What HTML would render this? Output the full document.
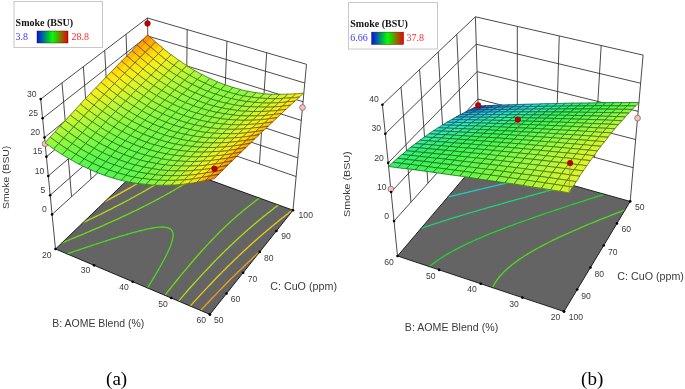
<!DOCTYPE html>
<html><head><meta charset="utf-8"><style>
html,body{margin:0;padding:0;background:#fff;width:685px;height:389px;overflow:hidden}
svg{display:block;will-change:transform}
.t{font-family:"Liberation Sans",sans-serif;fill:#3a3a3a}
.s{font-family:"Liberation Serif",serif}
.m{fill:none;stroke:rgba(5,15,0,0.72);stroke-width:0.65}
</style></head><body>
<svg width="685" height="389" viewBox="0 0 685 389">
<rect width="685" height="389" fill="#fff"/>
<defs>
<linearGradient id="lg" x1="0" x2="1" y1="0" y2="0">
<stop offset="0" stop-color="#0010f0"/><stop offset="0.5" stop-color="#00ff00"/><stop offset="1" stop-color="#f00000"/>
</linearGradient>
</defs>
<g stroke="#2a2a2a" stroke-width="0.85" fill="none"><polyline points="52.08,214.41 149.38,125.96 296.12,176.53"/><polyline points="50.19,195.19 149.05,107.96 297.85,157.83"/><polyline points="48.29,175.97 148.72,89.97 299.58,139.12"/><polyline points="46.39,156.75 148.39,71.98 301.31,120.42"/><polyline points="44.49,137.54 148.06,53.99 303.04,101.71"/><polyline points="42.6,118.32 147.73,35.99 304.77,83.01"/><polyline points="40.7,99.1 147.4,18 306.5,64.3"/><line x1="71.54" y1="196.72" x2="62.04" y2="82.88"/><line x1="91" y1="179.03" x2="83.38" y2="66.66"/><line x1="110.46" y1="161.34" x2="104.72" y2="50.44"/><line x1="129.92" y1="143.65" x2="126.06" y2="34.22"/><line x1="186.07" y1="138.6" x2="187.18" y2="29.57"/><line x1="222.75" y1="151.24" x2="226.95" y2="41.15"/><line x1="259.43" y1="163.89" x2="266.73" y2="52.72"/><line x1="55.5" y1="249" x2="40.7" y2="99.1"/><line x1="149.98" y1="158.34" x2="147.4" y2="18"/><line x1="293" y1="210.2" x2="306.5" y2="64.3"/></g>
<polygon points="55.5,249 209.9,314.4 293,210.2 149.98,158.34" fill="#646464" stroke="none"/>
<path d="M67 253.9 68.8 253.3 70.5 252.7 72.2 252.1 73.5 251.7 74.8 251.2 76.5 250.7 77.7 250.3 79.1 249.8 80.8 249.2 82.6 248.6 83.9 248.2 85.2 247.7 86.9 247.1 88.7 246.6 90 246.1 91.3 245.7 93.1 245.1 94.8 244.5 96.1 244.1 97.5 243.6 99.2 243.1 101 242.5 102.8 241.9 104 241.5 105.4 241 107.2 240.5 109 239.9 110.8 239.3 112.6 238.7 114.4 238.2 115.7 237.8 117.2 237.3 119 236.7 120.9 236.2 122.7 235.6 124.6 235.1 126.4 234.5 128.3 234 130.2 233.4 132.1 232.9 134.1 232.3 135.9 231.8 137.6 231.4 139 231 141 230.5 142.8 230.1 144 229.8 146.1 229.3 147.7 228.9 149.3 228.6 150.9 228.3 152.4 228 153.9 227.8 155.1 227.6 156.4 227.4 157.7 227.3 159 227.2 160.4 227.1 162 227 163.6 227.1 165.9 227.3 168 227.8 169.8 228.6 171.2 229.7 172.2 231.1 172.7 232.3 173 234 173.1 235.4 173 236.7 172.8 237.9 172.6 239.2 172.3 240.4 172 241.6 171.6 242.8 171.2 243.9 170.8 245.1 170.4 246.3 169.9 247.4 169.4 248.5 168.9 249.7 168.4 250.8 167.9 251.9 167.4 253.1 166.8 254.2 166.3 255.3 165.7 256.4 165.1 257.5 164.6 258.6 164 259.7 163.4 260.8 162.8 261.9 162.2 263 161.6 264.1 161 265.2 160.4 266.3 159.8 267.4 159.1 268.5 158.5 269.6 157.9 270.7 157.3 271.7 156.6 272.8 156 273.9 155.3 275 154.7 276.1 154.1 277.1 153.4 278.2 152.7 279.3 152.1 280.4 151.4 281.5 150.8 282.6 150.1 283.6 149.4 284.7 148.8 285.8 148.1 286.9 147.4 287.9" stroke="#4bd920" stroke-width="1.3" fill="none" stroke-linecap="round" stroke-linejoin="round"/>
<path d="M197.2 175.5 196 176.3 194.7 177.1 193.5 178 192.3 178.8 191.1 179.6 189.8 180.4 188.5 181.3 187.2 182.1 185.9 182.9 184.7 183.7 183.4 184.5 182.1 185.3 180.8 186.1 179.5 186.9 178.1 187.7 176.8 188.5 175.5 189.3 174.2 190.1 173 190.8 171.5 191.6 170.2 192.4 168.7 193.2 167.4 193.9 166 194.7 164.7 195.5 163.2 196.3 162 196.9 160.5 197.8 159.4 198.4 157.6 199.3 156.2 200 154.8 200.8 153.4 201.5 152 202.3 150.5 203 149.1 203.8 147.7 204.5 146.5 205.1 144.8 206 143.3 206.7 141.9 207.4 140.4 208.1 138.9 208.9 137.5 209.6 136 210.3 134.5 211 133 211.7 131.6 212.4 130.1 213.2 128.6 213.9 127.1 214.6 125.6 215.3 124.2 215.9 122.6 216.7 121.1 217.4 119.6 218.1 118.1 218.8 116.9 219.3 115.8 219.8 114.5 220.4 112.8 221.2 111.2 221.9 109.7 222.5 108.2 223.2 106.6 223.9 105.1 224.6 103.6 225.3 102.5 225.8 101.3 226.3 100.1 226.8 99 227.3 97.7 227.9 95.9 228.6 94.3 229.3 92.9 229.9 91.2 230.6 89.7 231.3 88.1 232 86.6 232.6 85 233.3 83.5 234 81.9 234.6 80.4 235.3 78.8 235.9 77.2 236.6 75.7 237.2 74.1 237.9 72.5 238.5 71.4 239 70.2 239.5 69 240 67.8 240.5 66.6 241 64.7 241.8 63.1 242.4 61.8 243M164.9 295.3 165.7 294.3 166.5 293.3 167.3 292.2 168.1 291.2 168.9 290.2 169.7 289.2 170.6 288.2 171.4 287.1 172.2 286.1 173 285.1 173.8 284.1 174.6 283 175.5 282 176.3 281 177.1 280 177.9 279 178.8 278 179.6 276.9 180.4 275.9 181.3 274.9 182.1 273.9 182.9 272.9 183.8 271.9 184.6 270.9 185.5 269.9 186.3 268.8 187.2 267.8 188 266.8 188.9 265.8 189.7 264.8 190.6 263.8 191.4 262.8 192.3 261.8 193.2 260.8 194 259.8 194.9 258.8 195.8 257.8 196.6 256.8 197.5 255.8 198.4 254.8 199.3 253.8 200.1 252.8 201 251.8 201.9 250.8 202.8 249.8 203.7 248.9 204.6 247.9 205.5 246.9 206.4 245.9 207.3 244.9 208.3 243.9 209.2 242.9 210.1 242 211 241 211.9 240 212.9 239 213.8 238.1 214.8 237.1 215.7 236.1 216.7 235.1 217.6 234.2 218.6 233.2 219.5 232.3 220.5 231.3 221.5 230.3 222.5 229.4 223.4 228.4 224.4 227.5 225.4 226.5 226.4 225.6 227.4 224.6 228.4 223.7 229.5 222.7 230.5 221.8 231.5 220.8 232.5 219.9 233.6 219 234.6 218 235.7 217.1 236.7 216.2 237.8 215.2 238.9 214.3 240 213.4 241.1 212.5 242.1 211.5 243.3 210.6 244.4 209.7 245.5 208.8 246.6 207.9 247.7 207 248.9 206.1 250 205.2 251.2 204.3 252.3 203.4 253.5 202.5 254.7 201.6 255.8 200.7 257 199.8 258 199.1 259.4 198" stroke="#6ddc14" stroke-width="1.3" fill="none" stroke-linecap="round" stroke-linejoin="round"/>
<path d="M179.9 169.2 178.7 170 177.4 170.8 176.2 171.7 175 172.5 173.7 173.3 172.5 174.1 171.3 174.8 169.9 175.7 168.7 176.5 167.4 177.3 166.1 178.1 164.8 178.9 163.6 179.7 162.3 180.5 161 181.3 159.7 182.1 158.4 182.9 157.1 183.7 155.8 184.5 154.5 185.3 153.1 186 151.8 186.8 150.5 187.6 149.2 188.3 147.8 189.1 146.5 189.9 145.1 190.7 143.8 191.4 142.4 192.2 141.1 193 139.7 193.7 138.4 194.5 137 195.2 135.6 196 134.6 196.6 132.9 197.5 131.7 198.1 130.1 199 128.9 199.7 127.4 200.5 126.1 201.2 124.6 202 123.3 202.6 121.8 203.5 120.5 204.1 119 204.9 117.8 205.5 116.1 206.4 115 206.9 113.3 207.8 111.9 208.6 110.5 209.3 109 210 107.6 210.7 106.2 211.4 104.7 212.2 103.3 212.9 101.8 213.6 100.4 214.3 98.9 215 97.5 215.7 96.2 216.3 94.6 217.1 93.1 217.8 91.7 218.5 90.2 219.2 88.7 219.9 87.3 220.6 85.8 221.3 84.3 222 83 222.6M178.5 301.1 179.4 300.1 180.3 299.1 181.1 298.1 182 297.1 182.9 296.1 183.7 295.1 184.6 294.1 185.5 293.1 186.4 292 187.3 291 188.1 290 189 289 189.9 288 190.8 287 191.7 286 192.6 285 193.5 284 194.4 283 195.3 282 196.2 281.1 197.1 280.1 198 279.1 198.9 278.1 199.8 277.1 200.7 276.1 201.6 275.1 202.5 274.1 203.5 273.1 204.4 272.1 205.3 271.1 206.2 270.2 207.2 269.2 208.1 268.2 209 267.2 210 266.2 210.9 265.2 211.8 264.3 212.8 263.3 213.7 262.3 214.7 261.3 215.6 260.4 216.6 259.4 217.5 258.4 218.5 257.4 219.5 256.5 220.4 255.5 221.4 254.5 222.4 253.5 223.4 252.6 224.3 251.6 225.3 250.6 226.3 249.7 227.3 248.7 228.3 247.8 229.3 246.8 230.3 245.8 231.3 244.9 232.3 243.9 233.3 243 234.3 242 235.4 241.1 236.4 240.1 237.4 239.2 238.4 238.2 239.5 237.3 240.5 236.3 241.6 235.4 242.6 234.4 243.7 233.5 244.7 232.5 245.8 231.6 246.8 230.7 247.9 229.7 249 228.8 250.1 227.9 251.1 226.9 252.2 226 253.3 225.1 254.4 224.1 255.5 223.2 256.6 222.3 257.7 221.3 258.8 220.4 259.9 219.5 261.1 218.6 262.2 217.7 263.3 216.7 264.5 215.8 265.6 214.9 266.7 214 267.9 213.1 269.1 212.2 270.2 211.3 271.4 210.4 272.5 209.4 273.7 208.5 274.9 207.6 276.1 206.7 277.3 205.8 278.5 204.9" stroke="#b2db14" stroke-width="1.3" fill="none" stroke-linecap="round" stroke-linejoin="round"/>
<path d="M167.7 164.8 166.4 165.6 165.2 166.4 163.9 167.2 162.7 168 161.4 168.8 160.2 169.6 158.9 170.4 157.9 171.1 156.4 172 155.1 172.8 153.9 173.6 152.6 174.4 151.3 175.2 150 176 148.7 176.8 147.4 177.5 146.1 178.3 144.8 179.1 143.5 179.9 142.2 180.7 140.9 181.4 139.6 182.2 138.3 183 137 183.8 135.7 184.5 134.3 185.3 133 186.1 131.9 186.7 130.4 187.6 129 188.4 127.7 189.1 126.3 189.9 125 190.6 123.7 191.4 122.3 192.1 120.9 192.9 119.7 193.6 118.2 194.4 116.9 195.1 115.5 195.9 114.1 196.6 112.8 197.4 111.4 198.1 110 198.9 108.6 199.6 107.3 200.3 105.9 201.1 104.9 201.6M190.2 306.1 191.1 305.1 192 304.1 192.9 303.1 193.8 302.1 194.7 301.1 195.6 300.1 196.5 299.1 197.5 298.1 198.4 297.1 199.3 296.1 200.2 295.1 201.1 294.1 202 293.1 203 292.1 203.9 291.1 204.8 290.1 205.7 289.1 206.7 288.1 207.6 287.1 208.5 286.1 209.5 285.2 210.4 284.2 211.4 283.2 212.3 282.2 213.2 281.2 214.2 280.2 215.1 279.3 216.1 278.3 217 277.3 218 276.3 219 275.3 219.9 274.3 220.9 273.4 221.9 272.4 222.8 271.4 223.8 270.4 224.8 269.5 225.8 268.5 226.7 267.5 227.7 266.5 228.7 265.6 229.7 264.6 230.7 263.6 231.7 262.7 232.7 261.7 233.7 260.7 234.7 259.8 235.7 258.8 236.6 257.9 237.7 256.9 238.7 255.9 239.7 254.9 240.7 254 241.8 253 242.8 252.1 243.8 251.1 244.8 250.2 245.9 249.2 246.9 248.3 248 247.3 249 246.3 250 245.4 251.1 244.4 252.1 243.5 253.2 242.5 254.3 241.6 255.3 240.7 256.4 239.7 257.5 238.8 258.5 237.8 259.6 236.9 260.7 235.9 261.8 235 262.9 234.1 264 233.1 265.1 232.2 266.2 231.2 267.3 230.3 268.4 229.4 269.5 228.4 270.6 227.5 271.6 226.6 272.8 225.7 274 224.7 275.1 223.8 276.2 222.9 277.4 222 278.5 221 279.6 220.1 280.8 219.2 281.8 218.3 283.1 217.3 284.3 216.4 285.4 215.5 286.6 214.6 287.8 213.7 288.9 212.8 290.1 211.8 291.2 211 292.5 210" stroke="#e8cc14" stroke-width="1.3" fill="none" stroke-linecap="round" stroke-linejoin="round"/>
<path d="M157.7 161.1 156.4 161.9 155.4 162.6 154 163.5 152.7 164.3 151.4 165.1 150.2 165.9 148.9 166.7 147.7 167.5 146.4 168.3 145.1 169.1 143.8 169.9 142.6 170.7 141.4 171.4 140 172.2 138.7 173 137.4 173.8 136.1 174.6 134.8 175.4 133.5 176.1 132.2 176.9 130.9 177.7 129.6 178.5 128.3 179.2 128 179.4M200.7 310.5 201.6 309.5 202.5 308.5 203.4 307.5 204.3 306.5 205.3 305.5 206.2 304.5 207.1 303.5 208.1 302.5 209 301.5 209.9 300.5 210.9 299.5 211.8 298.5 212.8 297.5 213.7 296.6 214.6 295.6 215.6 294.6 216.5 293.6 217.5 292.6 218.5 291.6 219.4 290.6 220.4 289.6 221.3 288.7 222.3 287.7 223.3 286.7 224.2 285.7 225.2 284.7 226.2 283.7 227.1 282.8 228.1 281.8 229.1 280.8 230.1 279.8 231 278.8 232 277.9 233 276.9 234 275.9 235 274.9 236 274 237 273 238 272 239 271.1 240 270.1 241 269.1 242 268.1 243 267.2 244 266.2 245 265.2 246.1 264.3 247.1 263.3 248.1 262.3 249.1 261.4 250.2 260.4 251.2 259.5 252.2 258.5 253.3 257.5 254.3 256.6 255.3 255.6 256.4 254.7 257.4 253.7 258.5 252.7 259.5 251.8 260.6 250.8" stroke="#efa014" stroke-width="1.3" fill="none" stroke-linecap="round" stroke-linejoin="round"/>
<polygon points="55.5,249 209.9,314.4 293,210.2 149.98,158.34" fill="none" stroke="#111" stroke-width="0.9"/>
<circle cx="45.1" cy="143.69" r="2.9" fill="#f8c0c0" stroke="#6a4545" stroke-width="0.6"/>
<circle cx="302.5" cy="107.51" r="2.9" fill="#f8c0c0" stroke="#6a4545" stroke-width="0.6"/>
<g fill="currentColor" stroke="currentColor" stroke-width="0.6" stroke-linejoin="round"><path color="#ff9302" d="M142.5 40.1l4 3.6 2.6-2.6-4-3.6z"/><path color="#ff8d02" d="M145.1 37.5l4 3.6 2.6-2.6-4-3.6z"/><path color="#ffad05" d="M146.5 43.7l4 3.5 2.6-2.6-4-3.5z"/><path color="#ffa804" d="M149.1 41.1l4 3.5 2.6-2.6-4-3.5z"/><path class="m" d="M142.5 40.1l4 3.6 4 3.5 2.6-2.6 2.6-2.6-4-3.5-4-3.6-2.6 2.6z"/><path color="#ff9f03" d="M137.2 45.3l4 3.6 2.6-2.6-4-3.6z"/><path color="#ff9903" d="M139.9 42.7l4 3.6 2.6-2.6-4-3.6z"/><path color="#ffb806" d="M141.3 48.9l4 3.4 2.6-2.6-4-3.5z"/><path color="#ffb206" d="M143.9 46.3l4 3.5 2.6-2.6-4-3.5z"/><path class="m" d="M137.2 45.3l4 3.6 4 3.4 2.6-2.6 2.6-2.6-4-3.5-4-3.6-2.6 2.6z"/><path color="#ffc408" d="M150.4 47.1l4 3.4 2.6-2.6-3.9-3.4z"/><path color="#ffbf07" d="M153 44.6l3.9 3.4 2.6-2.6-3.9-3.4z"/><path color="#ffda0b" d="M154.4 50.5l3.9 3.2 2.6-2.5-3.9-3.2z"/><path color="#ffd50b" d="M157 47.9l3.9 3.2 2.6-2.5-3.9-3.3z"/><path class="m" d="M150.4 47.1l4 3.4 3.9 3.2 2.6-2.5 2.6-2.5-3.9-3.3-3.9-3.4-2.6 2.6z"/><path color="#ffab05" d="M132 50.5l4 3.5 2.6-2.6-4-3.6z"/><path color="#ffa504" d="M134.6 47.9l4 3.6 2.6-2.6-4-3.6z"/><path color="#ffc208" d="M136.1 54.1l4 3.4 2.6-2.6-4-3.4z"/><path color="#ffbd07" d="M138.7 51.5l4 3.4 2.6-2.6-4-3.4z"/><path class="m" d="M132 50.5l4 3.5 4 3.4 2.6-2.6 2.6-2.6-4-3.4-4-3.6-2.6 2.6z"/><path color="#ffce0a" d="M145.3 52.3l4 3.3 2.6-2.6-4-3.3z"/><path color="#ffc909" d="M147.8 49.7l4 3.3 2.6-2.6-4-3.4z"/><path color="#fee10e" d="M149.2 55.6l4 3.2 2.6-2.6-4-3.2z"/><path color="#ffde0c" d="M151.8 53.1l4 3.2 2.6-2.6-3.9-3.2z"/><path class="m" d="M145.3 52.3l4 3.3 4 3.2 2.6-2.6 2.6-2.6-3.9-3.2-4-3.4-2.6 2.6z"/><path color="#fbe612" d="M158.3 53.7l3.9 3.1 2.6-2.5-3.9-3.1z"/><path color="#fce410" d="M160.9 51.2l3.9 3.1 2.6-2.5-3.9-3.1z"/><path color="#f5ef18" d="M162.3 56.8l3.9 3 2.5-2.5-3.9-3z"/><path color="#f7ed17" d="M164.8 54.3l3.9 3 2.5-2.5-3.9-3z"/><path class="m" d="M158.3 53.7l3.9 3.1 3.9 3 2.5-2.5 2.5-2.5-3.9-3-3.9-3.1-2.6 2.5z"/><path color="#ffd80b" d="M140.1 57.5l4 3.3 2.6-2.6-4-3.3z"/><path color="#ffd30a" d="M142.7 54.9l4 3.3 2.6-2.6-4-3.3z"/><path color="#fbe511" d="M144.1 60.8l4 3.2 2.6-2.6-4-3.2z"/><path color="#fce310" d="M146.7 58.2l4 3.2 2.6-2.6-4-3.2z"/><path class="m" d="M140.1 57.5l4 3.3 4 3.2 2.6-2.6 2.6-2.6-4-3.2-4-3.3-2.6 2.6z"/><path color="#f8ea15" d="M153.2 58.8l4 3.1 2.6-2.5-3.9-3.1z"/><path color="#f9e813" d="M155.8 56.3l3.9 3.1 2.6-2.5-3.9-3.1z"/><path color="#f1f11b" d="M157.2 61.9l3.9 3 2.5-2.5-3.9-3z"/><path color="#f3f01a" d="M159.7 59.4l3.9 3 2.5-2.5-3.9-3z"/><path class="m" d="M153.2 58.8l4 3.1 3.9 3 2.5-2.5 2.5-2.5-3.9-3-3.9-3.1-2.6 2.6z"/><path color="#ffb606" d="M126.8 55.8l4.1 3.5 2.6-2.6-4.1-3.5z"/><path color="#ffb105" d="M129.4 53.1l4.1 3.5 2.6-2.6-4-3.5z"/><path color="#ffcd0a" d="M130.9 59.3l4 3.4 2.6-2.6-4-3.4z"/><path color="#ffc809" d="M133.5 56.7l4 3.4 2.6-2.6-4-3.4z"/><path class="m" d="M126.8 55.8l4.1 3.5 4 3.4 2.6-2.6 2.6-2.6-4-3.4-4-3.5-2.6 2.6z"/><path color="#ebf21e" d="M166.2 59.8l3.9 2.9 2.5-2.5-3.9-2.9z"/><path color="#edf11d" d="M168.8 57.3l3.9 2.9 2.5-2.5-3.9-2.9z"/><path color="#e0f323" d="M170.1 62.7l3.9 2.7 2.5-2.5-3.9-2.8z"/><path color="#e2f322" d="M172.7 60.2l3.9 2.8 2.5-2.5-3.9-2.8z"/><path class="m" d="M166.2 59.8l3.9 2.9 3.9 2.7 2.5-2.5 2.5-2.5-3.9-2.8-3.9-2.9-2.5 2.5z"/><path color="#ffc208" d="M121.6 61.1l4.1 3.5 2.6-2.6-4.1-3.5z"/><path color="#ffbc07" d="M124.2 58.4l4.1 3.5 2.6-2.6-4.1-3.5z"/><path color="#ffd80b" d="M125.7 64.6l4.1 3.4 2.6-2.6-4.1-3.4z"/><path color="#ffd30a" d="M128.3 61.9l4.1 3.4 2.6-2.6-4-3.4z"/><path class="m" d="M121.6 61.1l4.1 3.5 4.1 3.4 2.6-2.6 2.6-2.6-4-3.4-4.1-3.5-2.6 2.6z"/><path color="#fee00e" d="M134.9 62.7l4 3.3 2.6-2.6-4-3.3z"/><path color="#ffde0c" d="M137.5 60.1l4 3.3 2.6-2.6-4-3.3z"/><path color="#f8ea15" d="M139 66l4 3.2 2.6-2.6-4-3.2z"/><path color="#fae813" d="M141.5 63.4l4 3.2 2.6-2.6-4-3.2z"/><path class="m" d="M134.9 62.7l4 3.3 4 3.2 2.6-2.6 2.6-2.6-4-3.2-4-3.3-2.6 2.6z"/><path color="#f6ef18" d="M148.1 64l4 3.1 2.6-2.6-4-3.1z"/><path color="#f7ec16" d="M150.7 61.4l4 3.1 2.6-2.6-4-3.1z"/><path color="#ebf21e" d="M152.1 67l4 2.9 2.5-2.5-4-2.9z"/><path color="#eef11c" d="M154.6 64.5l4 2.9 2.5-2.5-3.9-3z"/><path class="m" d="M148.1 64l4 3.1 4 2.9 2.5-2.5 2.5-2.5-3.9-3-4-3.1-2.6 2.6z"/><path color="#e6f321" d="M161.1 64.9l3.9 2.8 2.5-2.5-3.9-2.9z"/><path color="#e8f21f" d="M163.7 62.3l3.9 2.9 2.5-2.5-3.9-2.9z"/><path color="#dbf426" d="M165.1 67.7l3.9 2.7 2.5-2.5-3.9-2.7z"/><path color="#def425" d="M167.6 65.2l3.9 2.7 2.5-2.5-3.9-2.7z"/><path class="m" d="M161.1 64.9l3.9 2.8 3.9 2.7 2.5-2.5 2.5-2.5-3.9-2.7-3.9-2.9-2.5 2.5z"/><path color="#d6f528" d="M174 65.4l3.9 2.6 2.5-2.5-3.9-2.6z"/><path color="#d8f527" d="M176.5 62.9l3.9 2.6 2.5-2.5-3.9-2.7z"/><path color="#caf62d" d="M177.9 68.1l3.9 2.5 2.5-2.5-3.9-2.5z"/><path color="#ccf62c" d="M180.4 65.6l3.9 2.5 2.5-2.5-3.9-2.5z"/><path class="m" d="M174 65.4l3.9 2.6 3.9 2.5 2.5-2.5 2.5-2.5-3.9-2.5-3.9-2.7-2.5 2.5z"/><path color="#fbe511" d="M129.8 67.9l4.1 3.2 2.6-2.6-4-3.3z"/><path color="#fce30f" d="M132.4 65.3l4 3.3 2.6-2.6-4-3.3z"/><path color="#f6ef18" d="M133.8 71.2l4 3.1 2.6-2.6-4-3.1z"/><path color="#f7ec16" d="M136.4 68.6l4 3.1 2.6-2.6-4-3.2z"/><path class="m" d="M129.8 67.9l4.1 3.2 4 3.1 2.6-2.6 2.6-2.6-4-3.2-4-3.3-2.6 2.6z"/><path color="#d0f62b" d="M169 70.4l3.9 2.6 2.5-2.5-3.9-2.6z"/><path color="#d3f529" d="M171.5 67.9l3.9 2.6 2.5-2.5-3.9-2.6z"/><path color="#c4f62f" d="M172.9 73l3.9 2.5 2.5-2.5-3.9-2.5z"/><path color="#c7f62e" d="M175.4 70.6l3.9 2.5 2.5-2.5-3.9-2.5z"/><path class="m" d="M169 70.4l3.9 2.6 3.9 2.5 2.5-2.5 2.5-2.5-3.9-2.5-3.9-2.6-2.5 2.5z"/><path color="#ffce0a" d="M116.4 66.4l4.1 3.5 2.6-2.6-4.1-3.5z"/><path color="#ffc809" d="M119 63.7l4.1 3.5 2.6-2.6-4.1-3.5z"/><path color="#fee10e" d="M120.5 69.8l4.1 3.3 2.6-2.6-4.1-3.4z"/><path color="#ffde0c" d="M123.1 67.2l4.1 3.4 2.6-2.6-4.1-3.4z"/><path class="m" d="M116.4 66.4l4.1 3.5 4.1 3.3 2.6-2.6 2.6-2.6-4.1-3.4-4.1-3.5-2.6 2.7z"/><path color="#f1f11b" d="M143 69.1l4 3 2.5-2.6-4-3z"/><path color="#f4f01a" d="M145.5 66.5l4 3 2.5-2.6-4-3.1z"/><path color="#e6f321" d="M147 72.2l4 2.9 2.5-2.6-4-2.9z"/><path color="#e9f21f" d="M149.5 69.6l4 2.9 2.5-2.6-4-2.9z"/><path class="m" d="M143 69.1l4 3 4 2.9 2.5-2.6 2.5-2.6-4-2.9-4-3.1-2.6 2.6z"/><path color="#e1f323" d="M156 70l4 2.8 2.5-2.5-3.9-2.8z"/><path color="#e3f322" d="M158.6 67.4l3.9 2.8 2.5-2.5-3.9-2.8z"/><path color="#d6f528" d="M160 72.8l3.9 2.7 2.5-2.5-3.9-2.7z"/><path color="#d9f527" d="M162.5 70.2l3.9 2.7 2.5-2.5-3.9-2.7z"/><path class="m" d="M156 70l4 2.8 3.9 2.7 2.5-2.5 2.5-2.5-3.9-2.7-3.9-2.8-2.5 2.5z"/><path color="#bff731" d="M181.8 70.6l3.9 2.4 2.5-2.5-3.9-2.4z"/><path color="#c1f730" d="M184.3 68.1l3.9 2.4 2.5-2.4-3.9-2.4z"/><path color="#b5f835" d="M185.7 73l3.9 2.3 2.5-2.4-3.9-2.3z"/><path color="#b7f734" d="M188.2 70.5l3.9 2.3 2.5-2.4-3.9-2.3z"/><path class="m" d="M181.8 70.6l3.9 2.4 3.9 2.3 2.5-2.4 2.5-2.4-3.9-2.3-3.9-2.4-2.5 2.5z"/><path color="#ffda0b" d="M111.3 71.7l4.1 3.5 2.6-2.7-4.1-3.5z"/><path color="#ffd40a" d="M113.8 69l4.1 3.5 2.6-2.6-4.1-3.5z"/><path color="#fbe612" d="M115.4 75.1l4.1 3.3 2.6-2.6-4.1-3.3z"/><path color="#fce310" d="M118 72.5l4.1 3.3 2.6-2.6-4.1-3.3z"/><path class="m" d="M111.3 71.7l4.1 3.5 4.1 3.3 2.6-2.6 2.6-2.6-4.1-3.3-4.1-3.5-2.6 2.7z"/><path color="#f8ea15" d="M124.6 73.2l4.1 3.2 2.6-2.6-4.1-3.2z"/><path color="#fae813" d="M127.2 70.6l4.1 3.2 2.6-2.6-4.1-3.2z"/><path color="#f0f11b" d="M128.7 76.4l4.1 3.1 2.5-2.6-4-3.1z"/><path color="#f3f01a" d="M131.3 73.8l4 3.1 2.6-2.6-4-3.1z"/><path class="m" d="M124.6 73.2l4.1 3.2 4.1 3.1 2.5-2.6 2.6-2.6-4-3.1-4.1-3.2-2.6 2.6z"/><path color="#ebf21e" d="M137.9 74.3l4 3 2.5-2.6-4-3z"/><path color="#eef11d" d="M140.4 71.7l4 3 2.5-2.6-4-3z"/><path color="#e0f323" d="M141.9 77.3l4 2.9 2.5-2.6-4-2.9z"/><path color="#e3f322" d="M144.4 74.7l4 2.9 2.5-2.6-4-2.9z"/><path class="m" d="M137.9 74.3l4 3 4 2.9 2.5-2.6 2.5-2.6-4-2.9-4-3-2.6 2.6z"/><path color="#dbf426" d="M151 75.1l4 2.8 2.5-2.5-4-2.8z"/><path color="#def425" d="M153.5 72.5l4 2.8 2.5-2.5-4-2.8z"/><path color="#d0f62b" d="M154.9 77.9l4 2.7 2.5-2.5-4-2.7z"/><path color="#d3f529" d="M157.5 75.3l4 2.7 2.5-2.5-3.9-2.7z"/><path class="m" d="M151 75.1l4 2.8 4 2.7 2.5-2.5 2.5-2.5-3.9-2.7-4-2.8-2.5 2.6z"/><path color="#caf62d" d="M163.9 75.5l3.9 2.6 2.5-2.5-3.9-2.6z"/><path color="#cdf62c" d="M166.5 73l3.9 2.6 2.5-2.5-3.9-2.6z"/><path color="#bff731" d="M167.9 78.1l3.9 2.5 2.5-2.5-3.9-2.5z"/><path color="#c2f730" d="M170.4 75.5l3.9 2.5 2.5-2.5-3.9-2.5z"/><path class="m" d="M163.9 75.5l3.9 2.6 3.9 2.5 2.5-2.5 2.5-2.5-3.9-2.5-3.9-2.6-2.5 2.5z"/><path color="#baf733" d="M176.8 75.5l3.9 2.4 2.5-2.5-3.9-2.4z"/><path color="#bcf732" d="M179.3 73.1l3.9 2.4 2.5-2.5-3.9-2.4z"/><path color="#b0f837" d="M180.7 77.9l3.9 2.3 2.5-2.5-3.9-2.3z"/><path color="#b3f836" d="M183.2 75.4l3.9 2.3 2.5-2.4-3.9-2.3z"/><path class="m" d="M176.8 75.5l3.9 2.4 3.9 2.3 2.5-2.5 2.5-2.4-3.9-2.3-3.9-2.4-2.5 2.5z"/><path color="#acf838" d="M189.6 75.3l3.9 2.2 2.5-2.4-3.9-2.2z"/><path color="#aef837" d="M192 72.8l3.9 2.2 2.5-2.4-3.8-2.2z"/><path color="#a4f839" d="M193.4 77.4l3.9 2.1 2.5-2.4-3.9-2.1z"/><path color="#a6f839" d="M195.9 75l3.9 2.1 2.5-2.4-3.8-2.1z"/><path class="m" d="M189.6 75.3l3.9 2.2 3.9 2.1 2.5-2.4 2.5-2.4-3.8-2.1-3.8-2.2-2.5 2.4z"/><path color="#fde20f" d="M106.1 77.1l4.1 3.4 2.6-2.7-4.1-3.4z"/><path color="#ffdf0d" d="M108.7 74.4l4.1 3.4 2.6-2.7-4.1-3.5z"/><path color="#f7ec16" d="M110.2 80.5l4.1 3.3 2.6-2.7-4.1-3.3z"/><path color="#f9e914" d="M112.8 77.8l4.1 3.3 2.6-2.6-4.1-3.3z"/><path class="m" d="M106.1 77.1l4.1 3.4 4.1 3.3 2.6-2.7 2.6-2.6-4.1-3.3-4.1-3.5-2.6 2.7z"/><path color="#f5f019" d="M119.5 78.5l4.1 3.2 2.6-2.6-4.1-3.2z"/><path color="#f7ed17" d="M122.1 75.8l4.1 3.2 2.6-2.6-4.1-3.2z"/><path color="#eaf21f" d="M123.6 81.7l4.1 3.1 2.5-2.6-4.1-3.1z"/><path color="#edf11d" d="M126.1 79l4.1 3.1 2.5-2.6-4.1-3.1z"/><path class="m" d="M119.5 78.5l4.1 3.2 4.1 3.1 2.5-2.6 2.5-2.6-4.1-3.1-4.1-3.2-2.6 2.6z"/><path color="#e5f321" d="M132.8 79.5l4 3 2.5-2.6-4-3z"/><path color="#e8f220" d="M135.3 76.9l4 3 2.5-2.6-4-3z"/><path color="#daf426" d="M136.8 82.5l4 2.9 2.5-2.6-4-2.9z"/><path color="#ddf425" d="M139.3 79.9l4 2.9 2.5-2.6-4-2.9z"/><path class="m" d="M132.8 79.5l4 3 4 2.9 2.5-2.6 2.5-2.6-4-2.9-4-3-2.6 2.6z"/><path color="#d6f529" d="M145.9 80.2l4 2.8 2.5-2.6-4-2.8z"/><path color="#d9f527" d="M148.4 77.6l4 2.8 2.5-2.5-4-2.8z"/><path color="#c9f62d" d="M149.9 83l4 2.6 2.5-2.5-4-2.7z"/><path color="#ccf62c" d="M152.4 80.4l4 2.7 2.5-2.5-4-2.7z"/><path class="m" d="M145.9 80.2l4 2.8 4 2.6 2.5-2.5 2.5-2.5-4-2.7-4-2.8-2.5 2.6z"/><path color="#c4f62f" d="M158.9 80.5l4 2.6 2.5-2.5-3.9-2.6z"/><path color="#c7f62e" d="M161.4 78l3.9 2.6 2.5-2.5-3.9-2.6z"/><path color="#b9f733" d="M162.9 83.1l3.9 2.4 2.5-2.5-3.9-2.4z"/><path color="#bcf732" d="M165.4 80.6l3.9 2.4 2.5-2.5-3.9-2.5z"/><path class="m" d="M158.9 80.5l4 2.6 3.9 2.4 2.5-2.5 2.5-2.5-3.9-2.5-3.9-2.6-2.5 2.5z"/><path color="#b5f835" d="M171.8 80.5l3.9 2.3 2.5-2.5-3.9-2.4z"/><path color="#b7f734" d="M174.3 78l3.9 2.4 2.5-2.5-3.9-2.4z"/><path color="#acf838" d="M175.7 82.9l3.9 2.2 2.5-2.5-3.9-2.2z"/><path color="#aef837" d="M178.2 80.4l3.9 2.2 2.5-2.5-3.9-2.3z"/><path class="m" d="M171.8 80.5l3.9 2.3 3.9 2.2 2.5-2.5 2.5-2.5-3.9-2.3-3.9-2.4-2.5 2.5z"/><path color="#a8f839" d="M184.6 80.2l3.9 2.1 2.5-2.4-3.9-2.2z"/><path color="#aaf838" d="M187.1 77.7l3.9 2.2 2.5-2.4-3.9-2.2z"/><path color="#a1f93a" d="M188.5 82.3l3.9 2 2.5-2.4-3.9-2z"/><path color="#a3f93a" d="M191 79.9l3.9 2 2.5-2.4-3.9-2.1z"/><path class="m" d="M184.6 80.2l3.9 2.1 3.9 2 2.5-2.4 2.5-2.4-3.9-2.1-3.9-2.2-2.5 2.4z"/><path color="#9ef93b" d="M197.3 79.5l3.9 1.9 2.5-2.4-3.9-2z"/><path color="#9ff93a" d="M199.8 77.1l3.9 2 2.5-2.4-3.8-2z"/><path color="#98f93c" d="M201.2 81.4l3.9 1.8 2.4-2.4-3.9-1.9z"/><path color="#99f93c" d="M203.6 79l3.9 1.9 2.4-2.4-3.8-1.9z"/><path class="m" d="M197.3 79.5l3.9 1.9 3.9 1.8 2.4-2.4 2.4-2.4-3.8-1.9-3.8-2-2.5 2.4z"/><path color="#eff11c" d="M114.4 83.8l4.1 3.2 2.6-2.6-4.1-3.2z"/><path color="#f2f01a" d="M116.9 81.1l4.1 3.2 2.6-2.6-4.1-3.2z"/><path color="#e3f322" d="M118.5 87l4.1 3.1 2.5-2.6-4.1-3.1z"/><path color="#e6f220" d="M121 84.3l4.1 3.1 2.5-2.6-4.1-3.1z"/><path class="m" d="M114.4 83.8l4.1 3.2 4.1 3.1 2.5-2.6 2.5-2.6-4.1-3.1-4.1-3.2-2.6 2.6z"/><path color="#dff424" d="M127.7 84.7l4.1 3 2.5-2.6-4.1-3z"/><path color="#e2f323" d="M130.2 82.1l4.1 3 2.5-2.6-4-3z"/><path color="#d3f529" d="M131.7 87.7l4 2.8 2.5-2.6-4-2.8z"/><path color="#d7f528" d="M134.3 85.1l4 2.8 2.5-2.6-4-2.9z"/><path class="m" d="M127.7 84.7l4.1 3 4 2.8 2.5-2.6 2.5-2.6-4-2.9-4-3-2.5 2.6z"/><path color="#bef731" d="M153.9 85.6l4 2.5 2.5-2.5-4-2.5z"/><path color="#c1f730" d="M156.4 83.1l4 2.5 2.5-2.5-4-2.6z"/><path color="#b3f835" d="M157.9 88.1l4 2.4 2.5-2.5-4-2.4z"/><path color="#b6f734" d="M160.4 85.6l4 2.4 2.5-2.5-3.9-2.4z"/><path class="m" d="M153.9 85.6l4 2.5 4 2.4 2.5-2.5 2.5-2.5-3.9-2.4-4-2.6-2.5 2.5z"/><path color="#a4f839" d="M179.6 85.1l3.9 2.1 2.5-2.5-3.9-2.1z"/><path color="#a6f839" d="M182.1 82.6l3.9 2.1 2.5-2.4-3.9-2.1z"/><path color="#9ef93b" d="M183.5 87.2l3.9 2 2.5-2.4-3.9-2z"/><path color="#9ff93a" d="M186 84.8l3.9 2 2.5-2.4-3.9-2z"/><path class="m" d="M179.6 85.1l3.9 2.1 3.9 2 2.5-2.4 2.5-2.4-3.9-2-3.9-2.1-2.5 2.5z"/><path color="#9bf93b" d="M192.4 84.3l3.9 1.9 2.5-2.4-3.9-1.9z"/><path color="#9cf93b" d="M194.8 81.9l3.9 1.9 2.5-2.4-3.9-1.9z"/><path color="#96f93d" d="M196.3 86.3l3.9 1.8 2.4-2.4-3.9-1.8z"/><path color="#97f93c" d="M198.7 83.8l3.9 1.8 2.4-2.4-3.9-1.8z"/><path class="m" d="M192.4 84.3l3.9 1.9 3.9 1.8 2.4-2.4 2.4-2.4-3.9-1.8-3.9-1.9-2.5 2.4z"/><path color="#fae713" d="M100.9 82.4l4.2 3.4 2.6-2.7-4.2-3.4z"/><path color="#fbe511" d="M103.5 79.7l4.2 3.4 2.6-2.7-4.1-3.4z"/><path color="#f3f01a" d="M105.1 85.8l4.1 3.3 2.6-2.7-4.1-3.3z"/><path color="#f6ee18" d="M107.7 83.1l4.1 3.3 2.6-2.7-4.1-3.3z"/><path class="m" d="M100.9 82.4l4.2 3.4 4.1 3.3 2.6-2.7 2.6-2.7-4.1-3.3-4.1-3.4-2.6 2.7z"/><path color="#cef62b" d="M140.8 85.4l4 2.7 2.5-2.6-4-2.7z"/><path color="#d2f52a" d="M143.4 82.8l4 2.7 2.5-2.6-4-2.8z"/><path color="#c2f730" d="M144.8 88.1l4 2.6 2.5-2.6-4-2.6z"/><path color="#c6f62f" d="M147.4 85.5l4 2.6 2.5-2.5-4-2.6z"/><path class="m" d="M140.8 85.4l4 2.7 4 2.6 2.5-2.6 2.5-2.5-4-2.6-4-2.8-2.5 2.6z"/><path color="#aff837" d="M166.8 85.5l3.9 2.3 2.5-2.5-3.9-2.3z"/><path color="#b2f836" d="M169.3 83l3.9 2.3 2.5-2.5-3.9-2.3z"/><path color="#a7f839" d="M170.7 87.8l3.9 2.2 2.5-2.5-3.9-2.2z"/><path color="#aaf838" d="M173.2 85.3l3.9 2.2 2.5-2.5-3.9-2.2z"/><path class="m" d="M166.8 85.5l3.9 2.3 3.9 2.2 2.5-2.5 2.5-2.5-3.9-2.2-3.9-2.3-2.5 2.5z"/><path color="#94f93d" d="M205 83.3l3.9 1.7 2.4-2.4-3.9-1.7z"/><path color="#95f93d" d="M207.5 80.9l3.9 1.7 2.4-2.4-3.8-1.8z"/><path color="#90f93e" d="M208.9 85l3.9 1.6 2.4-2.4-3.9-1.6z"/><path color="#91f93e" d="M211.3 82.6l3.9 1.6 2.4-2.3-3.8-1.6z"/><path class="m" d="M205 83.3l3.9 1.7 3.9 1.6 2.4-2.4 2.4-2.3-3.8-1.6-3.8-1.8-2.4 2.4z"/><path color="#f6ed17" d="M95.8 87.8l4.2 3.4 2.6-2.7-4.2-3.4z"/><path color="#f8ea15" d="M98.4 85.1l4.2 3.4 2.6-2.7-4.2-3.4z"/><path color="#ecf21e" d="M100 91.2l4.2 3.2 2.6-2.7-4.2-3.3z"/><path color="#f0f11c" d="M102.6 88.5l4.2 3.3 2.6-2.7-4.1-3.3z"/><path class="m" d="M95.8 87.8l4.2 3.4 4.2 3.2 2.6-2.7 2.6-2.7-4.1-3.3-4.2-3.4-2.6 2.7z"/><path color="#e7f220" d="M109.3 89.1l4.1 3.1 2.5-2.7-4.1-3.2z"/><path color="#ebf21e" d="M111.8 86.4l4.1 3.2 2.5-2.6-4.1-3.2z"/><path color="#dcf425" d="M113.4 92.2l4.1 3 2.5-2.6-4.1-3z"/><path color="#e0f424" d="M115.9 89.6l4.1 3 2.5-2.6-4.1-3.1z"/><path class="m" d="M109.3 89.1l4.1 3.1 4.1 3 2.5-2.6 2.5-2.6-4.1-3.1-4.1-3.2-2.6 2.7z"/><path color="#d8f527" d="M122.6 90l4.1 2.9 2.5-2.6-4.1-2.9z"/><path color="#dbf426" d="M125.1 87.4l4.1 2.9 2.5-2.6-4.1-3z"/><path color="#cbf62c" d="M126.7 92.9l4.1 2.8 2.5-2.6-4.1-2.8z"/><path color="#cff62b" d="M129.2 90.3l4.1 2.8 2.5-2.6-4-2.8z"/><path class="m" d="M122.6 90l4.1 2.9 4.1 2.8 2.5-2.6 2.5-2.6-4-2.8-4.1-3-2.5 2.6z"/><path color="#c7f62e" d="M135.8 90.5l4 2.7 2.5-2.6-4-2.7z"/><path color="#caf62d" d="M138.3 87.9l4 2.7 2.5-2.6-4-2.7z"/><path color="#bbf732" d="M139.8 93.2l4 2.6 2.5-2.6-4-2.6z"/><path color="#bff731" d="M142.3 90.7l4 2.6 2.5-2.6-4-2.6z"/><path class="m" d="M135.8 90.5l4 2.7 4 2.6 2.5-2.6 2.5-2.6-4-2.6-4-2.7-2.5 2.6z"/><path color="#b7f734" d="M148.9 90.7l4 2.5 2.5-2.5-4-2.5z"/><path color="#baf733" d="M151.4 88.2l4 2.5 2.5-2.5-4-2.5z"/><path color="#adf837" d="M152.8 93.2l4 2.4 2.5-2.5-4-2.4z"/><path color="#b0f836" d="M155.3 90.7l4 2.4 2.5-2.5-4-2.4z"/><path class="m" d="M148.9 90.7l4 2.5 4 2.4 2.5-2.5 2.5-2.5-4-2.4-4-2.5-2.5 2.5z"/><path color="#aaf838" d="M161.8 90.5l4 2.3 2.5-2.5-4-2.3z"/><path color="#adf837" d="M164.3 88l4 2.3 2.5-2.5-3.9-2.3z"/><path color="#a3f93a" d="M165.8 92.8l4 2.2 2.5-2.5-3.9-2.2z"/><path color="#a5f839" d="M168.3 90.3l3.9 2.2 2.5-2.5-3.9-2.2z"/><path class="m" d="M161.8 90.5l4 2.3 4 2.2 2.5-2.5 2.5-2.5-3.9-2.2-3.9-2.3-2.5 2.5z"/><path color="#a0f93a" d="M174.7 90l3.9 2.1 2.5-2.5-3.9-2.1z"/><path color="#a2f93a" d="M177.2 87.6l3.9 2.1 2.5-2.5-3.9-2.1z"/><path color="#9af93c" d="M178.6 92.1l3.9 2 2.5-2.4-3.9-2z"/><path color="#9cf93b" d="M181.1 89.7l3.9 2 2.5-2.4-3.9-2z"/><path class="m" d="M174.7 90l3.9 2.1 3.9 2 2.5-2.4 2.5-2.4-3.9-2-3.9-2.1-2.5 2.5z"/><path color="#98f93c" d="M187.5 89.2l3.9 1.9 2.4-2.4-3.9-1.9z"/><path color="#99f93c" d="M189.9 86.8l3.9 1.9 2.4-2.4-3.9-1.9z"/><path color="#93f93d" d="M191.4 91.1l3.9 1.8 2.4-2.4-3.9-1.8z"/><path color="#94f93d" d="M193.8 88.7l3.9 1.8 2.4-2.4-3.9-1.8z"/><path class="m" d="M187.5 89.2l3.9 1.9 3.9 1.8 2.4-2.4 2.4-2.4-3.9-1.8-3.9-1.9-2.5 2.4z"/><path color="#91f93e" d="M200.1 88.1l3.9 1.7 2.4-2.4-3.9-1.7z"/><path color="#92f93d" d="M202.6 85.7l3.9 1.7 2.4-2.4-3.9-1.7z"/><path color="#8ef93e" d="M204 89.8l3.9 1.6 2.4-2.4-3.9-1.6z"/><path color="#8ff93e" d="M206.5 87.4l3.9 1.6 2.4-2.4-3.9-1.6z"/><path class="m" d="M200.1 88.1l3.9 1.7 3.9 1.6 2.4-2.4 2.4-2.4-3.9-1.6-3.9-1.7-2.4 2.4z"/><path color="#8dfa3f" d="M212.7 86.6l3.9 1.5 2.4-2.3-3.9-1.5z"/><path color="#8df93e" d="M215.2 84.3l3.9 1.5 2.4-2.3-3.8-1.5z"/><path color="#8bfa3f" d="M216.6 88.1l3.9 1.4 2.4-2.3-3.9-1.4z"/><path color="#8bfa3f" d="M219 85.8l3.9 1.4 2.4-2.3-3.8-1.4z"/><path class="m" d="M212.7 86.6l3.9 1.5 3.9 1.4 2.4-2.3 2.4-2.3-3.8-1.4-3.8-1.5-2.4 2.3z"/><path color="#e0f323" d="M104.2 94.4l4.2 3.1 2.5-2.7-4.1-3.1z"/><path color="#e4f322" d="M106.7 91.8l4.1 3.1 2.5-2.7-4.1-3.1z"/><path color="#d5f529" d="M108.3 97.6l4.1 3 2.5-2.6-4.1-3z"/><path color="#d9f527" d="M110.9 94.9l4.1 3 2.5-2.6-4.1-3z"/><path class="m" d="M104.2 94.4l4.2 3.1 4.1 3 2.5-2.6 2.5-2.6-4.1-3-4.1-3.1-2.6 2.7z"/><path color="#b1f836" d="M143.8 95.8l4 2.5 2.5-2.6-4-2.5z"/><path color="#b4f835" d="M146.3 93.3l4 2.5 2.5-2.5-4-2.5z"/><path color="#a8f839" d="M147.9 98.3l4 2.4 2.5-2.5-4-2.4z"/><path color="#abf838" d="M150.4 95.8l4 2.4 2.5-2.5-4-2.4z"/><path class="m" d="M143.8 95.8l4 2.5 4 2.4 2.5-2.5 2.5-2.5-4-2.4-4-2.5-2.5 2.6z"/><path color="#9cf93b" d="M169.7 95l3.9 2.1 2.5-2.5-3.9-2.1z"/><path color="#9ef93b" d="M172.2 92.5l3.9 2.1 2.5-2.5-3.9-2.1z"/><path color="#96f93d" d="M173.7 97.1l3.9 1.9 2.5-2.5-3.9-2z"/><path color="#98f93c" d="M176.1 94.6l3.9 2 2.5-2.5-3.9-2z"/><path class="m" d="M169.7 95l3.9 2.1 3.9 1.9 2.5-2.5 2.5-2.5-3.9-2-3.9-2.1-2.5 2.5z"/><path color="#8bfa3f" d="M207.9 91.4l3.9 1.5 2.4-2.4-3.9-1.5z"/><path color="#8cfa3f" d="M210.3 89l3.9 1.5 2.4-2.3-3.9-1.5z"/><path color="#8afa3f" d="M211.8 92.8l3.9 1.4 2.4-2.3-3.9-1.4z"/><path color="#8afa3f" d="M214.2 90.5l3.9 1.4 2.4-2.3-3.9-1.4z"/><path class="m" d="M207.9 91.4l3.9 1.5 3.9 1.4 2.4-2.3 2.4-2.3-3.9-1.4-3.9-1.5-2.4 2.4z"/><path color="#f1f11b" d="M90.7 93.2l4.2 3.4 2.6-2.7-4.2-3.4z"/><path color="#f5f019" d="M93.2 90.5l4.2 3.4 2.6-2.7-4.2-3.4z"/><path color="#e4f321" d="M94.9 96.6l4.2 3.2 2.5-2.7-4.2-3.2z"/><path color="#e8f21f" d="M97.4 93.9l4.2 3.2 2.5-2.7-4.2-3.2z"/><path class="m" d="M90.7 93.2l4.2 3.4 4.2 3.2 2.5-2.7 2.5-2.7-4.2-3.2-4.2-3.4-2.6 2.7z"/><path color="#d0f62b" d="M117.5 95.3l4.1 2.9 2.5-2.6-4.1-2.9z"/><path color="#d4f529" d="M120 92.6l4.1 2.9 2.5-2.6-4.1-2.9z"/><path color="#c3f62f" d="M121.6 98.2l4.1 2.8 2.5-2.6-4.1-2.8z"/><path color="#c7f62e" d="M124.1 95.5l4.1 2.8 2.5-2.6-4.1-2.8z"/><path class="m" d="M117.5 95.3l4.1 2.9 4.1 2.8 2.5-2.6 2.5-2.6-4.1-2.8-4.1-2.9-2.5 2.6z"/><path color="#bff731" d="M130.7 95.7l4.1 2.7 2.5-2.6-4-2.7z"/><path color="#c3f730" d="M133.3 93.1l4 2.7 2.5-2.6-4-2.7z"/><path color="#b4f835" d="M134.8 98.4l4 2.6 2.5-2.6-4-2.6z"/><path color="#b8f734" d="M137.3 95.8l4 2.6 2.5-2.6-4-2.6z"/><path class="m" d="M130.7 95.7l4.1 2.7 4 2.6 2.5-2.6 2.5-2.6-4-2.6-4-2.7-2.5 2.6z"/><path color="#a5f839" d="M156.8 95.6l4 2.3 2.5-2.5-4-2.3z"/><path color="#a8f839" d="M159.3 93.1l4 2.3 2.5-2.5-4-2.3z"/><path color="#9ef93b" d="M160.8 97.9l4 2.1 2.5-2.5-4-2.2z"/><path color="#a0f93a" d="M163.3 95.3l4 2.2 2.5-2.5-4-2.2z"/><path class="m" d="M156.8 95.6l4 2.3 4 2.1 2.5-2.5 2.5-2.5-4-2.2-4-2.3-2.5 2.5z"/><path color="#94f93d" d="M182.5 94.1l3.9 1.9 2.4-2.4-3.9-1.9z"/><path color="#96f93d" d="M185 91.6l3.9 1.9 2.4-2.4-3.9-1.9z"/><path color="#90f93e" d="M186.5 96l3.9 1.8 2.4-2.4-3.9-1.8z"/><path color="#91f93e" d="M188.9 93.5l3.9 1.8 2.4-2.4-3.9-1.8z"/><path class="m" d="M182.5 94.1l3.9 1.9 3.9 1.8 2.4-2.4 2.4-2.4-3.9-1.8-3.9-1.9-2.5 2.4z"/><path color="#8ff93e" d="M195.3 92.9l3.9 1.7 2.4-2.4-3.9-1.7z"/><path color="#90f93e" d="M197.7 90.5l3.9 1.7 2.4-2.4-3.9-1.7z"/><path color="#8cfa3f" d="M199.2 94.6l3.9 1.6 2.4-2.4-3.9-1.6z"/><path color="#8dfa3f" d="M201.6 92.2l3.9 1.6 2.4-2.4-3.9-1.6z"/><path class="m" d="M195.3 92.9l3.9 1.7 3.9 1.6 2.4-2.4 2.4-2.4-3.9-1.6-3.9-1.7-2.4 2.4z"/><path color="#8afa3f" d="M220.5 89.5l3.9 1.3 2.4-2.3-3.9-1.3z"/><path color="#8afa3f" d="M222.9 87.2l3.9 1.3 2.4-2.3-3.8-1.3z"/><path color="#89fa3f" d="M224.3 90.8l3.9 1.2 2.4-2.3-3.9-1.2z"/><path color="#89fa3f" d="M226.7 88.5l3.9 1.2 2.4-2.3-3.9-1.2z"/><path class="m" d="M220.5 89.5l3.9 1.3 3.9 1.2 2.4-2.3 2.4-2.3-3.9-1.2-3.8-1.3-2.4 2.3z"/><path color="#e9f21f" d="M85.6 98.7l4.2 3.3 2.5-2.7-4.2-3.3z"/><path color="#edf11d" d="M88.1 96l4.2 3.3 2.6-2.7-4.2-3.4z"/><path color="#ddf425" d="M89.8 102l4.2 3.2 2.5-2.7-4.2-3.2z"/><path color="#e0f323" d="M92.3 99.3l4.2 3.2 2.5-2.7-4.2-3.2z"/><path class="m" d="M85.6 98.7l4.2 3.3 4.2 3.2 2.5-2.7 2.5-2.7-4.2-3.2-4.2-3.4-2.6 2.7z"/><path color="#d9f527" d="M99.1 99.8l4.2 3.1 2.5-2.7-4.2-3.1z"/><path color="#ddf425" d="M101.6 97.1l4.2 3.1 2.5-2.7-4.2-3.1z"/><path color="#cbf62c" d="M103.2 102.9l4.2 3 2.5-2.7-4.1-3z"/><path color="#d0f62b" d="M105.8 100.2l4.1 3 2.5-2.7-4.1-3z"/><path class="m" d="M99.1 99.8l4.2 3.1 4.2 3 2.5-2.7 2.5-2.7-4.1-3-4.2-3.1-2.5 2.7z"/><path color="#c7f62e" d="M112.4 100.6l4.1 2.9 2.5-2.6-4.1-2.9z"/><path color="#ccf62c" d="M115 97.9l4.1 2.9 2.5-2.6-4.1-2.9z"/><path color="#bbf733" d="M116.6 103.4l4.1 2.8 2.5-2.6-4.1-2.8z"/><path color="#bff731" d="M119.1 100.8l4.1 2.8 2.5-2.6-4.1-2.8z"/><path class="m" d="M112.4 100.6l4.1 2.9 4.1 2.8 2.5-2.6 2.5-2.6-4.1-2.8-4.1-2.9-2.5 2.6z"/><path color="#b7f734" d="M125.7 101l4.1 2.7 2.5-2.6-4.1-2.7z"/><path color="#bbf732" d="M128.2 98.3l4.1 2.7 2.5-2.6-4.1-2.7z"/><path color="#adf837" d="M129.8 103.6l4.1 2.5 2.5-2.6-4.1-2.6z"/><path color="#b0f837" d="M132.3 101l4.1 2.6 2.5-2.6-4-2.6z"/><path class="m" d="M125.7 101l4.1 2.7 4.1 2.5 2.5-2.6 2.5-2.6-4-2.6-4.1-2.7-2.5 2.6z"/><path color="#aaf838" d="M138.8 101l4 2.4 2.5-2.6-4-2.5z"/><path color="#adf837" d="M141.3 98.4l4 2.5 2.5-2.6-4-2.5z"/><path color="#a2f93a" d="M142.9 103.4l4 2.3 2.5-2.5-4-2.3z"/><path color="#a5f839" d="M145.4 100.9l4 2.3 2.5-2.5-4-2.4z"/><path class="m" d="M138.8 101l4 2.4 4 2.3 2.5-2.5 2.5-2.5-4-2.4-4-2.5-2.5 2.6z"/><path color="#a0f93a" d="M151.9 100.7l4 2.2 2.5-2.5-4-2.3z"/><path color="#a2f93a" d="M154.3 98.1l4 2.3 2.5-2.5-4-2.3z"/><path color="#99f93c" d="M155.9 102.9l4 2.1 2.5-2.5-4-2.1z"/><path color="#9bf93b" d="M158.3 100.4l4 2.1 2.5-2.5-4-2.1z"/><path class="m" d="M151.9 100.7l4 2.2 4 2.1 2.5-2.5 2.5-2.5-4-2.1-4-2.3-2.5 2.5z"/><path color="#97f93c" d="M164.8 100l4 2 2.5-2.5-4-2z"/><path color="#9af93c" d="M167.3 97.5l4 2 2.5-2.5-3.9-2.1z"/><path color="#92f93d" d="M168.8 102l4 1.9 2.5-2.5-4-1.9z"/><path color="#94f93d" d="M171.2 99.5l4 1.9 2.5-2.5-3.9-1.9z"/><path class="m" d="M164.8 100l4 2 4 1.9 2.5-2.5 2.5-2.5-3.9-1.9-3.9-2.1-2.5 2.5z"/><path color="#91f93e" d="M177.6 99l3.9 1.8 2.4-2.4-3.9-1.8z"/><path color="#93f93d" d="M180.1 96.6l3.9 1.8 2.4-2.4-3.9-1.9z"/><path color="#8dfa3f" d="M181.6 100.8l3.9 1.7 2.4-2.4-3.9-1.7z"/><path color="#8ef93e" d="M184 98.4l3.9 1.7 2.4-2.4-3.9-1.8z"/><path class="m" d="M177.6 99l3.9 1.8 3.9 1.7 2.4-2.4 2.4-2.4-3.9-1.8-3.9-1.9-2.5 2.5z"/><path color="#8cfa3f" d="M190.4 97.7l3.9 1.6 2.4-2.4-3.9-1.7z"/><path color="#8ef93e" d="M192.8 95.3l3.9 1.7 2.4-2.4-3.9-1.7z"/><path color="#8afa3f" d="M194.3 99.4l3.9 1.5 2.4-2.4-3.9-1.5z"/><path color="#8bfa3f" d="M196.7 97l3.9 1.5 2.4-2.4-3.9-1.6z"/><path class="m" d="M190.4 97.7l3.9 1.6 3.9 1.5 2.4-2.4 2.4-2.4-3.9-1.6-3.9-1.7-2.4 2.4z"/><path color="#8afa3f" d="M203.1 96.1l3.9 1.5 2.4-2.4-3.9-1.5z"/><path color="#8bfa3f" d="M205.5 93.7l3.9 1.5 2.4-2.4-3.9-1.5z"/><path color="#89fa40" d="M207 97.6l3.9 1.3 2.4-2.4-3.9-1.4z"/><path color="#89fa3f" d="M209.4 95.2l3.9 1.4 2.4-2.3-3.9-1.4z"/><path class="m" d="M203.1 96.1l3.9 1.5 3.9 1.3 2.4-2.4 2.4-2.3-3.9-1.4-3.9-1.5-2.4 2.4z"/><path color="#89fa3f" d="M215.7 94.2l3.9 1.3 2.4-2.3-3.9-1.3z"/><path color="#89fa3f" d="M218.1 91.9l3.9 1.3 2.4-2.3-3.9-1.3z"/><path color="#89fa3f" d="M219.6 95.5l3.9 1.2 2.4-2.3-3.9-1.2z"/><path color="#89fa3f" d="M222 93.2l3.9 1.2 2.4-2.3-3.9-1.2z"/><path class="m" d="M215.7 94.2l3.9 1.3 3.9 1.2 2.4-2.3 2.4-2.3-3.9-1.2-3.9-1.3-2.4 2.3z"/><path color="#8afa3f" d="M228.2 92l3.9 1.1 2.4-2.3-3.9-1.1z"/><path color="#8afa3f" d="M230.6 89.7l3.9 1.1 2.4-2.3-3.9-1.1z"/><path color="#8bfa3f" d="M232.1 93.1l3.9 1 2.4-2.3-3.9-1z"/><path color="#8bfa3f" d="M234.5 90.9l3.9 1 2.4-2.3-3.9-1z"/><path class="m" d="M228.2 92l3.9 1.1 3.9 1 2.4-2.3 2.4-2.3-3.9-1-3.9-1.1-2.4 2.3z"/><path color="#e0f323" d="M80.4 104.1l4.2 3.3 2.5-2.7-4.2-3.3z"/><path color="#e5f321" d="M83 101.4l4.2 3.3 2.5-2.7-4.2-3.3z"/><path color="#d4f529" d="M84.7 107.4l4.2 3.2 2.5-2.7-4.2-3.2z"/><path color="#d9f527" d="M87.2 104.7l4.2 3.2 2.5-2.7-4.2-3.2z"/><path class="m" d="M80.4 104.1l4.2 3.3 4.2 3.2 2.5-2.7 2.5-2.7-4.2-3.2-4.2-3.3-2.6 2.7z"/><path color="#d0f62b" d="M94 105.2l4.2 3.1 2.5-2.7-4.2-3.1z"/><path color="#d5f529" d="M96.5 102.5l4.2 3.1 2.5-2.7-4.2-3.1z"/><path color="#c2f730" d="M98.2 108.3l4.2 2.9 2.5-2.7-4.2-3z"/><path color="#c7f62e" d="M100.7 105.6l4.2 3 2.5-2.7-4.2-3z"/><path class="m" d="M94 105.2l4.2 3.1 4.2 2.9 2.5-2.7 2.5-2.7-4.2-3-4.2-3.1-2.5 2.7z"/><path color="#bef731" d="M107.4 105.9l4.1 2.8 2.5-2.6-4.1-2.9z"/><path color="#c3f730" d="M109.9 103.2l4.1 2.9 2.5-2.6-4.1-2.9z"/><path color="#b2f836" d="M111.5 108.7l4.1 2.7 2.5-2.6-4.1-2.7z"/><path color="#b7f734" d="M114 106.1l4.1 2.7 2.5-2.6-4.1-2.8z"/><path class="m" d="M107.4 105.9l4.1 2.8 4.1 2.7 2.5-2.6 2.5-2.6-4.1-2.8-4.1-2.9-2.5 2.7z"/><path color="#aff837" d="M120.7 106.2l4.1 2.6 2.5-2.6-4.1-2.6z"/><path color="#b3f835" d="M123.2 103.6l4.1 2.6 2.5-2.6-4.1-2.7z"/><path color="#a6f839" d="M124.8 108.8l4.1 2.5 2.5-2.6-4.1-2.5z"/><path color="#a9f838" d="M127.3 106.2l4.1 2.5 2.5-2.6-4.1-2.5z"/><path class="m" d="M120.7 106.2l4.1 2.6 4.1 2.5 2.5-2.6 2.5-2.6-4.1-2.5-4.1-2.7-2.5 2.6z"/><path color="#a4f93a" d="M133.8 106.1l4.1 2.4 2.5-2.6-4-2.4z"/><path color="#a7f839" d="M136.3 103.6l4 2.4 2.5-2.6-4-2.4z"/><path color="#9cf93b" d="M137.9 108.6l4 2.3 2.5-2.6-4-2.3z"/><path color="#9ff93b" d="M140.4 106l4 2.3 2.5-2.6-4-2.3z"/><path class="m" d="M133.8 106.1l4.1 2.4 4 2.3 2.5-2.6 2.5-2.6-4-2.3-4-2.4-2.5 2.6z"/><path color="#9af93c" d="M146.9 105.8l4 2.2 2.5-2.5-4-2.2z"/><path color="#9df93b" d="M149.4 103.2l4 2.2 2.5-2.5-4-2.2z"/><path color="#94f93d" d="M150.9 108l4 2.1 2.5-2.5-4-2.1z"/><path color="#96f93d" d="M153.4 105.4l4 2.1 2.5-2.5-4-2.1z"/><path class="m" d="M146.9 105.8l4 2.2 4 2.1 2.5-2.5 2.5-2.5-4-2.1-4-2.2-2.5 2.5z"/><path color="#93f93d" d="M159.8 105l4 2 2.5-2.5-4-2z"/><path color="#95f93d" d="M162.3 102.5l4 2 2.5-2.5-4-2z"/><path color="#8ef93e" d="M163.8 107l4 1.9 2.5-2.5-4-1.9z"/><path color="#90f93e" d="M166.3 104.5l4 1.9 2.5-2.5-4-1.9z"/><path class="m" d="M159.8 105l4 2 4 1.9 2.5-2.5 2.5-2.5-4-1.9-4-2-2.5 2.5z"/><path color="#8dfa3f" d="M172.7 104l4 1.8 2.4-2.5-4-1.8z"/><path color="#8ff93e" d="M175.2 101.5l4 1.8 2.4-2.5-3.9-1.8z"/><path color="#8afa3f" d="M176.7 105.8l4 1.7 2.4-2.4-3.9-1.7z"/><path color="#8bfa3f" d="M179.1 103.3l3.9 1.7 2.4-2.4-3.9-1.7z"/><path class="m" d="M172.7 104l4 1.8 4 1.7 2.4-2.4 2.4-2.4-3.9-1.7-3.9-1.8-2.5 2.5z"/><path color="#8afa3f" d="M185.5 102.6l3.9 1.6 2.4-2.4-3.9-1.6z"/><path color="#8bfa3f" d="M187.9 100.1l3.9 1.6 2.4-2.4-3.9-1.6z"/><path color="#87fa40" d="M189.4 104.2l3.9 1.5 2.4-2.4-3.9-1.5z"/><path color="#89fa40" d="M191.9 101.8l3.9 1.5 2.4-2.4-3.9-1.5z"/><path class="m" d="M185.5 102.6l3.9 1.6 3.9 1.5 2.4-2.4 2.4-2.4-3.9-1.5-3.9-1.6-2.4 2.4z"/><path color="#88fa40" d="M198.2 100.9l3.9 1.4 2.4-2.4-3.9-1.4z"/><path color="#89fa3f" d="M200.6 98.5l3.9 1.4 2.4-2.4-3.9-1.5z"/><path color="#87fa40" d="M202.1 102.3l3.9 1.3 2.4-2.4-3.9-1.3z"/><path color="#88fa40" d="M204.6 99.9l3.9 1.3 2.4-2.4-3.9-1.3z"/><path class="m" d="M198.2 100.9l3.9 1.4 3.9 1.3 2.4-2.4 2.4-2.4-3.9-1.3-3.9-1.5-2.4 2.4z"/><path color="#88fa40" d="M210.9 98.9l3.9 1.2 2.4-2.3-3.9-1.3z"/><path color="#89fa40" d="M213.3 96.6l3.9 1.3 2.4-2.3-3.9-1.3z"/><path color="#89fa40" d="M214.8 100.2l3.9 1.1 2.4-2.3-3.9-1.2z"/><path color="#89fa3f" d="M217.2 97.8l3.9 1.2 2.4-2.3-3.9-1.2z"/><path class="m" d="M210.9 98.9l3.9 1.2 3.9 1.1 2.4-2.3 2.4-2.3-3.9-1.2-3.9-1.3-2.4 2.3z"/><path color="#8afa3f" d="M223.5 96.7l3.9 1.1 2.4-2.3-3.9-1.1z"/><path color="#8afa3f" d="M225.8 94.3l3.9 1.1 2.4-2.3-3.9-1.1z"/><path color="#8cfa3f" d="M227.3 97.7l3.9 1 2.4-2.3-3.9-1z"/><path color="#8bfa3f" d="M229.7 95.4l3.9 1 2.4-2.3-3.9-1z"/><path class="m" d="M223.5 96.7l3.9 1.1 3.9 1 2.4-2.3 2.4-2.3-3.9-1-3.9-1.1-2.4 2.3z"/><path color="#8dfa3f" d="M236 94.1l3.9 0.9 2.4-2.3-3.9-0.9z"/><path color="#8dfa3f" d="M238.3 91.9l3.9 0.9 2.4-2.2-3.9-0.9z"/><path color="#90f93e" d="M239.9 95l3.9 0.8 2.3-2.2-3.9-0.8z"/><path color="#8ff93e" d="M242.2 92.8l3.9 0.8 2.3-2.2-3.9-0.8z"/><path class="m" d="M236 94.1l3.9 0.9 3.9 0.8 2.3-2.2 2.3-2.2-3.9-0.8-3.9-0.9-2.4 2.3z"/><path color="#d8f527" d="M75.3 109.6l4.3 3.3 2.5-2.7-4.3-3.3z"/><path color="#dcf425" d="M77.9 106.9l4.3 3.3 2.5-2.7-4.2-3.3z"/><path color="#caf62d" d="M79.6 112.9l4.2 3.1 2.5-2.7-4.2-3.2z"/><path color="#cff62b" d="M82.1 110.2l4.2 3.2 2.5-2.7-4.2-3.2z"/><path class="m" d="M75.3 109.6l4.3 3.3 4.2 3.1 2.5-2.7 2.5-2.7-4.2-3.2-4.2-3.3-2.5 2.7z"/><path color="#c6f62e" d="M88.9 110.6l4.2 3 2.5-2.7-4.2-3.1z"/><path color="#cbf62d" d="M91.4 107.9l4.2 3.1 2.5-2.7-4.2-3.1z"/><path color="#b8f733" d="M93.1 113.7l4.2 2.9 2.5-2.7-4.2-2.9z"/><path color="#bdf732" d="M95.6 111l4.2 2.9 2.5-2.7-4.2-2.9z"/><path class="m" d="M88.9 110.6l4.2 3 4.2 2.9 2.5-2.7 2.5-2.7-4.2-2.9-4.2-3.1-2.5 2.7z"/><path color="#b5f835" d="M102.3 111.2l4.2 2.8 2.5-2.7-4.1-2.8z"/><path color="#baf733" d="M104.9 108.5l4.1 2.8 2.5-2.7-4.1-2.8z"/><path color="#aaf838" d="M106.5 114l4.1 2.7 2.5-2.6-4.1-2.7z"/><path color="#aef837" d="M109 111.4l4.1 2.7 2.5-2.6-4.1-2.7z"/><path class="m" d="M102.3 111.2l4.2 2.8 4.1 2.7 2.5-2.6 2.5-2.6-4.1-2.7-4.1-2.8-2.5 2.7z"/><path color="#9df93b" d="M128.8 111.3l4.1 2.4 2.5-2.6-4.1-2.4z"/><path color="#a0f93a" d="M131.3 108.7l4.1 2.4 2.5-2.6-4.1-2.4z"/><path color="#95f93d" d="M132.9 113.7l4.1 2.3 2.5-2.6-4.1-2.3z"/><path color="#99f93c" d="M135.4 111.1l4.1 2.3 2.5-2.6-4-2.3z"/><path class="m" d="M128.8 111.3l4.1 2.4 4.1 2.3 2.5-2.6 2.5-2.6-4-2.3-4.1-2.4-2.5 2.6z"/><path color="#8ef93e" d="M154.9 110.1l4 2 2.5-2.5-4-2z"/><path color="#90f93e" d="M157.4 107.5l4 2 2.5-2.5-4-2z"/><path color="#89fa3f" d="M158.9 112l4 1.9 2.4-2.5-4-1.9z"/><path color="#8bfa3f" d="M161.4 109.5l4 1.9 2.5-2.5-4-1.9z"/><path class="m" d="M154.9 110.1l4 2 4 1.9 2.4-2.5 2.5-2.5-4-1.9-4-2-2.5 2.5z"/><path color="#89fa3f" d="M167.8 108.9l4 1.8 2.4-2.5-4-1.8z"/><path color="#8bfa3f" d="M170.3 106.4l4 1.8 2.4-2.5-4-1.8z"/><path color="#86fa40" d="M171.8 110.7l4 1.7 2.4-2.5-4-1.7z"/><path color="#88fa40" d="M174.2 108.2l4 1.7 2.4-2.4-4-1.7z"/><path class="m" d="M167.8 108.9l4 1.8 4 1.7 2.4-2.5 2.4-2.4-4-1.7-4-1.8-2.5 2.5z"/><path color="#86fa40" d="M193.4 105.7l3.9 1.4 2.4-2.4-3.9-1.4z"/><path color="#87fa40" d="M195.8 103.3l3.9 1.4 2.4-2.4-3.9-1.4z"/><path color="#86fa40" d="M197.3 107.1l3.9 1.3 2.4-2.4-3.9-1.3z"/><path color="#86fa40" d="M199.7 104.7l3.9 1.3 2.4-2.4-3.9-1.3z"/><path class="m" d="M193.4 105.7l3.9 1.4 3.9 1.3 2.4-2.4 2.4-2.4-3.9-1.3-3.9-1.4-2.4 2.4z"/><path color="#8afa3f" d="M218.7 101.3l3.9 1 2.4-2.3-3.9-1z"/><path color="#8afa3f" d="M221.1 99l3.9 1 2.4-2.3-3.9-1.1z"/><path color="#8cfa3f" d="M222.6 102.3l3.9 0.9 2.4-2.3-3.9-0.9z"/><path color="#8cfa3f" d="M225 100l3.9 0.9 2.4-2.3-3.9-1z"/><path class="m" d="M218.7 101.3l3.9 1 3.9 0.9 2.4-2.3 2.4-2.3-3.9-1-3.9-1.1-2.4 2.3z"/><path color="#8ef93e" d="M231.2 98.7l3.9 0.9 2.4-2.3-3.9-0.9z"/><path color="#8ef93e" d="M233.6 96.4l3.9 0.9 2.4-2.3-3.9-0.9z"/><path color="#91f93e" d="M235.2 99.5l3.9 0.8 2.3-2.3-3.9-0.8z"/><path color="#91f93e" d="M237.5 97.3l3.9 0.8 2.3-2.2-3.9-0.8z"/><path class="m" d="M231.2 98.7l3.9 0.9 3.9 0.8 2.3-2.3 2.3-2.2-3.9-0.8-3.9-0.9-2.4 2.3z"/><path color="#94f93d" d="M243.8 95.8l3.9 0.7 2.3-2.2-3.9-0.7z"/><path color="#93f93d" d="M246.1 93.6l3.9 0.7 2.3-2.2-3.9-0.7z"/><path color="#98f93c" d="M247.7 96.5l3.9 0.6 2.3-2.2-3.9-0.6z"/><path color="#97f93c" d="M250 94.3l3.9 0.6 2.3-2.2-3.9-0.6z"/><path class="m" d="M243.8 95.8l3.9 0.7 3.9 0.6 2.3-2.2 2.3-2.2-3.9-0.6-3.9-0.7-2.3 2.2z"/><path color="#a8f839" d="M115.6 111.5l4.1 2.6 2.5-2.6-4.1-2.6z"/><path color="#acf838" d="M118.2 108.8l4.1 2.6 2.5-2.6-4.1-2.6z"/><path color="#9ff93b" d="M119.8 114.1l4.1 2.5 2.5-2.6-4.1-2.5z"/><path color="#a2f93a" d="M122.3 111.4l4.1 2.5 2.5-2.6-4.1-2.5z"/><path class="m" d="M115.6 111.5l4.1 2.6 4.1 2.5 2.5-2.6 2.5-2.6-4.1-2.5-4.1-2.6-2.5 2.6z"/><path color="#94f93d" d="M141.9 110.9l4 2.2 2.5-2.5-4-2.2z"/><path color="#97f93c" d="M144.4 108.3l4 2.2 2.5-2.5-4-2.2z"/><path color="#8ef93e" d="M146 113l4 2.1 2.5-2.5-4-2.1z"/><path color="#91f93e" d="M148.4 110.5l4 2.1 2.5-2.5-4-2.1z"/><path class="m" d="M141.9 110.9l4 2.2 4 2.1 2.5-2.5 2.5-2.5-4-2.1-4-2.2-2.5 2.6z"/><path color="#87fa40" d="M180.6 107.5l4 1.6 2.4-2.4-3.9-1.6z"/><path color="#88fa40" d="M183.1 105l3.9 1.6 2.4-2.4-3.9-1.6z"/><path color="#85fa40" d="M184.6 109l4 1.5 2.4-2.4-3.9-1.5z"/><path color="#86fa40" d="M187 106.6l3.9 1.5 2.4-2.4-3.9-1.5z"/><path class="m" d="M180.6 107.5l4 1.6 4 1.5 2.4-2.4 2.4-2.4-3.9-1.5-3.9-1.6-2.4 2.4z"/><path color="#87fa40" d="M206.1 103.6l3.9 1.2 2.4-2.3-3.9-1.2z"/><path color="#88fa40" d="M208.5 101.3l3.9 1.2 2.4-2.3-3.9-1.2z"/><path color="#88fa40" d="M210 104.9l3.9 1.1 2.4-2.3-3.9-1.1z"/><path color="#88fa40" d="M212.4 102.5l3.9 1.1 2.4-2.3-3.9-1.1z"/><path class="m" d="M206.1 103.6l3.9 1.2 3.9 1.1 2.4-2.3 2.4-2.3-3.9-1.1-3.9-1.2-2.4 2.4z"/><path color="#cef62b" d="M70.3 115.1l4.3 3.3 2.5-2.7-4.3-3.3z"/><path color="#d3f529" d="M72.8 112.3l4.3 3.3 2.5-2.7-4.3-3.3z"/><path color="#bff731" d="M74.5 118.4l4.3 3.1 2.5-2.7-4.2-3.1z"/><path color="#c4f62f" d="M77.1 115.6l4.2 3.1 2.5-2.7-4.2-3.1z"/><path class="m" d="M70.3 115.1l4.3 3.3 4.3 3.1 2.5-2.7 2.5-2.7-4.2-3.1-4.3-3.3-2.5 2.7z"/><path color="#bcf732" d="M83.9 116l4.2 3 2.5-2.7-4.2-3z"/><path color="#c1f730" d="M86.4 113.3l4.2 3 2.5-2.7-4.2-3z"/><path color="#aff837" d="M88.1 119.1l4.2 2.9 2.5-2.7-4.2-2.9z"/><path color="#b4f835" d="M90.6 116.4l4.2 2.9 2.5-2.7-4.2-2.9z"/><path class="m" d="M83.9 116l4.2 3 4.2 2.9 2.5-2.7 2.5-2.7-4.2-2.9-4.2-3-2.5 2.7z"/><path color="#acf838" d="M97.3 116.6l4.2 2.8 2.5-2.7-4.2-2.8z"/><path color="#b1f836" d="M99.8 113.9l4.2 2.8 2.5-2.7-4.2-2.8z"/><path color="#a2f93a" d="M101.5 119.4l4.2 2.7 2.5-2.7-4.1-2.7z"/><path color="#a6f839" d="M104 116.7l4.1 2.7 2.5-2.6-4.1-2.7z"/><path class="m" d="M97.3 116.6l4.2 2.8 4.2 2.7 2.5-2.7 2.5-2.6-4.1-2.7-4.2-2.8-2.5 2.7z"/><path color="#a0f93a" d="M110.6 116.7l4.1 2.6 2.5-2.6-4.1-2.6z"/><path color="#a4f839" d="M113.1 114.1l4.1 2.6 2.5-2.6-4.1-2.6z"/><path color="#97f93c" d="M114.8 119.3l4.1 2.5 2.5-2.6-4.1-2.5z"/><path color="#9bf93b" d="M117.3 116.7l4.1 2.5 2.5-2.6-4.1-2.5z"/><path class="m" d="M110.6 116.7l4.1 2.6 4.1 2.5 2.5-2.6 2.5-2.6-4.1-2.5-4.1-2.6-2.5 2.6z"/><path color="#96f93c" d="M123.9 116.5l4.1 2.4 2.5-2.6-4.1-2.4z"/><path color="#9af93c" d="M126.3 113.9l4.1 2.4 2.5-2.6-4.1-2.4z"/><path color="#8ff93e" d="M127.9 118.9l4.1 2.2 2.5-2.6-4.1-2.3z"/><path color="#92f93d" d="M130.4 116.3l4.1 2.3 2.5-2.6-4.1-2.3z"/><path class="m" d="M123.9 116.5l4.1 2.4 4.1 2.2 2.5-2.6 2.5-2.6-4.1-2.3-4.1-2.4-2.5 2.6z"/><path color="#8ff93e" d="M137 116l4.1 2.2 2.5-2.6-4-2.2z"/><path color="#92f93e" d="M139.4 113.4l4 2.2 2.5-2.6-4-2.2z"/><path color="#89fa3f" d="M141 118.2l4 2 2.5-2.5-4-2.1z"/><path color="#8cfa3f" d="M143.5 115.6l4 2.1 2.5-2.5-4-2.1z"/><path class="m" d="M137 116l4.1 2.2 4 2 2.5-2.5 2.5-2.5-4-2.1-4-2.2-2.5 2.6z"/><path color="#89fa3f" d="M150 115.1l4 2 2.5-2.5-4-2z"/><path color="#8cfa3f" d="M152.4 112.6l4 2 2.5-2.5-4-2z"/><path color="#85fa40" d="M154 117.1l4 1.8 2.4-2.5-4-1.9z"/><path color="#87fa40" d="M156.5 114.5l4 1.9 2.4-2.5-4-1.9z"/><path class="m" d="M150 115.1l4 2 4 1.8 2.4-2.5 2.4-2.5-4-1.9-4-2-2.5 2.5z"/><path color="#85fa40" d="M162.9 113.9l4 1.8 2.4-2.5-4-1.8z"/><path color="#87fa40" d="M165.4 111.4l4 1.8 2.4-2.5-4-1.8z"/><path color="#83fa41" d="M166.9 115.6l4 1.6 2.4-2.5-4-1.7z"/><path color="#84fa40" d="M169.3 113.2l4 1.7 2.4-2.5-4-1.7z"/><path class="m" d="M162.9 113.9l4 1.8 4 1.6 2.4-2.5 2.4-2.5-4-1.7-4-1.8-2.5 2.5z"/><path color="#84fa41" d="M175.8 112.4l4 1.6 2.4-2.4-4-1.6z"/><path color="#85fa40" d="M178.2 109.9l4 1.6 2.4-2.4-4-1.6z"/><path color="#82fa41" d="M179.7 113.9l4 1.4 2.4-2.4-4-1.5z"/><path color="#84fa41" d="M182.2 111.5l4 1.5 2.4-2.4-4-1.5z"/><path class="m" d="M175.8 112.4l4 1.6 4 1.4 2.4-2.4 2.4-2.4-4-1.5-4-1.6-2.4 2.4z"/><path color="#84fa41" d="M188.5 110.5l4 1.4 2.4-2.4-3.9-1.4z"/><path color="#85fa40" d="M191 108.1l3.9 1.4 2.4-2.4-3.9-1.4z"/><path color="#84fa41" d="M192.5 111.9l4 1.3 2.4-2.4-3.9-1.3z"/><path color="#85fa40" d="M194.9 109.5l3.9 1.3 2.4-2.4-3.9-1.3z"/><path class="m" d="M188.5 110.5l4 1.4 4 1.3 2.4-2.4 2.4-2.4-3.9-1.3-3.9-1.4-2.4 2.4z"/><path color="#86fa40" d="M201.3 108.4l3.9 1.2 2.4-2.4-3.9-1.2z"/><path color="#87fa40" d="M203.7 106l3.9 1.2 2.4-2.4-3.9-1.2z"/><path color="#87fa40" d="M205.2 109.6l3.9 1.1 2.4-2.3-3.9-1.1z"/><path color="#88fa40" d="M207.6 107.2l3.9 1.1 2.4-2.3-3.9-1.1z"/><path class="m" d="M201.3 108.4l3.9 1.2 3.9 1.1 2.4-2.3 2.4-2.3-3.9-1.1-3.9-1.2-2.4 2.4z"/><path color="#8afa3f" d="M213.9 106l3.9 1 2.4-2.3-3.9-1z"/><path color="#8afa3f" d="M216.3 103.6l3.9 1 2.4-2.3-3.9-1z"/><path color="#8cfa3f" d="M217.8 107l3.9 0.9 2.4-2.3-3.9-0.9z"/><path color="#8cfa3f" d="M220.2 104.6l3.9 0.9 2.4-2.3-3.9-0.9z"/><path class="m" d="M213.9 106l3.9 1 3.9 0.9 2.4-2.3 2.4-2.3-3.9-0.9-3.9-1-2.4 2.3z"/><path color="#8ff93e" d="M226.5 103.3l3.9 0.8 2.4-2.3-3.9-0.8z"/><path color="#8ef93e" d="M228.9 101l3.9 0.8 2.4-2.3-3.9-0.9z"/><path color="#93f93d" d="M230.4 104.1l3.9 0.7 2.3-2.3-3.9-0.7z"/><path color="#92f93d" d="M232.8 101.8l3.9 0.7 2.3-2.3-3.9-0.8z"/><path class="m" d="M226.5 103.3l3.9 0.8 3.9 0.7 2.3-2.3 2.3-2.3-3.9-0.8-3.9-0.9-2.4 2.3z"/><path color="#96f93d" d="M239.1 100.3l3.9 0.7 2.3-2.2-3.9-0.7z"/><path color="#95f93d" d="M241.4 98l3.9 0.7 2.3-2.2-3.9-0.7z"/><path color="#9bf93c" d="M243 101l3.9 0.6 2.3-2.2-3.9-0.6z"/><path color="#9af93c" d="M245.3 98.7l3.9 0.6 2.3-2.2-3.9-0.6z"/><path class="m" d="M239.1 100.3l3.9 0.7 3.9 0.6 2.3-2.2 2.3-2.2-3.9-0.6-3.9-0.7-2.3 2.2z"/><path color="#9ef93b" d="M251.6 97.1l3.9 0.5 2.3-2.2-3.9-0.5z"/><path color="#9df93b" d="M253.9 94.9l3.9 0.5 2.3-2.2-3.9-0.5z"/><path color="#a4f839" d="M255.5 97.6l3.9 0.4 2.3-2.2-3.9-0.4z"/><path color="#a2f93a" d="M257.8 95.4l3.9 0.4 2.3-2.2-3.9-0.4z"/><path class="m" d="M251.6 97.1l3.9 0.5 3.9 0.4 2.3-2.2 2.3-2.2-3.9-0.4-3.9-0.5-2.3 2.2z"/><path color="#b2f836" d="M78.8 121.5l4.2 3 2.5-2.7-4.2-3z"/><path color="#b7f734" d="M81.3 118.8l4.2 3 2.5-2.7-4.2-3z"/><path color="#a6f839" d="M83 124.5l4.2 2.9 2.5-2.7-4.2-2.9z"/><path color="#aaf838" d="M85.6 121.8l4.2 2.9 2.5-2.7-4.2-2.9z"/><path class="m" d="M78.8 121.5l4.2 3 4.2 2.9 2.5-2.7 2.5-2.7-4.2-2.9-4.2-3-2.5 2.7z"/><path color="#84fa41" d="M145.1 120.2l4 1.9 2.5-2.5-4-1.9z"/><path color="#87fa40" d="M147.5 117.7l4 1.9 2.5-2.5-4-2z"/><path color="#80fa41" d="M149.1 122.1l4 1.8 2.4-2.5-4-1.8z"/><path color="#82fa41" d="M151.5 119.6l4 1.8 2.4-2.5-4-1.8z"/><path class="m" d="M145.1 120.2l4 1.9 4 1.8 2.4-2.5 2.4-2.5-4-1.8-4-2-2.5 2.5z"/><path color="#82fa41" d="M183.7 115.4l4 1.3 2.4-2.4-4-1.4z"/><path color="#83fa41" d="M186.1 112.9l4 1.4 2.4-2.4-4-1.4z"/><path color="#82fa41" d="M187.7 116.7l4 1.2 2.4-2.4-4-1.2z"/><path color="#83fa41" d="M190.1 114.3l4 1.2 2.4-2.4-4-1.3z"/><path class="m" d="M183.7 115.4l4 1.3 4 1.2 2.4-2.4 2.4-2.4-4-1.3-4-1.4-2.4 2.4z"/><path color="#a0f93a" d="M246.9 101.5l3.9 0.5 2.3-2.2-3.9-0.5z"/><path color="#9ff93b" d="M249.2 99.3l3.9 0.5 2.3-2.2-3.9-0.5z"/><path color="#a7f839" d="M250.9 102l3.9 0.4 2.3-2.2-3.9-0.4z"/><path color="#a5f839" d="M253.2 99.8l3.9 0.4 2.3-2.2-3.9-0.4z"/><path class="m" d="M246.9 101.5l3.9 0.5 3.9 0.4 2.3-2.2 2.3-2.2-3.9-0.4-3.9-0.5-2.3 2.2z"/><path color="#c3f730" d="M65.2 120.6l4.3 3.2 2.5-2.7-4.3-3.2z"/><path color="#c8f62e" d="M67.7 117.9l4.3 3.2 2.5-2.7-4.3-3.3z"/><path color="#b4f835" d="M69.5 123.8l4.3 3.1 2.5-2.7-4.3-3.1z"/><path color="#baf733" d="M72 121.1l4.3 3.1 2.5-2.7-4.3-3.1z"/><path class="m" d="M65.2 120.6l4.3 3.2 4.3 3.1 2.5-2.7 2.5-2.7-4.3-3.1-4.3-3.3-2.5 2.8z"/><path color="#a4f839" d="M92.3 122l4.2 2.8 2.5-2.7-4.2-2.8z"/><path color="#a8f839" d="M94.8 119.3l4.2 2.8 2.5-2.7-4.2-2.8z"/><path color="#9af93c" d="M96.5 124.7l4.2 2.6 2.5-2.7-4.2-2.7z"/><path color="#9ef93b" d="M99 122l4.2 2.7 2.5-2.7-4.2-2.7z"/><path class="m" d="M92.3 122l4.2 2.8 4.2 2.6 2.5-2.7 2.5-2.7-4.2-2.7-4.2-2.8-2.5 2.7z"/><path color="#99f93c" d="M105.6 122l4.1 2.6 2.5-2.6-4.1-2.6z"/><path color="#9cf93b" d="M108.1 119.4l4.1 2.6 2.5-2.6-4.1-2.6z"/><path color="#90f93e" d="M109.8 124.6l4.1 2.4 2.5-2.6-4.1-2.4z"/><path color="#94f93d" d="M112.3 122l4.1 2.4 2.5-2.6-4.1-2.5z"/><path class="m" d="M105.6 122l4.1 2.6 4.1 2.4 2.5-2.6 2.5-2.6-4.1-2.5-4.1-2.6-2.5 2.6z"/><path color="#90f93e" d="M118.9 121.8l4.1 2.3 2.5-2.6-4.1-2.4z"/><path color="#93f93d" d="M121.4 119.2l4.1 2.4 2.5-2.6-4.1-2.4z"/><path color="#89fa40" d="M123 124.1l4.1 2.2 2.5-2.6-4.1-2.2z"/><path color="#8cfa3f" d="M125.5 121.5l4.1 2.2 2.5-2.6-4.1-2.2z"/><path class="m" d="M118.9 121.8l4.1 2.3 4.1 2.2 2.5-2.6 2.5-2.6-4.1-2.2-4.1-2.4-2.5 2.6z"/><path color="#89fa40" d="M132 121.2l4.1 2.1 2.5-2.6-4.1-2.1z"/><path color="#8cfa3f" d="M134.5 118.6l4.1 2.1 2.5-2.6-4.1-2.2z"/><path color="#83fa41" d="M136.1 123.3l4.1 2 2.5-2.6-4.1-2z"/><path color="#86fa40" d="M138.5 120.7l4.1 2 2.5-2.5-4-2z"/><path class="m" d="M132 121.2l4.1 2.1 4.1 2 2.5-2.6 2.5-2.5-4-2-4.1-2.2-2.5 2.6z"/><path color="#81fa41" d="M158 118.9l4 1.7 2.4-2.5-4-1.7z"/><path color="#83fa41" d="M160.5 116.4l4 1.7 2.4-2.5-4-1.8z"/><path color="#7ffa42" d="M162 120.6l4 1.6 2.4-2.5-4-1.6z"/><path color="#81fa41" d="M164.5 118.1l4 1.6 2.4-2.5-4-1.6z"/><path class="m" d="M158 118.9l4 1.7 4 1.6 2.4-2.5 2.4-2.5-4-1.6-4-1.8-2.4 2.5z"/><path color="#81fa41" d="M170.9 117.3l4 1.5 2.4-2.5-4-1.5z"/><path color="#82fa41" d="M173.3 114.8l4 1.5 2.4-2.4-4-1.6z"/><path color="#7ffa42" d="M174.9 118.8l4 1.4 2.4-2.4-4-1.4z"/><path color="#81fa41" d="M177.3 116.4l4 1.4 2.4-2.4-4-1.4z"/><path class="m" d="M170.9 117.3l4 1.5 4 1.4 2.4-2.4 2.4-2.4-4-1.4-4-1.6-2.4 2.5z"/><path color="#85fa40" d="M196.5 113.2l4 1.2 2.4-2.4-4-1.2z"/><path color="#85fa40" d="M198.9 110.8l4 1.2 2.4-2.4-3.9-1.2z"/><path color="#86fa40" d="M200.4 114.3l4 1.1 2.4-2.4-4-1.1z"/><path color="#87fa40" d="M202.8 111.9l4 1.1 2.4-2.4-3.9-1.1z"/><path class="m" d="M196.5 113.2l4 1.2 4 1.1 2.4-2.4 2.4-2.4-3.9-1.1-3.9-1.2-2.4 2.4z"/><path color="#89fa3f" d="M209.1 110.6l3.9 1 2.4-2.3-3.9-1z"/><path color="#89fa3f" d="M211.5 108.3l3.9 1 2.4-2.3-3.9-1z"/><path color="#8cfa3f" d="M213.1 111.6l4 0.9 2.4-2.3-3.9-0.9z"/><path color="#8cfa3f" d="M215.5 109.3l3.9 0.9 2.4-2.3-3.9-0.9z"/><path class="m" d="M209.1 110.6l3.9 1 4 0.9 2.4-2.3 2.4-2.3-3.9-0.9-3.9-1-2.4 2.3z"/><path color="#8ff93e" d="M221.8 107.9l3.9 0.8 2.4-2.3-3.9-0.8z"/><path color="#8ff93e" d="M224.1 105.6l3.9 0.8 2.4-2.3-3.9-0.8z"/><path color="#93f93d" d="M225.7 108.7l3.9 0.7 2.3-2.3-3.9-0.7z"/><path color="#93f93d" d="M228.1 106.4l3.9 0.7 2.3-2.3-3.9-0.7z"/><path class="m" d="M221.8 107.9l3.9 0.8 3.9 0.7 2.3-2.3 2.3-2.3-3.9-0.7-3.9-0.8-2.4 2.3z"/><path color="#97f93c" d="M234.4 104.8l3.9 0.6 2.3-2.2-3.9-0.6z"/><path color="#96f93c" d="M236.7 102.6l3.9 0.6 2.3-2.2-3.9-0.7z"/><path color="#9cf93b" d="M238.3 105.5l3.9 0.5 2.3-2.2-3.9-0.5z"/><path color="#9bf93b" d="M240.7 103.2l3.9 0.5 2.3-2.2-3.9-0.6z"/><path class="m" d="M234.4 104.8l3.9 0.6 3.9 0.5 2.3-2.2 2.3-2.2-3.9-0.6-3.9-0.7-2.3 2.3z"/><path color="#abf838" d="M259.4 98l3.9 0.3 2.3-2.2-3.9-0.3z"/><path color="#a9f838" d="M261.7 95.8l3.9 0.3 2.3-2.2-3.9-0.3z"/><path color="#b3f836" d="M263.4 98.3l4 0.2 2.3-2.1-3.9-0.2z"/><path color="#b1f836" d="M265.7 96.1l3.9 0.2 2.3-2.1-3.9-0.2z"/><path class="m" d="M259.4 98l3.9 0.3 4 0.2 2.3-2.1 2.3-2.1-3.9-0.2-3.9-0.3-2.3 2.2z"/><path color="#a8f839" d="M73.8 126.9l4.3 3 2.5-2.7-4.2-3z"/><path color="#adf838" d="M76.3 124.2l4.2 3 2.5-2.7-4.2-3z"/><path color="#9cf93b" d="M78 129.9l4.2 2.8 2.5-2.7-4.2-2.9z"/><path color="#a1f93a" d="M80.5 127.2l4.2 2.9 2.5-2.7-4.2-2.9z"/><path class="m" d="M73.8 126.9l4.3 3 4.2 2.8 2.5-2.7 2.5-2.7-4.2-2.9-4.2-3-2.5 2.7z"/><path color="#aef837" d="M254.8 102.4l4 0.3 2.3-2.2-4-0.3z"/><path color="#acf838" d="M257.1 100.2l4 0.3 2.3-2.2-3.9-0.3z"/><path color="#b6f734" d="M258.8 102.6l4 0.2 2.3-2.2-4-0.2z"/><path color="#b5f835" d="M261.1 100.5l4 0.2 2.3-2.2-4-0.2z"/><path class="m" d="M254.8 102.4l4 0.3 4 0.2 2.3-2.2 2.3-2.2-4-0.2-3.9-0.3-2.3 2.2z"/><path color="#b7f734" d="M60.1 126.1l4.3 3.2 2.5-2.8-4.3-3.2z"/><path color="#bdf732" d="M62.7 123.4l4.3 3.2 2.5-2.8-4.3-3.2z"/><path color="#aaf838" d="M64.4 129.3l4.3 3.1 2.5-2.7-4.3-3.1z"/><path color="#aff837" d="M67 126.6l4.3 3.1 2.5-2.7-4.3-3.1z"/><path class="m" d="M60.1 126.1l4.3 3.2 4.3 3.1 2.5-2.7 2.5-2.7-4.3-3.1-4.3-3.2-2.5 2.8z"/><path color="#9bf93b" d="M87.3 127.3l4.2 2.7 2.5-2.7-4.2-2.8z"/><path color="#9ff93a" d="M89.8 124.6l4.2 2.8 2.5-2.7-4.2-2.8z"/><path color="#91f93e" d="M91.5 130.1l4.2 2.6 2.5-2.7-4.2-2.6z"/><path color="#96f93d" d="M94 127.4l4.2 2.6 2.5-2.7-4.2-2.6z"/><path class="m" d="M87.3 127.3l4.2 2.7 4.2 2.6 2.5-2.7 2.5-2.7-4.2-2.6-4.2-2.8-2.5 2.7z"/><path color="#91f93e" d="M100.6 127.4l4.2 2.5 2.5-2.7-4.1-2.5z"/><path color="#95f93d" d="M103.1 124.7l4.1 2.5 2.5-2.6-4.1-2.6z"/><path color="#89fa40" d="M104.8 129.9l4.1 2.4 2.5-2.6-4.1-2.4z"/><path color="#8cfa3f" d="M107.3 127.2l4.1 2.4 2.5-2.6-4.1-2.4z"/><path class="m" d="M100.6 127.4l4.2 2.5 4.1 2.4 2.5-2.6 2.5-2.6-4.1-2.4-4.1-2.6-2.5 2.7z"/><path color="#89fa40" d="M113.9 127l4.1 2.3 2.5-2.6-4.1-2.3z"/><path color="#8cfa3f" d="M116.4 124.4l4.1 2.3 2.5-2.6-4.1-2.3z"/><path color="#82fa41" d="M118 129.3l4.1 2.2 2.5-2.6-4.1-2.2z"/><path color="#85fa40" d="M120.5 126.7l4.1 2.2 2.5-2.6-4.1-2.2z"/><path class="m" d="M113.9 127l4.1 2.3 4.1 2.2 2.5-2.6 2.5-2.6-4.1-2.2-4.1-2.3-2.5 2.6z"/><path color="#83fa41" d="M127.1 126.3l4.1 2.1 2.5-2.6-4.1-2.1z"/><path color="#86fa40" d="M129.5 123.7l4.1 2.1 2.5-2.6-4.1-2.1z"/><path color="#7efa42" d="M131.1 128.4l4.1 2 2.5-2.6-4.1-2z"/><path color="#80fa41" d="M133.6 125.9l4.1 2 2.5-2.6-4.1-2z"/><path class="m" d="M127.1 126.3l4.1 2.1 4.1 2 2.5-2.6 2.5-2.6-4.1-2-4.1-2.1-2.5 2.6z"/><path color="#7ffa42" d="M140.1 125.3l4.1 1.9 2.5-2.5-4-1.9z"/><path color="#81fa41" d="M142.6 122.7l4 1.9 2.5-2.5-4-1.9z"/><path color="#7bfa43" d="M144.2 127.2l4 1.8 2.4-2.5-4-1.8z"/><path color="#7efa42" d="M146.6 124.7l4 1.8 2.4-2.5-4-1.8z"/><path class="m" d="M140.1 125.3l4.1 1.9 4 1.8 2.4-2.5 2.4-2.5-4-1.8-4-1.9-2.5 2.5z"/><path color="#7dfa42" d="M153.1 123.9l4 1.7 2.4-2.5-4-1.7z"/><path color="#7ffa42" d="M155.6 121.4l4 1.7 2.4-2.5-4-1.7z"/><path color="#7bfa43" d="M157.2 125.6l4 1.6 2.4-2.5-4-1.6z"/><path color="#7dfa42" d="M159.6 123.1l4 1.6 2.4-2.5-4-1.6z"/><path class="m" d="M153.1 123.9l4 1.7 4 1.6 2.4-2.5 2.4-2.5-4-1.6-4-1.7-2.4 2.5z"/><path color="#7dfa42" d="M166 122.2l4 1.5 2.4-2.5-4-1.5z"/><path color="#7ffa42" d="M168.5 119.8l4 1.5 2.4-2.5-4-1.5z"/><path color="#7cfa42" d="M170 123.7l4 1.4 2.4-2.4-4-1.4z"/><path color="#7efa42" d="M172.5 121.3l4 1.4 2.4-2.4-4-1.4z"/><path class="m" d="M166 122.2l4 1.5 4 1.4 2.4-2.4 2.4-2.4-4-1.4-4-1.5-2.4 2.5z"/><path color="#7ffa42" d="M178.9 120.2l4 1.3 2.4-2.4-4-1.3z"/><path color="#80fa41" d="M181.3 117.8l4 1.3 2.4-2.4-4-1.3z"/><path color="#80fa42" d="M182.9 121.6l4 1.2 2.4-2.4-4-1.2z"/><path color="#81fa41" d="M185.3 119.1l4 1.2 2.4-2.4-4-1.2z"/><path class="m" d="M178.9 120.2l4 1.3 4 1.2 2.4-2.4 2.4-2.4-4-1.2-4-1.3-2.4 2.4z"/><path color="#83fa41" d="M191.7 117.9l4 1.1 2.4-2.4-4-1.1z"/><path color="#84fa41" d="M194.1 115.5l4 1.1 2.4-2.4-4-1.2z"/><path color="#85fa40" d="M195.6 119.1l4 1 2.4-2.4-4-1z"/><path color="#86fa40" d="M198 116.7l4 1 2.4-2.4-4-1.1z"/><path class="m" d="M191.7 117.9l4 1.1 4 1 2.4-2.4 2.4-2.4-4-1.1-4-1.2-2.4 2.4z"/><path color="#88fa40" d="M204.4 115.4l4 0.9 2.4-2.3-4-1z"/><path color="#89fa3f" d="M206.8 113l4 1 2.4-2.3-3.9-1z"/><path color="#8cfa3f" d="M208.3 116.3l4 0.8 2.4-2.3-4-0.9z"/><path color="#8cfa3f" d="M210.7 114l4 0.9 2.4-2.3-4-0.9z"/><path class="m" d="M204.4 115.4l4 0.9 4 0.8 2.4-2.3 2.4-2.3-4-0.9-3.9-1-2.4 2.4z"/><path color="#90f93e" d="M217 112.5l4 0.8 2.4-2.3-4-0.8z"/><path color="#8ff93e" d="M219.4 110.2l4 0.8 2.4-2.3-3.9-0.8z"/><path color="#94f93d" d="M221 113.3l4 0.7 2.3-2.3-4-0.7z"/><path color="#94f93d" d="M223.4 111l4 0.7 2.3-2.3-3.9-0.7z"/><path class="m" d="M217 112.5l4 0.8 4 0.7 2.3-2.3 2.3-2.3-3.9-0.7-3.9-0.8-2.4 2.3z"/><path color="#98f93c" d="M229.7 109.4l4 0.6 2.3-2.3-3.9-0.6z"/><path color="#98f93c" d="M232 107.1l3.9 0.6 2.3-2.3-3.9-0.6z"/><path color="#9ef93b" d="M233.6 110l4 0.5 2.3-2.2-4-0.5z"/><path color="#9df93b" d="M236 107.7l4 0.5 2.3-2.2-3.9-0.5z"/><path class="m" d="M229.7 109.4l4 0.6 4 0.5 2.3-2.2 2.3-2.2-3.9-0.5-3.9-0.6-2.3 2.3z"/><path color="#a2f93a" d="M242.3 106l4 0.4 2.3-2.2-3.9-0.5z"/><path color="#a1f93a" d="M244.6 103.8l3.9 0.5 2.3-2.2-3.9-0.5z"/><path color="#a9f838" d="M246.2 106.4l4 0.3 2.3-2.2-4-0.4z"/><path color="#a8f839" d="M248.5 104.2l4 0.4 2.3-2.2-3.9-0.4z"/><path class="m" d="M242.3 106l4 0.4 4 0.3 2.3-2.2 2.3-2.2-3.9-0.4-3.9-0.5-2.3 2.2z"/><path color="#bcf732" d="M267.3 98.5l4 0.1 2.3-2.1-4-0.1z"/><path color="#b9f733" d="M269.6 96.4l4 0.1 2.3-2.1-3.9-0.1z"/><path color="#c5f62f" d="M271.3 98.6l4 0 2.3-2.1-4-0z"/><path color="#c3f730" d="M273.6 96.5l4 0 2.3-2.1-4-0.1z"/><path class="m" d="M267.3 98.5l4 0.1 4 0 2.3-2.1 2.3-2.1-4-0.1-3.9-0.1-2.3 2.1z"/><path color="#acf838" d="M55.1 131.7l4.3 3.2 2.5-2.8-4.3-3.2z"/><path color="#b2f836" d="M57.6 128.9l4.3 3.2 2.5-2.8-4.3-3.2z"/><path color="#a0f93a" d="M59.4 134.9l4.3 3 2.5-2.8-4.3-3.1z"/><path color="#a5f839" d="M61.9 132.1l4.3 3.1 2.5-2.7-4.3-3.1z"/><path class="m" d="M55.1 131.7l4.3 3.2 4.3 3 2.5-2.8 2.5-2.7-4.3-3.1-4.3-3.2-2.5 2.8z"/><path color="#9ef93b" d="M68.7 132.4l4.3 2.9 2.5-2.7-4.3-3z"/><path color="#a3f93a" d="M71.2 129.7l4.3 3 2.5-2.7-4.3-3z"/><path color="#93f93d" d="M73 135.4l4.3 2.8 2.5-2.7-4.2-2.8z"/><path color="#98f93c" d="M75.5 132.6l4.2 2.8 2.5-2.7-4.2-2.8z"/><path class="m" d="M68.7 132.4l4.3 2.9 4.3 2.8 2.5-2.7 2.5-2.7-4.2-2.8-4.3-3-2.5 2.7z"/><path color="#92f93d" d="M82.3 132.8l4.2 2.7 2.5-2.7-4.2-2.7z"/><path color="#97f93c" d="M84.8 130l4.2 2.7 2.5-2.7-4.2-2.7z"/><path color="#89fa3f" d="M86.5 135.5l4.2 2.6 2.5-2.7-4.2-2.6z"/><path color="#8dfa3f" d="M89 132.8l4.2 2.6 2.5-2.7-4.2-2.6z"/><path class="m" d="M82.3 132.8l4.2 2.7 4.2 2.6 2.5-2.7 2.5-2.7-4.2-2.6-4.2-2.7-2.5 2.7z"/><path color="#89fa40" d="M95.6 132.7l4.2 2.5 2.5-2.7-4.2-2.5z"/><path color="#8dfa3f" d="M98.1 130l4.2 2.5 2.5-2.7-4.2-2.5z"/><path color="#81fa41" d="M99.8 135.2l4.2 2.4 2.5-2.6-4.2-2.4z"/><path color="#85fa40" d="M102.3 132.6l4.2 2.4 2.5-2.6-4.1-2.4z"/><path class="m" d="M95.6 132.7l4.2 2.5 4.2 2.4 2.5-2.6 2.5-2.6-4.1-2.4-4.2-2.5-2.5 2.7z"/><path color="#81fa41" d="M108.9 132.3l4.1 2.3 2.5-2.6-4.1-2.3z"/><path color="#85fa40" d="M111.4 129.7l4.1 2.3 2.5-2.6-4.1-2.3z"/><path color="#7bfa43" d="M113.1 134.6l4.1 2.2 2.5-2.6-4.1-2.2z"/><path color="#7ffa42" d="M115.5 132l4.1 2.2 2.5-2.6-4.1-2.2z"/><path class="m" d="M108.9 132.3l4.1 2.3 4.1 2.2 2.5-2.6 2.5-2.6-4.1-2.2-4.1-2.3-2.5 2.6z"/><path color="#7cfa42" d="M122.1 131.5l4.1 2.1 2.5-2.6-4.1-2.1z"/><path color="#80fa42" d="M124.6 128.9l4.1 2.1 2.5-2.6-4.1-2.1z"/><path color="#78fa43" d="M126.2 133.6l4.1 2 2.5-2.6-4.1-2z"/><path color="#7bfa43" d="M128.7 131l4.1 2 2.5-2.6-4.1-2z"/><path class="m" d="M122.1 131.5l4.1 2.1 4.1 2 2.5-2.6 2.5-2.6-4.1-2-4.1-2.1-2.5 2.6z"/><path color="#79fa43" d="M135.2 130.4l4.1 1.9 2.4-2.6-4.1-1.9z"/><path color="#7cfa42" d="M137.7 127.9l4.1 1.9 2.4-2.5-4.1-1.9z"/><path color="#76fa44" d="M139.3 132.3l4.1 1.8 2.4-2.5-4.1-1.8z"/><path color="#79fa43" d="M141.7 129.7l4.1 1.8 2.4-2.5-4-1.8z"/><path class="m" d="M135.2 130.4l4.1 1.9 4.1 1.8 2.4-2.5 2.4-2.5-4-1.8-4.1-1.9-2.5 2.6z"/><path color="#79fa43" d="M148.2 129l4 1.7 2.4-2.5-4-1.7z"/><path color="#7bfa43" d="M150.7 126.5l4 1.7 2.4-2.5-4-1.7z"/><path color="#77fa44" d="M152.3 130.6l4 1.6 2.4-2.5-4-1.6z"/><path color="#79fa43" d="M154.7 128.1l4 1.6 2.4-2.5-4-1.6z"/><path class="m" d="M148.2 129l4 1.7 4 1.6 2.4-2.5 2.4-2.5-4-1.6-4-1.7-2.4 2.5z"/><path color="#7afa43" d="M161.2 127.2l4 1.5 2.4-2.5-4-1.5z"/><path color="#7bfa43" d="M163.6 124.7l4 1.5 2.4-2.5-4-1.5z"/><path color="#79fa43" d="M165.2 128.7l4 1.4 2.4-2.5-4-1.4z"/><path color="#7bfa43" d="M167.6 126.2l4 1.4 2.4-2.5-4-1.4z"/><path class="m" d="M161.2 127.2l4 1.5 4 1.4 2.4-2.5 2.4-2.5-4-1.4-4-1.5-2.4 2.5z"/><path color="#7dfa42" d="M174 125.1l4 1.3 2.4-2.4-4-1.3z"/><path color="#7efa42" d="M176.5 122.7l4 1.3 2.4-2.4-4-1.3z"/><path color="#7efa42" d="M178.1 126.4l4 1.2 2.4-2.4-4-1.2z"/><path color="#7ffa42" d="M180.5 124l4 1.2 2.4-2.4-4-1.2z"/><path class="m" d="M174 125.1l4 1.3 4 1.2 2.4-2.4 2.4-2.4-4-1.2-4-1.3-2.4 2.4z"/><path color="#81fa41" d="M186.9 122.8l4 1.1 2.4-2.4-4-1.1z"/><path color="#82fa41" d="M189.3 120.3l4 1.1 2.4-2.4-4-1.1z"/><path color="#84fa41" d="M190.8 123.9l4 1 2.4-2.4-4-1z"/><path color="#84fa40" d="M193.2 121.5l4 1 2.4-2.4-4-1z"/><path class="m" d="M186.9 122.8l4 1.1 4 1 2.4-2.4 2.4-2.4-4-1-4-1.1-2.4 2.4z"/><path color="#88fa40" d="M199.6 120.1l4 0.9 2.4-2.4-4-0.9z"/><path color="#88fa40" d="M202 117.7l4 0.9 2.4-2.3-4-0.9z"/><path color="#8bfa3f" d="M203.6 121l4 0.8 2.4-2.3-4-0.8z"/><path color="#8cfa3f" d="M206 118.7l4 0.8 2.4-2.3-4-0.8z"/><path class="m" d="M199.6 120.1l4 0.9 4 0.8 2.4-2.3 2.4-2.3-4-0.8-4-0.9-2.4 2.4z"/><path color="#90f93e" d="M212.3 117.1l4 0.7 2.4-2.3-4-0.8z"/><path color="#90f93e" d="M214.7 114.8l4 0.8 2.4-2.3-4-0.8z"/><path color="#95f93d" d="M216.3 117.9l4 0.6 2.4-2.3-4-0.7z"/><path color="#94f93d" d="M218.7 115.6l4 0.7 2.4-2.3-4-0.7z"/><path class="m" d="M212.3 117.1l4 0.7 4 0.6 2.4-2.3 2.4-2.3-4-0.7-4-0.8-2.4 2.3z"/><path color="#99f93c" d="M225 113.9l4 0.6 2.3-2.3-4-0.6z"/><path color="#99f93c" d="M227.3 111.7l4 0.6 2.3-2.3-4-0.6z"/><path color="#9ff93a" d="M229 114.5l4 0.5 2.3-2.3-4-0.5z"/><path color="#9ff93b" d="M231.3 112.2l4 0.5 2.3-2.3-4-0.5z"/><path class="m" d="M225 113.9l4 0.6 4 0.5 2.3-2.3 2.3-2.3-4-0.5-4-0.6-2.3 2.3z"/><path color="#a4f839" d="M237.6 110.5l4 0.4 2.3-2.2-4-0.4z"/><path color="#a3f93a" d="M239.9 108.2l4 0.4 2.3-2.2-4-0.4z"/><path color="#acf838" d="M241.6 110.9l4 0.3 2.3-2.2-4-0.3z"/><path color="#aaf838" d="M243.9 108.6l4 0.3 2.3-2.2-4-0.3z"/><path class="m" d="M237.6 110.5l4 0.4 4 0.3 2.3-2.2 2.3-2.2-4-0.3-4-0.4-2.3 2.2z"/><path color="#b1f836" d="M250.2 106.8l4 0.2 2.3-2.2-4-0.3z"/><path color="#aff837" d="M252.5 104.6l4 0.3 2.3-2.2-4-0.3z"/><path color="#baf733" d="M254.2 107l4 0.2 2.3-2.2-4-0.2z"/><path color="#b8f734" d="M256.5 104.8l4 0.2 2.3-2.2-4-0.2z"/><path class="m" d="M250.2 106.8l4 0.2 4 0.2 2.3-2.2 2.3-2.2-4-0.2-4-0.3-2.3 2.2z"/><path color="#c0f731" d="M262.7 102.8l4 0.1 2.3-2.1-4-0.1z"/><path color="#bef732" d="M265 100.7l4 0.1 2.3-2.1-4-0.1z"/><path color="#caf62d" d="M266.7 102.9l4-0 2.3-2.1-4-0z"/><path color="#c8f62e" d="M269 100.8l4 0 2.3-2.1-4-0z"/><path class="m" d="M262.7 102.8l4 0.1 4-0 2.3-2.1 2.3-2.1-4-0-4-0.1-2.3 2.2z"/><path color="#d0f62b" d="M275.3 98.6l4-0.1 2.3-2.1-4 0z"/><path color="#cdf62c" d="M277.5 96.5l4-0 2.3-2.1-4 0z"/><path color="#daf527" d="M279.3 98.6l4-0.2 2.3-2.1-4 0.1z"/><path color="#d8f528" d="M281.5 96.5l4-0.1 2.3-2.1-4 0.1z"/><path class="m" d="M275.3 98.6l4-0.1 4-0.2 2.3-2.1 2.3-2.1-4 0.1-4 0-2.3 2.1z"/><path color="#a2f93a" d="M50 137.3l4.3 3.2 2.5-2.8-4.3-3.2z"/><path color="#a7f839" d="M52.6 134.5l4.3 3.2 2.5-2.8-4.3-3.2z"/><path color="#96f93d" d="M54.4 140.4l4.3 3 2.5-2.8-4.3-3z"/><path color="#9bf93b" d="M56.9 137.6l4.3 3 2.5-2.8-4.3-3z"/><path class="m" d="M50 137.3l4.3 3.2 4.3 3 2.5-2.8 2.5-2.8-4.3-3-4.3-3.2-2.5 2.8z"/><path color="#94f93d" d="M63.7 137.9l4.3 2.9 2.5-2.7-4.3-2.9z"/><path color="#99f93c" d="M66.2 135.2l4.3 2.9 2.5-2.7-4.3-2.9z"/><path color="#8afa3f" d="M68 140.8l4.3 2.8 2.5-2.7-4.3-2.8z"/><path color="#8ff93e" d="M70.5 138.1l4.3 2.8 2.5-2.7-4.3-2.8z"/><path class="m" d="M63.7 137.9l4.3 2.9 4.3 2.8 2.5-2.7 2.5-2.7-4.3-2.8-4.3-2.9-2.5 2.7z"/><path color="#89fa3f" d="M77.3 138.2l4.2 2.7 2.5-2.7-4.2-2.7z"/><path color="#8ef93e" d="M79.8 135.5l4.2 2.7 2.5-2.7-4.2-2.7z"/><path color="#80fa41" d="M81.5 140.9l4.2 2.6 2.5-2.7-4.2-2.6z"/><path color="#85fa40" d="M84 138.2l4.2 2.6 2.5-2.7-4.2-2.6z"/><path class="m" d="M77.3 138.2l4.2 2.7 4.2 2.6 2.5-2.7 2.5-2.7-4.2-2.6-4.2-2.7-2.5 2.7z"/><path color="#81fa41" d="M90.7 138.1l4.2 2.5 2.5-2.7-4.2-2.5z"/><path color="#85fa40" d="M93.2 135.4l4.2 2.5 2.5-2.7-4.2-2.5z"/><path color="#79fa43" d="M94.9 140.5l4.2 2.4 2.5-2.7-4.2-2.4z"/><path color="#7dfa42" d="M97.3 137.9l4.2 2.4 2.5-2.7-4.2-2.4z"/><path class="m" d="M90.7 138.1l4.2 2.5 4.2 2.4 2.5-2.7 2.5-2.7-4.2-2.4-4.2-2.5-2.5 2.7z"/><path color="#7afa43" d="M104 137.6l4.1 2.3 2.5-2.6-4.1-2.3z"/><path color="#7efa42" d="M106.5 134.9l4.1 2.3 2.5-2.6-4.1-2.3z"/><path color="#74fa44" d="M108.1 139.8l4.1 2.1 2.5-2.6-4.1-2.2z"/><path color="#78fa43" d="M110.6 137.2l4.1 2.2 2.5-2.6-4.1-2.2z"/><path class="m" d="M104 137.6l4.1 2.3 4.1 2.1 2.5-2.6 2.5-2.6-4.1-2.2-4.1-2.3-2.5 2.6z"/><path color="#76fa44" d="M117.2 136.8l4.1 2 2.5-2.6-4.1-2.1z"/><path color="#79fa43" d="M119.7 134.1l4.1 2.1 2.5-2.6-4.1-2.1z"/><path color="#72fa45" d="M121.3 138.8l4.1 1.9 2.5-2.6-4.1-1.9z"/><path color="#75fa44" d="M123.8 136.2l4.1 1.9 2.5-2.6-4.1-2z"/><path class="m" d="M117.2 136.8l4.1 2 4.1 1.9 2.5-2.6 2.5-2.6-4.1-2-4.1-2.1-2.5 2.6z"/><path color="#74fa44" d="M130.3 135.6l4.1 1.8 2.4-2.6-4.1-1.9z"/><path color="#77fa44" d="M132.8 133l4.1 1.9 2.4-2.6-4.1-1.9z"/><path color="#71fa45" d="M134.4 137.4l4.1 1.7 2.4-2.5-4.1-1.7z"/><path color="#74fa44" d="M136.8 134.8l4.1 1.7 2.4-2.5-4.1-1.8z"/><path class="m" d="M130.3 135.6l4.1 1.8 4.1 1.7 2.4-2.5 2.4-2.5-4.1-1.8-4.1-1.9-2.5 2.6z"/><path color="#74fa44" d="M143.4 134l4.1 1.6 2.4-2.5-4.1-1.7z"/><path color="#76fa44" d="M145.8 131.5l4.1 1.7 2.4-2.5-4-1.7z"/><path color="#73fa45" d="M147.4 135.7l4.1 1.5 2.4-2.5-4-1.5z"/><path color="#75fa44" d="M149.8 133.2l4 1.5 2.4-2.5-4-1.6z"/><path class="m" d="M143.4 134l4.1 1.6 4.1 1.5 2.4-2.5 2.4-2.5-4-1.6-4-1.7-2.4 2.5z"/><path color="#7afa43" d="M169.2 130l4 1.3 2.4-2.4-4-1.3z"/><path color="#7bfa43" d="M171.6 127.6l4 1.3 2.4-2.4-4-1.3z"/><path color="#7bfa43" d="M173.2 131.3l4 1.1 2.4-2.4-4-1.2z"/><path color="#7cfa42" d="M175.6 128.9l4 1.2 2.4-2.4-4-1.2z"/><path class="m" d="M169.2 130l4 1.3 4 1.1 2.4-2.4 2.4-2.4-4-1.2-4-1.3-2.4 2.5z"/><path color="#87fa40" d="M194.8 124.8l4 0.9 2.4-2.4-4-0.9z"/><path color="#87fa40" d="M197.2 122.5l4 0.9 2.4-2.4-4-0.9z"/><path color="#8bfa3f" d="M198.8 125.7l4 0.8 2.4-2.4-4-0.8z"/><path color="#8bfa3f" d="M201.2 123.4l4 0.8 2.4-2.3-4-0.8z"/><path class="m" d="M194.8 124.8l4 0.9 4 0.8 2.4-2.4 2.4-2.3-4-0.8-4-0.9-2.4 2.4z"/><path color="#90f93e" d="M207.6 121.8l4 0.7 2.4-2.3-4-0.7z"/><path color="#90f93e" d="M209.9 119.5l4 0.7 2.4-2.3-4-0.7z"/><path color="#95f93d" d="M211.6 122.5l4 0.6 2.4-2.3-4-0.6z"/><path color="#95f93d" d="M213.9 120.2l4 0.6 2.4-2.3-4-0.6z"/><path class="m" d="M207.6 121.8l4 0.7 4 0.6 2.4-2.3 2.4-2.3-4-0.6-4-0.7-2.4 2.3z"/><path color="#9af93c" d="M220.3 118.5l4 0.5 2.3-2.3-4-0.6z"/><path color="#9af93c" d="M222.6 116.2l4 0.6 2.3-2.3-4-0.6z"/><path color="#a1f93a" d="M224.3 119.1l4 0.4 2.3-2.3-4-0.5z"/><path color="#a0f93a" d="M226.6 116.8l4 0.5 2.3-2.3-4-0.5z"/><path class="m" d="M220.3 118.5l4 0.5 4 0.4 2.3-2.3 2.3-2.3-4-0.5-4-0.6-2.4 2.3z"/><path color="#a6f839" d="M232.9 115l4 0.4 2.3-2.2-4-0.4z"/><path color="#a5f839" d="M235.3 112.7l4 0.4 2.3-2.2-4-0.4z"/><path color="#aef837" d="M236.9 115.4l4 0.3 2.3-2.2-4-0.3z"/><path color="#adf838" d="M239.2 113.1l4 0.3 2.3-2.2-4-0.3z"/><path class="m" d="M232.9 115l4 0.4 4 0.3 2.3-2.2 2.3-2.2-4-0.3-4-0.4-2.3 2.3z"/><path color="#b4f835" d="M245.6 111.2l4 0.2 2.3-2.2-4-0.2z"/><path color="#b2f836" d="M247.9 109l4 0.2 2.3-2.2-4-0.2z"/><path color="#bdf732" d="M249.6 111.4l4 0.1 2.3-2.2-4-0.1z"/><path color="#bcf732" d="M251.9 109.2l4 0.1 2.3-2.2-4-0.2z"/><path class="m" d="M245.6 111.2l4 0.2 4 0.1 2.3-2.2 2.3-2.2-4-0.2-4-0.2-2.3 2.2z"/><path color="#c4f62f" d="M258.1 107.2l4 0.1 2.3-2.2-4-0.1z"/><path color="#c2f730" d="M260.4 105l4 0.1 2.3-2.2-4-0.1z"/><path color="#cef62b" d="M262.2 107.2l4-0 2.3-2.1-4 0z"/><path color="#ccf62c" d="M264.4 105.1l4-0 2.3-2.1-4 0z"/><path class="m" d="M258.1 107.2l4 0.1 4-0 2.3-2.1 2.3-2.1-4 0-4-0.1-2.3 2.2z"/><path color="#d5f529" d="M270.7 102.9l4-0.1 2.3-2.1-4 0.1z"/><path color="#d2f52a" d="M273 100.8l4-0.1 2.3-2.1-4 0.1z"/><path color="#def425" d="M274.7 102.8l4-0.2 2.3-2.1-4 0.2z"/><path color="#dcf426" d="M277 100.7l4-0.2 2.3-2.1-4 0.2z"/><path class="m" d="M270.7 102.9l4-0.1 4-0.2 2.3-2.1 2.3-2.1-4 0.2-4 0.1-2.3 2.1z"/><path color="#e3f322" d="M283.3 98.4l4-0.2 2.2-2.1-4 0.2z"/><path color="#e1f323" d="M285.5 96.3l4-0.2 2.2-2.1-4 0.2z"/><path color="#ecf11d" d="M287.3 98.2l4-0.3 2.2-2.1-4 0.3z"/><path color="#eaf21f" d="M289.5 96.1l4-0.3 2.2-2.1-4 0.3z"/><path class="m" d="M283.3 98.4l4-0.2 4-0.3 2.2-2.1 2.2-2.1-4 0.3-4 0.2-2.3 2.1z"/><path color="#76fa44" d="M156.3 132.2l4 1.4 2.4-2.5-4-1.5z"/><path color="#78fa43" d="M158.7 129.7l4 1.5 2.4-2.5-4-1.5z"/><path color="#76fa44" d="M160.4 133.6l4 1.3 2.4-2.5-4-1.3z"/><path color="#78fa43" d="M162.8 131.2l4 1.3 2.4-2.5-4-1.4z"/><path class="m" d="M156.3 132.2l4 1.4 4 1.3 2.4-2.5 2.4-2.5-4-1.4-4-1.5-2.4 2.5z"/><path color="#7ffa42" d="M182.1 127.6l4 1.1 2.4-2.4-4-1.1z"/><path color="#80fa41" d="M184.5 125.2l4 1.1 2.4-2.4-4-1.1z"/><path color="#82fa41" d="M186.1 128.7l4 1 2.4-2.4-4-1z"/><path color="#83fa41" d="M188.5 126.3l4 1 2.4-2.4-4-1z"/><path class="m" d="M182.1 127.6l4 1.1 4 1 2.4-2.4 2.4-2.4-4-1-4-1.1-2.4 2.4z"/><path color="#97f93c" d="M45 142.8l4.4 3.1 2.5-2.8-4.3-3.1z"/><path color="#9cf93b" d="M47.5 140.1l4.3 3.1 2.5-2.8-4.3-3.2z"/><path color="#8bfa3f" d="M49.4 146l4.3 3 2.5-2.8-4.3-3z"/><path color="#91f93e" d="M51.9 143.2l4.3 3 2.5-2.8-4.3-3z"/><path class="m" d="M45 142.8l4.4 3.1 4.3 3 2.5-2.8 2.5-2.8-4.3-3-4.3-3.2-2.5 2.8z"/><path color="#8bfa3f" d="M58.7 143.4l4.3 2.9 2.5-2.7-4.3-2.9z"/><path color="#8ff93e" d="M61.2 140.7l4.3 2.9 2.5-2.7-4.3-2.9z"/><path color="#80fa41" d="M63 146.3l4.3 2.8 2.5-2.7-4.3-2.8z"/><path color="#85fa40" d="M65.5 143.6l4.3 2.8 2.5-2.7-4.3-2.8z"/><path class="m" d="M58.7 143.4l4.3 2.9 4.3 2.8 2.5-2.7 2.5-2.7-4.3-2.8-4.3-2.9-2.5 2.8z"/><path color="#80fa41" d="M72.3 143.6l4.2 2.7 2.5-2.7-4.2-2.7z"/><path color="#85fa40" d="M74.8 140.9l4.2 2.7 2.5-2.7-4.2-2.7z"/><path color="#78fa43" d="M76.5 146.3l4.2 2.5 2.5-2.7-4.2-2.6z"/><path color="#7cfa42" d="M79 143.6l4.2 2.6 2.5-2.7-4.2-2.6z"/><path class="m" d="M72.3 143.6l4.2 2.7 4.2 2.5 2.5-2.7 2.5-2.7-4.2-2.6-4.2-2.7-2.5 2.7z"/><path color="#78fa43" d="M85.7 143.5l4.2 2.4 2.5-2.7-4.2-2.5z"/><path color="#7dfa42" d="M88.2 140.8l4.2 2.5 2.5-2.7-4.2-2.5z"/><path color="#72fa45" d="M89.9 145.9l4.2 2.3 2.5-2.7-4.2-2.3z"/><path color="#75fa44" d="M92.4 143.2l4.2 2.3 2.5-2.7-4.2-2.4z"/><path class="m" d="M85.7 143.5l4.2 2.4 4.2 2.3 2.5-2.7 2.5-2.7-4.2-2.4-4.2-2.5-2.5 2.7z"/><path color="#73fa45" d="M99 142.9l4.2 2.2 2.5-2.6-4.2-2.2z"/><path color="#77fa44" d="M101.5 140.2l4.2 2.2 2.5-2.6-4.1-2.3z"/><path color="#6efa46" d="M103.2 145.1l4.2 2.1 2.5-2.6-4.1-2.1z"/><path color="#71fa45" d="M105.7 142.5l4.1 2.1 2.5-2.6-4.1-2.1z"/><path class="m" d="M99 142.9l4.2 2.2 4.2 2.1 2.5-2.6 2.5-2.6-4.1-2.1-4.1-2.3-2.5 2.7z"/><path color="#70fa45" d="M112.3 142l4.1 2 2.5-2.6-4.1-2z"/><path color="#73fa45" d="M114.7 139.4l4.1 2 2.5-2.6-4.1-2z"/><path color="#6cfa46" d="M116.4 144l4.1 1.9 2.4-2.6-4.1-1.9z"/><path color="#6ffa45" d="M118.9 141.4l4.1 1.9 2.4-2.6-4.1-1.9z"/><path class="m" d="M112.3 142l4.1 2 4.1 1.9 2.4-2.6 2.4-2.6-4.1-1.9-4.1-2-2.5 2.6z"/><path color="#6efa46" d="M125.4 140.7l4.1 1.8 2.4-2.6-4.1-1.8z"/><path color="#71fa45" d="M127.9 138.1l4.1 1.8 2.4-2.6-4.1-1.8z"/><path color="#6cfa46" d="M129.5 142.5l4.1 1.7 2.4-2.6-4.1-1.7z"/><path color="#6ffa46" d="M132 140l4.1 1.7 2.4-2.6-4.1-1.7z"/><path class="m" d="M125.4 140.7l4.1 1.8 4.1 1.7 2.4-2.6 2.4-2.6-4.1-1.7-4.1-1.8-2.5 2.6z"/><path color="#6ffa45" d="M138.5 139.1l4.1 1.6 2.4-2.5-4.1-1.6z"/><path color="#72fa45" d="M140.9 136.6l4.1 1.6 2.4-2.5-4.1-1.6z"/><path color="#6efa46" d="M142.5 140.7l4.1 1.5 2.4-2.5-4.1-1.5z"/><path color="#70fa45" d="M145 138.2l4.1 1.5 2.4-2.5-4.1-1.5z"/><path class="m" d="M138.5 139.1l4.1 1.6 4.1 1.5 2.4-2.5 2.4-2.5-4.1-1.5-4.1-1.6-2.4 2.5z"/><path color="#72fa45" d="M151.5 137.2l4.1 1.4 2.4-2.5-4-1.4z"/><path color="#74fa44" d="M153.9 134.7l4 1.4 2.4-2.5-4-1.4z"/><path color="#73fa45" d="M155.5 138.6l4.1 1.3 2.4-2.5-4-1.3z"/><path color="#74fa44" d="M157.9 136.1l4 1.3 2.4-2.5-4-1.3z"/><path class="m" d="M151.5 137.2l4.1 1.4 4.1 1.3 2.4-2.5 2.4-2.5-4-1.3-4-1.4-2.4 2.5z"/><path color="#77fa44" d="M164.4 135l4 1.2 2.4-2.5-4-1.2z"/><path color="#78fa43" d="M166.8 132.5l4 1.2 2.4-2.5-4-1.3z"/><path color="#79fa43" d="M168.4 136.2l4 1.1 2.4-2.4-4-1.1z"/><path color="#7afa43" d="M170.8 133.8l4 1.1 2.4-2.4-4-1.1z"/><path class="m" d="M164.4 135l4 1.2 4 1.1 2.4-2.4 2.4-2.4-4-1.1-4-1.3-2.4 2.5z"/><path color="#7dfa42" d="M177.3 132.4l4 1 2.4-2.4-4-1.1z"/><path color="#7efa42" d="M179.7 130l4 1.1 2.4-2.4-4-1.1z"/><path color="#80fa41" d="M181.3 133.5l4 0.9 2.4-2.4-4-1z"/><path color="#81fa41" d="M183.7 131.1l4 1 2.4-2.4-4-1z"/><path class="m" d="M177.3 132.4l4 1 4 0.9 2.4-2.4 2.4-2.4-4-1-4-1.1-2.4 2.4z"/><path color="#86fa40" d="M190.1 129.6l4 0.9 2.4-2.4-4-0.9z"/><path color="#86fa40" d="M192.5 127.2l4 0.9 2.4-2.4-4-0.9z"/><path color="#8afa3f" d="M194.1 130.5l4 0.8 2.4-2.4-4-0.8z"/><path color="#8afa3f" d="M196.5 128.1l4 0.8 2.4-2.4-4-0.8z"/><path class="m" d="M190.1 129.6l4 0.9 4 0.8 2.4-2.4 2.4-2.4-4-0.8-4-0.9-2.4 2.4z"/><path color="#8ff93e" d="M202.8 126.5l4 0.7 2.4-2.3-4-0.7z"/><path color="#90f93e" d="M205.2 124.2l4 0.7 2.4-2.3-4-0.7z"/><path color="#95f93d" d="M206.9 127.2l4 0.6 2.4-2.3-4-0.6z"/><path color="#95f93d" d="M209.2 124.9l4 0.6 2.4-2.3-4-0.6z"/><path class="m" d="M202.8 126.5l4 0.7 4 0.6 2.4-2.3 2.4-2.3-4-0.6-4-0.7-2.4 2.3z"/><path color="#9bf93b" d="M215.6 123.2l4 0.5 2.3-2.3-4-0.5z"/><path color="#9bf93c" d="M217.9 120.8l4 0.5 2.3-2.3-4-0.5z"/><path color="#a2f93a" d="M219.6 123.7l4 0.4 2.3-2.3-4-0.4z"/><path color="#a1f93a" d="M221.9 121.4l4 0.4 2.3-2.3-4-0.4z"/><path class="m" d="M215.6 123.2l4 0.5 4 0.4 2.3-2.3 2.3-2.3-4-0.4-4-0.5-2.4 2.3z"/><path color="#a8f839" d="M228.3 119.5l4 0.3 2.3-2.3-4-0.4z"/><path color="#a7f839" d="M230.6 117.3l4 0.4 2.3-2.2-4-0.4z"/><path color="#b0f837" d="M232.3 119.9l4 0.3 2.3-2.2-4-0.3z"/><path color="#aff837" d="M234.6 117.6l4 0.3 2.3-2.2-4-0.3z"/><path class="m" d="M228.3 119.5l4 0.3 4 0.3 2.3-2.2 2.3-2.2-4-0.3-4-0.4-2.3 2.3z"/><path color="#b7f734" d="M240.9 115.6l4 0.2 2.3-2.2-4-0.2z"/><path color="#b5f835" d="M243.2 113.4l4 0.2 2.3-2.2-4-0.2z"/><path color="#c0f731" d="M244.9 115.8l4 0.1 2.3-2.2-4-0.1z"/><path color="#bff731" d="M247.2 113.6l4 0.1 2.3-2.2-4-0.1z"/><path class="m" d="M240.9 115.6l4 0.2 4 0.1 2.3-2.2 2.3-2.2-4-0.1-4-0.2-2.3 2.2z"/><path color="#c7f62e" d="M253.6 111.5l4 0 2.3-2.2-4-0z"/><path color="#c5f62f" d="M255.9 109.3l4 0 2.3-2.2-4-0.1z"/><path color="#d2f52a" d="M257.6 111.6l4-0.1 2.3-2.2-4 0z"/><path color="#d0f62b" d="M259.9 109.4l4-0 2.3-2.2-4 0z"/><path class="m" d="M253.6 111.5l4 0 4-0.1 2.3-2.2 2.3-2.2-4 0-4-0.1-2.3 2.2z"/><path color="#d9f527" d="M266.2 107.2l4-0.1 2.3-2.1-4 0.1z"/><path color="#d7f528" d="M268.4 105l4-0.1 2.3-2.1-4 0.1z"/><path color="#e2f323" d="M270.2 107.1l4-0.2 2.3-2.1-4 0.2z"/><path color="#e0f424" d="M272.5 104.9l4-0.2 2.3-2.1-4 0.2z"/><path class="m" d="M266.2 107.2l4-0.1 4-0.2 2.3-2.1 2.3-2.1-4 0.2-4 0.1-2.3 2.1z"/><path color="#e7f220" d="M278.7 102.6l4-0.3 2.2-2.1-4 0.3z"/><path color="#e5f321" d="M281 100.5l4-0.3 2.2-2.1-4 0.2z"/><path color="#f1f11b" d="M282.8 102.4l4.1-0.4 2.2-2.1-4 0.3z"/><path color="#eff11c" d="M285 100.3l4-0.3 2.2-2.1-4 0.3z"/><path class="m" d="M278.7 102.6l4-0.3 4.1-0.4 2.2-2.1 2.2-2.1-4 0.3-4 0.2-2.3 2.1z"/><path color="#f6ef18" d="M291.3 97.9l4-0.4 2.2-2-4 0.4z"/><path color="#f4f01a" d="M293.5 95.8l4-0.4 2.2-2-4 0.4z"/><path color="#fae713" d="M295.4 97.5l4.1-0.5 2.2-2-4.1 0.5z"/><path color="#f9e914" d="M297.6 95.4l4.1-0.5 2.2-2-4 0.5z"/><path class="m" d="M291.3 97.9l4-0.4 4.1-0.5 2.2-2 2.2-2-4 0.5-4 0.4-2.2 2.1z"/><path color="#81fa41" d="M53.7 149l4.3 2.9 2.5-2.8-4.3-2.9z"/><path color="#86fa40" d="M56.2 146.2l4.3 2.9 2.5-2.8-4.3-2.9z"/><path color="#77fa44" d="M58 151.8l4.3 2.7 2.5-2.7-4.3-2.8z"/><path color="#7cfa42" d="M60.5 149.1l4.3 2.8 2.5-2.7-4.3-2.8z"/><path class="m" d="M53.7 149l4.3 2.9 4.3 2.7 2.5-2.7 2.5-2.7-4.3-2.8-4.3-2.9-2.5 2.8z"/><path color="#69fa47" d="M120.5 145.9l4.1 1.8 2.4-2.6-4.1-1.8z"/><path color="#6cfa46" d="M123 143.3l4.1 1.8 2.4-2.6-4.1-1.8z"/><path color="#67fa47" d="M124.6 147.7l4.1 1.7 2.4-2.6-4.1-1.7z"/><path color="#69fa47" d="M127.1 145.1l4.1 1.7 2.4-2.6-4.1-1.7z"/><path class="m" d="M120.5 145.9l4.1 1.8 4.1 1.7 2.4-2.6 2.4-2.6-4.1-1.7-4.1-1.8-2.4 2.6z"/><path color="#a9f838" d="M223.6 124.1l4 0.3 2.3-2.3-4-0.3z"/><path color="#a8f838" d="M225.9 121.8l4 0.3 2.3-2.3-4-0.3z"/><path color="#b2f836" d="M227.6 124.4l4 0.2 2.3-2.3-4-0.2z"/><path color="#b1f836" d="M229.9 122.1l4 0.2 2.3-2.2-4-0.3z"/><path class="m" d="M223.6 124.1l4 0.3 4 0.2 2.3-2.3 2.3-2.2-4-0.3-4-0.3-2.3 2.3z"/><path color="#f8eb16" d="M286.8 102l4.1-0.4 2.2-2.1-4.1 0.4z"/><path color="#f7ed17" d="M289.1 99.9l4.1-0.4 2.2-2.1-4 0.4z"/><path color="#fce310" d="M290.9 101.6l4.1-0.5 2.2-2-4.1 0.5z"/><path color="#fbe511" d="M293.1 99.5l4.1-0.5 2.2-2-4.1 0.5z"/><path class="m" d="M286.8 102l4.1-0.4 4.1-0.5 2.2-2 2.2-2-4.1 0.5-4 0.4-2.2 2.1z"/><path color="#77fa44" d="M67.3 149.1l4.3 2.6 2.5-2.7-4.3-2.7z"/><path color="#7cfa42" d="M69.8 146.4l4.3 2.7 2.5-2.7-4.2-2.7z"/><path color="#6ffa45" d="M71.5 151.7l4.2 2.5 2.5-2.7-4.2-2.5z"/><path color="#73fa44" d="M74 149l4.2 2.5 2.5-2.7-4.2-2.5z"/><path class="m" d="M67.3 149.1l4.3 2.6 4.2 2.5 2.5-2.7 2.5-2.7-4.2-2.5-4.2-2.7-2.5 2.7z"/><path color="#70fa45" d="M80.7 148.9l4.2 2.4 2.5-2.7-4.2-2.4z"/><path color="#74fa44" d="M83.2 146.2l4.2 2.4 2.5-2.7-4.2-2.4z"/><path color="#6afa47" d="M85 151.3l4.2 2.3 2.5-2.7-4.2-2.3z"/><path color="#6efa46" d="M87.4 148.6l4.2 2.3 2.5-2.7-4.2-2.3z"/><path class="m" d="M80.7 148.9l4.2 2.4 4.2 2.3 2.5-2.7 2.5-2.7-4.2-2.3-4.2-2.4-2.5 2.7z"/><path color="#6cfa46" d="M94.1 148.2l4.2 2.2 2.5-2.7-4.2-2.2z"/><path color="#6ffa45" d="M96.6 145.6l4.2 2.2 2.5-2.6-4.2-2.2z"/><path color="#67fa47" d="M98.3 150.4l4.2 2.1 2.5-2.6-4.2-2.1z"/><path color="#6afa47" d="M100.7 147.8l4.2 2.1 2.5-2.6-4.2-2.1z"/><path class="m" d="M94.1 148.2l4.2 2.2 4.2 2.1 2.5-2.6 2.5-2.6-4.2-2.1-4.2-2.2-2.5 2.7z"/><path color="#69fa47" d="M107.3 147.2l4.1 2 2.5-2.6-4.1-2z"/><path color="#6cfa46" d="M109.8 144.6l4.1 2 2.5-2.6-4.1-2z"/><path color="#66fa48" d="M111.5 149.2l4.1 1.9 2.4-2.6-4.1-1.9z"/><path color="#69fa47" d="M113.9 146.6l4.1 1.9 2.4-2.6-4.1-1.9z"/><path class="m" d="M107.3 147.2l4.1 2 4.1 1.9 2.4-2.6 2.4-2.6-4.1-1.9-4.1-2-2.5 2.6z"/><path color="#6afa46" d="M133.6 144.2l4.1 1.6 2.4-2.5-4.1-1.6z"/><path color="#6dfa46" d="M136 141.7l4.1 1.6 2.4-2.5-4.1-1.6z"/><path color="#6afa47" d="M137.7 145.8l4.1 1.5 2.4-2.5-4.1-1.5z"/><path color="#6cfa46" d="M140.1 143.3l4.1 1.5 2.4-2.5-4.1-1.5z"/><path class="m" d="M133.6 144.2l4.1 1.6 4.1 1.5 2.4-2.5 2.4-2.5-4.1-1.5-4.1-1.6-2.4 2.6z"/><path color="#6efa46" d="M146.6 142.2l4.1 1.4 2.4-2.5-4.1-1.4z"/><path color="#70fa45" d="M149 139.7l4.1 1.4 2.4-2.5-4.1-1.4z"/><path color="#6ffa45" d="M150.7 143.6l4.1 1.3 2.4-2.5-4.1-1.3z"/><path color="#71fa45" d="M153.1 141.1l4.1 1.3 2.4-2.5-4.1-1.3z"/><path class="m" d="M146.6 142.2l4.1 1.4 4.1 1.3 2.4-2.5 2.4-2.5-4.1-1.3-4.1-1.4-2.4 2.5z"/><path color="#74fa44" d="M159.6 139.9l4.1 1.2 2.4-2.5-4-1.2z"/><path color="#75fa44" d="M162 137.5l4 1.2 2.4-2.5-4-1.2z"/><path color="#76fa44" d="M163.6 141.1l4.1 1.1 2.4-2.5-4-1.1z"/><path color="#77fa44" d="M166 138.7l4 1.1 2.4-2.4-4-1.1z"/><path class="m" d="M159.6 139.9l4.1 1.2 4.1 1.1 2.4-2.5 2.4-2.4-4-1.1-4-1.2-2.4 2.5z"/><path color="#7bfa43" d="M172.5 137.3l4 1 2.4-2.4-4-1z"/><path color="#7cfa42" d="M174.9 134.9l4 1 2.4-2.4-4-1z"/><path color="#7ffa42" d="M176.5 138.3l4 0.9 2.4-2.4-4-0.9z"/><path color="#7ffa42" d="M178.9 135.9l4 0.9 2.4-2.4-4-0.9z"/><path class="m" d="M172.5 137.3l4 1 4 0.9 2.4-2.4 2.4-2.4-4-0.9-4-1-2.4 2.4z"/><path color="#84fa40" d="M185.3 134.4l4 0.8 2.4-2.4-4-0.8z"/><path color="#85fa40" d="M187.7 132l4 0.8 2.4-2.4-4-0.9z"/><path color="#89fa3f" d="M189.3 135.3l4 0.7 2.4-2.4-4-0.7z"/><path color="#89fa3f" d="M191.7 132.9l4 0.7 2.4-2.4-4-0.8z"/><path class="m" d="M185.3 134.4l4 0.8 4 0.7 2.4-2.4 2.4-2.4-4-0.8-4-0.9-2.4 2.4z"/><path color="#8ff93e" d="M198.1 131.2l4 0.7 2.4-2.3-4-0.7z"/><path color="#8ff93e" d="M200.5 128.9l4 0.7 2.4-2.3-4-0.7z"/><path color="#95f93d" d="M202.1 131.9l4 0.6 2.4-2.3-4-0.6z"/><path color="#95f93d" d="M204.5 129.6l4 0.6 2.4-2.3-4-0.6z"/><path class="m" d="M198.1 131.2l4 0.7 4 0.6 2.4-2.3 2.4-2.3-4-0.6-4-0.7-2.4 2.4z"/><path color="#9bf93b" d="M210.9 127.8l4 0.5 2.3-2.3-4-0.5z"/><path color="#9bf93b" d="M213.2 125.5l4 0.5 2.3-2.3-4-0.5z"/><path color="#a2f93a" d="M214.9 128.3l4 0.4 2.3-2.3-4-0.4z"/><path color="#a2f93a" d="M217.2 126l4 0.4 2.3-2.3-4-0.4z"/><path class="m" d="M210.9 127.8l4 0.5 4 0.4 2.3-2.3 2.3-2.3-4-0.4-4-0.5-2.4 2.3z"/><path color="#b9f733" d="M236.3 120.1l4 0.2 2.3-2.2-4-0.2z"/><path color="#b8f734" d="M238.6 117.9l4 0.2 2.3-2.2-4-0.2z"/><path color="#c3f62f" d="M240.3 120.3l4 0.1 2.3-2.2-4-0.1z"/><path color="#c2f730" d="M242.6 118.1l4 0.1 2.3-2.2-4-0.1z"/><path class="m" d="M236.3 120.1l4 0.2 4 0.1 2.3-2.2 2.3-2.2-4-0.1-4-0.2-2.3 2.2z"/><path color="#cbf62d" d="M249 115.9l4-0 2.3-2.2-4-0z"/><path color="#c9f62d" d="M251.3 113.7l4 0 2.3-2.2-4-0z"/><path color="#d6f528" d="M253 115.9l4-0.1 2.3-2.2-4 0.1z"/><path color="#d4f529" d="M255.3 113.7l4-0.1 2.3-2.2-4 0.1z"/><path class="m" d="M249 115.9l4-0 4-0.1 2.3-2.2 2.3-2.2-4 0.1-4-0-2.3 2.2z"/><path color="#dcf426" d="M261.6 111.5l4-0.2 2.3-2.1-4 0.1z"/><path color="#daf426" d="M263.9 109.3l4-0.1 2.3-2.1-4 0.1z"/><path color="#e5f321" d="M265.7 111.3l4.1-0.2 2.3-2.1-4 0.2z"/><path color="#e3f322" d="M267.9 109.2l4-0.2 2.3-2.1-4 0.2z"/><path class="m" d="M261.6 111.5l4-0.2 4.1-0.2 2.3-2.1 2.3-2.1-4 0.2-4 0.1-2.3 2.2z"/><path color="#ebf21e" d="M274.2 106.9l4.1-0.3 2.2-2.1-4 0.3z"/><path color="#e9f21f" d="M276.5 104.7l4-0.3 2.2-2.1-4 0.3z"/><path color="#f5f019" d="M278.3 106.6l4.1-0.4 2.2-2.1-4.1 0.4z"/><path color="#f3f01a" d="M280.5 104.5l4.1-0.4 2.2-2.1-4.1 0.4z"/><path class="m" d="M274.2 106.9l4.1-0.3 4.1-0.4 2.2-2.1 2.2-2.1-4.1 0.4-4 0.3-2.3 2.1z"/><path color="#6efa46" d="M62.3 154.6l4.3 2.6 2.5-2.7-4.3-2.6z"/><path color="#73fa45" d="M64.8 151.8l4.3 2.6 2.5-2.7-4.3-2.6z"/><path color="#66fa47" d="M66.6 157.2l4.3 2.5 2.5-2.7-4.3-2.5z"/><path color="#6bfa46" d="M69.1 154.5l4.3 2.5 2.5-2.7-4.2-2.5z"/><path class="m" d="M62.3 154.6l4.3 2.6 4.3 2.5 2.5-2.7 2.5-2.7-4.2-2.5-4.3-2.6-2.5 2.7z"/><path color="#64fa48" d="M89.2 153.6l4.2 2.2 2.5-2.7-4.2-2.2z"/><path color="#68fa47" d="M91.6 150.9l4.2 2.2 2.5-2.7-4.2-2.2z"/><path color="#60fa49" d="M93.4 155.7l4.2 2.1 2.5-2.6-4.2-2.1z"/><path color="#63fa48" d="M95.8 153.1l4.2 2.1 2.5-2.6-4.2-2.1z"/><path class="m" d="M89.2 153.6l4.2 2.2 4.2 2.1 2.5-2.6 2.5-2.6-4.2-2.1-4.2-2.2-2.5 2.7z"/><path color="#63fa48" d="M115.6 151.1l4.1 1.8 2.4-2.6-4.1-1.8z"/><path color="#66fa48" d="M118.1 148.5l4.1 1.8 2.4-2.6-4.1-1.8z"/><path color="#62fa48" d="M119.8 152.9l4.1 1.6 2.4-2.6-4.1-1.7z"/><path color="#64fa48" d="M122.2 150.3l4.1 1.7 2.4-2.6-4.1-1.7z"/><path class="m" d="M115.6 151.1l4.1 1.8 4.1 1.6 2.4-2.6 2.4-2.6-4.1-1.7-4.1-1.8-2.4 2.6z"/><path color="#66fa48" d="M128.7 149.4l4.1 1.6 2.4-2.6-4.1-1.6z"/><path color="#68fa47" d="M131.2 146.8l4.1 1.6 2.4-2.5-4.1-1.6z"/><path color="#65fa48" d="M132.8 150.9l4.1 1.4 2.4-2.5-4.1-1.5z"/><path color="#68fa47" d="M135.3 148.4l4.1 1.5 2.4-2.5-4.1-1.5z"/><path class="m" d="M128.7 149.4l4.1 1.6 4.1 1.4 2.4-2.5 2.4-2.5-4.1-1.5-4.1-1.6-2.4 2.6z"/><path color="#71fa45" d="M154.8 144.9l4.1 1.2 2.4-2.5-4.1-1.2z"/><path color="#72fa45" d="M157.2 142.4l4.1 1.2 2.4-2.5-4.1-1.2z"/><path color="#73fa45" d="M158.8 146.1l4.1 1.1 2.4-2.5-4.1-1.1z"/><path color="#74fa44" d="M161.2 143.6l4.1 1.1 2.4-2.5-4.1-1.1z"/><path class="m" d="M154.8 144.9l4.1 1.2 4.1 1.1 2.4-2.5 2.4-2.5-4.1-1.1-4.1-1.2-2.4 2.5z"/><path color="#8ef93e" d="M193.4 136l4 0.6 2.4-2.4-4-0.6z"/><path color="#8ff93e" d="M195.7 133.6l4 0.6 2.4-2.4-4-0.7z"/><path color="#95f93d" d="M197.4 136.6l4 0.5 2.4-2.3-4-0.5z"/><path color="#95f93d" d="M199.8 134.3l4 0.5 2.4-2.3-4-0.6z"/><path class="m" d="M193.4 136l4 0.6 4 0.5 2.4-2.3 2.4-2.3-4-0.6-4-0.7-2.4 2.4z"/><path color="#aaf838" d="M218.9 128.7l4 0.3 2.3-2.3-4-0.3z"/><path color="#aaf838" d="M221.3 126.4l4 0.3 2.3-2.3-4-0.3z"/><path color="#b3f835" d="M223 129l4.1 0.2 2.3-2.3-4-0.2z"/><path color="#b2f836" d="M225.3 126.7l4 0.2 2.3-2.3-4-0.2z"/><path class="m" d="M218.9 128.7l4 0.3 4.1 0.2 2.3-2.3 2.3-2.3-4-0.2-4-0.3-2.3 2.3z"/><path color="#bbf732" d="M231.7 124.6l4 0.1 2.3-2.2-4-0.1z"/><path color="#baf733" d="M234 122.4l4 0.1 2.3-2.2-4-0.2z"/><path color="#c6f62f" d="M235.7 124.7l4.1 0 2.3-2.2-4-0z"/><path color="#c4f62f" d="M238 122.5l4 0 2.3-2.2-4-0.1z"/><path class="m" d="M231.7 124.6l4 0.1 4.1 0 2.3-2.2 2.3-2.2-4-0.1-4-0.2-2.3 2.2z"/><path color="#dff424" d="M257 115.8l4.1-0.2 2.3-2.2-4.1 0.2z"/><path color="#def425" d="M259.3 113.7l4.1-0.2 2.3-2.1-4 0.2z"/><path color="#e9f21f" d="M261.1 115.6l4.1-0.3 2.3-2.1-4.1 0.3z"/><path color="#e7f220" d="M263.4 113.5l4.1-0.3 2.3-2.1-4.1 0.2z"/><path class="m" d="M257 115.8l4.1-0.2 4.1-0.3 2.3-2.1 2.3-2.1-4.1 0.2-4 0.2-2.3 2.2z"/><path color="#f9e813" d="M282.4 106.2l4.1-0.5 2.2-2.1-4.1 0.5z"/><path color="#f9ea14" d="M284.6 104.1l4.1-0.5 2.2-2.1-4.1 0.4z"/><path color="#fee00d" d="M286.4 105.7l4.1-0.6 2.2-2.1-4.1 0.5z"/><path color="#fde10e" d="M288.7 103.6l4.1-0.5 2.2-2-4.1 0.5z"/><path class="m" d="M282.4 106.2l4.1-0.5 4.1-0.6 2.2-2.1 2.2-2-4.1 0.5-4.1 0.4-2.2 2.1z"/><path color="#68fa47" d="M75.8 154.3l4.2 2.4 2.5-2.7-4.2-2.4z"/><path color="#6cfa46" d="M78.3 151.6l4.2 2.4 2.5-2.7-4.2-2.4z"/><path color="#62fa48" d="M80 156.7l4.2 2.3 2.5-2.7-4.2-2.3z"/><path color="#66fa48" d="M82.5 154l4.2 2.3 2.5-2.7-4.2-2.3z"/><path class="m" d="M75.8 154.3l4.2 2.4 4.2 2.3 2.5-2.7 2.5-2.7-4.2-2.3-4.2-2.4-2.5 2.7z"/><path color="#63fa48" d="M102.4 152.5l4.2 2 2.4-2.6-4.1-2z"/><path color="#66fa48" d="M104.9 149.9l4.1 2 2.4-2.6-4.1-2z"/><path color="#60f949" d="M106.6 154.5l4.1 1.8 2.4-2.6-4.1-1.9z"/><path color="#63fa48" d="M109 151.9l4.1 1.9 2.4-2.6-4.1-1.9z"/><path class="m" d="M102.4 152.5l4.2 2 4.1 1.8 2.4-2.6 2.4-2.6-4.1-1.9-4.1-2-2.5 2.6z"/><path color="#6afa47" d="M141.8 147.3l4.1 1.4 2.4-2.5-4.1-1.4z"/><path color="#6cfa46" d="M144.2 144.8l4.1 1.4 2.4-2.5-4.1-1.4z"/><path color="#6bfa46" d="M145.9 148.7l4.1 1.3 2.4-2.5-4.1-1.3z"/><path color="#6dfa46" d="M148.3 146.1l4.1 1.3 2.4-2.5-4.1-1.3z"/><path class="m" d="M141.8 147.3l4.1 1.4 4.1 1.3 2.4-2.5 2.4-2.5-4.1-1.3-4.1-1.4-2.4 2.5z"/><path color="#79fa43" d="M167.7 142.2l4.1 1 2.4-2.4-4-1z"/><path color="#7afa43" d="M170.1 139.8l4 1 2.4-2.4-4-1z"/><path color="#7dfa42" d="M171.7 143.2l4.1 0.9 2.4-2.4-4-0.9z"/><path color="#7efa42" d="M174.1 140.8l4 0.9 2.4-2.4-4-0.9z"/><path class="m" d="M167.7 142.2l4.1 1 4.1 0.9 2.4-2.4 2.4-2.4-4-0.9-4-1-2.4 2.4z"/><path color="#83fa41" d="M180.5 139.2l4 0.8 2.4-2.4-4-0.8z"/><path color="#84fa41" d="M182.9 136.8l4 0.8 2.4-2.4-4-0.8z"/><path color="#88fa40" d="M184.6 140.1l4.1 0.7 2.4-2.4-4-0.7z"/><path color="#88fa40" d="M187 137.7l4 0.7 2.4-2.4-4-0.7z"/><path class="m" d="M180.5 139.2l4 0.8 4.1 0.7 2.4-2.4 2.4-2.4-4-0.7-4-0.8-2.4 2.4z"/><path color="#9cf93b" d="M206.2 132.5l4 0.5 2.3-2.3-4-0.5z"/><path color="#9cf93b" d="M208.5 130.1l4 0.5 2.3-2.3-4-0.5z"/><path color="#a3f93a" d="M210.2 132.9l4 0.4 2.3-2.3-4-0.4z"/><path color="#a3f93a" d="M212.6 130.6l4 0.4 2.3-2.3-4-0.4z"/><path class="m" d="M206.2 132.5l4 0.5 4 0.4 2.3-2.3 2.3-2.3-4-0.4-4-0.5-2.4 2.3z"/><path color="#cef62b" d="M244.4 120.3l4.1-0 2.3-2.2-4 0z"/><path color="#ccf62c" d="M246.7 118.1l4-0 2.3-2.2-4 0z"/><path color="#d9f527" d="M248.4 120.3l4.1-0.1 2.3-2.2-4.1 0.1z"/><path color="#d8f528" d="M250.7 118.1l4.1-0.1 2.3-2.2-4 0.1z"/><path class="m" d="M244.4 120.3l4.1-0 4.1-0.1 2.3-2.2 2.3-2.2-4 0.1-4 0-2.3 2.2z"/><path color="#eff11c" d="M269.7 111.1l4.1-0.3 2.3-2.1-4.1 0.3z"/><path color="#edf11d" d="M272 109l4.1-0.3 2.3-2.1-4.1 0.3z"/><path color="#f7ed17" d="M273.8 110.8l4.1-0.4 2.2-2.1-4.1 0.4z"/><path color="#f6ee18" d="M276 108.7l4.1-0.4 2.2-2.1-4.1 0.4z"/><path class="m" d="M269.7 111.1l4.1-0.3 4.1-0.4 2.2-2.1 2.2-2.1-4.1 0.4-4.1 0.3-2.3 2.1z"/><path color="#5ef949" d="M110.7 156.3l4.1 1.7 2.4-2.6-4.1-1.7z"/><path color="#61fa49" d="M113.2 153.7l4.1 1.7 2.4-2.6-4.1-1.8z"/><path color="#5df949" d="M114.9 158.1l4.1 1.6 2.4-2.6-4.1-1.6z"/><path color="#60f949" d="M117.3 155.5l4.1 1.6 2.4-2.6-4.1-1.6z"/><path class="m" d="M110.7 156.3l4.1 1.7 4.1 1.6 2.4-2.6 2.4-2.6-4.1-1.6-4.1-1.8-2.4 2.6z"/><path color="#6dfa46" d="M149.9 149.9l4.1 1.1 2.4-2.5-4.1-1.2z"/><path color="#6ffa45" d="M152.3 147.4l4.1 1.2 2.4-2.5-4.1-1.2z"/><path color="#70fa45" d="M154 151.1l4.1 1 2.4-2.5-4.1-1z"/><path color="#72fa45" d="M156.4 148.6l4.1 1 2.4-2.5-4.1-1.1z"/><path class="m" d="M149.9 149.9l4.1 1.1 4.1 1 2.4-2.5 2.4-2.5-4.1-1.1-4.1-1.2-2.4 2.5z"/><path color="#9cf93b" d="M201.5 137.1l4.1 0.4 2.3-2.3-4-0.4z"/><path color="#9cf93b" d="M203.8 134.8l4 0.4 2.3-2.3-4-0.5z"/><path color="#a4f93a" d="M205.5 137.6l4.1 0.3 2.3-2.3-4.1-0.3z"/><path color="#a3f93a" d="M207.9 135.2l4.1 0.3 2.3-2.3-4-0.4z"/><path class="m" d="M201.5 137.1l4.1 0.4 4.1 0.3 2.3-2.3 2.3-2.3-4-0.4-4-0.5-2.4 2.3z"/><path color="#d1f52a" d="M239.8 124.8l4.1-0.1 2.3-2.2-4.1 0z"/><path color="#cff62b" d="M242.1 122.6l4.1-0 2.3-2.2-4.1 0z"/><path color="#dbf426" d="M243.8 124.7l4.1-0.2 2.3-2.2-4.1 0.1z"/><path color="#daf426" d="M246.1 122.5l4.1-0.1 2.3-2.2-4.1 0.1z"/><path class="m" d="M239.8 124.8l4.1-0.1 4.1-0.2 2.3-2.2 2.3-2.2-4.1 0.1-4.1 0-2.3 2.2z"/><path color="#60fa49" d="M70.9 159.7l4.2 2.4 2.5-2.7-4.2-2.4z"/><path color="#64fa48" d="M73.3 157l4.2 2.4 2.5-2.7-4.2-2.4z"/><path color="#5cf94a" d="M75.1 162.1l4.2 2.2 2.5-2.7-4.2-2.3z"/><path color="#5ff949" d="M77.6 159.4l4.2 2.3 2.5-2.7-4.2-2.3z"/><path class="m" d="M70.9 159.7l4.2 2.4 4.2 2.2 2.5-2.7 2.5-2.7-4.2-2.3-4.2-2.4-2.5 2.7z"/><path color="#5ef949" d="M84.2 158.9l4.2 2.2 2.5-2.7-4.2-2.2z"/><path color="#61fa49" d="M86.7 156.2l4.2 2.2 2.5-2.7-4.2-2.2z"/><path color="#5bf94a" d="M88.4 161.1l4.2 2 2.4-2.7-4.2-2z"/><path color="#5df949" d="M90.9 158.4l4.2 2 2.4-2.7-4.2-2.1z"/><path class="m" d="M84.2 158.9l4.2 2.2 4.2 2 2.4-2.7 2.4-2.7-4.2-2.1-4.2-2.2-2.5 2.7z"/><path color="#5df949" d="M97.5 157.8l4.2 1.9 2.4-2.6-4.2-2z"/><path color="#60f949" d="M100 155.2l4.2 2 2.4-2.6-4.2-2z"/><path color="#5bf94a" d="M101.7 159.7l4.2 1.8 2.4-2.6-4.2-1.8z"/><path color="#5ef949" d="M104.1 157.1l4.2 1.8 2.4-2.6-4.1-1.8z"/><path class="m" d="M97.5 157.8l4.2 1.9 4.2 1.8 2.4-2.6 2.4-2.6-4.1-1.8-4.2-2-2.5 2.6z"/><path color="#61fa49" d="M123.9 154.5l4.1 1.5 2.4-2.6-4.1-1.5z"/><path color="#63fa48" d="M126.3 151.9l4.1 1.5 2.4-2.6-4.1-1.6z"/><path color="#61fa49" d="M128 156l4.1 1.4 2.4-2.5-4.1-1.4z"/><path color="#63fa48" d="M130.4 153.5l4.1 1.4 2.4-2.5-4.1-1.4z"/><path class="m" d="M123.9 154.5l4.1 1.5 4.1 1.4 2.4-2.5 2.4-2.5-4.1-1.4-4.1-1.6-2.4 2.6z"/><path color="#66fa48" d="M136.9 152.4l4.1 1.3 2.4-2.5-4.1-1.3z"/><path color="#68fa47" d="M139.4 149.8l4.1 1.3 2.4-2.5-4.1-1.4z"/><path color="#67fa47" d="M141 153.7l4.1 1.2 2.4-2.5-4.1-1.2z"/><path color="#69fa47" d="M143.4 151.2l4.1 1.2 2.4-2.5-4.1-1.3z"/><path class="m" d="M136.9 152.4l4.1 1.3 4.1 1.2 2.4-2.5 2.4-2.5-4.1-1.3-4.1-1.4-2.4 2.5z"/><path color="#76fa44" d="M162.9 147.1l4.1 1 2.4-2.4-4.1-1z"/><path color="#78fa43" d="M165.3 144.7l4.1 1 2.4-2.4-4.1-1z"/><path color="#7afa43" d="M167 148.1l4.1 0.9 2.4-2.4-4.1-0.9z"/><path color="#7bfa43" d="M169.3 145.7l4.1 0.9 2.4-2.4-4.1-0.9z"/><path class="m" d="M162.9 147.1l4.1 1 4.1 0.9 2.4-2.4 2.4-2.4-4.1-0.9-4.1-1-2.4 2.5z"/><path color="#81fa41" d="M175.8 144.1l4.1 0.8 2.4-2.4-4.1-0.8z"/><path color="#82fa41" d="M178.2 141.7l4.1 0.8 2.4-2.4-4-0.8z"/><path color="#87fa40" d="M179.8 144.9l4.1 0.7 2.4-2.4-4.1-0.7z"/><path color="#87fa40" d="M182.2 142.5l4.1 0.7 2.4-2.4-4.1-0.7z"/><path class="m" d="M175.8 144.1l4.1 0.8 4.1 0.7 2.4-2.4 2.4-2.4-4.1-0.7-4-0.8-2.4 2.4z"/><path color="#8ef93e" d="M188.6 140.8l4.1 0.6 2.4-2.4-4-0.6z"/><path color="#8ef93e" d="M191 138.4l4 0.6 2.4-2.4-4-0.6z"/><path color="#94f93d" d="M192.7 141.4l4.1 0.5 2.4-2.4-4.1-0.5z"/><path color="#95f93d" d="M195.1 139l4.1 0.5 2.4-2.4-4-0.5z"/><path class="m" d="M188.6 140.8l4.1 0.6 4.1 0.5 2.4-2.4 2.4-2.4-4-0.5-4-0.6-2.4 2.4z"/><path color="#abf838" d="M214.3 133.3l4.1 0.3 2.3-2.3-4-0.3z"/><path color="#abf838" d="M216.6 131l4 0.3 2.3-2.3-4-0.3z"/><path color="#b5f835" d="M218.3 133.5l4.1 0.2 2.3-2.3-4.1-0.2z"/><path color="#b4f835" d="M220.6 131.2l4.1 0.2 2.3-2.3-4.1-0.2z"/><path class="m" d="M214.3 133.3l4.1 0.3 4.1 0.2 2.3-2.3 2.3-2.3-4.1-0.2-4-0.3-2.3 2.3z"/><path color="#bdf732" d="M227 129.1l4.1 0.1 2.3-2.2-4.1-0.1z"/><path color="#bcf732" d="M229.3 126.9l4.1 0.1 2.3-2.2-4-0.1z"/><path color="#c8f62e" d="M231.1 129.2l4.1 0 2.3-2.2-4.1-0z"/><path color="#c7f62e" d="M233.4 127l4.1 0 2.3-2.2-4.1-0z"/><path class="m" d="M227 129.1l4.1 0.1 4.1 0 2.3-2.2 2.3-2.2-4.1-0-4-0.1-2.3 2.3z"/><path color="#e2f322" d="M252.5 120.2l4.1-0.2 2.3-2.2-4.1 0.2z"/><path color="#e1f323" d="M254.8 118l4.1-0.2 2.3-2.2-4.1 0.2z"/><path color="#ecf21e" d="M256.6 120l4.1-0.3 2.3-2.2-4.1 0.3z"/><path color="#eaf21e" d="M258.8 117.8l4.1-0.3 2.3-2.1-4.1 0.3z"/><path class="m" d="M252.5 120.2l4.1-0.2 4.1-0.3 2.3-2.2 2.3-2.1-4.1 0.3-4.1 0.2-2.3 2.2z"/><path color="#f3f01a" d="M265.2 115.4l4.1-0.4 2.3-2.1-4.1 0.3z"/><path color="#f1f11b" d="M267.4 113.2l4.1-0.3 2.3-2.1-4.1 0.3z"/><path color="#f8ea15" d="M269.3 115l4.1-0.4 2.2-2.1-4.1 0.4z"/><path color="#f8eb16" d="M271.5 112.9l4.1-0.4 2.2-2.1-4.1 0.4z"/><path class="m" d="M265.2 115.4l4.1-0.4 4.1-0.4 2.2-2.1 2.2-2.1-4.1 0.4-4.1 0.3-2.3 2.1z"/><path color="#fbe511" d="M277.9 110.4l4.1-0.5 2.2-2.1-4.1 0.5z"/><path color="#fae612" d="M280.1 108.3l4.1-0.5 2.2-2.1-4.1 0.5z"/><path color="#ffda0b" d="M282 109.9l4.1-0.6 2.2-2.1-4.1 0.6z"/><path color="#ffde0c" d="M284.2 107.8l4.1-0.6 2.2-2.1-4.1 0.6z"/><path class="m" d="M277.9 110.4l4.1-0.5 4.1-0.6 2.2-2.1 2.2-2.1-4.1 0.6-4.1 0.5-2.2 2.1z"/><path color="#58f84a" d="M79.3 164.3l4.2 2.1 2.4-2.7-4.2-2.1z"/><path color="#5bf94a" d="M81.8 161.6l4.2 2.1 2.5-2.7-4.2-2.2z"/><path color="#55f84b" d="M83.5 166.4l4.2 2 2.4-2.7-4.2-2z"/><path color="#58f84a" d="M86 163.8l4.2 2 2.4-2.7-4.2-2z"/><path class="m" d="M79.3 164.3l4.2 2.1 4.2 2 2.4-2.7 2.4-2.7-4.2-2-4.2-2.2-2.5 2.7z"/><path color="#5af94a" d="M105.9 161.6l4.2 1.7 2.4-2.6-4.1-1.7z"/><path color="#5cf94a" d="M108.3 158.9l4.1 1.7 2.4-2.6-4.1-1.7z"/><path color="#59f94a" d="M110 163.3l4.1 1.6 2.4-2.6-4.1-1.6z"/><path color="#5bf94a" d="M112.4 160.7l4.1 1.6 2.4-2.6-4.1-1.6z"/><path class="m" d="M105.9 161.6l4.2 1.7 4.1 1.6 2.4-2.6 2.4-2.6-4.1-1.6-4.1-1.7-2.4 2.6z"/><path color="#5df949" d="M119 159.7l4.1 1.5 2.4-2.6-4.1-1.5z"/><path color="#5ff949" d="M121.4 157.1l4.1 1.5 2.4-2.6-4.1-1.5z"/><path color="#5df949" d="M123.1 161.2l4.1 1.4 2.4-2.6-4.1-1.4z"/><path color="#5ff949" d="M125.6 158.6l4.1 1.4 2.4-2.6-4.1-1.4z"/><path class="m" d="M119 159.7l4.1 1.5 4.1 1.4 2.4-2.6 2.4-2.6-4.1-1.4-4.1-1.5-2.4 2.6z"/><path color="#6afa47" d="M145.1 154.9l4.1 1.1 2.4-2.5-4.1-1.1z"/><path color="#6bfa46" d="M147.5 152.4l4.1 1.1 2.4-2.5-4.1-1.1z"/><path color="#6dfa46" d="M149.2 156l4.1 1 2.4-2.5-4.1-1z"/><path color="#6efa46" d="M151.6 153.5l4.1 1 2.4-2.5-4.1-1z"/><path class="m" d="M145.1 154.9l4.1 1.1 4.1 1 2.4-2.5 2.4-2.5-4.1-1-4.1-1.1-2.4 2.5z"/><path color="#74fa44" d="M158.1 152.1l4.1 0.9 2.4-2.5-4.1-0.9z"/><path color="#75fa44" d="M160.5 149.6l4.1 0.9 2.4-2.5-4.1-1z"/><path color="#78fa43" d="M162.2 153l4.1 0.8 2.4-2.4-4.1-0.8z"/><path color="#79fa43" d="M164.6 150.6l4.1 0.8 2.4-2.4-4.1-0.9z"/><path class="m" d="M158.1 152.1l4.1 0.9 4.1 0.8 2.4-2.4 2.4-2.4-4.1-0.9-4.1-1-2.4 2.5z"/><path color="#7ffa42" d="M171 149l4.1 0.7 2.4-2.4-4.1-0.8z"/><path color="#80fa41" d="M173.4 146.5l4.1 0.8 2.4-2.4-4.1-0.8z"/><path color="#85fa40" d="M175.1 149.7l4.1 0.6 2.4-2.4-4.1-0.7z"/><path color="#86fa40" d="M177.5 147.3l4.1 0.7 2.4-2.4-4.1-0.7z"/><path class="m" d="M171 149l4.1 0.7 4.1 0.6 2.4-2.4 2.4-2.4-4.1-0.7-4.1-0.8-2.4 2.4z"/><path color="#8dfa3f" d="M183.9 145.5l4.1 0.6 2.4-2.4-4.1-0.6z"/><path color="#8dfa3f" d="M186.3 143.1l4.1 0.6 2.4-2.4-4.1-0.6z"/><path color="#94f93d" d="M188 146.1l4.1 0.5 2.4-2.4-4.1-0.5z"/><path color="#94f93d" d="M190.3 143.7l4.1 0.5 2.4-2.4-4.1-0.5z"/><path class="m" d="M183.9 145.5l4.1 0.6 4.1 0.5 2.4-2.4 2.4-2.4-4.1-0.5-4.1-0.6-2.4 2.4z"/><path color="#9cf93b" d="M196.8 141.8l4.1 0.4 2.3-2.3-4.1-0.4z"/><path color="#9cf93b" d="M199.1 139.5l4.1 0.4 2.3-2.3-4.1-0.4z"/><path color="#a4f839" d="M200.8 142.2l4.1 0.3 2.3-2.3-4.1-0.3z"/><path color="#a4f839" d="M203.2 139.9l4.1 0.3 2.3-2.3-4.1-0.3z"/><path class="m" d="M196.8 141.8l4.1 0.4 4.1 0.3 2.3-2.3 2.3-2.3-4.1-0.3-4.1-0.4-2.4 2.4z"/><path color="#acf838" d="M209.6 137.9l4.1 0.2 2.3-2.3-4.1-0.2z"/><path color="#acf838" d="M211.9 135.6l4.1 0.2 2.3-2.3-4.1-0.3z"/><path color="#b6f734" d="M213.7 138.1l4.1 0.1 2.3-2.3-4.1-0.1z"/><path color="#b5f835" d="M216 135.8l4.1 0.1 2.3-2.3-4.1-0.2z"/><path class="m" d="M209.6 137.9l4.1 0.2 4.1 0.1 2.3-2.3 2.3-2.3-4.1-0.2-4.1-0.3-2.3 2.3z"/><path color="#d4f529" d="M235.2 129.2l4.1-0.1 2.3-2.2-4.1 0.1z"/><path color="#d2f52a" d="M237.5 127l4.1-0.1 2.3-2.2-4.1 0.1z"/><path color="#def425" d="M239.2 129.2l4.1-0.2 2.3-2.2-4.1 0.2z"/><path color="#ddf425" d="M241.5 126.9l4.1-0.2 2.3-2.2-4.1 0.2z"/><path class="m" d="M235.2 129.2l4.1-0.1 4.1-0.2 2.3-2.2 2.3-2.2-4.1 0.2-4.1 0.1-2.3 2.2z"/><path color="#e5f321" d="M247.9 124.6l4.1-0.2 2.3-2.2-4.1 0.2z"/><path color="#e3f322" d="M250.2 122.4l4.1-0.2 2.3-2.2-4.1 0.2z"/><path color="#eff11c" d="M252 124.3l4.1-0.3 2.3-2.2-4.1 0.3z"/><path color="#edf11d" d="M254.3 122.2l4.1-0.3 2.3-2.2-4.1 0.3z"/><path class="m" d="M247.9 124.6l4.1-0.2 4.1-0.3 2.3-2.2 2.3-2.2-4.1 0.3-4.1 0.2-2.3 2.2z"/><path color="#fde10e" d="M273.4 114.6l4.1-0.5 2.2-2.1-4.1 0.5z"/><path color="#fce310" d="M275.6 112.5l4.1-0.5 2.2-2.1-4.1 0.5z"/><path color="#ffd30a" d="M277.5 114l4.1-0.6 2.2-2.1-4.1 0.6z"/><path color="#ffd60b" d="M279.7 111.9l4.1-0.6 2.2-2.1-4.1 0.6z"/><path class="m" d="M273.4 114.6l4.1-0.5 4.1-0.6 2.2-2.1 2.2-2.1-4.1 0.6-4.1 0.5-2.2 2.1z"/><path color="#58f84a" d="M92.6 163.1l4.2 1.9 2.4-2.6-4.2-1.9z"/><path color="#5bf94a" d="M95.1 160.5l4.2 1.9 2.4-2.6-4.2-1.9z"/><path color="#56f84b" d="M96.8 165l4.2 1.8 2.4-2.6-4.2-1.8z"/><path color="#59f84a" d="M99.3 162.4l4.2 1.8 2.4-2.6-4.2-1.8z"/><path class="m" d="M92.6 163.1l4.2 1.9 4.2 1.8 2.4-2.6 2.4-2.6-4.2-1.8-4.2-1.9-2.4 2.7z"/><path color="#62fa48" d="M132.1 157.5l4.1 1.3 2.4-2.5-4.1-1.3z"/><path color="#64fa48" d="M134.5 154.9l4.1 1.3 2.4-2.5-4.1-1.3z"/><path color="#63fa48" d="M136.2 158.8l4.1 1.2 2.4-2.5-4.1-1.2z"/><path color="#65fa48" d="M138.6 156.2l4.1 1.2 2.4-2.5-4.1-1.2z"/><path class="m" d="M132.1 157.5l4.1 1.3 4.1 1.2 2.4-2.5 2.4-2.5-4.1-1.2-4.1-1.3-2.4 2.5z"/><path color="#bff731" d="M222.4 133.7l4.1 0.1 2.3-2.3-4.1-0.1z"/><path color="#bef731" d="M224.7 131.4l4.1 0.1 2.3-2.3-4.1-0.1z"/><path color="#caf62d" d="M226.5 133.8l4.1-0 2.3-2.2-4.1 0z"/><path color="#c9f62d" d="M228.8 131.5l4.1-0 2.3-2.2-4.1-0z"/><path class="m" d="M222.4 133.7l4.1 0.1 4.1-0 2.3-2.2 2.3-2.2-4.1-0-4.1-0.1-2.3 2.3z"/><path color="#f5ef18" d="M260.7 119.7l4.1-0.4 2.3-2.1-4.1 0.4z"/><path color="#f4f019" d="M262.9 117.5l4.1-0.4 2.3-2.1-4.1 0.4z"/><path color="#fae712" d="M264.8 119.3l4.1-0.5 2.2-2.1-4.1 0.5z"/><path color="#f9e813" d="M267 117.1l4.1-0.5 2.2-2.1-4.1 0.4z"/><path class="m" d="M260.7 119.7l4.1-0.4 4.1-0.5 2.2-2.1 2.2-2.1-4.1 0.4-4.1 0.4-2.3 2.1z"/><path color="#52f84c" d="M87.7 168.4l4.2 1.9 2.4-2.7-4.2-1.9z"/><path color="#55f84b" d="M90.2 165.8l4.2 1.9 2.4-2.6-4.2-1.9z"/><path color="#51f74c" d="M91.9 170.3l4.2 1.8 2.4-2.6-4.2-1.8z"/><path color="#53f84b" d="M94.4 167.7l4.2 1.8 2.4-2.6-4.2-1.8z"/><path class="m" d="M87.7 168.4l4.2 1.9 4.2 1.8 2.4-2.6 2.4-2.6-4.2-1.8-4.2-1.9-2.4 2.7z"/><path color="#55f84b" d="M101 166.8l4.2 1.7 2.4-2.6-4.2-1.7z"/><path color="#57f84b" d="M103.4 164.2l4.2 1.7 2.4-2.6-4.2-1.7z"/><path color="#54f84b" d="M105.2 168.5l4.2 1.6 2.4-2.6-4.2-1.6z"/><path color="#57f84b" d="M107.6 165.9l4.2 1.6 2.4-2.6-4.1-1.6z"/><path class="m" d="M101 166.8l4.2 1.7 4.2 1.6 2.4-2.6 2.4-2.6-4.1-1.6-4.2-1.7-2.4 2.6z"/><path color="#59f94a" d="M114.2 164.9l4.1 1.5 2.4-2.6-4.1-1.5z"/><path color="#5bf94a" d="M116.6 162.3l4.1 1.5 2.4-2.6-4.1-1.5z"/><path color="#59f94a" d="M118.3 166.3l4.1 1.4 2.4-2.6-4.1-1.4z"/><path color="#5bf94a" d="M120.7 163.8l4.1 1.4 2.4-2.6-4.1-1.4z"/><path class="m" d="M114.2 164.9l4.1 1.5 4.1 1.4 2.4-2.6 2.4-2.6-4.1-1.4-4.1-1.5-2.4 2.6z"/><path color="#5ef949" d="M127.3 162.6l4.1 1.3 2.4-2.5-4.1-1.3z"/><path color="#60f949" d="M129.7 160l4.1 1.3 2.4-2.5-4.1-1.3z"/><path color="#60f949" d="M131.4 163.9l4.1 1.2 2.4-2.5-4.1-1.2z"/><path color="#62fa48" d="M133.8 161.3l4.1 1.2 2.4-2.5-4.1-1.2z"/><path class="m" d="M127.3 162.6l4.1 1.3 4.1 1.2 2.4-2.5 2.4-2.5-4.1-1.2-4.1-1.3-2.4 2.6z"/><path color="#66fa48" d="M140.3 160l4.1 1.1 2.4-2.5-4.1-1.1z"/><path color="#68fa47" d="M142.7 157.4l4.1 1.1 2.4-2.5-4.1-1.1z"/><path color="#6afa47" d="M144.4 161.1l4.1 1 2.4-2.5-4.1-1z"/><path color="#6bfa46" d="M146.8 158.5l4.1 1 2.4-2.5-4.1-1z"/><path class="m" d="M140.3 160l4.1 1.1 4.1 1 2.4-2.5 2.4-2.5-4.1-1-4.1-1.1-2.4 2.5z"/><path color="#71fa45" d="M153.3 157l4.1 0.9 2.4-2.5-4.1-0.9z"/><path color="#72fa45" d="M155.7 154.6l4.1 0.9 2.4-2.5-4.1-0.9z"/><path color="#76fa44" d="M157.4 157.9l4.1 0.8 2.4-2.5-4.1-0.8z"/><path color="#77fa44" d="M159.8 155.5l4.1 0.8 2.4-2.4-4.1-0.8z"/><path class="m" d="M153.3 157l4.1 0.9 4.1 0.8 2.4-2.5 2.4-2.4-4.1-0.8-4.1-0.9-2.4 2.5z"/><path color="#7dfa42" d="M166.3 153.8l4.1 0.7 2.4-2.4-4.1-0.7z"/><path color="#7efa42" d="M168.6 151.4l4.1 0.7 2.4-2.4-4.1-0.7z"/><path color="#84fa41" d="M170.4 154.6l4.1 0.6 2.4-2.4-4.1-0.6z"/><path color="#84fa40" d="M172.7 152.1l4.1 0.6 2.4-2.4-4.1-0.6z"/><path class="m" d="M166.3 153.8l4.1 0.7 4.1 0.6 2.4-2.4 2.4-2.4-4.1-0.6-4.1-0.7-2.4 2.4z"/><path color="#8cfa3f" d="M179.2 150.3l4.1 0.5 2.4-2.4-4.1-0.6z"/><path color="#8cfa3f" d="M181.5 147.9l4.1 0.6 2.4-2.4-4.1-0.6z"/><path color="#93f93d" d="M183.3 150.9l4.1 0.4 2.4-2.4-4.1-0.5z"/><path color="#93f93d" d="M185.6 148.5l4.1 0.5 2.4-2.4-4.1-0.5z"/><path class="m" d="M179.2 150.3l4.1 0.5 4.1 0.4 2.4-2.4 2.4-2.4-4.1-0.5-4.1-0.6-2.4 2.4z"/><path color="#9bf93b" d="M192.1 146.6l4.1 0.4 2.3-2.4-4.1-0.4z"/><path color="#9cf93b" d="M194.4 144.2l4.1 0.4 2.3-2.3-4.1-0.4z"/><path color="#a4f839" d="M196.1 146.9l4.1 0.3 2.3-2.3-4.1-0.3z"/><path color="#a4f839" d="M198.5 144.6l4.1 0.3 2.3-2.3-4.1-0.3z"/><path class="m" d="M192.1 146.6l4.1 0.4 4.1 0.3 2.3-2.3 2.3-2.3-4.1-0.3-4.1-0.4-2.4 2.4z"/><path color="#adf837" d="M204.9 142.5l4.1 0.2 2.3-2.3-4.1-0.2z"/><path color="#adf838" d="M207.2 140.2l4.1 0.2 2.3-2.3-4.1-0.2z"/><path color="#b7f734" d="M209 142.7l4.1 0.1 2.3-2.3-4.1-0.1z"/><path color="#b6f734" d="M211.3 140.4l4.1 0.1 2.3-2.3-4.1-0.1z"/><path class="m" d="M204.9 142.5l4.1 0.2 4.1 0.1 2.3-2.3 2.3-2.3-4.1-0.1-4.1-0.2-2.3 2.3z"/><path color="#c1f730" d="M217.7 138.3l4.1 0 2.3-2.3-4.1-0.1z"/><path color="#c0f731" d="M220.1 136l4.1 0.1 2.3-2.3-4.1-0.1z"/><path color="#ccf62c" d="M221.8 138.3l4.1-0.1 2.3-2.3-4.1 0z"/><path color="#cbf62c" d="M224.1 136l4.1-0 2.3-2.3-4.1 0z"/><path class="m" d="M217.7 138.3l4.1 0 4.1-0.1 2.3-2.3 2.3-2.3-4.1 0-4.1-0.1-2.3 2.3z"/><path color="#d6f528" d="M230.5 133.7l4.1-0.1 2.3-2.2-4.1 0.1z"/><path color="#d5f529" d="M232.8 131.5l4.1-0.1 2.3-2.2-4.1 0.1z"/><path color="#e0f424" d="M234.6 133.6l4.1-0.2 2.3-2.2-4.1 0.2z"/><path color="#dff424" d="M236.9 131.4l4.1-0.2 2.3-2.2-4.1 0.2z"/><path class="m" d="M230.5 133.7l4.1-0.1 4.1-0.2 2.3-2.2 2.3-2.2-4.1 0.2-4.1 0.1-2.3 2.2z"/><path color="#e7f220" d="M243.3 129l4.1-0.3 2.3-2.2-4.1 0.3z"/><path color="#e6f220" d="M245.6 126.8l4.1-0.3 2.3-2.2-4.1 0.2z"/><path color="#f2f11b" d="M247.4 128.7l4.1-0.4 2.3-2.2-4.1 0.3z"/><path color="#f0f11b" d="M249.7 126.5l4.1-0.3 2.3-2.2-4.1 0.3z"/><path class="m" d="M243.3 129l4.1-0.3 4.1-0.4 2.3-2.2 2.3-2.2-4.1 0.3-4.1 0.2-2.3 2.2z"/><path color="#f7ed17" d="M256.1 124l4.1-0.4 2.3-2.1-4.1 0.4z"/><path color="#f6ee17" d="M258.4 121.8l4.1-0.4 2.3-2.1-4.1 0.4z"/><path color="#fce411" d="M260.2 123.6l4.1-0.5 2.3-2.1-4.1 0.5z"/><path color="#fbe611" d="M262.5 121.4l4.1-0.5 2.3-2.1-4.1 0.5z"/><path class="m" d="M256.1 124l4.1-0.4 4.1-0.5 2.3-2.1 2.3-2.1-4.1 0.5-4.1 0.4-2.3 2.2z"/><path color="#ffde0c" d="M268.9 118.8l4.1-0.6 2.2-2.1-4.1 0.5z"/><path color="#fee00d" d="M271.1 116.7l4.1-0.5 2.2-2.1-4.1 0.5z"/><path color="#ffcc09" d="M273 118.2l4.2-0.6 2.2-2.1-4.1 0.6z"/><path color="#ffd00a" d="M275.3 116.1l4.1-0.6 2.2-2.1-4.1 0.6z"/><path class="m" d="M268.9 118.8l4.1-0.6 4.2-0.6 2.2-2.1 2.2-2.1-4.1 0.6-4.1 0.5-2.2 2.1z"/><path color="#50f74c" d="M96.1 172.1l4.2 1.7 2.4-2.6-4.2-1.7z"/><path color="#52f84c" d="M98.6 169.5l4.2 1.7 2.4-2.6-4.2-1.7z"/><path color="#50f74c" d="M100.3 173.7l4.2 1.5 2.4-2.6-4.2-1.5z"/><path color="#52f84c" d="M102.7 171.1l4.2 1.5 2.4-2.6-4.2-1.6z"/><path class="m" d="M96.1 172.1l4.2 1.7 4.2 1.5 2.4-2.6 2.4-2.6-4.2-1.6-4.2-1.7-2.4 2.6z"/><path color="#ffd90b" d="M264.4 123.1l4.2-0.6 2.2-2.1-4.1 0.6z"/><path color="#ffdc0c" d="M266.6 120.9l4.1-0.6 2.2-2.1-4.1 0.6z"/><path color="#ffc608" d="M268.5 122.5l4.2-0.7 2.2-2.1-4.2 0.7z"/><path color="#ffc909" d="M270.8 120.4l4.2-0.7 2.2-2.1-4.2 0.6z"/><path class="m" d="M264.4 123.1l4.2-0.6 4.2-0.7 2.2-2.1 2.2-2.1-4.2 0.6-4.1 0.6-2.3 2.1z"/><path color="#54f84b" d="M109.3 170.1l4.2 1.4 2.4-2.6-4.1-1.5z"/><path color="#57f84b" d="M111.7 167.5l4.1 1.5 2.4-2.6-4.1-1.5z"/><path color="#55f84b" d="M113.5 171.5l4.2 1.3 2.4-2.6-4.1-1.3z"/><path color="#57f84b" d="M115.9 168.9l4.1 1.3 2.4-2.6-4.1-1.4z"/><path class="m" d="M109.3 170.1l4.2 1.4 4.2 1.3 2.4-2.6 2.4-2.6-4.1-1.4-4.1-1.5-2.4 2.6z"/><path color="#5bf94a" d="M122.4 167.7l4.1 1.3 2.4-2.6-4.1-1.3z"/><path color="#5df949" d="M124.9 165.1l4.1 1.3 2.4-2.5-4.1-1.3z"/><path color="#5df949" d="M126.6 169l4.1 1.1 2.4-2.5-4.1-1.2z"/><path color="#5ff949" d="M129 166.4l4.1 1.2 2.4-2.5-4.1-1.2z"/><path class="m" d="M122.4 167.7l4.1 1.3 4.1 1.1 2.4-2.5 2.4-2.5-4.1-1.2-4.1-1.3-2.4 2.6z"/><path color="#63fa48" d="M135.5 165l4.1 1.1 2.4-2.5-4.1-1.1z"/><path color="#64fa48" d="M137.9 162.5l4.1 1.1 2.4-2.5-4.1-1.1z"/><path color="#66fa47" d="M139.6 166.1l4.1 1 2.4-2.5-4.1-1z"/><path color="#68fa47" d="M142 163.6l4.1 1 2.4-2.5-4.1-1z"/><path class="m" d="M135.5 165l4.1 1.1 4.1 1 2.4-2.5 2.4-2.5-4.1-1-4.1-1.1-2.4 2.5z"/><path color="#6efa46" d="M148.5 162l4.1 0.9 2.4-2.5-4.1-0.9z"/><path color="#6ffa45" d="M150.9 159.5l4.1 0.9 2.4-2.5-4.1-0.9z"/><path color="#73fa44" d="M152.6 162.9l4.1 0.8 2.4-2.5-4.1-0.8z"/><path color="#74fa44" d="M155 160.4l4.1 0.8 2.4-2.5-4.1-0.8z"/><path class="m" d="M148.5 162l4.1 0.9 4.1 0.8 2.4-2.5 2.4-2.5-4.1-0.8-4.1-0.9-2.4 2.5z"/><path color="#7bfa43" d="M161.5 158.7l4.1 0.7 2.4-2.4-4.1-0.7z"/><path color="#7cfa42" d="M163.9 156.3l4.1 0.7 2.4-2.4-4.1-0.7z"/><path color="#82fa41" d="M165.6 159.4l4.1 0.6 2.4-2.4-4.1-0.6z"/><path color="#83fa41" d="M168 157l4.1 0.6 2.4-2.4-4.1-0.6z"/><path class="m" d="M161.5 158.7l4.1 0.7 4.1 0.6 2.4-2.4 2.4-2.4-4.1-0.6-4.1-0.7-2.4 2.4z"/><path color="#8afa3f" d="M174.4 155.2l4.1 0.5 2.4-2.4-4.1-0.5z"/><path color="#8bfa3f" d="M176.8 152.8l4.1 0.5 2.4-2.4-4.1-0.5z"/><path color="#92f93d" d="M178.5 155.7l4.1 0.4 2.4-2.4-4.1-0.4z"/><path color="#93f93d" d="M180.9 153.3l4.1 0.4 2.4-2.4-4.1-0.4z"/><path class="m" d="M174.4 155.2l4.1 0.5 4.1 0.4 2.4-2.4 2.4-2.4-4.1-0.4-4.1-0.5-2.4 2.4z"/><path color="#9bf93b" d="M187.4 151.3l4.1 0.3 2.3-2.4-4.1-0.4z"/><path color="#9bf93b" d="M189.7 148.9l4.1 0.4 2.3-2.4-4.1-0.4z"/><path color="#a4f839" d="M191.5 151.7l4.1 0.2 2.3-2.3-4.1-0.3z"/><path color="#a4f839" d="M193.8 149.3l4.1 0.3 2.3-2.3-4.1-0.3z"/><path class="m" d="M187.4 151.3l4.1 0.3 4.1 0.2 2.3-2.3 2.3-2.3-4.1-0.3-4.1-0.4-2.4 2.4z"/><path color="#adf837" d="M200.2 147.2l4.1 0.2 2.3-2.3-4.1-0.2z"/><path color="#adf837" d="M202.6 144.9l4.1 0.2 2.3-2.3-4.1-0.2z"/><path color="#b8f734" d="M204.3 147.4l4.1 0.1 2.3-2.3-4.1-0.1z"/><path color="#b7f734" d="M206.7 145.1l4.1 0.1 2.3-2.3-4.1-0.1z"/><path class="m" d="M200.2 147.2l4.1 0.2 4.1 0.1 2.3-2.3 2.3-2.3-4.1-0.1-4.1-0.2-2.3 2.3z"/><path color="#c2f730" d="M213.1 142.9l4.1 0 2.3-2.3-4.1-0z"/><path color="#c1f730" d="M215.4 140.6l4.1 0 2.3-2.3-4.1-0z"/><path color="#cef62b" d="M217.2 142.9l4.1-0.1 2.3-2.3-4.1 0.1z"/><path color="#cdf62c" d="M219.5 140.6l4.1-0.1 2.3-2.3-4.1 0.1z"/><path class="m" d="M213.1 142.9l4.1 0 4.1-0.1 2.3-2.3 2.3-2.3-4.1 0.1-4.1-0-2.3 2.3z"/><path color="#d8f527" d="M225.9 138.2l4.1-0.1 2.3-2.2-4.1 0.1z"/><path color="#d7f528" d="M228.2 136l4.1-0.1 2.3-2.2-4.1 0.1z"/><path color="#e2f323" d="M230 138.1l4.1-0.2 2.3-2.2-4.1 0.2z"/><path color="#e1f323" d="M232.3 135.9l4.1-0.2 2.3-2.2-4.1 0.2z"/><path class="m" d="M225.9 138.2l4.1-0.1 4.1-0.2 2.3-2.2 2.3-2.2-4.1 0.2-4.1 0.1-2.3 2.3z"/><path color="#eaf21f" d="M238.8 133.4l4.1-0.3 2.3-2.2-4.1 0.3z"/><path color="#e9f21f" d="M241 131.2l4.1-0.3 2.3-2.2-4.1 0.3z"/><path color="#f5f019" d="M242.9 133.1l4.1-0.4 2.3-2.2-4.1 0.4z"/><path color="#f3f01a" d="M245.2 130.9l4.1-0.4 2.3-2.2-4.1 0.4z"/><path class="m" d="M238.8 133.4l4.1-0.3 4.1-0.4 2.3-2.2 2.3-2.2-4.1 0.4-4.1 0.3-2.3 2.2z"/><path color="#f8ea15" d="M251.6 128.3l4.1-0.4 2.3-2.2-4.1 0.4z"/><path color="#f8eb16" d="M253.8 126.2l4.1-0.4 2.3-2.2-4.1 0.4z"/><path color="#fde20f" d="M255.7 127.9l4.2-0.5 2.3-2.1-4.1 0.5z"/><path color="#fce310" d="M258 125.7l4.1-0.5 2.3-2.1-4.1 0.5z"/><path class="m" d="M251.6 128.3l4.1-0.4 4.2-0.5 2.3-2.1 2.3-2.1-4.1 0.5-4.1 0.4-2.3 2.2z"/><path color="#50f74c" d="M104.5 175.3l4.2 1.4 2.4-2.6-4.2-1.4z"/><path color="#52f84c" d="M106.9 172.7l4.2 1.4 2.4-2.6-4.2-1.4z"/><path color="#51f84c" d="M108.6 176.7l4.2 1.3 2.4-2.6-4.2-1.3z"/><path color="#53f84b" d="M111.1 174.1l4.2 1.3 2.4-2.6-4.2-1.3z"/><path class="m" d="M104.5 175.3l4.2 1.4 4.2 1.3 2.4-2.6 2.4-2.6-4.2-1.3-4.2-1.4-2.4 2.6z"/><path color="#60f949" d="M130.7 170.1l4.1 1 2.4-2.5-4.1-1z"/><path color="#61fa49" d="M133.1 167.6l4.1 1 2.4-2.5-4.1-1.1z"/><path color="#63fa48" d="M134.8 171.1l4.1 0.9 2.4-2.5-4.1-0.9z"/><path color="#64fa48" d="M137.2 168.6l4.1 0.9 2.4-2.5-4.1-1z"/><path class="m" d="M130.7 170.1l4.1 1 4.1 0.9 2.4-2.5 2.4-2.5-4.1-1-4.1-1.1-2.4 2.5z"/><path color="#79fa43" d="M156.8 163.7l4.1 0.7 2.4-2.4-4.1-0.7z"/><path color="#7afa43" d="M159.1 161.2l4.1 0.7 2.4-2.4-4.1-0.7z"/><path color="#80fa41" d="M160.9 164.3l4.1 0.6 2.4-2.4-4.1-0.6z"/><path color="#81fa41" d="M163.2 161.9l4.1 0.6 2.4-2.4-4.1-0.6z"/><path class="m" d="M156.8 163.7l4.1 0.7 4.1 0.6 2.4-2.4 2.4-2.4-4.1-0.6-4.1-0.7-2.4 2.5z"/><path color="#89fa3f" d="M169.7 160l4.1 0.5 2.4-2.4-4.1-0.5z"/><path color="#8afa3f" d="M172.1 157.6l4.1 0.5 2.4-2.4-4.1-0.5z"/><path color="#91f93e" d="M173.8 160.5l4.1 0.4 2.4-2.4-4.1-0.4z"/><path color="#92f93e" d="M176.2 158.1l4.1 0.4 2.4-2.4-4.1-0.4z"/><path class="m" d="M169.7 160l4.1 0.5 4.1 0.4 2.4-2.4 2.4-2.4-4.1-0.4-4.1-0.5-2.4 2.4z"/><path color="#9bf93c" d="M182.6 156.1l4.1 0.3 2.3-2.4-4.1-0.3z"/><path color="#9bf93b" d="M185 153.7l4.1 0.3 2.3-2.4-4.1-0.3z"/><path color="#a4f839" d="M186.8 156.4l4.1 0.2 2.3-2.4-4.1-0.2z"/><path color="#a4f839" d="M189.1 154l4.1 0.2 2.3-2.4-4.1-0.2z"/><path class="m" d="M182.6 156.1l4.1 0.3 4.1 0.2 2.3-2.4 2.3-2.4-4.1-0.2-4.1-0.3-2.4 2.4z"/><path color="#aef837" d="M195.6 151.9l4.1 0.1 2.3-2.3-4.1-0.2z"/><path color="#adf837" d="M197.9 149.6l4.1 0.2 2.3-2.3-4.1-0.2z"/><path color="#b9f733" d="M199.7 152l4.1 0 2.3-2.3-4.1-0.1z"/><path color="#b8f734" d="M202 149.7l4.1 0.1 2.3-2.3-4.1-0.1z"/><path class="m" d="M195.6 151.9l4.1 0.1 4.1 0 2.3-2.3 2.3-2.3-4.1-0.1-4.1-0.2-2.3 2.3z"/><path color="#c3f62f" d="M208.4 147.5l4.1-0 2.3-2.3-4.1 0z"/><path color="#c3f730" d="M210.8 145.2l4.1-0 2.3-2.3-4.1-0z"/><path color="#d0f62b" d="M212.6 147.4l4.1-0.1 2.3-2.3-4.1 0.1z"/><path color="#cff62b" d="M214.9 145.2l4.1-0.1 2.3-2.3-4.1 0.1z"/><path class="m" d="M208.4 147.5l4.1-0 4.1-0.1 2.3-2.3 2.3-2.3-4.1 0.1-4.1-0-2.3 2.3z"/><path color="#ecf11d" d="M234.2 137.9l4.1-0.3 2.3-2.2-4.1 0.3z"/><path color="#ebf21e" d="M236.5 135.6l4.1-0.3 2.3-2.2-4.1 0.3z"/><path color="#f6ee18" d="M238.3 137.5l4.2-0.4 2.3-2.2-4.1 0.4z"/><path color="#f5ef19" d="M240.6 135.3l4.1-0.4 2.3-2.2-4.1 0.4z"/><path class="m" d="M234.2 137.9l4.1-0.3 4.2-0.4 2.3-2.2 2.3-2.2-4.1 0.4-4.1 0.3-2.3 2.2z"/><path color="#ffd30a" d="M259.9 127.4l4.2-0.6 2.2-2.1-4.2 0.6z"/><path color="#ffd60b" d="M262.1 125.2l4.2-0.6 2.2-2.1-4.2 0.6z"/><path color="#ffbf07" d="M264 126.7l4.2-0.7 2.2-2.1-4.2 0.7z"/><path color="#ffc308" d="M266.3 124.6l4.2-0.7 2.2-2.1-4.2 0.7z"/><path class="m" d="M259.9 127.4l4.2-0.6 4.2-0.7 2.2-2.1 2.2-2.1-4.2 0.7-4.2 0.6-2.3 2.1z"/><path color="#57f84b" d="M117.6 172.8l4.1 1.2 2.4-2.6-4.1-1.2z"/><path color="#59f94a" d="M120 170.3l4.1 1.2 2.4-2.6-4.1-1.3z"/><path color="#59f94a" d="M121.8 174.1l4.1 1.1 2.4-2.5-4.1-1.1z"/><path color="#5bf94a" d="M124.2 171.5l4.1 1.1 2.4-2.5-4.1-1.1z"/><path class="m" d="M117.6 172.8l4.1 1.2 4.1 1.1 2.4-2.5 2.4-2.5-4.1-1.1-4.1-1.3-2.4 2.6z"/><path color="#6bfa46" d="M143.8 167l4.1 0.8 2.4-2.5-4.1-0.9z"/><path color="#6cfa46" d="M146.1 164.5l4.1 0.9 2.4-2.5-4.1-0.9z"/><path color="#70fa45" d="M147.9 167.9l4.1 0.7 2.4-2.5-4.1-0.8z"/><path color="#72fa45" d="M150.3 165.4l4.1 0.8 2.4-2.5-4.1-0.8z"/><path class="m" d="M143.8 167l4.1 0.8 4.1 0.7 2.4-2.5 2.4-2.5-4.1-0.8-4.1-0.9-2.4 2.5z"/><path color="#daf527" d="M221.3 142.8l4.1-0.2 2.3-2.3-4.1 0.2z"/><path color="#d9f527" d="M223.6 140.5l4.1-0.2 2.3-2.2-4.1 0.1z"/><path color="#e4f322" d="M225.5 142.6l4.1-0.3 2.3-2.2-4.1 0.3z"/><path color="#e3f322" d="M227.8 140.3l4.1-0.3 2.3-2.2-4.1 0.2z"/><path class="m" d="M221.3 142.8l4.1-0.2 4.1-0.3 2.3-2.2 2.3-2.2-4.1 0.2-4.1 0.1-2.3 2.3z"/><path color="#f9e813" d="M247 132.7l4.2-0.5 2.3-2.2-4.1 0.5z"/><path color="#f9e914" d="M249.3 130.5l4.1-0.5 2.3-2.2-4.1 0.4z"/><path color="#fedf0d" d="M251.2 132.2l4.2-0.6 2.3-2.2-4.2 0.5z"/><path color="#fee00e" d="M253.5 130.1l4.2-0.5 2.3-2.2-4.2 0.5z"/><path class="m" d="M247 132.7l4.2-0.5 4.2-0.6 2.3-2.2 2.3-2.2-4.2 0.5-4.1 0.4-2.3 2.2z"/><path color="#9af93c" d="M177.9 160.9l4.1 0.3 2.3-2.4-4.1-0.3z"/><path color="#9af93c" d="M180.3 158.5l4.1 0.3 2.3-2.4-4.1-0.3z"/><path color="#a3f93a" d="M182.1 161.2l4.1 0.2 2.3-2.4-4.1-0.2z"/><path color="#a4f93a" d="M184.4 158.8l4.1 0.2 2.3-2.4-4.1-0.2z"/><path class="m" d="M177.9 160.9l4.1 0.3 4.1 0.2 2.3-2.4 2.3-2.4-4.1-0.2-4.1-0.3-2.4 2.4z"/><path color="#aef837" d="M190.9 156.6l4.1 0.1 2.3-2.3-4.1-0.1z"/><path color="#aef837" d="M193.2 154.3l4.1 0.1 2.3-2.3-4.1-0.1z"/><path color="#b9f733" d="M195 156.7l4.1 0 2.3-2.3-4.1-0z"/><path color="#b9f733" d="M197.3 154.4l4.1 0 2.3-2.3-4.1-0z"/><path class="m" d="M190.9 156.6l4.1 0.1 4.1 0 2.3-2.3 2.3-2.3-4.1-0-4.1-0.1-2.3 2.4z"/><path color="#53f84b" d="M112.8 178l4.2 1.2 2.4-2.6-4.2-1.2z"/><path color="#55f84b" d="M115.2 175.4l4.2 1.2 2.4-2.6-4.1-1.2z"/><path color="#56f84b" d="M117 179.2l4.2 1.1 2.4-2.6-4.2-1.1z"/><path color="#58f84a" d="M119.4 176.6l4.2 1.1 2.4-2.6-4.1-1.1z"/><path class="m" d="M112.8 178l4.2 1.2 4.2 1.1 2.4-2.6 2.4-2.6-4.1-1.1-4.1-1.2-2.4 2.6z"/><path color="#5cf94a" d="M125.9 175.2l4.1 1 2.4-2.5-4.1-1z"/><path color="#5ef949" d="M128.3 172.6l4.1 1 2.4-2.5-4.1-1z"/><path color="#60f949" d="M130.1 176.2l4.1 0.9 2.4-2.5-4.1-0.9z"/><path color="#61fa49" d="M132.5 173.6l4.1 0.9 2.4-2.5-4.1-0.9z"/><path class="m" d="M125.9 175.2l4.1 1 4.1 0.9 2.4-2.5 2.4-2.5-4.1-0.9-4.1-1-2.4 2.5z"/><path color="#68fa47" d="M139 172l4.1 0.8 2.4-2.5-4.1-0.8z"/><path color="#69fa47" d="M141.4 169.5l4.1 0.8 2.4-2.5-4.1-0.8z"/><path color="#6efa46" d="M143.1 172.9l4.1 0.7 2.4-2.5-4.1-0.7z"/><path color="#6ffa45" d="M145.5 170.4l4.1 0.7 2.4-2.5-4.1-0.7z"/><path class="m" d="M139 172l4.1 0.8 4.1 0.7 2.4-2.5 2.4-2.5-4.1-0.7-4.1-0.8-2.4 2.5z"/><path color="#77fa44" d="M152 168.6l4.1 0.6 2.4-2.5-4.1-0.6z"/><path color="#78fa43" d="M154.4 166.1l4.1 0.6 2.4-2.5-4.1-0.7z"/><path color="#7efa42" d="M156.1 169.2l4.1 0.5 2.4-2.4-4.1-0.5z"/><path color="#7ffa42" d="M158.5 166.8l4.1 0.5 2.4-2.4-4.1-0.6z"/><path class="m" d="M152 168.6l4.1 0.6 4.1 0.5 2.4-2.4 2.4-2.4-4.1-0.6-4.1-0.7-2.4 2.5z"/><path color="#87fa40" d="M165 164.9l4.1 0.5 2.4-2.4-4.1-0.5z"/><path color="#88fa40" d="M167.4 162.4l4.1 0.5 2.4-2.4-4.1-0.5z"/><path color="#90f93e" d="M169.1 165.3l4.1 0.4 2.4-2.4-4.1-0.4z"/><path color="#90f93e" d="M171.5 162.9l4.1 0.4 2.4-2.4-4.1-0.4z"/><path class="m" d="M165 164.9l4.1 0.5 4.1 0.4 2.4-2.4 2.4-2.4-4.1-0.4-4.1-0.5-2.4 2.4z"/><path color="#c4f62f" d="M203.8 152.1l4.1-0 2.3-2.3-4.1 0z"/><path color="#c4f62f" d="M206.1 149.8l4.1-0 2.3-2.3-4.1 0z"/><path color="#d1f52a" d="M207.9 152.1l4.1-0.1 2.3-2.3-4.1 0.1z"/><path color="#d0f62b" d="M210.3 149.7l4.1-0.1 2.3-2.3-4.1 0.1z"/><path class="m" d="M203.8 152.1l4.1-0 4.1-0.1 2.3-2.3 2.3-2.3-4.1 0.1-4.1 0-2.3 2.3z"/><path color="#dbf426" d="M216.7 147.3l4.1-0.2 2.3-2.3-4.1 0.2z"/><path color="#daf426" d="M219 145.1l4.1-0.2 2.3-2.3-4.1 0.2z"/><path color="#e6f321" d="M220.8 147.1l4.2-0.3 2.3-2.3-4.2 0.3z"/><path color="#e5f321" d="M223.2 144.9l4.2-0.3 2.3-2.2-4.1 0.3z"/><path class="m" d="M216.7 147.3l4.1-0.2 4.2-0.3 2.3-2.3 2.3-2.2-4.1 0.3-4.1 0.2-2.3 2.3z"/><path color="#eef11c" d="M229.6 142.3l4.2-0.4 2.3-2.2-4.2 0.3z"/><path color="#edf11d" d="M231.9 140.1l4.2-0.3 2.3-2.2-4.1 0.3z"/><path color="#f7ed17" d="M233.8 142l4.2-0.4 2.3-2.2-4.2 0.4z"/><path color="#f6ee17" d="M236 139.8l4.2-0.4 2.3-2.2-4.2 0.4z"/><path class="m" d="M229.6 142.3l4.2-0.4 4.2-0.4 2.3-2.2 2.3-2.2-4.2 0.4-4.1 0.3-2.3 2.2z"/><path color="#fbe612" d="M242.5 137.1l4.2-0.5 2.3-2.2-4.2 0.5z"/><path color="#fae712" d="M244.8 134.9l4.2-0.5 2.3-2.2-4.2 0.5z"/><path color="#ffdc0c" d="M246.7 136.6l4.2-0.6 2.3-2.2-4.2 0.6z"/><path color="#ffde0c" d="M248.9 134.4l4.2-0.6 2.3-2.2-4.2 0.6z"/><path class="m" d="M242.5 137.1l4.2-0.5 4.2-0.6 2.3-2.2 2.3-2.2-4.2 0.6-4.2 0.5-2.3 2.2z"/><path color="#ffcd0a" d="M255.4 131.7l4.2-0.6 2.2-2.1-4.2 0.6z"/><path color="#ffd00a" d="M257.6 129.5l4.2-0.6 2.2-2.1-4.2 0.6z"/><path color="#ffba07" d="M259.5 131l4.2-0.7 2.2-2.1-4.2 0.7z"/><path color="#ffbc07" d="M261.8 128.9l4.2-0.7 2.2-2.1-4.2 0.7z"/><path class="m" d="M255.4 131.7l4.2-0.6 4.2-0.7 2.2-2.1 2.2-2.1-4.2 0.7-4.2 0.6-2.3 2.2z"/><path color="#59f94a" d="M121.1 180.3l4.2 1 2.4-2.5-4.2-1z"/><path color="#5bf94a" d="M123.5 177.7l4.2 1 2.4-2.5-4.1-1z"/><path color="#5df949" d="M125.3 181.3l4.2 0.9 2.4-2.5-4.2-0.9z"/><path color="#5ff949" d="M127.7 178.7l4.2 0.9 2.4-2.5-4.1-0.9z"/><path class="m" d="M121.1 180.3l4.2 1 4.2 0.9 2.4-2.5 2.4-2.5-4.1-0.9-4.1-1-2.4 2.6z"/><path color="#74fa44" d="M147.2 173.6l4.1 0.6 2.4-2.5-4.1-0.6z"/><path color="#76fa44" d="M149.6 171.1l4.1 0.6 2.4-2.5-4.1-0.6z"/><path color="#7cfa42" d="M151.4 174.2l4.1 0.5 2.4-2.5-4.1-0.5z"/><path color="#7dfa42" d="M153.8 171.7l4.1 0.5 2.4-2.4-4.1-0.5z"/><path class="m" d="M147.2 173.6l4.1 0.6 4.1 0.5 2.4-2.5 2.4-2.4-4.1-0.5-4.1-0.6-2.4 2.5z"/><path color="#86fa40" d="M160.3 169.8l4.1 0.4 2.4-2.4-4.1-0.4z"/><path color="#87fa40" d="M162.6 167.3l4.1 0.4 2.4-2.4-4.1-0.5z"/><path color="#8ff93e" d="M164.4 170.2l4.1 0.3 2.4-2.4-4.1-0.3z"/><path color="#8ff93e" d="M166.8 167.8l4.1 0.3 2.4-2.4-4.1-0.4z"/><path class="m" d="M160.3 169.8l4.1 0.4 4.1 0.3 2.4-2.4 2.4-2.4-4.1-0.4-4.1-0.5-2.4 2.4z"/><path color="#99f93c" d="M173.2 165.7l4.1 0.3 2.3-2.4-4.1-0.3z"/><path color="#99f93c" d="M175.6 163.3l4.1 0.3 2.3-2.4-4.1-0.3z"/><path color="#a3f93a" d="M177.4 165.9l4.1 0.2 2.3-2.4-4.1-0.2z"/><path color="#a3f93a" d="M179.7 163.6l4.1 0.2 2.3-2.4-4.1-0.2z"/><path class="m" d="M173.2 165.7l4.1 0.3 4.1 0.2 2.3-2.4 2.3-2.4-4.1-0.2-4.1-0.3-2.4 2.4z"/><path color="#aef837" d="M186.2 161.4l4.1 0.1 2.3-2.4-4.1-0.1z"/><path color="#aef837" d="M188.5 159l4.1 0.1 2.3-2.3-4.1-0.1z"/><path color="#b9f733" d="M190.3 161.4l4.2-0 2.3-2.3-4.1-0z"/><path color="#b9f733" d="M192.7 159.1l4.1 0 2.3-2.3-4.1-0z"/><path class="m" d="M186.2 161.4l4.1 0.1 4.2-0 2.3-2.3 2.3-2.3-4.1-0-4.1-0.1-2.3 2.4z"/><path color="#c5f62f" d="M199.2 156.8l4.2-0.1 2.3-2.3-4.1 0.1z"/><path color="#c5f62f" d="M201.5 154.4l4.1-0.1 2.3-2.3-4.1 0z"/><path color="#d2f52a" d="M203.3 156.7l4.2-0.2 2.3-2.3-4.2 0.2z"/><path color="#d2f52a" d="M205.6 154.4l4.2-0.2 2.3-2.3-4.1 0.1z"/><path class="m" d="M199.2 156.8l4.2-0.1 4.2-0.2 2.3-2.3 2.3-2.3-4.1 0.1-4.1 0-2.3 2.3z"/><path color="#ddf425" d="M212.1 151.9l4.2-0.2 2.3-2.3-4.2 0.2z"/><path color="#dcf426" d="M214.4 149.6l4.2-0.2 2.3-2.3-4.1 0.2z"/><path color="#e7f220" d="M216.2 151.7l4.2-0.3 2.3-2.3-4.2 0.3z"/><path color="#e6f220" d="M218.5 149.4l4.2-0.3 2.3-2.3-4.2 0.3z"/><path class="m" d="M212.1 151.9l4.2-0.2 4.2-0.3 2.3-2.3 2.3-2.3-4.2 0.3-4.1 0.2-2.3 2.3z"/><path color="#f0f11b" d="M225 146.8l4.2-0.4 2.3-2.2-4.2 0.4z"/><path color="#eff11c" d="M227.3 144.6l4.2-0.4 2.3-2.2-4.2 0.4z"/><path color="#f8eb15" d="M229.2 146.4l4.2-0.5 2.3-2.2-4.2 0.5z"/><path color="#f7ec16" d="M231.5 144.2l4.2-0.5 2.3-2.2-4.2 0.4z"/><path class="m" d="M225 146.8l4.2-0.4 4.2-0.5 2.3-2.2 2.3-2.2-4.2 0.4-4.2 0.4-2.3 2.2z"/><path color="#ffc809" d="M250.8 136l4.2-0.7 2.3-2.2-4.2 0.7z"/><path color="#ffcb09" d="M253.1 133.8l4.2-0.7 2.3-2.2-4.2 0.6z"/><path color="#ffb406" d="M255 135.3l4.2-0.8 2.2-2.1-4.2 0.7z"/><path color="#ffb706" d="M257.3 133.2l4.2-0.7 2.2-2.1-4.2 0.7z"/><path class="m" d="M250.8 136l4.2-0.7 4.2-0.8 2.2-2.1 2.2-2.1-4.2 0.7-4.2 0.6-2.3 2.2z"/><path color="#64fa48" d="M134.2 177.1l4.1 0.8 2.4-2.5-4.1-0.8z"/><path color="#66fa48" d="M136.6 174.6l4.1 0.8 2.4-2.5-4.1-0.8z"/><path color="#6bfa46" d="M138.4 177.9l4.1 0.7 2.4-2.5-4.1-0.7z"/><path color="#6cfa46" d="M140.7 175.4l4.1 0.7 2.4-2.5-4.1-0.7z"/><path class="m" d="M134.2 177.1l4.1 0.8 4.1 0.7 2.4-2.5 2.4-2.5-4.1-0.7-4.1-0.8-2.4 2.5z"/><path color="#fce410" d="M237.9 141.5l4.2-0.5 2.3-2.2-4.2 0.5z"/><path color="#fbe511" d="M240.2 139.3l4.2-0.5 2.3-2.2-4.2 0.5z"/><path color="#ffd70b" d="M242.1 141l4.2-0.6 2.3-2.2-4.2 0.6z"/><path color="#ffd90b" d="M244.4 138.8l4.2-0.6 2.3-2.2-4.2 0.6z"/><path class="m" d="M237.9 141.5l4.2-0.5 4.2-0.6 2.3-2.2 2.3-2.2-4.2 0.6-4.2 0.5-2.3 2.2z"/><path color="#62fa48" d="M129.4 182.1l4.2 0.8 2.4-2.5-4.2-0.8z"/><path color="#63fa48" d="M131.8 179.6l4.2 0.8 2.4-2.5-4.1-0.8z"/><path color="#68fa47" d="M133.6 182.9l4.2 0.7 2.4-2.5-4.2-0.7z"/><path color="#69fa47" d="M136 180.4l4.2 0.7 2.4-2.5-4.1-0.7z"/><path class="m" d="M129.4 182.1l4.2 0.8 4.2 0.7 2.4-2.5 2.4-2.5-4.1-0.7-4.1-0.8-2.4 2.5z"/><path color="#72fa45" d="M142.5 178.5l4.2 0.6 2.4-2.5-4.1-0.6z"/><path color="#73fa45" d="M144.9 176.1l4.1 0.6 2.4-2.5-4.1-0.6z"/><path color="#79fa43" d="M146.7 179.1l4.2 0.5 2.4-2.5-4.2-0.5z"/><path color="#7bfa43" d="M149 176.6l4.2 0.5 2.4-2.5-4.1-0.5z"/><path class="m" d="M142.5 178.5l4.2 0.6 4.2 0.5 2.4-2.5 2.4-2.5-4.1-0.5-4.1-0.6-2.4 2.5z"/><path color="#84fa41" d="M155.5 174.7l4.2 0.4 2.4-2.4-4.1-0.4z"/><path color="#85fa40" d="M157.9 172.2l4.1 0.4 2.4-2.4-4.1-0.4z"/><path color="#8dfa3f" d="M159.7 175.1l4.2 0.3 2.3-2.4-4.2-0.3z"/><path color="#8ef93e" d="M162 172.6l4.2 0.3 2.4-2.4-4.1-0.3z"/><path class="m" d="M155.5 174.7l4.2 0.4 4.2 0.3 2.3-2.4 2.4-2.4-4.1-0.3-4.1-0.4-2.4 2.4z"/><path color="#98f93c" d="M168.5 170.5l4.2 0.2 2.3-2.4-4.1-0.2z"/><path color="#99f93c" d="M170.9 168.1l4.1 0.2 2.3-2.4-4.1-0.3z"/><path color="#a2f93a" d="M172.7 170.7l4.2 0.1 2.3-2.4-4.2-0.1z"/><path color="#a3f93a" d="M175 168.3l4.2 0.1 2.3-2.4-4.1-0.2z"/><path class="m" d="M168.5 170.5l4.2 0.2 4.2 0.1 2.3-2.4 2.3-2.4-4.1-0.2-4.1-0.3-2.4 2.4z"/><path color="#aef837" d="M181.5 166.1l4.2 0.1 2.3-2.4-4.2-0.1z"/><path color="#aef837" d="M183.9 163.7l4.2 0.1 2.3-2.4-4.1-0.1z"/><path color="#baf733" d="M185.7 166.2l4.2-0 2.3-2.4-4.2 0z"/><path color="#b9f733" d="M188 163.8l4.2-0 2.3-2.3-4.2 0z"/><path class="m" d="M181.5 166.1l4.2 0.1 4.2-0 2.3-2.4 2.3-2.3-4.2 0-4.1-0.1-2.3 2.4z"/><path color="#c6f62e" d="M194.5 161.4l4.2-0.1 2.3-2.3-4.2 0.1z"/><path color="#c6f62f" d="M196.8 159.1l4.2-0.1 2.3-2.3-4.2 0.1z"/><path color="#d3f529" d="M198.7 161.3l4.2-0.2 2.3-2.3-4.2 0.2z"/><path color="#d3f52a" d="M201 159l4.2-0.2 2.3-2.3-4.2 0.2z"/><path class="m" d="M194.5 161.4l4.2-0.1 4.2-0.2 2.3-2.3 2.3-2.3-4.2 0.2-4.2 0.1-2.3 2.3z"/><path color="#def425" d="M207.5 156.5l4.2-0.3 2.3-2.3-4.2 0.2z"/><path color="#ddf425" d="M209.8 154.2l4.2-0.2 2.3-2.3-4.2 0.2z"/><path color="#e9f21f" d="M211.6 156.2l4.2-0.4 2.3-2.3-4.2 0.3z"/><path color="#e8f220" d="M213.9 154l4.2-0.3 2.3-2.3-4.2 0.3z"/><path class="m" d="M207.5 156.5l4.2-0.3 4.2-0.4 2.3-2.3 2.3-2.3-4.2 0.3-4.2 0.2-2.3 2.3z"/><path color="#f2f01a" d="M220.4 151.3l4.2-0.4 2.3-2.2-4.2 0.4z"/><path color="#f1f11b" d="M222.7 149.1l4.2-0.4 2.3-2.2-4.2 0.4z"/><path color="#f9e914" d="M224.6 150.9l4.2-0.5 2.3-2.2-4.2 0.5z"/><path color="#f8ea15" d="M226.9 148.7l4.2-0.5 2.3-2.2-4.2 0.5z"/><path class="m" d="M220.4 151.3l4.2-0.4 4.2-0.5 2.3-2.2 2.3-2.2-4.2 0.5-4.2 0.4-2.3 2.3z"/><path color="#fde20f" d="M233.4 146l4.2-0.6 2.3-2.2-4.2 0.5z"/><path color="#fce310" d="M235.6 143.7l4.2-0.5 2.3-2.2-4.2 0.5z"/><path color="#ffd30a" d="M237.6 145.4l4.2-0.7 2.3-2.2-4.2 0.6z"/><path color="#ffd50b" d="M239.8 143.2l4.2-0.6 2.3-2.2-4.2 0.6z"/><path class="m" d="M233.4 146l4.2-0.6 4.2-0.7 2.3-2.2 2.3-2.2-4.2 0.6-4.2 0.5-2.3 2.2z"/><path color="#ffc308" d="M246.3 140.4l4.2-0.7 2.3-2.2-4.2 0.7z"/><path color="#ffc608" d="M248.6 138.2l4.2-0.7 2.3-2.2-4.2 0.7z"/><path color="#ffae05" d="M250.5 139.7l4.2-0.8 2.2-2.2-4.2 0.8z"/><path color="#ffb105" d="M252.8 137.5l4.2-0.8 2.2-2.1-4.2 0.8z"/><path class="m" d="M246.3 140.4l4.2-0.7 4.2-0.8 2.2-2.2 2.2-2.1-4.2 0.8-4.2 0.7-2.3 2.2z"/><path color="#6ffa45" d="M137.8 183.5l4.2 0.5 2.4-2.5-4.2-0.6z"/><path color="#70fa45" d="M140.1 181l4.2 0.6 2.4-2.5-4.2-0.6z"/><path color="#77fa44" d="M141.9 184.1l4.2 0.4 2.4-2.5-4.2-0.5z"/><path color="#78fa43" d="M144.3 181.6l4.2 0.5 2.4-2.5-4.2-0.5z"/><path class="m" d="M137.8 183.5l4.2 0.5 4.2 0.4 2.4-2.5 2.4-2.5-4.2-0.5-4.2-0.6-2.4 2.5z"/><path color="#82fa41" d="M150.8 179.6l4.2 0.4 2.4-2.4-4.2-0.4z"/><path color="#83fa41" d="M153.2 177.1l4.2 0.4 2.4-2.4-4.2-0.4z"/><path color="#8bfa3f" d="M155 180l4.2 0.3 2.3-2.4-4.2-0.3z"/><path color="#8cfa3f" d="M157.3 177.5l4.2 0.3 2.3-2.4-4.2-0.3z"/><path class="m" d="M150.8 179.6l4.2 0.4 4.2 0.3 2.3-2.4 2.3-2.4-4.2-0.3-4.2-0.4-2.4 2.5z"/><path color="#97f93c" d="M163.8 175.4l4.2 0.2 2.3-2.4-4.2-0.2z"/><path color="#97f93c" d="M166.2 172.9l4.2 0.2 2.3-2.4-4.2-0.2z"/><path color="#a1f93a" d="M168 175.6l4.2 0.1 2.3-2.4-4.2-0.1z"/><path color="#a2f93a" d="M170.3 173.2l4.2 0.1 2.3-2.4-4.2-0.1z"/><path class="m" d="M163.8 175.4l4.2 0.2 4.2 0.1 2.3-2.4 2.3-2.4-4.2-0.1-4.2-0.2-2.4 2.4z"/><path color="#adf837" d="M176.9 170.9l4.2 0 2.3-2.4-4.2-0z"/><path color="#adf837" d="M179.2 168.5l4.2 0 2.3-2.4-4.2-0.1z"/><path color="#baf733" d="M181 170.9l4.2-0.1 2.3-2.4-4.2 0.1z"/><path color="#baf733" d="M183.4 168.5l4.2-0.1 2.3-2.4-4.2 0z"/><path class="m" d="M176.9 170.9l4.2 0 4.2-0.1 2.3-2.4 2.3-2.4-4.2 0-4.2-0.1-2.3 2.4z"/><path color="#c6f62e" d="M189.9 166.1l4.2-0.1 2.3-2.3-4.2 0.1z"/><path color="#c6f62e" d="M192.2 163.8l4.2-0.1 2.3-2.3-4.2 0.1z"/><path color="#d4f529" d="M194 166l4.2-0.2 2.3-2.3-4.2 0.2z"/><path color="#d4f529" d="M196.3 163.7l4.2-0.2 2.3-2.3-4.2 0.2z"/><path class="m" d="M189.9 166.1l4.2-0.1 4.2-0.2 2.3-2.3 2.3-2.3-4.2 0.2-4.2 0.1-2.3 2.3z"/><path color="#dff424" d="M202.8 161.1l4.2-0.3 2.3-2.3-4.2 0.3z"/><path color="#def424" d="M205.2 158.8l4.2-0.3 2.3-2.3-4.2 0.3z"/><path color="#eaf21f" d="M207 160.8l4.2-0.4 2.3-2.3-4.2 0.4z"/><path color="#e9f21f" d="M209.3 158.5l4.2-0.4 2.3-2.3-4.2 0.4z"/><path class="m" d="M202.8 161.1l4.2-0.3 4.2-0.4 2.3-2.3 2.3-2.3-4.2 0.4-4.2 0.3-2.3 2.3z"/><path color="#f4f01a" d="M215.8 155.9l4.2-0.4 2.3-2.3-4.2 0.4z"/><path color="#f3f01a" d="M218.1 153.6l4.2-0.4 2.3-2.3-4.2 0.4z"/><path color="#fae813" d="M220 155.4l4.2-0.5 2.3-2.2-4.2 0.5z"/><path color="#f9e914" d="M222.3 153.2l4.2-0.5 2.3-2.2-4.2 0.5z"/><path class="m" d="M215.8 155.9l4.2-0.4 4.2-0.5 2.3-2.2 2.3-2.2-4.2 0.5-4.2 0.4-2.3 2.3z"/><path color="#fee00e" d="M228.8 150.4l4.2-0.6 2.3-2.2-4.2 0.6z"/><path color="#fde10e" d="M231.1 148.2l4.2-0.6 2.3-2.2-4.2 0.6z"/><path color="#ffcf0a" d="M233 149.8l4.2-0.7 2.3-2.2-4.2 0.7z"/><path color="#ffd10a" d="M235.3 147.6l4.2-0.7 2.3-2.2-4.2 0.7z"/><path class="m" d="M228.8 150.4l4.2-0.6 4.2-0.7 2.3-2.2 2.3-2.2-4.2 0.7-4.2 0.6-2.3 2.2z"/><path color="#ffbe07" d="M241.8 144.8l4.2-0.7 2.3-2.2-4.2 0.7z"/><path color="#ffc108" d="M244.1 142.6l4.2-0.7 2.3-2.2-4.2 0.7z"/><path color="#ffa904" d="M246 144l4.3-0.8 2.2-2.2-4.2 0.8z"/><path color="#ffac05" d="M248.3 141.8l4.2-0.8 2.2-2.2-4.2 0.8z"/><path class="m" d="M241.8 144.8l4.2-0.7 4.3-0.8 2.2-2.2 2.2-2.2-4.2 0.8-4.2 0.7-2.3 2.2z"/><path color="#80fa41" d="M146.1 184.5l4.2 0.3 2.4-2.5-4.2-0.4z"/><path color="#81fa41" d="M148.5 182.1l4.2 0.4 2.4-2.5-4.2-0.4z"/><path color="#8afa3f" d="M150.3 184.9l4.2 0.2 2.3-2.4-4.2-0.3z"/><path color="#8bfa3f" d="M152.6 182.4l4.2 0.3 2.3-2.4-4.2-0.3z"/><path class="m" d="M146.1 184.5l4.2 0.3 4.2 0.2 2.3-2.4 2.3-2.4-4.2-0.3-4.2-0.4-2.4 2.5z"/><path color="#96f93d" d="M159.1 180.2l4.2 0.2 2.3-2.4-4.2-0.2z"/><path color="#96f93d" d="M161.5 177.8l4.2 0.2 2.3-2.4-4.2-0.2z"/><path color="#a0f93a" d="M163.3 180.4l4.2 0.1 2.3-2.4-4.2-0.1z"/><path color="#a1f93a" d="M165.7 178l4.2 0.1 2.3-2.4-4.2-0.1z"/><path class="m" d="M159.1 180.2l4.2 0.2 4.2 0.1 2.3-2.4 2.3-2.4-4.2-0.1-4.2-0.2-2.3 2.4z"/><path color="#adf838" d="M172.2 175.7l4.2 0 2.3-2.4-4.2-0z"/><path color="#adf837" d="M174.5 173.3l4.2 0 2.3-2.4-4.2-0z"/><path color="#b9f733" d="M176.4 175.7l4.2-0.1 2.3-2.4-4.2 0.1z"/><path color="#b9f733" d="M178.7 173.3l4.2-0.1 2.3-2.4-4.2 0.1z"/><path class="m" d="M172.2 175.7l4.2 0 4.2-0.1 2.3-2.4 2.3-2.4-4.2 0.1-4.2-0-2.3 2.4z"/><path color="#c7f62e" d="M185.2 170.8l4.2-0.2 2.3-2.3-4.2 0.1z"/><path color="#c7f62e" d="M187.5 168.5l4.2-0.1 2.3-2.3-4.2 0.1z"/><path color="#d5f529" d="M189.4 170.7l4.2-0.3 2.3-2.3-4.2 0.2z"/><path color="#d4f529" d="M191.7 168.3l4.2-0.2 2.3-2.3-4.2 0.2z"/><path class="m" d="M185.2 170.8l4.2-0.2 4.2-0.3 2.3-2.3 2.3-2.3-4.2 0.2-4.2 0.1-2.3 2.4z"/><path color="#e0f424" d="M198.2 165.8l4.2-0.3 2.3-2.3-4.2 0.3z"/><path color="#dff424" d="M200.5 163.4l4.2-0.3 2.3-2.3-4.2 0.3z"/><path color="#ebf21e" d="M202.4 165.4l4.2-0.4 2.3-2.3-4.2 0.4z"/><path color="#eaf21e" d="M204.7 163.1l4.2-0.4 2.3-2.3-4.2 0.4z"/><path class="m" d="M198.2 165.8l4.2-0.3 4.2-0.4 2.3-2.3 2.3-2.3-4.2 0.4-4.2 0.3-2.3 2.3z"/><path color="#f5f019" d="M211.2 160.5l4.2-0.5 2.3-2.3-4.2 0.5z"/><path color="#f5f019" d="M213.5 158.2l4.2-0.5 2.3-2.3-4.2 0.4z"/><path color="#fae712" d="M215.5 160l4.2-0.6 2.3-2.3-4.2 0.5z"/><path color="#fae713" d="M217.7 157.7l4.2-0.5 2.3-2.2-4.2 0.5z"/><path class="m" d="M211.2 160.5l4.2-0.5 4.2-0.6 2.3-2.3 2.3-2.2-4.2 0.5-4.2 0.4-2.3 2.3z"/><path color="#ffdf0c" d="M224.2 154.9l4.2-0.6 2.3-2.2-4.2 0.6z"/><path color="#fedf0d" d="M226.5 152.7l4.2-0.6 2.3-2.2-4.2 0.6z"/><path color="#ffcb09" d="M228.5 154.3l4.2-0.7 2.3-2.2-4.2 0.7z"/><path color="#ffcd09" d="M230.8 152.1l4.2-0.7 2.3-2.2-4.2 0.7z"/><path class="m" d="M224.2 154.9l4.2-0.6 4.2-0.7 2.3-2.2 2.3-2.2-4.2 0.7-4.2 0.6-2.3 2.2z"/><path color="#ffba07" d="M237.3 149.2l4.3-0.8 2.3-2.2-4.2 0.8z"/><path color="#ffbc07" d="M239.5 147l4.2-0.8 2.3-2.2-4.2 0.7z"/><path color="#ffa404" d="M241.5 148.4l4.3-0.8 2.3-2.2-4.3 0.8z"/><path color="#ffa604" d="M243.8 146.2l4.3-0.8 2.2-2.2-4.3 0.8z"/><path class="m" d="M237.3 149.2l4.3-0.8 4.3-0.8 2.3-2.2 2.2-2.2-4.3 0.8-4.2 0.7-2.3 2.2z"/><path color="#94f93d" d="M154.4 185.1l4.2 0.1 2.3-2.4-4.2-0.2z"/><path color="#95f93d" d="M156.8 182.7l4.2 0.2 2.3-2.4-4.2-0.2z"/><path color="#9ff93a" d="M158.6 185.3l4.2 0 2.3-2.4-4.2-0.1z"/><path color="#a0f93a" d="M161 182.8l4.2 0.1 2.3-2.4-4.2-0.1z"/><path class="m" d="M154.4 185.1l4.2 0.1 4.2 0 2.3-2.4 2.3-2.4-4.2-0.1-4.2-0.2-2.3 2.4z"/><path color="#acf838" d="M167.5 180.5l4.2-0 2.3-2.4-4.2 0z"/><path color="#acf838" d="M169.8 178.1l4.2-0 2.3-2.4-4.2-0z"/><path color="#b9f733" d="M171.7 180.4l4.2-0.1 2.3-2.4-4.2 0.1z"/><path color="#b9f733" d="M174 178.1l4.2-0.1 2.3-2.4-4.2 0.1z"/><path class="m" d="M167.5 180.5l4.2-0 4.2-0.1 2.3-2.4 2.3-2.4-4.2 0.1-4.2-0-2.3 2.4z"/><path color="#ffdc0c" d="M219.7 159.4l4.2-0.6 2.3-2.2-4.2 0.6z"/><path color="#ffdd0c" d="M222 157.2l4.2-0.6 2.3-2.2-4.2 0.6z"/><path color="#ffc709" d="M223.9 158.8l4.3-0.7 2.3-2.2-4.3 0.7z"/><path color="#ffc909" d="M226.2 156.5l4.3-0.7 2.3-2.2-4.2 0.7z"/><path class="m" d="M219.7 159.4l4.2-0.6 4.3-0.7 2.3-2.2 2.3-2.2-4.2 0.7-4.2 0.6-2.3 2.2z"/><path color="#ffb606" d="M232.7 153.6l4.3-0.8 2.3-2.2-4.3 0.8z"/><path color="#ffb806" d="M235 151.4l4.3-0.8 2.3-2.2-4.3 0.8z"/><path color="#ff9f03" d="M237 152.8l4.3-0.9 2.3-2.2-4.3 0.9z"/><path color="#ffa104" d="M239.3 150.6l4.3-0.9 2.3-2.2-4.3 0.8z"/><path class="m" d="M232.7 153.6l4.3-0.8 4.3-0.9 2.3-2.2 2.3-2.2-4.3 0.8-4.3 0.8-2.3 2.2z"/><path color="#c7f62e" d="M180.6 175.6l4.2-0.2 2.3-2.4-4.2 0.2z"/><path color="#c7f62e" d="M182.9 173.2l4.2-0.2 2.3-2.4-4.2 0.2z"/><path color="#d5f529" d="M184.8 175.4l4.2-0.3 2.3-2.3-4.2 0.3z"/><path color="#d5f529" d="M187.1 173l4.2-0.3 2.3-2.3-4.2 0.3z"/><path class="m" d="M180.6 175.6l4.2-0.2 4.2-0.3 2.3-2.3 2.3-2.3-4.2 0.3-4.2 0.2-2.3 2.4z"/><path color="#e0f323" d="M193.6 170.4l4.2-0.3 2.3-2.3-4.2 0.3z"/><path color="#e0f323" d="M195.9 168.1l4.2-0.3 2.3-2.3-4.2 0.3z"/><path color="#ecf11d" d="M197.8 170.1l4.2-0.4 2.3-2.3-4.2 0.4z"/><path color="#ecf21e" d="M200.1 167.8l4.2-0.4 2.3-2.3-4.2 0.4z"/><path class="m" d="M193.6 170.4l4.2-0.3 4.2-0.4 2.3-2.3 2.3-2.3-4.2 0.4-4.2 0.3-2.3 2.3z"/><path color="#f6ef18" d="M206.6 165l4.2-0.5 2.3-2.3-4.2 0.5z"/><path color="#f6ef18" d="M208.9 162.7l4.2-0.5 2.3-2.3-4.2 0.5z"/><path color="#fbe511" d="M210.9 164.5l4.2-0.6 2.3-2.3-4.2 0.6z"/><path color="#fbe612" d="M213.2 162.3l4.2-0.6 2.3-2.3-4.2 0.6z"/><path class="m" d="M206.6 165l4.2-0.5 4.2-0.6 2.3-2.3 2.3-2.3-4.2 0.6-4.2 0.5-2.3 2.3z"/><path color="#abf838" d="M162.8 185.3l4.2-0.1 2.3-2.4-4.2 0z"/><path color="#acf838" d="M165.2 182.9l4.2-0 2.3-2.4-4.2 0z"/><path color="#b9f733" d="M167 185.2l4.2-0.2 2.3-2.4-4.2 0.1z"/><path color="#b9f733" d="M169.4 182.8l4.2-0.1 2.3-2.4-4.2 0.1z"/><path class="m" d="M162.8 185.3l4.2-0.1 4.2-0.2 2.3-2.4 2.3-2.4-4.2 0.1-4.2 0-2.3 2.4z"/><path color="#ffb205" d="M228.2 158l4.3-0.8 2.3-2.2-4.3 0.8z"/><path color="#ffb406" d="M230.5 155.8l4.3-0.8 2.3-2.2-4.3 0.8z"/><path color="#ff9a03" d="M232.5 157.2l4.3-0.9 2.3-2.2-4.3 0.9z"/><path color="#ff9c03" d="M234.7 155l4.3-0.9 2.3-2.2-4.3 0.9z"/><path class="m" d="M228.2 158l4.3-0.8 4.3-0.9 2.3-2.2 2.3-2.2-4.3 0.9-4.3 0.8-2.3 2.2z"/><path color="#c7f62e" d="M175.9 180.3l4.2-0.2 2.3-2.4-4.2 0.2z"/><path color="#c7f62e" d="M178.2 177.9l4.2-0.2 2.3-2.4-4.2 0.2z"/><path color="#d6f528" d="M180.1 180.1l4.2-0.3 2.3-2.4-4.2 0.3z"/><path color="#d6f529" d="M182.4 177.7l4.2-0.3 2.3-2.3-4.2 0.3z"/><path class="m" d="M175.9 180.3l4.2-0.2 4.2-0.3 2.3-2.4 2.3-2.3-4.2 0.3-4.2 0.2-2.3 2.4z"/><path color="#e1f323" d="M189 175.1l4.2-0.4 2.3-2.3-4.2 0.4z"/><path color="#e1f323" d="M191.3 172.8l4.2-0.4 2.3-2.3-4.2 0.3z"/><path color="#edf11d" d="M193.2 174.7l4.2-0.5 2.3-2.3-4.2 0.5z"/><path color="#edf11d" d="M195.5 172.4l4.2-0.5 2.3-2.3-4.2 0.4z"/><path class="m" d="M189 175.1l4.2-0.4 4.2-0.5 2.3-2.3 2.3-2.3-4.2 0.4-4.2 0.3-2.3 2.3z"/><path color="#f6ee17" d="M202 169.6l4.2-0.5 2.3-2.3-4.2 0.5z"/><path color="#f6ee18" d="M204.3 167.3l4.2-0.5 2.3-2.3-4.2 0.5z"/><path color="#fce410" d="M206.3 169.1l4.3-0.6 2.3-2.3-4.3 0.6z"/><path color="#fbe511" d="M208.6 166.8l4.3-0.6 2.3-2.3-4.2 0.6z"/><path class="m" d="M202 169.6l4.2-0.5 4.3-0.6 2.3-2.3 2.3-2.3-4.2 0.6-4.2 0.5-2.3 2.3z"/><path color="#ffd90b" d="M215.1 163.9l4.3-0.7 2.3-2.3-4.3 0.7z"/><path color="#ffda0b" d="M217.4 161.7l4.3-0.7 2.3-2.2-4.2 0.6z"/><path color="#ffc408" d="M219.4 163.3l4.3-0.8 2.3-2.2-4.3 0.7z"/><path color="#ffc508" d="M221.7 161l4.3-0.7 2.3-2.2-4.3 0.7z"/><path class="m" d="M215.1 163.9l4.3-0.7 4.3-0.8 2.3-2.2 2.3-2.2-4.3 0.7-4.2 0.6-2.3 2.3z"/><path color="#c7f62e" d="M171.3 185.1l4.2-0.2 2.3-2.4-4.2 0.2z"/><path color="#c7f62e" d="M173.6 182.7l4.2-0.2 2.3-2.4-4.2 0.2z"/><path color="#d6f528" d="M175.5 184.9l4.2-0.3 2.3-2.4-4.2 0.3z"/><path color="#d6f528" d="M177.8 182.5l4.2-0.3 2.3-2.4-4.2 0.3z"/><path class="m" d="M171.3 185.1l4.2-0.2 4.2-0.3 2.3-2.4 2.3-2.4-4.2 0.3-4.2 0.2-2.3 2.4z"/><path color="#e2f323" d="M184.3 179.8l4.2-0.4 2.3-2.3-4.2 0.4z"/><path color="#e1f323" d="M186.7 177.4l4.2-0.4 2.3-2.3-4.2 0.4z"/><path color="#eef11d" d="M188.6 179.4l4.3-0.5 2.3-2.3-4.2 0.5z"/><path color="#edf11d" d="M190.9 177.1l4.2-0.5 2.3-2.3-4.2 0.5z"/><path class="m" d="M184.3 179.8l4.2-0.4 4.3-0.5 2.3-2.3 2.3-2.3-4.2 0.5-4.2 0.4-2.3 2.3z"/><path color="#f7ed17" d="M197.4 174.3l4.3-0.6 2.3-2.3-4.3 0.5z"/><path color="#f7ed17" d="M199.7 171.9l4.3-0.5 2.3-2.3-4.2 0.5z"/><path color="#fce310" d="M201.7 173.7l4.3-0.6 2.3-2.3-4.3 0.6z"/><path color="#fce410" d="M204 171.4l4.3-0.6 2.3-2.3-4.3 0.6z"/><path class="m" d="M197.4 174.3l4.3-0.6 4.3-0.6 2.3-2.3 2.3-2.3-4.3 0.6-4.2 0.5-2.3 2.3z"/><path color="#ffd60b" d="M210.5 168.5l4.3-0.7 2.3-2.3-4.3 0.7z"/><path color="#ffd70b" d="M212.8 166.2l4.3-0.7 2.3-2.3-4.3 0.7z"/><path color="#ffc008" d="M214.8 167.8l4.3-0.8 2.3-2.2-4.3 0.8z"/><path color="#ffc208" d="M217.1 165.5l4.3-0.8 2.3-2.2-4.3 0.8z"/><path class="m" d="M210.5 168.5l4.3-0.7 4.3-0.8 2.3-2.2 2.3-2.2-4.3 0.8-4.3 0.7-2.3 2.3z"/><path color="#ffae05" d="M223.7 162.5l4.3-0.8 2.3-2.2-4.3 0.8z"/><path color="#ffb005" d="M225.9 160.3l4.3-0.8 2.3-2.2-4.3 0.8z"/><path color="#ff9602" d="M227.9 161.7l4.3-0.9 2.3-2.2-4.3 0.9z"/><path color="#ff9803" d="M230.2 159.4l4.3-0.9 2.3-2.2-4.3 0.9z"/><path class="m" d="M223.7 162.5l4.3-0.8 4.3-0.9 2.3-2.2 2.3-2.2-4.3 0.9-4.3 0.8-2.3 2.2z"/><path color="#f7ec16" d="M192.8 178.9l4.3-0.6 2.3-2.3-4.3 0.6z"/><path color="#f7ec16" d="M195.1 176.6l4.3-0.6 2.3-2.3-4.3 0.6z"/><path color="#fde20f" d="M197.1 178.3l4.3-0.7 2.3-2.3-4.3 0.7z"/><path color="#fce30f" d="M199.4 176l4.3-0.7 2.3-2.3-4.3 0.6z"/><path class="m" d="M192.8 178.9l4.3-0.6 4.3-0.7 2.3-2.3 2.3-2.3-4.3 0.6-4.3 0.6-2.3 2.3z"/><path color="#ffd30a" d="M206 173.1l4.3-0.7 2.3-2.3-4.3 0.7z"/><path color="#ffd50b" d="M208.3 170.8l4.3-0.7 2.3-2.3-4.3 0.7z"/><path color="#ffbd07" d="M210.3 172.3l4.3-0.8 2.3-2.3-4.3 0.8z"/><path color="#ffbf07" d="M212.5 170l4.3-0.8 2.3-2.3-4.3 0.8z"/><path class="m" d="M206 173.1l4.3-0.7 4.3-0.8 2.3-2.3 2.3-2.3-4.3 0.8-4.3 0.7-2.3 2.3z"/><path color="#e2f322" d="M179.7 184.5l4.3-0.4 2.3-2.3-4.2 0.4z"/><path color="#e2f323" d="M182 182.2l4.2-0.4 2.3-2.3-4.2 0.4z"/><path color="#eef11c" d="M184 184.1l4.3-0.5 2.3-2.3-4.3 0.5z"/><path color="#eef11c" d="M186.3 181.7l4.3-0.5 2.3-2.3-4.3 0.5z"/><path class="m" d="M179.7 184.5l4.3-0.4 4.3-0.5 2.3-2.3 2.3-2.3-4.3 0.5-4.2 0.4-2.3 2.4z"/><path color="#ffaa04" d="M219.1 167l4.3-0.9 2.3-2.2-4.3 0.9z"/><path color="#ffac05" d="M221.4 164.7l4.3-0.9 2.3-2.2-4.3 0.8z"/><path color="#ff9102" d="M223.4 166.1l4.3-1 2.3-2.2-4.3 0.9z"/><path color="#ff9302" d="M225.7 163.9l4.3-0.9 2.3-2.2-4.3 0.9z"/><path class="m" d="M219.1 167l4.3-0.9 4.3-1 2.3-2.2 2.3-2.2-4.3 0.9-4.3 0.8-2.3 2.2z"/><path color="#f8eb16" d="M188.2 183.6l4.3-0.6 2.3-2.3-4.3 0.6z"/><path color="#f7ec16" d="M190.5 181.2l4.3-0.6 2.3-2.3-4.3 0.6z"/><path color="#fde10e" d="M192.5 182.9l4.3-0.7 2.3-2.3-4.3 0.7z"/><path color="#fde20f" d="M194.8 180.6l4.3-0.7 2.3-2.3-4.3 0.7z"/><path class="m" d="M188.2 183.6l4.3-0.6 4.3-0.7 2.3-2.3 2.3-2.3-4.3 0.7-4.3 0.6-2.3 2.3z"/><path color="#ffd10a" d="M201.4 177.6l4.3-0.8 2.3-2.3-4.3 0.7z"/><path color="#ffd20a" d="M203.7 175.3l4.3-0.7 2.3-2.3-4.3 0.7z"/><path color="#ffbb07" d="M205.7 176.9l4.3-0.8 2.3-2.3-4.3 0.8z"/><path color="#ffbc07" d="M208 174.6l4.3-0.8 2.3-2.3-4.3 0.8z"/><path class="m" d="M201.4 177.6l4.3-0.8 4.3-0.8 2.3-2.3 2.3-2.3-4.3 0.8-4.3 0.7-2.3 2.3z"/><path color="#ffa604" d="M214.6 171.5l4.3-0.9 2.3-2.2-4.3 0.9z"/><path color="#ffa804" d="M216.8 169.2l4.3-0.9 2.3-2.2-4.3 0.9z"/><path color="#ff8d02" d="M218.9 170.6l4.3-1 2.3-2.2-4.3 1z"/><path color="#ff8f02" d="M221.2 168.4l4.3-1 2.3-2.2-4.3 1z"/><path class="m" d="M214.6 171.5l4.3-0.9 4.3-1 2.3-2.2 2.3-2.2-4.3 1-4.3 0.9-2.3 2.3z"/><path color="#ffcf0a" d="M196.8 182.2l4.3-0.8 2.3-2.3-4.3 0.8z"/><path color="#ffd00a" d="M199.1 179.9l4.3-0.8 2.3-2.3-4.3 0.8z"/><path color="#ffb806" d="M201.1 181.5l4.3-0.9 2.3-2.3-4.3 0.9z"/><path color="#ffb907" d="M203.4 179.2l4.3-0.9 2.3-2.3-4.3 0.8z"/><path class="m" d="M196.8 182.2l4.3-0.8 4.3-0.9 2.3-2.3 2.3-2.3-4.3 0.8-4.3 0.8-2.3 2.3z"/><path color="#ffa304" d="M210 176l4.3-0.9 2.3-2.3-4.3 0.9z"/><path color="#ffa504" d="M212.3 173.8l4.3-0.9 2.3-2.2-4.3 0.9z"/><path color="#ff8a01" d="M214.4 175.1l4.4-1 2.3-2.2-4.3 1z"/><path color="#ff8b01" d="M216.6 172.8l4.3-1 2.3-2.2-4.3 1z"/><path class="m" d="M210 176l4.3-0.9 4.4-1 2.3-2.2 2.3-2.2-4.3 1-4.3 0.9-2.3 2.3z"/><path color="#ffa003" d="M205.5 180.6l4.3-1 2.3-2.3-4.3 0.9z"/><path color="#ffa104" d="M207.7 178.3l4.3-0.9 2.3-2.3-4.3 0.9z"/><path color="#ff8601" d="M209.8 179.6l4.4-1 2.3-2.2-4.4 1z"/><path color="#ff8801" d="M212.1 177.4l4.4-1 2.3-2.2-4.4 1z"/><path class="m" d="M205.5 180.6l4.3-1 4.4-1 2.3-2.2 2.3-2.2-4.4 1-4.3 0.9-2.3 2.3z"/></g>
<line x1="147.5" y1="23.4" x2="147.71" y2="34.89" stroke="#8a8a6a" stroke-width="0.7"/>
<circle cx="147.5" cy="23.4" r="2.8" fill="#c00000" stroke="#700000" stroke-width="0.5"/>
<circle cx="214.49" cy="168.81" r="2.8" fill="#c00000" stroke="#700000" stroke-width="0.5"/>
<g fill="#000"><circle cx="40.7" cy="99.1" r="1.3"/><circle cx="42.6" cy="118.32" r="1.3"/><circle cx="44.49" cy="137.54" r="1.3"/><circle cx="46.39" cy="156.75" r="1.3"/><circle cx="48.29" cy="175.97" r="1.3"/><circle cx="50.19" cy="195.19" r="1.3"/><circle cx="52.08" cy="214.41" r="1.3"/><circle cx="55.5" cy="249" r="1.3"/><circle cx="94.1" cy="265.35" r="1.3"/><circle cx="132.7" cy="281.7" r="1.3"/><circle cx="171.3" cy="298.05" r="1.3"/><circle cx="209.9" cy="314.4" r="1.3"/><circle cx="209.9" cy="314.4" r="1.3"/><circle cx="226.52" cy="293.56" r="1.3"/><circle cx="243.14" cy="272.72" r="1.3"/><circle cx="259.76" cy="251.88" r="1.3"/><circle cx="276.38" cy="231.04" r="1.3"/><circle cx="293" cy="210.2" r="1.3"/></g>
<g stroke="#2a2a2a" stroke-width="0.85" fill="none"><polyline points="394.02,221.08 478.79,126.47 633.18,167.64"/><polyline points="391.11,191.99 477.94,99.06 635.66,139.5"/><polyline points="388.21,162.89 477.1,71.64 638.14,111.37"/><polyline points="385.3,133.8 476.25,44.22 640.62,83.23"/><polyline points="382.4,104.7 475.4,16.8 643.1,55.1"/><line x1="461.84" y1="145.4" x2="456.8" y2="34.38"/><line x1="444.88" y1="164.32" x2="438.2" y2="51.96"/><line x1="427.93" y1="183.24" x2="419.6" y2="69.54"/><line x1="410.97" y1="202.16" x2="401" y2="87.12"/><line x1="594.58" y1="157.35" x2="601.18" y2="45.53"/><line x1="555.98" y1="147.06" x2="559.25" y2="35.95"/><line x1="517.39" y1="136.76" x2="517.32" y2="26.38"/><line x1="397.5" y1="256" x2="382.4" y2="104.7"/><line x1="479.81" y1="159.38" x2="475.4" y2="16.8"/><line x1="630.2" y1="201.4" x2="643.1" y2="55.1"/></g>
<polygon points="630.2,201.4 479.81,159.38 397.5,256 564,311.5" fill="#646464" stroke="none"/>
<path d="M537.7 175.6 536.6 175.8 535.4 176.1 534.2 176.4 533 176.7 531.9 177 530.7 177.3 529.5 177.6 528.3 177.8 527.1 178.1 526 178.4 524.8 178.7 523.6 179 522.4 179.3 521.3 179.5 520.1 179.8 518.9 180.1 517.8 180.4 516.6 180.7 515.4 180.9 514.2 181.2 513.1 181.5 511.9 181.8 510.7 182 509.6 182.3 508.4 182.6 507.2 182.9 505.8 183.2 504.4 183.6 502.9 183.9 501.5 184.3 500.2 184.5 498.6 184.9 497.1 185.3 495.7 185.6 494.4 185.9 492.8 186.3 491.3 186.7 489.8 187 488.6 187.3 486.9 187.7 485.4 188 484 188.4 482.5 188.7 481 189.1 479.5 189.4 478.3 189.7 476.6 190.1 475.1 190.5 473.7 190.8 472.1 191.2 470.6 191.5 469.1 191.9 467.6 192.3 466.1 192.6 464.6 193 463.4 193.3 461.6 193.7 460 194 458.8 194.3 457 194.8 455.5 195.1 454 195.5 452.4 195.9 450.9 196.2 449.3 196.6 447.8 196.9" stroke="#1ecaca" stroke-width="1.3" fill="none" stroke-linecap="round" stroke-linejoin="round"/>
<path d="M570.3 184.7 568.5 185.2 567.1 185.5 565.8 185.9 564.3 186.3 562.9 186.7 561.5 187.1 560.2 187.5 558.7 187.9 557.3 188.3 555.9 188.7 554.7 189 553.1 189.4 551.6 189.8 550.2 190.2 548.8 190.6 547.4 191 545.9 191.4 544.7 191.8 543.1 192.2 541.6 192.6 540.3 193 538.7 193.4 537.3 193.8 535.9 194.2 534.4 194.6 532.9 195 531.5 195.4 530 195.8 528.6 196.2 527.1 196.6 525.6 197 524.1 197.5 522.7 197.9 521.2 198.3 519.7 198.7 518.4 199.1 516.7 199.5 515.2 199.9 514.1 200.3 512.3 200.8 510.8 201.2 509.2 201.6 507.7 202 506.5 202.4 504.7 202.9 503.3 203.3 501.7 203.8 500.1 204.2 498.6 204.6 497.1 205.1 495.9 205.4 494 205.9 492.7 206.3 490.9 206.8 489.5 207.2 487.8 207.7 486.4 208.1 484.7 208.6 483.2 209 481.5 209.5 480.1 209.9 478.4 210.4 477 210.8 475.2 211.4 473.9 211.7 472 212.3 470.8 212.6 468.8 213.2 467.2 213.7 465.7 214.2 463.9 214.7 462.7 215.1 460.6 215.7 459 216.2 457.6 216.6 455.7 217.2 454 217.7 452.6 218.1 450.7 218.7 449 219.2 447.7 219.7 445.7 220.3 443.9 220.8 442.8 221.2 440.8 221.8 438.9 222.5 437 223.1 435.3 223.6 434.1 224 432.2 224.6 430.3 225.3 428.4 225.9 426.5 226.5 424.6 227.2 422.8 227.8 421 228.4" stroke="#1ed276" stroke-width="1.3" fill="none" stroke-linecap="round" stroke-linejoin="round"/>
<path d="M604.4 194.2 602.3 194.9 600.9 195.3 599.4 195.8 598 196.2 596.6 196.7 595.2 197.1 593.8 197.6 592.4 198 591 198.5 589.6 198.9 588.1 199.4 586.7 199.9 585.5 200.3 583.8 200.8 582.4 201.3 580.9 201.7 579.5 202.2 578.2 202.6 576.6 203.1 575.2 203.6 573.7 204.1 572.2 204.6 571 205 569.3 205.5 567.9 206 566.4 206.5 564.9 207 563.4 207.5 561.9 208 560.4 208.5 558.9 209 557.8 209.3 555.9 210 554.8 210.3 552.9 211 551.7 211.4 549.9 212 548.4 212.5 546.8 213 545.3 213.5 543.8 214 542.2 214.6 540.8 215.1 539.1 215.6 537.9 216.1 536 216.7 534.4 217.3 533 217.8 531.3 218.4 530.1 218.8 528.2 219.5 526.5 220 525.3 220.5 523.4 221.1 521.7 221.7 520.5 222.2 518.6 222.9 516.8 223.5 515.2 224.1 513.9 224.6 512.1 225.3 510.2 225.9 508.6 226.5 507.4 227 505.6 227.7 503.8 228.4 502 229.1 500.2 229.8 498.4 230.4 496.7 231.1 494.9 231.8 493.2 232.5 491.4 233.2 489.6 233.9 487.9 234.7 486.1 235.4 484.4 236.1 482.6 236.8 481 237.6 479.3 238.3 477.6 239 476 239.7 474.3 240.5 473 241 471.9 241.6 470.3 242.3 469.1 242.8 467.9 243.4 466.3 244.2 465.2 244.7 463.9 245.3 462.4 246.1 461.1 246.7 459.3 247.6 457.9 248.4 456.4 249.1 454.9 249.9 453.4 250.7 452 251.5 450.6 252.3 449.2 253.1 447.8 253.9 446.4 254.7 445.3 255.4 443.8 256.3 442.5 257.1 441.2 258 440.1 258.7 438.6 259.7 437.4 260.5 436.2 261.4 435 262.2 433.9 263.1 432.7 264 431.6 264.9 430.7 265.6 429.4 266.6" stroke="#23d330" stroke-width="1.3" fill="none" stroke-linecap="round" stroke-linejoin="round"/>
<path d="M492.5 287.7 493 286.6 493.6 285.5 494.2 284.4 494.8 283.3 495.5 282.2 496.2 281.2 496.9 280.1 497.6 279.1 498.4 278.1 499.2 277 500.1 276 501 275 501.9 274.1 502.8 273.1 503.7 272.1 504.7 271.1 505.7 270.2 506.8 269.2 507.8 268.3 508.8 267.4 510 266.4 511.1 265.5 512.2 264.6 513.4 263.7 514.5 262.9 515.8 261.9 517 261 518.3 260.1 519.4 259.3 520.8 258.4 522.1 257.5 523.4 256.7 524.7 255.8 526.1 255 527.5 254.1 528.8 253.3 530.2 252.4 531.7 251.6 533.1 250.8 534.4 250 536 249.1 537.5 248.3 538.9 247.5 540.2 246.8 542 245.9 543.5 245.1 545 244.3 546.6 243.5 548.1 242.7 549.4 242 550.5 241.5 552.1 240.7 553.7 239.9 555.3 239.1 556.5 238.6 557.8 237.9 559.4 237.2 561.1 236.4 562.8 235.6 564.4 234.8 566.1 234.1 567.8 233.3 569.5 232.5 571.3 231.8 573 231 574.7 230.3 576.5 229.5 578.2 228.8 579.8 228.1 581.4 227.4 582.6 226.9 584.4 226.1 586.1 225.4 587.7 224.7 588.9 224.2 590.7 223.5 592.3 222.8 593.5 222.3 595.3 221.6 596.9 220.9 598.5 220.3 599.9 219.7 601.5 219.1 602.7 218.6 604.5 217.9 606 217.3 607.4 216.8 609 216.1 610.2 215.7 612 214.9 613.5 214.4 614.9 213.8 616.4 213.2 617.8 212.7 619.3 212.1 620.7 211.6 622.2 211 623.5 210.5 625.1 209.9" stroke="#50da1e" stroke-width="1.3" fill="none" stroke-linecap="round" stroke-linejoin="round"/>
<polygon points="630.2,201.4 479.81,159.38 397.5,256 564,311.5" fill="none" stroke="#111" stroke-width="0.9"/>
<circle cx="390.82" cy="189.08" r="2.9" fill="#f8c0c0" stroke="#6a4545" stroke-width="0.6"/>
<circle cx="637.54" cy="118.12" r="2.9" fill="#f8c0c0" stroke="#6a4545" stroke-width="0.6"/>
<g fill="currentColor" stroke="currentColor" stroke-width="0.6" stroke-linejoin="round"><path color="#1d50d5" d="M485.9 105.7l-3.9 0.2-2.2 1 3.9-0.1z"/><path color="#1f5fd9" d="M483.8 106.7l-3.9 0.1-2.2 1 3.9-0.1z"/><path color="#1b46d2" d="M482 105.9l-3.9 0.2-2.2 1 3.9-0.1z"/><path color="#1d52d6" d="M479.9 106.9l-3.9 0.1-2.2 1 3.9-0.1z"/><path class="m" d="M485.9 105.7l-3.9 0.2-3.9 0.2-2.2 1-2.2 1 3.9-0.1 3.9-0.1 2.2-1.1z"/><path color="#216cdc" d="M493.8 105.4l-3.9 0.2-2.2 1 3.9-0.1z"/><path color="#237cdf" d="M491.6 106.5l-3.9 0.1-2.2 1.1 3.9-0.1z"/><path color="#1f5dd9" d="M489.8 105.5l-3.9 0.2-2.2 1 3.9-0.1z"/><path color="#216edc" d="M487.7 106.6l-3.9 0.1-2.2 1.1 3.9-0.1z"/><path class="m" d="M493.8 105.4l-3.9 0.2-3.9 0.2-2.2 1-2.2 1.1 3.9-0.1 3.9-0.1 2.2-1.1z"/><path color="#216fdc" d="M481.6 107.8l-3.9 0.1-2.2 1.1 3.9-0.1z"/><path color="#237fdf" d="M479.4 108.9l-3.9 0.1-2.2 1.1 3.9-0.1z"/><path color="#1f61d9" d="M477.7 107.9l-3.9 0.1-2.2 1 3.9-0.1z"/><path color="#2171dd" d="M475.5 109l-3.9 0.1-2.2 1.1 3.9-0.1z"/><path class="m" d="M481.6 107.8l-3.9 0.1-3.9 0.1-2.2 1-2.2 1.1 3.9-0.1 3.9-0.1 2.2-1.1z"/><path color="#2489e1" d="M501.6 105.1l-3.9 0.1-2.1 1.1 3.9-0.1z"/><path color="#2698e4" d="M499.5 106.2l-3.9 0.1-2.1 1.1 4-0.1z"/><path color="#237bdf" d="M497.7 105.2l-3.9 0.1-2.1 1.1 3.9-0.1z"/><path color="#258be2" d="M495.5 106.3l-3.9 0.1-2.2 1.1 3.9-0.1z"/><path class="m" d="M501.6 105.1l-3.9 0.1-3.9 0.1-2.1 1.1-2.2 1.1 3.9-0.1 4-0.1 2.1-1.1z"/><path color="#258ce2" d="M489.5 107.5l-3.9 0.1-2.2 1.1 4-0.1z"/><path color="#2699e4" d="M487.3 108.7l-4 0.1-2.2 1.1 4-0.1z"/><path color="#237edf" d="M485.5 107.7l-3.9 0.1-2.2 1.1 3.9-0.1z"/><path color="#258ee2" d="M483.4 108.8l-3.9 0.1-2.2 1.1 4-0.1z"/><path class="m" d="M489.5 107.5l-3.9 0.1-3.9 0.1-2.2 1.1-2.2 1.1 4-0.1 4-0.1 2.2-1.1z"/><path color="#258fe3" d="M477.2 110l-3.9 0.1-2.2 1.1 4-0.1z"/><path color="#269be4" d="M475 111.1l-4 0.1-2.2 1.1 4-0.1z"/><path color="#2380e0" d="M473.3 110l-3.9 0.1-2.2 1.1 4-0.1z"/><path color="#2590e3" d="M471.1 111.2l-4 0.1-2.2 1.1 4-0.1z"/><path class="m" d="M477.2 110l-3.9 0.1-3.9 0.1-2.2 1.1-2.2 1.1 4-0.1 4-0.1 2.2-1.2z"/><path color="#27a1e4" d="M497.4 107.3l-4 0.1-2.1 1.1 4-0.1z"/><path color="#28aae5" d="M495.2 108.5l-4 0.1-2.1 1.2 4-0.1z"/><path color="#2699e4" d="M493.4 107.4l-3.9 0.1-2.2 1.1 4-0.1z"/><path color="#27a2e5" d="M491.3 108.6l-4 0.1-2.2 1.1 4-0.1z"/><path class="m" d="M497.4 107.3l-4 0.1-3.9 0.1-2.2 1.1-2.2 1.1 4-0.1 4-0.1 2.1-1.2z"/><path color="#27a2e5" d="M485.1 109.8l-4 0.1-2.2 1.1 4-0.1z"/><path color="#28abe5" d="M483 110.9l-4 0.1-2.2 1.2 4-0z"/><path color="#269ae4" d="M481.2 109.9l-4 0.1-2.2 1.1 4-0.1z"/><path color="#27a3e5" d="M479 111l-4 0.1-2.2 1.2 4-0.1z"/><path class="m" d="M485.1 109.8l-4 0.1-4 0.1-2.2 1.1-2.2 1.2 4-0.1 4-0 2.2-1.2z"/><path color="#27a0e4" d="M509.5 104.8l-3.9 0.1-2.1 1.1 4-0.1z"/><path color="#28a9e5" d="M507.4 105.9l-4 0.1-2.1 1.1 4-0.1z"/><path color="#2697e4" d="M505.5 105l-3.9 0.1-2.1 1.1 3.9-0.1z"/><path color="#27a0e4" d="M503.4 106.1l-3.9 0.1-2.1 1.1 4-0.1z"/><path class="m" d="M509.5 104.8l-3.9 0.1-3.9 0.1-2.1 1.1-2.1 1.1 4-0.1 4-0.1 2.1-1.2z"/><path color="#27a3e5" d="M472.8 112.2l-4 0.1-2.2 1.2 4-0z"/><path color="#28ace5" d="M470.6 113.4l-4 0-2.2 1.2 4-0z"/><path color="#269be4" d="M468.9 112.3l-4 0.1-2.2 1.1 4-0z"/><path color="#27a4e5" d="M466.7 113.4l-4 0-2.2 1.2 4-0z"/><path class="m" d="M472.8 112.2l-4 0.1-4 0.1-2.2 1.1-2.2 1.2 4-0 4-0 2.2-1.2z"/><path color="#28b1e5" d="M517.4 104.6l-4 0.1-2.1 1.1 4-0.1z"/><path color="#29bae6" d="M515.3 105.7l-4 0.1-2.1 1.2 4-0.1z"/><path color="#28a8e5" d="M513.4 104.7l-3.9 0.1-2.1 1.1 4-0.1z"/><path color="#28b1e5" d="M511.3 105.8l-4 0.1-2.1 1.2 4-0.1z"/><path class="m" d="M517.4 104.6l-4 0.1-3.9 0.1-2.1 1.1-2.1 1.2 4-0.1 4-0.1 2.1-1.2z"/><path color="#28b2e5" d="M505.3 107.1l-4 0.1-2.1 1.2 4-0.1z"/><path color="#29bbe6" d="M503.2 108.3l-4 0.1-2.1 1.2 4-0.1z"/><path color="#28aae5" d="M501.3 107.2l-4 0.1-2.1 1.1 4-0.1z"/><path color="#29b3e5" d="M499.2 108.4l-4 0.1-2.1 1.2 4-0.1z"/><path class="m" d="M505.3 107.1l-4 0.1-4 0.1-2.1 1.1-2.1 1.2 4-0.1 4-0.1 2.1-1.2z"/><path color="#29b3e5" d="M493.1 109.6l-4 0.1-2.2 1.2 4-0.1z"/><path color="#29bce6" d="M491 110.8l-4 0.1-2.2 1.2 4-0z"/><path color="#28abe5" d="M489.1 109.7l-4 0.1-2.2 1.2 4-0.1z"/><path color="#29b4e5" d="M487 110.9l-4 0.1-2.2 1.2 4-0z"/><path class="m" d="M493.1 109.6l-4 0.1-4 0.1-2.2 1.2-2.2 1.2 4-0 4-0 2.1-1.2z"/><path color="#29b4e5" d="M480.8 112.1l-4 0-2.2 1.2 4-0z"/><path color="#29bce6" d="M478.6 113.3l-4 0-2.2 1.2 4-0z"/><path color="#28ace5" d="M476.8 112.2l-4 0.1-2.2 1.2 4-0z"/><path color="#29b4e5" d="M474.6 113.4l-4 0-2.2 1.2 4-0z"/><path class="m" d="M480.8 112.1l-4 0-4 0.1-2.2 1.2-2.2 1.2 4-0 4-0 2.2-1.2z"/><path color="#29b4e5" d="M468.4 114.6l-4 0-2.2 1.2 4-0z"/><path color="#29bce6" d="M466.2 115.8l-4 0-2.2 1.2 4 0z"/><path color="#28ace5" d="M464.4 114.6l-4 0-2.2 1.2 4-0z"/><path color="#29b4e5" d="M462.2 115.8l-4 0-2.2 1.2 4 0z"/><path class="m" d="M468.4 114.6l-4 0-4 0-2.2 1.2-2.2 1.2 4 0 4 0 2.2-1.3z"/><path color="#2ac3e6" d="M513.2 106.9l-4 0.1-2.1 1.2 4-0.1z"/><path color="#2bc8e2" d="M511.2 108.1l-4 0.1-2.1 1.2 4-0.1z"/><path color="#29bae6" d="M509.2 107l-4 0.1-2.1 1.2 4-0.1z"/><path color="#2ac3e6" d="M507.2 108.2l-4 0.1-2.1 1.2 4-0.1z"/><path class="m" d="M513.2 106.9l-4 0.1-4 0.1-2.1 1.2-2.1 1.2 4-0.1 4-0.1 2.1-1.2z"/><path color="#2ac4e5" d="M476.5 114.6l-4 0-2.2 1.2 4 0z"/><path color="#2bc9e2" d="M474.3 115.9l-4-0-2.2 1.3 4 0z"/><path color="#29bce6" d="M472.5 114.6l-4 0-2.2 1.2 4 0z"/><path color="#2ac4e5" d="M470.3 115.8l-4-0-2.2 1.3 4 0z"/><path class="m" d="M476.5 114.6l-4 0-4 0-2.2 1.2-2.2 1.3 4 0 4 0 2.2-1.3z"/><path color="#2ac2e6" d="M525.3 104.3l-4 0.1-2.1 1.2 4-0.1z"/><path color="#2bc8e2" d="M523.3 105.5l-4 0.1-2.1 1.2 4-0.1z"/><path color="#29b9e6" d="M521.3 104.4l-4 0.1-2.1 1.2 4-0.1z"/><path color="#2ac2e6" d="M519.3 105.6l-4 0.1-2.1 1.2 4-0.1z"/><path class="m" d="M525.3 104.3l-4 0.1-4 0.1-2.1 1.2-2.1 1.2 4-0.1 4-0.1 2-1.2z"/><path color="#2ac3e6" d="M501.1 109.5l-4 0.1-2.1 1.2 4-0z"/><path color="#2bc9e2" d="M499 110.7l-4 0-2.1 1.2 4-0z"/><path color="#29bbe6" d="M497.1 109.6l-4 0.1-2.1 1.2 4-0.1z"/><path color="#2ac4e6" d="M495 110.8l-4 0.1-2.1 1.2 4-0z"/><path class="m" d="M501.1 109.5l-4 0.1-4 0.1-2.1 1.2-2.1 1.2 4-0 4-0 2.1-1.3z"/><path color="#2ac4e5" d="M488.8 112.1l-4 0-2.2 1.2 4-0z"/><path color="#2bc9e2" d="M486.7 113.3l-4 0-2.2 1.3 4-0z"/><path color="#29bce6" d="M484.8 112.1l-4 0-2.2 1.2 4-0z"/><path color="#2ac4e5" d="M482.7 113.3l-4 0-2.2 1.2 4-0z"/><path class="m" d="M488.8 112.1l-4 0-4 0-2.2 1.2-2.2 1.2 4-0 4-0 2.1-1.3z"/><path color="#2ac4e5" d="M464 117.1l-4-0-2.2 1.3 4 0z"/><path color="#2bc9e2" d="M461.8 118.4l-4-0-2.2 1.3 4.1 0.1z"/><path color="#29bce6" d="M460 117.1l-4-0-2.2 1.2 4 0z"/><path color="#2ac4e5" d="M457.8 118.3l-4-0-2.2 1.3 4 0z"/><path class="m" d="M464 117.1l-4-0-4-0-2.2 1.2-2.2 1.3 4 0 4.1 0.1 2.2-1.3z"/><path color="#2bcddf" d="M533.2 104.1l-4 0.1-2 1.2 4-0.1z"/><path color="#2cd3db" d="M531.2 105.3l-4 0.1-2 1.2 4-0.1z"/><path color="#2bc7e3" d="M529.3 104.2l-4 0.1-2 1.2 4-0.1z"/><path color="#2bcddf" d="M527.2 105.4l-4 0.1-2 1.2 4-0.1z"/><path class="m" d="M533.2 104.1l-4 0.1-4 0.1-2 1.2-2 1.2 4-0.1 4-0.1 2-1.3z"/><path color="#2bcede" d="M521.2 106.7l-4 0.1-2.1 1.2 4-0.1z"/><path color="#2cd3da" d="M519.2 108l-4 0.1-2.1 1.3 4-0.1z"/><path color="#2bc8e2" d="M517.2 106.8l-4 0.1-2.1 1.2 4-0.1z"/><path color="#2bcede" d="M515.1 108.1l-4 0.1-2.1 1.2 4-0.1z"/><path class="m" d="M521.2 106.7l-4 0.1-4 0.1-2.1 1.2-2.1 1.2 4-0.1 4-0.1 2.1-1.3z"/><path color="#2bcede" d="M509.1 109.4l-4 0.1-2.1 1.3 4-0z"/><path color="#2cd3da" d="M507 110.6l-4 0-2.1 1.3 4-0z"/><path color="#2bc9e2" d="M505.1 109.4l-4 0.1-2.1 1.2 4-0z"/><path color="#2bcede" d="M503 110.7l-4 0-2.1 1.3 4-0z"/><path class="m" d="M509.1 109.4l-4 0.1-4 0.1-2.1 1.2-2.1 1.3 4-0 4-0 2.1-1.3z"/><path color="#2bcede" d="M496.8 112l-4 0-2.1 1.3 4-0z"/><path color="#2cd3da" d="M494.7 113.3l-4 0-2.1 1.3 4 0z"/><path color="#2bc9e2" d="M492.8 112l-4 0-2.1 1.2 4-0z"/><path color="#2bcede" d="M490.7 113.3l-4 0-2.1 1.3 4-0z"/><path class="m" d="M496.8 112l-4 0-4 0-2.1 1.2-2.1 1.3 4-0 4 0 2.1-1.3z"/><path color="#2bcede" d="M484.5 114.6l-4 0-2.2 1.3 4 0z"/><path color="#2cd3da" d="M482.4 115.9l-4-0-2.2 1.3 4.1 0z"/><path color="#2bc9e2" d="M480.5 114.6l-4 0-2.2 1.3 4 0z"/><path color="#2bcede" d="M478.3 115.9l-4-0-2.2 1.3 4.1 0z"/><path class="m" d="M484.5 114.6l-4 0-4 0-2.2 1.3-2.2 1.3 4.1 0 4.1 0 2.2-1.3z"/><path color="#2bcede" d="M472.1 117.1l-4-0-2.2 1.3 4.1 0z"/><path color="#2cd3db" d="M469.9 118.5l-4.1-0-2.2 1.3 4.1 0.1z"/><path color="#2bc9e2" d="M468.1 117.1l-4-0-2.2 1.3 4 0z"/><path color="#2bcede" d="M465.9 118.4l-4-0-2.2 1.3 4.1 0.1z"/><path class="m" d="M472.1 117.1l-4-0-4-0-2.2 1.3-2.2 1.3 4.1 0.1 4.1 0.1 2.2-1.3z"/><path color="#2bcede" d="M459.6 119.7l-4.1-0.1-2.2 1.3 4.1 0.1z"/><path color="#2cd2db" d="M457.4 121l-4.1-0.1-2.2 1.3 4.1 0.1z"/><path color="#2bc9e2" d="M455.6 119.6l-4-0-2.2 1.3 4.1 0.1z"/><path color="#2bcddf" d="M453.3 121l-4.1-0.1-2.2 1.3 4.1 0.1z"/><path class="m" d="M459.6 119.7l-4.1-0.1-4-0-2.2 1.3-2.2 1.3 4.1 0.1 4.1 0.1 2.2-1.4z"/><path color="#2cd8d7" d="M541.2 103.9l-4 0.1-2 1.3 4-0.1z"/><path color="#2dddd2" d="M539.2 105.1l-4 0.1-2 1.3 4-0.1z"/><path color="#2cd2db" d="M537.2 104l-4 0.1-2 1.2 4-0.1z"/><path color="#2dd8d7" d="M535.2 105.2l-4 0.1-2 1.3 4-0.1z"/><path class="m" d="M541.2 103.9l-4 0.1-4 0.1-2 1.2-2 1.3 4-0.1 4-0.1 2-1.3z"/><path color="#2dd8d7" d="M529.2 106.6l-4 0.1-2 1.3 4-0.1z"/><path color="#2dddd2" d="M527.2 107.9l-4 0.1-2 1.3 4-0z"/><path color="#2cd3db" d="M525.2 106.6l-4 0.1-2.1 1.3 4-0.1z"/><path color="#2dd8d7" d="M523.2 107.9l-4 0.1-2.1 1.3 4-0z"/><path class="m" d="M529.2 106.6l-4 0.1-4 0.1-2.1 1.3-2.1 1.3 4-0 4-0 2-1.3z"/><path color="#2dd8d7" d="M517.1 109.3l-4 0.1-2.1 1.3 4-0z"/><path color="#2dddd1" d="M515 110.6l-4 0-2.1 1.3 4-0z"/><path color="#2cd3da" d="M513.1 109.3l-4 0.1-2.1 1.3 4-0z"/><path color="#2dd8d7" d="M511 110.6l-4 0-2.1 1.3 4-0z"/><path class="m" d="M517.1 109.3l-4 0.1-4 0.1-2.1 1.3-2.1 1.3 4-0 4-0 2.1-1.3z"/><path color="#2dd8d7" d="M504.9 111.9l-4 0-2.1 1.3 4-0z"/><path color="#2dddd1" d="M502.8 113.3l-4 0-2.1 1.3 4.1 0z"/><path color="#2cd3da" d="M500.9 112l-4 0-2.1 1.3 4-0z"/><path color="#2dd8d7" d="M498.8 113.3l-4 0-2.1 1.3 4.1 0z"/><path class="m" d="M504.9 111.9l-4 0-4 0-2.1 1.3-2.1 1.3 4.1 0 4.1 0 2.1-1.3z"/><path color="#2dd8d7" d="M492.6 114.6l-4-0-2.1 1.3 4.1 0z"/><path color="#2dddd2" d="M490.5 115.9l-4.1-0-2.1 1.3 4.1 0z"/><path color="#2cd3da" d="M488.6 114.6l-4 0-2.1 1.3 4.1 0z"/><path color="#2dd8d7" d="M486.4 115.9l-4.1-0-2.2 1.3 4.1 0z"/><path class="m" d="M492.6 114.6l-4-0-4 0-2.1 1.3-2.2 1.3 4.1 0 4.1 0 2.1-1.4z"/><path color="#2dd8d7" d="M480.2 117.2l-4.1-0-2.2 1.3 4.1 0z"/><path color="#2ddcd3" d="M478.1 118.6l-4.1-0-2.2 1.4 4.1 0.1z"/><path color="#2cd3da" d="M476.2 117.2l-4.1-0-2.2 1.3 4.1 0z"/><path color="#2dd8d7" d="M474 118.5l-4.1-0-2.2 1.3 4.1 0.1z"/><path class="m" d="M480.2 117.2l-4.1-0-4.1-0-2.2 1.3-2.2 1.3 4.1 0.1 4.1 0.1 2.2-1.4z"/><path color="#2cd8d7" d="M467.7 119.8l-4.1-0.1-2.2 1.4 4.1 0.1z"/><path color="#2ddcd4" d="M465.6 121.2l-4.1-0.1-2.2 1.4 4.1 0.1z"/><path color="#2cd3db" d="M463.7 119.7l-4.1-0.1-2.2 1.3 4.1 0.1z"/><path color="#2cd7d7" d="M461.5 121.1l-4.1-0.1-2.2 1.4 4.1 0.1z"/><path class="m" d="M467.7 119.8l-4.1-0.1-4.1-0.1-2.2 1.3-2.2 1.4 4.1 0.1 4.1 0.1 2.2-1.4z"/><path color="#2cd7d8" d="M455.2 122.4l-4.1-0.1-2.2 1.4 4.1 0.1z"/><path color="#2ddbd4" d="M453 123.8l-4.1-0.1-2.2 1.4 4.1 0.1z"/><path color="#2cd2db" d="M451.1 122.3l-4.1-0.1-2.2 1.4 4.1 0.1z"/><path color="#2cd6d8" d="M448.9 123.7l-4.1-0.1-2.2 1.4 4.1 0.1z"/><path class="m" d="M455.2 122.4l-4.1-0.1-4.1-0.1-2.2 1.4-2.2 1.4 4.1 0.1 4.1 0.1 2.2-1.4z"/><path color="#2ee0c9" d="M537.2 106.4l-4 0.1-2 1.3 4-0.1z"/><path color="#2fe3c1" d="M535.2 107.7l-4 0.1-2 1.3 4-0z"/><path color="#2dddd2" d="M533.2 106.5l-4 0.1-2 1.3 4-0.1z"/><path color="#2ee0c9" d="M531.2 107.8l-4 0.1-2 1.3 4-0z"/><path class="m" d="M537.2 106.4l-4 0.1-4 0.1-2 1.3-2 1.3 4-0 4-0 2-1.3z"/><path color="#2ee0c9" d="M525.2 109.2l-4 0-2 1.3 4-0z"/><path color="#2fe3c1" d="M523.1 110.5l-4 0-2 1.3 4.1-0z"/><path color="#2dddd1" d="M521.1 109.2l-4 0-2.1 1.3 4-0z"/><path color="#2ee0c9" d="M519.1 110.5l-4 0-2.1 1.3 4.1-0z"/><path class="m" d="M525.2 109.2l-4 0-4 0-2.1 1.3-2.1 1.3 4.1-0 4.1-0 2-1.4z"/><path color="#2ee0c9" d="M500.7 114.6l-4.1-0-2.1 1.4 4.1 0z"/><path color="#2fe2c2" d="M498.6 116l-4.1-0-2.1 1.4 4.1 0z"/><path color="#2dddd2" d="M496.7 114.6l-4.1-0-2.1 1.3 4.1 0z"/><path color="#2ee0ca" d="M494.5 115.9l-4.1-0-2.1 1.4 4.1 0z"/><path class="m" d="M500.7 114.6l-4.1-0-4.1-0-2.1 1.3-2.1 1.4 4.1 0 4.1 0 2.1-1.4z"/><path color="#2edfcb" d="M475.9 119.9l-4.1-0.1-2.2 1.4 4.1 0.1z"/><path color="#2ee2c4" d="M473.7 121.3l-4.1-0.1-2.2 1.4 4.1 0.1z"/><path color="#2ddcd3" d="M471.8 119.9l-4.1-0.1-2.2 1.4 4.1 0.1z"/><path color="#2edfcc" d="M469.7 121.3l-4.1-0.1-2.2 1.4 4.1 0.1z"/><path class="m" d="M475.9 119.9l-4.1-0.1-4.1-0.1-2.2 1.4-2.2 1.4 4.1 0.1 4.1 0.1 2.2-1.4z"/><path color="#2edfcc" d="M463.4 122.6l-4.1-0.1-2.2 1.4 4.1 0.1z"/><path color="#2ee1c5" d="M461.2 124l-4.1-0.1-2.2 1.4 4.1 0.1z"/><path color="#2ddcd4" d="M459.3 122.5l-4.1-0.1-2.2 1.4 4.1 0.1z"/><path color="#2edecd" d="M457.1 123.9l-4.1-0.1-2.2 1.4 4.1 0.1z"/><path class="m" d="M463.4 122.6l-4.1-0.1-4.1-0.1-2.2 1.4-2.2 1.4 4.1 0.1 4.1 0.1 2.2-1.5z"/><path color="#2ee0ca" d="M549.2 103.6l-4 0.1-2 1.3 4-0.1z"/><path color="#2fe3c1" d="M547.3 105l-4 0.1-2 1.3 4-0.1z"/><path color="#2dddd2" d="M545.2 103.7l-4 0.1-2 1.3 4-0.1z"/><path color="#2ee0c9" d="M543.3 105l-4 0.1-2 1.3 4-0.1z"/><path class="m" d="M549.2 103.6l-4 0.1-4 0.1-2 1.3-2 1.3 4-0.1 4-0.1 2-1.3z"/><path color="#2ee0c9" d="M513 111.9l-4 0-2.1 1.3 4.1 0z"/><path color="#2fe3c1" d="M510.9 113.2l-4.1-0-2.1 1.4 4.1 0z"/><path color="#2dddd1" d="M508.9 111.9l-4 0-2.1 1.3 4.1-0z"/><path color="#2ee0c9" d="M506.9 113.2l-4.1 0-2.1 1.3 4.1 0z"/><path class="m" d="M513 111.9l-4 0-4 0-2.1 1.3-2.1 1.3 4.1 0 4.1 0 2.1-1.4z"/><path color="#2edfca" d="M488.4 117.3l-4.1-0-2.1 1.4 4.1 0.1z"/><path color="#2fe2c3" d="M486.2 118.7l-4.1-0.1-2.1 1.4 4.1 0.1z"/><path color="#2dddd2" d="M484.3 117.2l-4.1-0-2.2 1.4 4.1 0.1z"/><path color="#2edfcb" d="M482.1 118.6l-4.1-0.1-2.2 1.4 4.1 0.1z"/><path class="m" d="M488.4 117.3l-4.1-0-4.1-0-2.2 1.4-2.2 1.4 4.1 0.1 4.1 0.1 2.1-1.4z"/><path color="#2edece" d="M450.8 125.2l-4.1-0.1-2.2 1.4 4.1 0.1z"/><path color="#2ee0c7" d="M448.5 126.6l-4.1-0.1-2.2 1.5 4.1 0.2z"/><path color="#2ddbd5" d="M446.6 125.1l-4.1-0.1-2.2 1.4 4.1 0.1z"/><path color="#2ddecf" d="M444.4 126.5l-4.1-0.1-2.2 1.4 4.1 0.2z"/><path class="m" d="M450.8 125.2l-4.1-0.1-4.1-0.1-2.2 1.4-2.2 1.4 4.1 0.2 4.1 0.2 2.2-1.5z"/><path color="#2fe6b9" d="M557.3 103.5l-4 0.1-2 1.3 4-0.1z"/><path color="#30e8b0" d="M555.3 104.8l-4 0.1-2 1.4 4-0.1z"/><path color="#2fe3c1" d="M553.2 103.6l-4 0.1-2 1.3 4-0.1z"/><path color="#2fe6b8" d="M551.3 104.9l-4 0.1-2 1.3 4-0.1z"/><path class="m" d="M557.3 103.5l-4 0.1-4 0.1-2 1.3-2 1.3 4-0.1 4-0.1 1.9-1.4z"/><path color="#2fe6b8" d="M545.3 106.3l-4 0.1-2 1.3 4-0z"/><path color="#30e8af" d="M543.3 107.6l-4 0-2 1.4 4.1-0z"/><path color="#2fe3c1" d="M541.3 106.4l-4 0.1-2 1.3 4-0.1z"/><path color="#2fe6b8" d="M539.3 107.7l-4 0.1-2 1.3 4.1-0z"/><path class="m" d="M545.3 106.3l-4 0.1-4 0.1-2 1.3-2 1.3 4.1-0 4.1-0 2-1.4z"/><path color="#2fe6b8" d="M533.2 109.1l-4 0-2 1.4 4.1-0z"/><path color="#30e8b0" d="M531.2 110.5l-4.1 0-2 1.4 4.1-0z"/><path color="#2fe3c1" d="M529.2 109.1l-4 0-2 1.3 4.1-0z"/><path color="#2fe6b8" d="M527.2 110.5l-4.1 0-2 1.4 4.1-0z"/><path class="m" d="M533.2 109.1l-4 0-4 0-2 1.3-2 1.4 4.1-0 4.1-0 2-1.4z"/><path color="#2fe6b9" d="M521.1 111.9l-4.1 0-2.1 1.4 4.1 0z"/><path color="#30e8b0" d="M519.1 113.3l-4.1-0-2.1 1.4 4.1 0z"/><path color="#2fe3c1" d="M517 111.9l-4.1 0-2.1 1.4 4.1 0z"/><path color="#2fe6b9" d="M515 113.3l-4.1-0-2.1 1.4 4.1 0z"/><path class="m" d="M521.1 111.9l-4.1 0-4.1 0-2.1 1.4-2.1 1.4 4.1 0 4.1 0 2-1.4z"/><path color="#2fe5b9" d="M508.8 114.6l-4.1-0-2.1 1.4 4.1 0z"/><path color="#30e8b1" d="M506.8 116l-4.1-0-2.1 1.4 4.1 0.1z"/><path color="#2fe3c1" d="M504.8 114.6l-4.1-0-2.1 1.4 4.1 0z"/><path color="#2fe5ba" d="M502.7 116l-4.1-0-2.1 1.4 4.1 0.1z"/><path class="m" d="M508.8 114.6l-4.1-0-4.1-0-2.1 1.4-2.1 1.4 4.1 0.1 4.1 0.1 2.1-1.4z"/><path color="#2fe5ba" d="M496.5 117.4l-4.1-0-2.1 1.4 4.1 0.1z"/><path color="#30e8b3" d="M494.4 118.8l-4.1-0.1-2.1 1.4 4.1 0.1z"/><path color="#2fe2c2" d="M492.4 117.3l-4.1-0-2.1 1.4 4.1 0.1z"/><path color="#2fe5bb" d="M490.3 118.7l-4.1-0.1-2.1 1.4 4.1 0.1z"/><path class="m" d="M496.5 117.4l-4.1-0-4.1-0-2.1 1.4-2.1 1.4 4.1 0.1 4.1 0.1 2.1-1.5z"/><path color="#2fe5bb" d="M484.1 120.1l-4.1-0.1-2.1 1.4 4.1 0.1z"/><path color="#30e7b4" d="M482 121.5l-4.1-0.1-2.1 1.5 4.1 0.1z"/><path color="#2ee2c3" d="M480 120l-4.1-0.1-2.2 1.4 4.1 0.1z"/><path color="#2fe4bc" d="M477.9 121.4l-4.1-0.1-2.2 1.4 4.1 0.1z"/><path class="m" d="M484.1 120.1l-4.1-0.1-4.1-0.1-2.2 1.4-2.2 1.4 4.1 0.1 4.1 0.1 2.1-1.5z"/><path color="#2fe4bd" d="M471.6 122.8l-4.1-0.1-2.2 1.4 4.1 0.1z"/><path color="#30e7b6" d="M469.4 124.2l-4.1-0.1-2.2 1.5 4.1 0.1z"/><path color="#2ee1c5" d="M467.5 122.7l-4.1-0.1-2.2 1.4 4.1 0.1z"/><path color="#2fe4be" d="M465.3 124.1l-4.1-0.1-2.2 1.5 4.1 0.1z"/><path class="m" d="M471.6 122.8l-4.1-0.1-4.1-0.1-2.2 1.4-2.2 1.5 4.1 0.1 4.1 0.1 2.2-1.5z"/><path color="#2fe4bf" d="M459 125.4l-4.1-0.1-2.2 1.5 4.1 0.2z"/><path color="#2fe6b8" d="M456.8 126.9l-4.1-0.2-2.2 1.5 4.1 0.2z"/><path color="#2ee1c6" d="M454.9 125.3l-4.1-0.1-2.2 1.4 4.1 0.1z"/><path color="#2fe3c0" d="M452.7 126.8l-4.1-0.1-2.2 1.5 4.1 0.2z"/><path class="m" d="M459 125.4l-4.1-0.1-4.1-0.1-2.2 1.4-2.2 1.5 4.1 0.2 4.1 0.2 2.2-1.5z"/><path color="#2fe3c1" d="M446.3 128.1l-4.1-0.2-2.2 1.5 4.1 0.2z"/><path color="#2fe5bb" d="M444.1 129.6l-4.1-0.2-2.2 1.5 4.2 0.2z"/><path color="#2ee0c8" d="M442.2 127.9l-4.1-0.2-2.2 1.5 4.1 0.2z"/><path color="#2fe2c2" d="M439.9 129.4l-4.1-0.2-2.3 1.5 4.2 0.2z"/><path class="m" d="M446.3 128.1l-4.1-0.2-4.1-0.2-2.2 1.5-2.3 1.5 4.2 0.2 4.2 0.2 2.2-1.5z"/><path color="#31eaa6" d="M553.4 106.2l-4 0.1-2 1.4 4.1-0z"/><path color="#31eb9c" d="M551.4 107.6l-4.1 0-2 1.4 4.1-0z"/><path color="#30e8af" d="M549.3 106.2l-4 0.1-2 1.4 4.1-0z"/><path color="#31eaa6" d="M547.4 107.6l-4.1 0-2 1.4 4.1-0z"/><path class="m" d="M553.4 106.2l-4 0.1-4 0.1-2 1.4-2 1.4 4.1-0 4.1-0 2-1.4z"/><path color="#30e9a7" d="M517 114.7l-4.1-0-2.1 1.4 4.1 0z"/><path color="#31ea9f" d="M515 116.1l-4.1-0-2.1 1.5 4.1 0.1z"/><path color="#30e8b1" d="M512.9 114.7l-4.1-0-2.1 1.4 4.1 0z"/><path color="#30e9a8" d="M510.9 116.1l-4.1-0-2.1 1.4 4.1 0.1z"/><path class="m" d="M517 114.7l-4.1-0-4.1-0-2.1 1.4-2.1 1.4 4.1 0.1 4.1 0.1 2-1.5z"/><path color="#30e9aa" d="M492.3 120.2l-4.1-0.1-2.1 1.5 4.1 0.1z"/><path color="#31eaa2" d="M490.2 121.7l-4.1-0.1-2.1 1.5 4.1 0.1z"/><path color="#30e8b3" d="M488.2 120.2l-4.1-0.1-2.1 1.4 4.1 0.1z"/><path color="#30e9ab" d="M486.1 121.6l-4.1-0.1-2.1 1.5 4.1 0.1z"/><path class="m" d="M492.3 120.2l-4.1-0.1-4.1-0.1-2.1 1.4-2.1 1.5 4.1 0.1 4.1 0.1 2.1-1.5z"/><path color="#30e8b2" d="M454.6 128.4l-4.1-0.2-2.2 1.5 4.2 0.2z"/><path color="#30e9ab" d="M452.4 130l-4.2-0.2-2.2 1.5 4.2 0.2z"/><path color="#2fe5b9" d="M450.5 128.3l-4.1-0.2-2.2 1.5 4.2 0.2z"/><path color="#30e8b3" d="M448.2 129.8l-4.2-0.2-2.2 1.5 4.2 0.2z"/><path class="m" d="M454.6 128.4l-4.1-0.2-4.1-0.2-2.2 1.5-2.2 1.5 4.2 0.2 4.2 0.2 2.2-1.6z"/><path color="#31eaa6" d="M565.3 103.3l-4 0.1-1.9 1.4 4-0.1z"/><path color="#31eb9c" d="M563.4 104.7l-4 0.1-1.9 1.4 4.1-0z"/><path color="#30e8b0" d="M561.3 103.4l-4 0.1-1.9 1.3 4-0.1z"/><path color="#31eaa6" d="M559.4 104.7l-4 0.1-1.9 1.4 4.1-0.1z"/><path class="m" d="M565.3 103.3l-4 0.1-4 0.1-1.9 1.3-1.9 1.4 4.1-0.1 4.1-0 1.9-1.4z"/><path color="#31eaa6" d="M541.4 109l-4.1 0-2 1.4 4.1-0z"/><path color="#31eb9c" d="M539.4 110.4l-4.1 0-2 1.4 4.1 0z"/><path color="#30e8b0" d="M537.3 109.1l-4.1 0-2 1.4 4.1-0z"/><path color="#30e9a6" d="M535.3 110.5l-4.1 0-2 1.4 4.1 0z"/><path class="m" d="M541.4 109l-4.1 0-4.1 0-2 1.4-2 1.4 4.1 0 4.1 0 2-1.4z"/><path color="#30e9a6" d="M529.2 111.9l-4.1 0-2 1.4 4.1 0z"/><path color="#31eb9d" d="M527.2 113.3l-4.1-0-2 1.4 4.1 0z"/><path color="#30e8b0" d="M525.2 111.9l-4.1 0-2 1.4 4.1 0z"/><path color="#30e9a7" d="M523.1 113.3l-4.1-0-2 1.4 4.1 0z"/><path class="m" d="M529.2 111.9l-4.1 0-4.1 0-2 1.4-2 1.4 4.1 0 4.1 0 2-1.5z"/><path color="#30e9a9" d="M504.7 117.5l-4.1-0.1-2.1 1.4 4.1 0.1z"/><path color="#31eaa0" d="M502.6 118.9l-4.1-0.1-2.1 1.5 4.1 0.1z"/><path color="#30e8b2" d="M500.6 117.4l-4.1-0.1-2.1 1.4 4.1 0.1z"/><path color="#30e9aa" d="M498.5 118.9l-4.1-0.1-2.1 1.5 4.1 0.1z"/><path class="m" d="M504.7 117.5l-4.1-0.1-4.1-0.1-2.1 1.4-2.1 1.5 4.1 0.1 4.1 0.1 2.1-1.5z"/><path color="#30e9ad" d="M479.8 123l-4.1-0.1-2.2 1.5 4.1 0.1z"/><path color="#31eaa5" d="M477.7 124.5l-4.1-0.1-2.2 1.5 4.1 0.1z"/><path color="#30e7b5" d="M475.7 122.9l-4.1-0.1-2.2 1.5 4.1 0.1z"/><path color="#30e9ae" d="M473.6 124.4l-4.1-0.1-2.2 1.5 4.1 0.1z"/><path class="m" d="M479.8 123l-4.1-0.1-4.1-0.1-2.2 1.5-2.2 1.5 4.1 0.1 4.1 0.1 2.1-1.5z"/><path color="#30e8af" d="M467.3 125.7l-4.1-0.1-2.2 1.5 4.1 0.2z"/><path color="#30e9a8" d="M465.1 127.2l-4.1-0.2-2.2 1.5 4.2 0.2z"/><path color="#30e6b7" d="M463.1 125.6l-4.1-0.1-2.2 1.5 4.1 0.2z"/><path color="#30e8b0" d="M460.9 127.1l-4.1-0.2-2.2 1.5 4.2 0.2z"/><path class="m" d="M467.3 125.7l-4.1-0.1-4.1-0.1-2.2 1.5-2.2 1.5 4.2 0.2 4.2 0.2 2.2-1.5z"/><path color="#30e7b5" d="M441.9 131.1l-4.2-0.2-2.2 1.5 4.2 0.2z"/><path color="#30e8ae" d="M439.6 132.7l-4.2-0.2-2.2 1.6 4.2 0.2z"/><path color="#2fe4bc" d="M437.7 130.9l-4.2-0.2-2.3 1.5 4.2 0.2z"/><path color="#30e7b6" d="M435.5 132.5l-4.2-0.2-2.3 1.5 4.2 0.2z"/><path class="m" d="M441.9 131.1l-4.2-0.2-4.2-0.2-2.3 1.5-2.3 1.5 4.2 0.2 4.2 0.2 2.2-1.6z"/><path color="#31ec92" d="M573.4 103.1l-4 0.1-1.9 1.4 4.1-0.1z"/><path color="#32ed88" d="M571.5 104.5l-4.1 0.1-1.9 1.4 4.1-0z"/><path color="#31eb9c" d="M569.4 103.2l-4 0.1-1.9 1.4 4.1-0.1z"/><path color="#31ec92" d="M567.5 104.6l-4.1 0.1-1.9 1.4 4.1-0z"/><path class="m" d="M573.4 103.1l-4 0.1-4 0.1-1.9 1.4-1.9 1.4 4.1-0 4.1-0 1.9-1.4z"/><path color="#31ec92" d="M561.5 106.1l-4.1 0-1.9 1.4 4.1-0z"/><path color="#32ed89" d="M559.6 107.5l-4.1 0-1.9 1.4 4.1-0z"/><path color="#31eb9c" d="M557.4 106.1l-4.1 0.1-1.9 1.4 4.1-0z"/><path color="#31ec92" d="M555.5 107.5l-4.1 0-2 1.4 4.1-0z"/><path class="m" d="M561.5 106.1l-4.1 0-4.1 0.1-1.9 1.4-2 1.4 4.1-0 4.1-0 1.9-1.5z"/><path color="#31ec93" d="M549.5 109l-4.1 0-2 1.4 4.1-0z"/><path color="#32ed89" d="M547.5 110.4l-4.1 0-2 1.5 4.1 0z"/><path color="#31eb9c" d="M545.4 109l-4.1 0-2 1.4 4.1-0z"/><path color="#31ec93" d="M543.4 110.4l-4.1 0-2 1.4 4.1 0z"/><path class="m" d="M549.5 109l-4.1 0-4.1 0-2 1.4-2 1.4 4.1 0 4.1 0 2-1.5z"/><path color="#31ec93" d="M537.4 111.9l-4.1-0-2 1.4 4.1 0z"/><path color="#32ed8b" d="M535.4 113.3l-4.1-0-2 1.5 4.1 0z"/><path color="#31eb9d" d="M533.3 111.9l-4.1-0-2 1.4 4.1 0z"/><path color="#31ec94" d="M531.3 113.3l-4.1-0-2 1.5 4.1 0z"/><path class="m" d="M537.4 111.9l-4.1-0-4.1-0-2 1.4-2 1.5 4.1 0 4.1 0 2-1.5z"/><path color="#31ec95" d="M525.2 114.7l-4.1-0-2 1.5 4.1 0.1z"/><path color="#32ed8c" d="M523.2 116.2l-4.1-0.1-2 1.5 4.1 0.1z"/><path color="#31eb9e" d="M521.1 114.7l-4.1-0-2 1.4 4.1 0z"/><path color="#31ec95" d="M519.1 116.2l-4.1-0-2 1.5 4.1 0.1z"/><path class="m" d="M525.2 114.7l-4.1-0-4.1-0-2 1.4-2 1.5 4.1 0.1 4.1 0.1 2-1.5z"/><path color="#31eb96" d="M512.9 117.6l-4.1-0.1-2.1 1.5 4.1 0.1z"/><path color="#32ed8e" d="M510.9 119.1l-4.1-0.1-2.1 1.5 4.1 0.1z"/><path color="#31ea9f" d="M508.8 117.5l-4.1-0.1-2.1 1.5 4.1 0.1z"/><path color="#31eb97" d="M506.7 119l-4.1-0.1-2.1 1.5 4.1 0.1z"/><path class="m" d="M512.9 117.6l-4.1-0.1-4.1-0.1-2.1 1.5-2.1 1.5 4.1 0.1 4.1 0.1 2.1-1.5z"/><path color="#31eb98" d="M500.5 120.4l-4.1-0.1-2.1 1.5 4.1 0.1z"/><path color="#31ec90" d="M498.5 121.9l-4.1-0.1-2.1 1.5 4.1 0.1z"/><path color="#31eaa1" d="M496.4 120.3l-4.1-0.1-2.1 1.5 4.1 0.1z"/><path color="#31eb99" d="M494.3 121.8l-4.1-0.1-2.1 1.5 4.1 0.1z"/><path class="m" d="M500.5 120.4l-4.1-0.1-4.1-0.1-2.1 1.5-2.1 1.5 4.1 0.1 4.1 0.1 2.1-1.5z"/><path color="#31eb9b" d="M488.1 123.2l-4.1-0.1-2.1 1.5 4.1 0.1z"/><path color="#31ec93" d="M486 124.8l-4.1-0.1-2.1 1.5 4.2 0.2z"/><path color="#31eaa3" d="M484 123.1l-4.1-0.1-2.1 1.5 4.1 0.1z"/><path color="#31eb9c" d="M481.8 124.6l-4.1-0.1-2.1 1.5 4.2 0.2z"/><path class="m" d="M488.1 123.2l-4.1-0.1-4.1-0.1-2.1 1.5-2.1 1.5 4.2 0.2 4.2 0.2 2.1-1.6z"/><path color="#31eb9d" d="M475.5 126l-4.1-0.1-2.2 1.5 4.2 0.2z"/><path color="#31ec96" d="M473.4 127.6l-4.2-0.2-2.2 1.6 4.2 0.2z"/><path color="#30e9a6" d="M471.4 125.9l-4.1-0.1-2.2 1.5 4.2 0.2z"/><path color="#31ea9f" d="M469.2 127.4l-4.2-0.2-2.2 1.5 4.2 0.2z"/><path class="m" d="M475.5 126l-4.1-0.1-4.1-0.1-2.2 1.5-2.2 1.5 4.2 0.2 4.2 0.2 2.1-1.6z"/><path color="#31eaa0" d="M462.9 128.8l-4.2-0.2-2.2 1.6 4.2 0.2z"/><path color="#31eb99" d="M460.7 130.4l-4.2-0.2-2.2 1.6 4.2 0.2z"/><path color="#30e9a9" d="M458.8 128.6l-4.2-0.2-2.2 1.5 4.2 0.2z"/><path color="#31eaa2" d="M456.6 130.2l-4.2-0.2-2.2 1.6 4.2 0.2z"/><path class="m" d="M462.9 128.8l-4.2-0.2-4.2-0.2-2.2 1.5-2.2 1.6 4.2 0.2 4.2 0.2 2.2-1.6z"/><path color="#31eaa4" d="M450.2 131.5l-4.2-0.2-2.2 1.6 4.2 0.2z"/><path color="#31eb9d" d="M448 133.1l-4.2-0.2-2.2 1.6 4.2 0.2z"/><path color="#30e9ac" d="M446 131.3l-4.2-0.2-2.2 1.6 4.2 0.2z"/><path color="#31eaa6" d="M443.8 132.9l-4.2-0.2-2.2 1.6 4.2 0.2z"/><path class="m" d="M450.2 131.5l-4.2-0.2-4.2-0.2-2.2 1.6-2.2 1.6 4.2 0.2 4.2 0.2 2.2-1.6z"/><path color="#30e9a8" d="M437.4 134.2l-4.2-0.2-2.2 1.6 4.2 0.3z"/><path color="#31eaa1" d="M435.2 135.9l-4.2-0.3-2.2 1.6 4.2 0.3z"/><path color="#30e8b0" d="M433.2 134l-4.2-0.2-2.3 1.6 4.2 0.2z"/><path color="#30e9aa" d="M431 135.6l-4.2-0.2-2.3 1.6 4.2 0.3z"/><path class="m" d="M437.4 134.2l-4.2-0.2-4.2-0.2-2.3 1.6-2.3 1.6 4.2 0.3 4.2 0.3 2.2-1.6z"/><path color="#32ee7f" d="M581.5 103l-4.1 0.1-1.9 1.4 4.1-0z"/><path color="#33ef75" d="M579.7 104.4l-4.1 0-1.9 1.5 4.1-0z"/><path color="#32ed88" d="M577.5 103.1l-4.1 0.1-1.9 1.4 4.1-0.1z"/><path color="#32ee7f" d="M575.6 104.5l-4.1 0.1-1.9 1.4 4.1-0z"/><path class="m" d="M581.5 103l-4.1 0.1-4.1 0.1-1.9 1.4-1.9 1.4 4.1-0 4.1-0 1.9-1.5z"/><path color="#32ee7f" d="M569.6 106l-4.1 0-1.9 1.4 4.1-0z"/><path color="#33ef76" d="M567.7 107.5l-4.1 0-1.9 1.5 4.1-0z"/><path color="#32ed88" d="M565.6 106l-4.1 0-1.9 1.4 4.1-0z"/><path color="#32ee7f" d="M563.6 107.5l-4.1 0-1.9 1.5 4.1-0z"/><path class="m" d="M569.6 106l-4.1 0-4.1 0-1.9 1.4-1.9 1.5 4.1-0 4.1-0 1.9-1.5z"/><path color="#32ee80" d="M557.6 109l-4.1 0-1.9 1.5 4.1 0z"/><path color="#33ef77" d="M555.7 110.4l-4.1-0-1.9 1.5 4.1 0z"/><path color="#32ed89" d="M553.6 109l-4.1 0-2 1.4 4.1 0z"/><path color="#32ee80" d="M551.6 110.4l-4.1-0-2 1.5 4.1 0z"/><path class="m" d="M557.6 109l-4.1 0-4.1 0-2 1.4-2 1.5 4.1 0 4.1 0 1.9-1.5z"/><path color="#32ee81" d="M545.6 111.9l-4.1-0-2 1.5 4.1 0z"/><path color="#33ef78" d="M543.6 113.4l-4.1-0-2 1.5 4.1 0.1z"/><path color="#32ed8a" d="M541.5 111.9l-4.1-0-2 1.5 4.1 0z"/><path color="#32ee81" d="M539.5 113.4l-4.1-0-2 1.5 4.1 0z"/><path class="m" d="M545.6 111.9l-4.1-0-4.1-0-2 1.5-2 1.5 4.1 0 4.1 0.1 2-1.5z"/><path color="#32ee82" d="M533.4 114.8l-4.1-0-2 1.5 4.1 0.1z"/><path color="#32ef7a" d="M531.4 116.3l-4.1-0.1-2 1.5 4.1 0.1z"/><path color="#32ed8b" d="M529.3 114.8l-4.1-0-2 1.5 4.1 0.1z"/><path color="#32ee83" d="M527.3 116.3l-4.1-0.1-2 1.5 4.1 0.1z"/><path class="m" d="M533.4 114.8l-4.1-0-4.1-0-2 1.5-2 1.5 4.1 0.1 4.1 0.1 2-1.5z"/><path color="#32ee84" d="M521.2 117.7l-4.1-0.1-2 1.5 4.1 0.1z"/><path color="#32ef7c" d="M519.1 119.3l-4.1-0.1-2 1.5 4.1 0.1z"/><path color="#32ed8d" d="M517 117.7l-4.1-0.1-2.1 1.5 4.1 0.1z"/><path color="#32ee85" d="M515 119.2l-4.1-0.1-2.1 1.5 4.1 0.1z"/><path class="m" d="M521.2 117.7l-4.1-0.1-4.1-0.1-2.1 1.5-2.1 1.5 4.1 0.1 4.1 0.1 2-1.6z"/><path color="#32ed86" d="M508.8 120.6l-4.1-0.1-2.1 1.5 4.1 0.1z"/><path color="#32ee7f" d="M506.8 122.2l-4.1-0.1-2.1 1.6 4.2 0.1z"/><path color="#31ec8f" d="M504.7 120.5l-4.1-0.1-2.1 1.5 4.1 0.1z"/><path color="#32ed87" d="M502.6 122.1l-4.1-0.1-2.1 1.5 4.2 0.1z"/><path class="m" d="M508.8 120.6l-4.1-0.1-4.1-0.1-2.1 1.5-2.1 1.5 4.2 0.1 4.2 0.1 2.1-1.6z"/><path color="#32ed89" d="M496.4 123.5l-4.1-0.1-2.1 1.6 4.2 0.1z"/><path color="#32ee81" d="M494.3 125.1l-4.2-0.1-2.1 1.6 4.2 0.2z"/><path color="#31ec92" d="M492.2 123.4l-4.1-0.1-2.1 1.5 4.2 0.1z"/><path color="#32ed8a" d="M490.1 124.9l-4.2-0.1-2.1 1.6 4.2 0.2z"/><path class="m" d="M496.4 123.5l-4.1-0.1-4.1-0.1-2.1 1.5-2.1 1.6 4.2 0.2 4.2 0.2 2.1-1.6z"/><path color="#32ed8c" d="M483.9 126.3l-4.2-0.2-2.1 1.6 4.2 0.2z"/><path color="#32ee85" d="M481.7 127.9l-4.2-0.2-2.1 1.6 4.2 0.2z"/><path color="#31ec94" d="M479.7 126.2l-4.2-0.2-2.1 1.6 4.2 0.2z"/><path color="#32ed8d" d="M477.6 127.7l-4.2-0.2-2.1 1.6 4.2 0.2z"/><path class="m" d="M483.9 126.3l-4.2-0.2-4.2-0.2-2.1 1.6-2.1 1.6 4.2 0.2 4.2 0.2 2.1-1.6z"/><path color="#31ec8f" d="M471.3 129.1l-4.2-0.2-2.2 1.6 4.2 0.2z"/><path color="#32ed88" d="M469.1 130.8l-4.2-0.2-2.2 1.6 4.2 0.2z"/><path color="#31eb98" d="M467.1 129l-4.2-0.2-2.2 1.6 4.2 0.2z"/><path color="#31ec91" d="M464.9 130.5l-4.2-0.2-2.2 1.6 4.2 0.2z"/><path class="m" d="M471.3 129.1l-4.2-0.2-4.2-0.2-2.2 1.6-2.2 1.6 4.2 0.2 4.2 0.2 2.1-1.6z"/><path color="#31ec93" d="M458.6 131.9l-4.2-0.2-2.2 1.6 4.2 0.2z"/><path color="#32ed8c" d="M456.4 133.6l-4.2-0.2-2.2 1.6 4.2 0.3z"/><path color="#31eb9b" d="M454.4 131.7l-4.2-0.2-2.2 1.6 4.2 0.2z"/><path color="#31ec95" d="M452.2 133.3l-4.2-0.2-2.2 1.6 4.2 0.2z"/><path class="m" d="M458.6 131.9l-4.2-0.2-4.2-0.2-2.2 1.6-2.2 1.6 4.2 0.2 4.2 0.3 2.2-1.7z"/><path color="#31eb97" d="M445.8 134.7l-4.2-0.2-2.2 1.6 4.2 0.3z"/><path color="#31ec91" d="M443.6 136.4l-4.2-0.3-2.2 1.7 4.2 0.3z"/><path color="#31ea9f" d="M441.6 134.5l-4.2-0.2-2.2 1.6 4.2 0.3z"/><path color="#31eb99" d="M439.4 136.1l-4.2-0.3-2.2 1.6 4.2 0.3z"/><path class="m" d="M445.8 134.7l-4.2-0.2-4.2-0.2-2.2 1.6-2.2 1.6 4.2 0.3 4.2 0.3 2.2-1.7z"/><path color="#31eb9b" d="M433 137.5l-4.2-0.3-2.2 1.6 4.2 0.3z"/><path color="#31ec96" d="M430.7 139.2l-4.2-0.3-2.2 1.7 4.2 0.3z"/><path color="#31eaa4" d="M428.7 137.2l-4.2-0.3-2.3 1.6 4.2 0.3z"/><path color="#31eb9e" d="M426.5 138.9l-4.2-0.3-2.3 1.7 4.2 0.3z"/><path class="m" d="M433 137.5l-4.2-0.3-4.2-0.3-2.3 1.6-2.3 1.7 4.2 0.3 4.2 0.3 2.2-1.7z"/><path color="#33f06c" d="M589.6 102.9l-4.1 0.1-1.8 1.5 4.1-0z"/><path color="#34f163" d="M587.8 104.4l-4.1 0-1.9 1.5 4.1-0z"/><path color="#33ef75" d="M585.6 102.9l-4.1 0.1-1.9 1.4 4.1-0z"/><path color="#33f06c" d="M583.7 104.4l-4.1 0-1.9 1.5 4.1-0z"/><path class="m" d="M589.6 102.9l-4.1 0.1-4.1 0.1-1.9 1.4-1.9 1.5 4.1-0 4.1-0 1.8-1.5z"/><path color="#33f06d" d="M577.8 105.9l-4.1 0-1.9 1.5 4.1-0z"/><path color="#34f164" d="M575.9 107.4l-4.1 0-1.9 1.5 4.1 0z"/><path color="#33ef76" d="M573.7 106l-4.1 0-1.9 1.5 4.1-0z"/><path color="#33f06d" d="M571.8 107.4l-4.1 0-1.9 1.5 4.1-0z"/><path class="m" d="M577.8 105.9l-4.1 0-4.1 0-1.9 1.5-1.9 1.5 4.1-0 4.1 0 1.9-1.5z"/><path color="#33f06e" d="M565.8 108.9l-4.1 0-1.9 1.5 4.1 0z"/><path color="#34f165" d="M563.9 110.5l-4.1-0-1.9 1.5 4.1 0z"/><path color="#33ef77" d="M561.7 108.9l-4.1 0-1.9 1.5 4.1 0z"/><path color="#33f06e" d="M559.8 110.4l-4.1-0-1.9 1.5 4.1 0z"/><path class="m" d="M565.8 108.9l-4.1 0-4.1 0-1.9 1.5-1.9 1.5 4.1 0 4.1 0 1.9-1.5z"/><path color="#33f071" d="M541.6 114.9l-4.1-0.1-2 1.5 4.1 0.1z"/><path color="#33f169" d="M539.7 116.5l-4.1-0.1-2 1.6 4.1 0.1z"/><path color="#32ef79" d="M537.5 114.9l-4.1-0-2 1.5 4.1 0.1z"/><path color="#33f071" d="M535.5 116.4l-4.1-0.1-2 1.5 4.1 0.1z"/><path class="m" d="M541.6 114.9l-4.1-0.1-4.1-0-2 1.5-2 1.5 4.1 0.1 4.1 0.1 2-1.6z"/><path color="#33ef75" d="M517.1 120.8l-4.1-0.1-2 1.6 4.2 0.1z"/><path color="#33f06e" d="M515.1 122.4l-4.2-0.1-2 1.6 4.2 0.1z"/><path color="#32ee7d" d="M513 120.7l-4.1-0.1-2.1 1.6 4.2 0.1z"/><path color="#33ef76" d="M510.9 122.3l-4.2-0.1-2.1 1.6 4.2 0.1z"/><path class="m" d="M517.1 120.8l-4.1-0.1-4.1-0.1-2.1 1.6-2.1 1.6 4.2 0.1 4.2 0.1 2-1.6z"/><path color="#33ef78" d="M504.7 123.8l-4.2-0.1-2.1 1.6 4.2 0.2z"/><path color="#33f071" d="M502.6 125.4l-4.2-0.2-2.1 1.6 4.2 0.2z"/><path color="#32ee80" d="M500.5 123.6l-4.2-0.1-2.1 1.6 4.2 0.2z"/><path color="#32ef79" d="M498.5 125.2l-4.2-0.2-2.1 1.6 4.2 0.2z"/><path class="m" d="M504.7 123.8l-4.2-0.1-4.2-0.1-2.1 1.6-2.1 1.6 4.2 0.2 4.2 0.2 2.1-1.6z"/><path color="#32ee7e" d="M479.6 129.5l-4.2-0.2-2.1 1.6 4.2 0.2z"/><path color="#33ef78" d="M477.5 131.2l-4.2-0.2-2.1 1.7 4.2 0.2z"/><path color="#32ed86" d="M475.4 129.3l-4.2-0.2-2.1 1.6 4.2 0.2z"/><path color="#32ee80" d="M473.3 131l-4.2-0.2-2.1 1.6 4.2 0.2z"/><path class="m" d="M479.6 129.5l-4.2-0.2-4.2-0.2-2.1 1.6-2.1 1.6 4.2 0.2 4.2 0.2 2.1-1.7z"/><path color="#32ed86" d="M454.2 135.2l-4.2-0.3-2.2 1.7 4.2 0.3z"/><path color="#32ee80" d="M452.1 136.9l-4.2-0.3-2.2 1.7 4.2 0.3z"/><path color="#31ec8f" d="M450 135l-4.2-0.2-2.2 1.6 4.2 0.3z"/><path color="#32ed89" d="M447.8 136.6l-4.2-0.3-2.2 1.7 4.2 0.3z"/><path class="m" d="M454.2 135.2l-4.2-0.3-4.2-0.2-2.2 1.6-2.2 1.7 4.2 0.3 4.2 0.3 2.2-1.7z"/><path color="#32ed8b" d="M441.4 138l-4.2-0.3-2.2 1.7 4.2 0.3z"/><path color="#32ee85" d="M439.2 139.7l-4.2-0.3-2.2 1.7 4.3 0.3z"/><path color="#31ec93" d="M437.2 137.8l-4.2-0.3-2.2 1.7 4.2 0.3z"/><path color="#32ed8e" d="M435 139.4l-4.2-0.3-2.2 1.7 4.2 0.3z"/><path class="m" d="M441.4 138l-4.2-0.3-4.2-0.3-2.2 1.7-2.2 1.7 4.2 0.3 4.3 0.3 2.2-1.7z"/><path color="#31ec90" d="M428.5 140.8l-4.2-0.3-2.2 1.7 4.3 0.3z"/><path color="#32ed8b" d="M426.3 142.6l-4.3-0.3-2.2 1.7 4.3 0.3z"/><path color="#31eb98" d="M424.3 140.5l-4.2-0.3-2.3 1.7 4.2 0.3z"/><path color="#31ec93" d="M422 142.2l-4.2-0.3-2.3 1.7 4.3 0.3z"/><path class="m" d="M428.5 140.8l-4.2-0.3-4.2-0.3-2.3 1.7-2.3 1.7 4.3 0.3 4.3 0.3 2.2-1.7z"/><path color="#33f06f" d="M553.8 111.9l-4.1-0-1.9 1.5 4.1 0z"/><path color="#33f167" d="M551.8 113.5l-4.1-0-2 1.5 4.1 0.1z"/><path color="#33ef78" d="M549.7 111.9l-4.1-0-2 1.5 4.1 0z"/><path color="#33f070" d="M547.7 113.4l-4.1-0-2 1.5 4.1 0.1z"/><path class="m" d="M553.8 111.9l-4.1-0-4.1-0-2 1.5-2 1.5 4.1 0.1 4.1 0.1 1.9-1.6z"/><path color="#33f073" d="M529.4 117.9l-4.1-0.1-2 1.6 4.1 0.1z"/><path color="#33f06b" d="M527.4 119.5l-4.1-0.1-2 1.6 4.2 0.1z"/><path color="#32ef7b" d="M525.3 117.8l-4.1-0.1-2 1.5 4.1 0.1z"/><path color="#33f074" d="M523.3 119.4l-4.1-0.1-2 1.6 4.2 0.1z"/><path class="m" d="M529.4 117.9l-4.1-0.1-4.1-0.1-2 1.5-2 1.6 4.2 0.1 4.2 0.1 2-1.6z"/><path color="#32ef7b" d="M492.2 126.6l-4.2-0.2-2.1 1.6 4.2 0.2z"/><path color="#33ef74" d="M490.1 128.3l-4.2-0.2-2.1 1.6 4.2 0.2z"/><path color="#32ee83" d="M488 126.5l-4.2-0.2-2.1 1.6 4.2 0.2z"/><path color="#32ef7c" d="M485.9 128.1l-4.2-0.2-2.1 1.6 4.2 0.2z"/><path class="m" d="M492.2 126.6l-4.2-0.2-4.2-0.2-2.1 1.6-2.1 1.6 4.2 0.2 4.2 0.2 2.1-1.7z"/><path color="#32ee82" d="M467 132.4l-4.2-0.2-2.2 1.6 4.2 0.2z"/><path color="#32ef7c" d="M464.8 134l-4.2-0.2-2.2 1.7 4.2 0.3z"/><path color="#32ed8a" d="M462.8 132.2l-4.2-0.2-2.2 1.6 4.2 0.2z"/><path color="#32ee84" d="M460.6 133.8l-4.2-0.2-2.2 1.7 4.2 0.3z"/><path class="m" d="M467 132.4l-4.2-0.2-4.2-0.2-2.2 1.6-2.2 1.7 4.2 0.3 4.2 0.3 2.1-1.7z"/><path color="#35f25b" d="M597.8 102.8l-4.1 0.1-1.8 1.5 4.1-0z"/><path color="#38f359" d="M596 104.3l-4.1 0-1.8 1.5 4.1-0z"/><path color="#34f163" d="M593.7 102.8l-4.1 0.1-1.8 1.5 4.1-0z"/><path color="#35f25b" d="M591.9 104.3l-4.1 0-1.8 1.5 4.1-0z"/><path class="m" d="M597.8 102.8l-4.1 0.1-4.1 0.1-1.8 1.5-1.8 1.5 4.1-0 4.1-0 1.8-1.5z"/><path color="#35f25c" d="M586 105.9l-4.1 0-1.9 1.5 4.1-0z"/><path color="#38f359" d="M584.1 107.4l-4.1 0-1.9 1.5 4.1 0z"/><path color="#34f164" d="M581.9 105.9l-4.1 0-1.9 1.5 4.1-0z"/><path color="#34f25c" d="M580 107.4l-4.1 0-1.9 1.5 4.1 0z"/><path class="m" d="M586 105.9l-4.1 0-4.1 0-1.9 1.5-1.9 1.5 4.1 0 4.1 0 1.8-1.6z"/><path color="#34f25c" d="M574 108.9l-4.1-0-1.9 1.5 4.1 0z"/><path color="#37f359" d="M572.2 110.5l-4.1-0-1.9 1.6 4.1 0z"/><path color="#34f165" d="M569.9 108.9l-4.1 0-1.9 1.5 4.1 0z"/><path color="#34f25d" d="M568 110.5l-4.1-0-1.9 1.5 4.1 0z"/><path class="m" d="M574 108.9l-4.1-0-4.1 0-1.9 1.5-1.9 1.5 4.1 0 4.1 0 1.9-1.6z"/><path color="#34f25d" d="M562 112l-4.1-0-1.9 1.6 4.1 0z"/><path color="#37f35a" d="M560.1 113.6l-4.1-0-1.9 1.6 4.1 0.1z"/><path color="#33f166" d="M557.9 112l-4.1-0-1.9 1.5 4.1 0z"/><path color="#34f25e" d="M556 113.5l-4.1-0-1.9 1.6 4.1 0.1z"/><path class="m" d="M562 112l-4.1-0-4.1-0-1.9 1.5-1.9 1.6 4.1 0.1 4.1 0.1 1.9-1.6z"/><path color="#34f25f" d="M549.9 115l-4.1-0.1-2 1.6 4.1 0.1z"/><path color="#36f25b" d="M548 116.6l-4.1-0.1-2 1.6 4.2 0.1z"/><path color="#33f168" d="M545.8 115l-4.1-0.1-2 1.6 4.1 0.1z"/><path color="#34f260" d="M543.8 116.6l-4.1-0.1-2 1.6 4.2 0.1z"/><path class="m" d="M549.9 115l-4.1-0.1-4.1-0.1-2 1.6-2 1.6 4.2 0.1 4.2 0.1 1.9-1.6z"/><path color="#34f161" d="M537.7 118.1l-4.1-0.1-2 1.6 4.2 0.1z"/><path color="#35f25b" d="M535.7 119.7l-4.2-0.1-2 1.6 4.2 0.1z"/><path color="#33f16a" d="M533.6 118l-4.1-0.1-2 1.6 4.2 0.1z"/><path color="#34f163" d="M531.6 119.6l-4.2-0.1-2 1.6 4.2 0.1z"/><path class="m" d="M537.7 118.1l-4.1-0.1-4.1-0.1-2 1.6-2 1.6 4.2 0.1 4.2 0.1 2-1.6z"/><path color="#34f164" d="M525.4 121.1l-4.2-0.1-2 1.6 4.2 0.1z"/><path color="#34f25d" d="M523.4 122.7l-4.2-0.1-2 1.6 4.2 0.2z"/><path color="#33f06c" d="M521.3 120.9l-4.2-0.1-2 1.6 4.2 0.1z"/><path color="#33f166" d="M519.2 122.5l-4.2-0.1-2 1.6 4.2 0.1z"/><path class="m" d="M525.4 121.1l-4.2-0.1-4.2-0.1-2 1.6-2 1.6 4.2 0.1 4.2 0.2 2-1.7z"/><path color="#33f167" d="M513 124l-4.2-0.1-2 1.6 4.2 0.2z"/><path color="#34f261" d="M511 125.7l-4.2-0.2-2 1.7 4.2 0.2z"/><path color="#33f06f" d="M508.9 123.9l-4.2-0.1-2.1 1.6 4.2 0.2z"/><path color="#33f169" d="M506.8 125.5l-4.2-0.2-2.1 1.6 4.2 0.2z"/><path class="m" d="M513 124l-4.2-0.1-4.2-0.1-2.1 1.6-2.1 1.6 4.2 0.2 4.2 0.2 2-1.7z"/><path color="#33f06a" d="M500.6 127l-4.2-0.2-2.1 1.6 4.2 0.2z"/><path color="#34f164" d="M498.5 128.7l-4.2-0.2-2.1 1.7 4.2 0.2z"/><path color="#33f073" d="M496.4 126.8l-4.2-0.2-2.1 1.6 4.2 0.2z"/><path color="#33f06c" d="M494.3 128.5l-4.2-0.2-2.1 1.7 4.2 0.2z"/><path class="m" d="M500.6 127l-4.2-0.2-4.2-0.2-2.1 1.6-2.1 1.7 4.2 0.2 4.2 0.2 2.1-1.7z"/><path color="#33f06e" d="M488 129.9l-4.2-0.2-2.1 1.7 4.2 0.2z"/><path color="#33f168" d="M485.9 131.6l-4.2-0.2-2.1 1.7 4.2 0.2z"/><path color="#33ef76" d="M483.8 129.7l-4.2-0.2-2.1 1.6 4.2 0.2z"/><path color="#33f070" d="M481.7 131.4l-4.2-0.2-2.1 1.7 4.2 0.2z"/><path class="m" d="M488 129.9l-4.2-0.2-4.2-0.2-2.1 1.6-2.1 1.7 4.2 0.2 4.2 0.2 2.1-1.7z"/><path color="#33f072" d="M475.4 132.8l-4.2-0.2-2.1 1.7 4.2 0.2z"/><path color="#33f06c" d="M473.3 134.5l-4.2-0.2-2.1 1.7 4.2 0.3z"/><path color="#32ef7a" d="M471.2 132.6l-4.2-0.2-2.1 1.7 4.2 0.2z"/><path color="#33ef74" d="M469 134.3l-4.2-0.2-2.1 1.7 4.2 0.3z"/><path class="m" d="M475.4 132.8l-4.2-0.2-4.2-0.2-2.1 1.7-2.1 1.7 4.2 0.3 4.2 0.3 2.1-1.7z"/><path color="#33ef76" d="M462.7 135.7l-4.2-0.3-2.2 1.7 4.2 0.3z"/><path color="#33f071" d="M460.5 137.5l-4.2-0.3-2.2 1.7 4.3 0.3z"/><path color="#32ee7e" d="M458.4 135.5l-4.2-0.3-2.2 1.7 4.2 0.3z"/><path color="#32ef79" d="M456.3 137.2l-4.2-0.3-2.2 1.7 4.2 0.3z"/><path class="m" d="M462.7 135.7l-4.2-0.3-4.2-0.3-2.2 1.7-2.2 1.7 4.2 0.3 4.3 0.3 2.1-1.7z"/><path color="#32ef7b" d="M449.9 138.6l-4.2-0.3-2.2 1.7 4.3 0.3z"/><path color="#33ef76" d="M447.7 140.4l-4.3-0.3-2.2 1.7 4.3 0.3z"/><path color="#32ee83" d="M445.6 138.3l-4.2-0.3-2.2 1.7 4.2 0.3z"/><path color="#32ee7e" d="M443.5 140l-4.2-0.3-2.2 1.7 4.3 0.3z"/><path class="m" d="M449.9 138.6l-4.2-0.3-4.2-0.3-2.2 1.7-2.2 1.7 4.3 0.3 4.3 0.3 2.2-1.8z"/><path color="#32ee80" d="M437 141.5l-4.3-0.3-2.2 1.7 4.3 0.3z"/><path color="#32ef7c" d="M434.8 143.2l-4.3-0.3-2.2 1.8 4.3 0.4z"/><path color="#32ed88" d="M432.7 141.2l-4.2-0.3-2.2 1.7 4.3 0.3z"/><path color="#32ee83" d="M430.5 142.9l-4.3-0.3-2.2 1.7 4.3 0.4z"/><path class="m" d="M437 141.5l-4.3-0.3-4.2-0.3-2.2 1.7-2.2 1.7 4.3 0.4 4.3 0.4 2.2-1.8z"/><path color="#32ee86" d="M424 144.3l-4.3-0.3-2.2 1.8 4.3 0.4z"/><path color="#32ee81" d="M421.8 146.1l-4.3-0.4-2.2 1.8 4.3 0.4z"/><path color="#32ed8e" d="M419.8 144l-4.3-0.3-2.3 1.7 4.3 0.4z"/><path color="#32ed89" d="M417.5 145.7l-4.3-0.4-2.3 1.8 4.3 0.4z"/><path class="m" d="M424 144.3l-4.3-0.3-4.3-0.3-2.3 1.7-2.3 1.8 4.3 0.4 4.3 0.4 2.2-1.8z"/><path color="#3cf456" d="M594.2 105.8l-4.1 0-1.8 1.6 4.1 0z"/><path color="#3ff454" d="M592.4 107.4l-4.1-0-1.8 1.6 4.1 0z"/><path color="#38f359" d="M590.1 105.8l-4.1 0-1.8 1.5 4.1-0z"/><path color="#3bf456" d="M588.2 107.4l-4.1 0-1.8 1.6 4.1 0z"/><path class="m" d="M594.2 105.8l-4.1 0-4.1 0-1.8 1.5-1.8 1.6 4.1 0 4.1 0 1.8-1.6z"/><path color="#37f359" d="M533.8 121.3l-4.2-0.1-2 1.6 4.2 0.1z"/><path color="#3af357" d="M531.8 123l-4.2-0.1-2 1.7 4.2 0.2z"/><path color="#34f25c" d="M529.6 121.2l-4.2-0.1-2 1.6 4.2 0.1z"/><path color="#37f35a" d="M527.6 122.8l-4.2-0.1-2 1.7 4.2 0.2z"/><path class="m" d="M533.8 121.3l-4.2-0.1-4.2-0.1-2 1.6-2 1.7 4.2 0.2 4.2 0.2 2-1.7z"/><path color="#34f25e" d="M496.4 130.3l-4.2-0.2-2.1 1.7 4.2 0.2z"/><path color="#35f25b" d="M494.4 132.1l-4.2-0.2-2.1 1.7 4.2 0.2z"/><path color="#33f166" d="M492.2 130.1l-4.2-0.2-2.1 1.7 4.2 0.2z"/><path color="#34f260" d="M490.2 131.8l-4.2-0.2-2.1 1.7 4.2 0.2z"/><path class="m" d="M496.4 130.3l-4.2-0.2-4.2-0.2-2.1 1.7-2.1 1.7 4.2 0.2 4.2 0.2 2.1-1.7z"/><path color="#33ef77" d="M432.6 145l-4.3-0.4-2.2 1.8 4.3 0.4z"/><path color="#33f073" d="M430.4 146.8l-4.3-0.4-2.2 1.8 4.3 0.4z"/><path color="#32ee7e" d="M428.3 144.7l-4.3-0.4-2.2 1.8 4.3 0.4z"/><path color="#32ef7a" d="M426.1 146.5l-4.3-0.4-2.2 1.8 4.3 0.4z"/><path class="m" d="M432.6 145l-4.3-0.4-4.3-0.4-2.2 1.8-2.2 1.8 4.3 0.4 4.3 0.4 2.2-1.8z"/><path color="#3cf456" d="M606 102.7l-4.1 0-1.8 1.5 4.1-0z"/><path color="#3ff553" d="M604.2 104.2l-4.1 0-1.8 1.6 4.1-0z"/><path color="#38f359" d="M601.9 102.7l-4.1 0-1.8 1.5 4.1-0z"/><path color="#3cf456" d="M600.1 104.3l-4.1 0-1.8 1.5 4.1-0z"/><path class="m" d="M606 102.7l-4.1 0-4.1 0-1.8 1.5-1.8 1.5 4.1-0 4.1-0 1.8-1.6z"/><path color="#3bf457" d="M582.3 109l-4.1-0-1.9 1.6 4.1 0z"/><path color="#3ef454" d="M580.4 110.6l-4.1-0-1.9 1.6 4.1 0z"/><path color="#38f359" d="M578.2 109l-4.1-0-1.9 1.6 4.1 0z"/><path color="#3bf357" d="M576.3 110.5l-4.1-0-1.9 1.6 4.1 0z"/><path class="m" d="M582.3 109l-4.1-0-4.1-0-1.9 1.6-1.9 1.6 4.1 0 4.1 0 1.9-1.6z"/><path color="#3af357" d="M570.3 112.1l-4.1-0-1.9 1.6 4.1 0.1z"/><path color="#3df455" d="M568.4 113.7l-4.1-0.1-1.9 1.6 4.2 0.1z"/><path color="#37f35a" d="M566.1 112l-4.1-0-1.9 1.6 4.1 0.1z"/><path color="#3af357" d="M564.3 113.6l-4.1-0.1-1.9 1.6 4.2 0.1z"/><path class="m" d="M570.3 112.1l-4.1-0-4.1-0-1.9 1.6-1.9 1.6 4.2 0.1 4.2 0.1 1.9-1.6z"/><path color="#39f358" d="M558.2 115.2l-4.1-0.1-1.9 1.6 4.2 0.1z"/><path color="#3cf456" d="M556.3 116.8l-4.2-0.1-1.9 1.6 4.2 0.1z"/><path color="#36f25a" d="M554.1 115.1l-4.1-0.1-1.9 1.6 4.2 0.1z"/><path color="#39f358" d="M552.1 116.7l-4.2-0.1-1.9 1.6 4.2 0.1z"/><path class="m" d="M558.2 115.2l-4.1-0.1-4.1-0.1-1.9 1.6-1.9 1.6 4.2 0.1 4.2 0.1 1.9-1.7z"/><path color="#38f359" d="M546 118.2l-4.2-0.1-2 1.6 4.2 0.1z"/><path color="#3bf456" d="M544.1 119.9l-4.2-0.1-2 1.7 4.2 0.1z"/><path color="#35f25b" d="M541.9 118.2l-4.2-0.1-2 1.6 4.2 0.1z"/><path color="#38f359" d="M539.9 119.8l-4.2-0.1-2 1.6 4.2 0.1z"/><path class="m" d="M546 118.2l-4.2-0.1-4.2-0.1-2 1.6-2 1.6 4.2 0.1 4.2 0.1 2-1.7z"/><path color="#36f25a" d="M521.4 124.3l-4.2-0.2-2 1.7 4.2 0.2z"/><path color="#39f358" d="M519.4 126l-4.2-0.2-2 1.7 4.2 0.2z"/><path color="#34f25f" d="M517.2 124.2l-4.2-0.1-2 1.6 4.2 0.2z"/><path color="#35f25b" d="M515.2 125.8l-4.2-0.2-2 1.7 4.2 0.2z"/><path class="m" d="M521.4 124.3l-4.2-0.2-4.2-0.1-2 1.6-2 1.7 4.2 0.2 4.2 0.2 2-1.7z"/><path color="#35f25b" d="M509 127.3l-4.2-0.2-2.1 1.7 4.2 0.2z"/><path color="#37f35a" d="M506.9 129l-4.2-0.2-2.1 1.7 4.2 0.2z"/><path color="#34f162" d="M504.8 127.2l-4.2-0.2-2.1 1.7 4.2 0.2z"/><path color="#34f25c" d="M502.7 128.8l-4.2-0.2-2.1 1.7 4.2 0.2z"/><path class="m" d="M509 127.3l-4.2-0.2-4.2-0.2-2.1 1.7-2.1 1.7 4.2 0.2 4.2 0.2 2-1.7z"/><path color="#34f162" d="M483.8 133.3l-4.2-0.2-2.1 1.7 4.2 0.3z"/><path color="#34f25d" d="M481.7 135.1l-4.2-0.3-2.1 1.7 4.3 0.3z"/><path color="#33f16a" d="M479.6 133.1l-4.2-0.2-2.1 1.7 4.2 0.3z"/><path color="#34f165" d="M477.5 134.8l-4.2-0.3-2.1 1.7 4.2 0.3z"/><path class="m" d="M483.8 133.3l-4.2-0.2-4.2-0.2-2.1 1.7-2.1 1.7 4.2 0.3 4.3 0.3 2.1-1.8z"/><path color="#33f167" d="M471.1 136.3l-4.2-0.3-2.1 1.7 4.3 0.3z"/><path color="#34f162" d="M469 138l-4.3-0.3-2.1 1.8 4.3 0.3z"/><path color="#33f06f" d="M466.9 136l-4.2-0.3-2.1 1.7 4.2 0.3z"/><path color="#33f16a" d="M464.8 137.7l-4.2-0.3-2.1 1.7 4.3 0.3z"/><path class="m" d="M471.1 136.3l-4.2-0.3-4.2-0.3-2.1 1.7-2.1 1.7 4.3 0.3 4.3 0.3 2.1-1.8z"/><path color="#33f06c" d="M458.4 139.2l-4.3-0.3-2.2 1.8 4.3 0.3z"/><path color="#33f167" d="M456.2 141l-4.3-0.3-2.2 1.8 4.3 0.3z"/><path color="#33f074" d="M454.1 138.9l-4.2-0.3-2.2 1.7 4.3 0.3z"/><path color="#33f06f" d="M452 140.7l-4.3-0.3-2.2 1.8 4.3 0.3z"/><path class="m" d="M458.4 139.2l-4.3-0.3-4.2-0.3-2.2 1.7-2.2 1.8 4.3 0.3 4.3 0.3 2.2-1.8z"/><path color="#33f071" d="M445.5 142.1l-4.3-0.3-2.2 1.8 4.3 0.3z"/><path color="#33f06d" d="M443.4 143.9l-4.3-0.3-2.2 1.8 4.3 0.4z"/><path color="#32ef79" d="M441.3 141.8l-4.3-0.3-2.2 1.8 4.3 0.3z"/><path color="#33ef74" d="M439.1 143.6l-4.3-0.3-2.2 1.8 4.3 0.4z"/><path class="m" d="M445.5 142.1l-4.3-0.3-4.3-0.3-2.2 1.8-2.2 1.8 4.3 0.4 4.3 0.4 2.2-1.8z"/><path color="#32ef7d" d="M419.6 147.9l-4.3-0.4-2.2 1.8 4.3 0.4z"/><path color="#32ef79" d="M417.4 149.7l-4.3-0.4-2.2 1.8 4.3 0.4z"/><path color="#32ee84" d="M415.3 147.5l-4.3-0.4-2.3 1.8 4.3 0.4z"/><path color="#32ee80" d="M413.1 149.3l-4.3-0.4-2.3 1.8 4.3 0.4z"/><path class="m" d="M419.6 147.9l-4.3-0.4-4.3-0.4-2.3 1.8-2.3 1.8 4.3 0.4 4.3 0.4 2.2-1.9z"/><path color="#43f551" d="M602.4 105.8l-4.1 0-1.8 1.6 4.1 0z"/><path color="#46f64e" d="M600.6 107.4l-4.1-0-1.8 1.6 4.1 0z"/><path color="#3ff453" d="M598.3 105.8l-4.1 0-1.8 1.6 4.1 0z"/><path color="#42f551" d="M596.5 107.4l-4.1-0-1.8 1.6 4.1 0z"/><path class="m" d="M602.4 105.8l-4.1 0-4.1 0-1.8 1.6-1.8 1.6 4.1 0 4.1 0 1.8-1.6z"/><path color="#33f06f" d="M428.2 148.7l-4.3-0.4-2.2 1.9 4.3 0.4z"/><path color="#33f06b" d="M426 150.5l-4.3-0.4-2.2 1.9 4.3 0.4z"/><path color="#33ef76" d="M423.9 148.3l-4.3-0.4-2.2 1.8 4.3 0.4z"/><path color="#33f072" d="M421.7 150.1l-4.3-0.4-2.2 1.9 4.3 0.4z"/><path class="m" d="M428.2 148.7l-4.3-0.4-4.3-0.4-2.2 1.8-2.2 1.9 4.3 0.4 4.3 0.4 2.2-1.9z"/><path color="#43f550" d="M614.2 102.6l-4.1 0-1.8 1.6 4.1-0z"/><path color="#47f64e" d="M612.4 104.2l-4.1 0-1.8 1.6 4.1 0z"/><path color="#40f553" d="M610.1 102.6l-4.1 0-1.8 1.6 4.1-0z"/><path color="#43f550" d="M608.3 104.2l-4.1 0-1.8 1.6 4.1-0z"/><path class="m" d="M614.2 102.6l-4.1 0-4.1 0-1.8 1.6-1.8 1.6 4.1-0 4.1 0 1.8-1.6z"/><path color="#42f551" d="M590.5 109l-4.1-0-1.8 1.6 4.1 0z"/><path color="#45f64f" d="M588.7 110.6l-4.1-0-1.8 1.6 4.2 0.1z"/><path color="#3ef454" d="M586.4 109l-4.1-0-1.9 1.6 4.1 0z"/><path color="#41f552" d="M584.6 110.6l-4.1-0-1.9 1.6 4.2 0.1z"/><path class="m" d="M590.5 109l-4.1-0-4.1-0-1.9 1.6-1.9 1.6 4.2 0.1 4.2 0.1 1.8-1.7z"/><path color="#41f552" d="M578.6 112.2l-4.1-0-1.9 1.6 4.2 0.1z"/><path color="#44f650" d="M576.7 113.8l-4.2-0.1-1.9 1.7 4.2 0.1z"/><path color="#3ef454" d="M574.4 112.1l-4.1-0-1.9 1.6 4.2 0.1z"/><path color="#41f552" d="M572.5 113.8l-4.2-0.1-1.9 1.6 4.2 0.1z"/><path class="m" d="M578.6 112.2l-4.1-0-4.1-0-1.9 1.6-1.9 1.6 4.2 0.1 4.2 0.1 1.9-1.7z"/><path color="#40f553" d="M566.5 115.3l-4.2-0.1-1.9 1.6 4.2 0.1z"/><path color="#43f550" d="M564.6 117l-4.2-0.1-1.9 1.7 4.2 0.1z"/><path color="#3df455" d="M562.3 115.2l-4.2-0.1-1.9 1.6 4.2 0.1z"/><path color="#40f553" d="M560.4 116.9l-4.2-0.1-1.9 1.7 4.2 0.1z"/><path class="m" d="M566.5 115.3l-4.2-0.1-4.2-0.1-1.9 1.6-1.9 1.7 4.2 0.1 4.2 0.1 1.9-1.7z"/><path color="#3ff453" d="M554.4 118.5l-4.2-0.1-1.9 1.7 4.2 0.1z"/><path color="#42f551" d="M552.4 120.1l-4.2-0.1-1.9 1.7 4.2 0.1z"/><path color="#3cf456" d="M550.2 118.3l-4.2-0.1-1.9 1.6 4.2 0.1z"/><path color="#3ef454" d="M548.3 120l-4.2-0.1-2 1.7 4.2 0.1z"/><path class="m" d="M554.4 118.5l-4.2-0.1-4.2-0.1-1.9 1.6-2 1.7 4.2 0.1 4.2 0.1 1.9-1.7z"/><path color="#3ef454" d="M542.1 121.6l-4.2-0.1-2 1.7 4.2 0.2z"/><path color="#40f552" d="M540.2 123.3l-4.2-0.2-2 1.7 4.2 0.2z"/><path color="#3bf357" d="M537.9 121.4l-4.2-0.1-2 1.7 4.2 0.1z"/><path color="#3df455" d="M536 123.1l-4.2-0.1-2 1.7 4.2 0.2z"/><path class="m" d="M542.1 121.6l-4.2-0.1-4.2-0.1-2 1.7-2 1.7 4.2 0.2 4.2 0.2 2-1.7z"/><path color="#3cf455" d="M529.8 124.7l-4.2-0.2-2 1.7 4.2 0.2z"/><path color="#3ff454" d="M527.8 126.4l-4.2-0.2-2 1.7 4.2 0.2z"/><path color="#39f358" d="M525.6 124.5l-4.2-0.2-2 1.7 4.2 0.2z"/><path color="#3cf456" d="M523.6 126.2l-4.2-0.2-2 1.7 4.2 0.2z"/><path class="m" d="M529.8 124.7l-4.2-0.2-4.2-0.2-2 1.7-2 1.7 4.2 0.2 4.2 0.2 2-1.7z"/><path color="#3bf457" d="M517.4 127.7l-4.2-0.2-2 1.7 4.2 0.2z"/><path color="#3df455" d="M515.4 129.5l-4.2-0.2-2 1.7 4.2 0.2z"/><path color="#38f359" d="M513.2 127.5l-4.2-0.2-2 1.7 4.2 0.2z"/><path color="#3af357" d="M511.1 129.2l-4.2-0.2-2 1.7 4.2 0.2z"/><path class="m" d="M517.4 127.7l-4.2-0.2-4.2-0.2-2 1.7-2 1.7 4.2 0.2 4.2 0.2 2-1.8z"/><path color="#39f358" d="M504.9 130.8l-4.2-0.2-2.1 1.7 4.2 0.2z"/><path color="#3cf456" d="M502.8 132.5l-4.2-0.2-2.1 1.8 4.3 0.3z"/><path color="#36f25a" d="M500.7 130.6l-4.2-0.2-2.1 1.7 4.2 0.2z"/><path color="#38f359" d="M498.6 132.3l-4.2-0.2-2.1 1.7 4.2 0.3z"/><path class="m" d="M504.9 130.8l-4.2-0.2-4.2-0.2-2.1 1.7-2.1 1.7 4.2 0.3 4.3 0.3 2-1.8z"/><path color="#38f359" d="M492.3 133.8l-4.2-0.2-2.1 1.8 4.3 0.3z"/><path color="#3af358" d="M490.2 135.6l-4.3-0.3-2.1 1.8 4.3 0.3z"/><path color="#35f25c" d="M488.1 133.6l-4.2-0.2-2.1 1.7 4.2 0.3z"/><path color="#37f35a" d="M486 135.3l-4.2-0.3-2.1 1.8 4.3 0.3z"/><path class="m" d="M492.3 133.8l-4.2-0.2-4.2-0.2-2.1 1.7-2.1 1.8 4.3 0.3 4.3 0.3 2.1-1.8z"/><path color="#36f25b" d="M479.6 136.8l-4.3-0.3-2.1 1.8 4.3 0.3z"/><path color="#38f359" d="M477.5 138.6l-4.3-0.3-2.1 1.8 4.3 0.3z"/><path color="#34f25f" d="M475.4 136.5l-4.2-0.3-2.1 1.8 4.3 0.3z"/><path color="#35f25c" d="M473.3 138.3l-4.3-0.3-2.1 1.8 4.3 0.3z"/><path class="m" d="M479.6 136.8l-4.3-0.3-4.2-0.3-2.1 1.8-2.1 1.8 4.3 0.3 4.3 0.3 2.1-1.8z"/><path color="#34f25d" d="M466.9 139.8l-4.3-0.3-2.1 1.8 4.3 0.3z"/><path color="#35f25b" d="M464.8 141.6l-4.3-0.3-2.1 1.8 4.3 0.3z"/><path color="#34f165" d="M462.6 139.5l-4.3-0.3-2.2 1.8 4.3 0.3z"/><path color="#34f260" d="M460.5 141.3l-4.3-0.3-2.2 1.8 4.3 0.3z"/><path class="m" d="M466.9 139.8l-4.3-0.3-4.3-0.3-2.2 1.8-2.2 1.8 4.3 0.3 4.3 0.3 2.1-1.8z"/><path color="#34f163" d="M454.1 142.8l-4.3-0.3-2.2 1.8 4.3 0.4z"/><path color="#34f25e" d="M451.9 144.6l-4.3-0.4-2.2 1.8 4.3 0.4z"/><path color="#33f16a" d="M449.8 142.5l-4.3-0.3-2.2 1.8 4.3 0.3z"/><path color="#33f166" d="M447.6 144.3l-4.3-0.3-2.2 1.8 4.3 0.4z"/><path class="m" d="M454.1 142.8l-4.3-0.3-4.3-0.3-2.2 1.8-2.2 1.8 4.3 0.4 4.3 0.4 2.2-1.9z"/><path color="#33f169" d="M441.2 145.7l-4.3-0.4-2.2 1.8 4.3 0.4z"/><path color="#34f165" d="M439 147.6l-4.3-0.4-2.2 1.9 4.3 0.4z"/><path color="#33f070" d="M436.9 145.4l-4.3-0.4-2.2 1.8 4.3 0.4z"/><path color="#33f06c" d="M434.7 147.2l-4.3-0.4-2.2 1.8 4.3 0.4z"/><path class="m" d="M441.2 145.7l-4.3-0.4-4.3-0.4-2.2 1.8-2.2 1.8 4.3 0.4 4.3 0.4 2.2-1.9z"/><path color="#33ef76" d="M415.1 151.6l-4.3-0.4-2.2 1.9 4.3 0.4z"/><path color="#33f072" d="M412.9 153.5l-4.3-0.4-2.2 1.9 4.3 0.5z"/><path color="#32ef7d" d="M410.8 151.2l-4.3-0.4-2.2 1.9 4.3 0.4z"/><path color="#32ef79" d="M408.6 153l-4.3-0.4-2.2 1.9 4.3 0.5z"/><path class="m" d="M415.1 151.6l-4.3-0.4-4.3-0.4-2.2 1.9-2.2 1.9 4.3 0.5 4.3 0.5 2.2-1.9z"/><path color="#4ef74c" d="M622.4 102.5l-4.1 0-1.7 1.6 4.1-0z"/><path color="#54f84b" d="M620.7 104.2l-4.1 0-1.8 1.6 4.1 0z"/><path color="#47f64e" d="M618.3 102.6l-4.1 0-1.8 1.6 4.1-0z"/><path color="#4df74d" d="M616.5 104.2l-4.1 0-1.8 1.6 4.1 0z"/><path class="m" d="M622.4 102.5l-4.1 0-4.1 0-1.8 1.6-1.8 1.6 4.1 0 4.1 0 1.7-1.7z"/><path color="#4df74d" d="M610.7 105.8l-4.1-0-1.8 1.6 4.1 0z"/><path color="#53f84b" d="M608.9 107.5l-4.1-0-1.8 1.7 4.2 0z"/><path color="#46f64e" d="M606.5 105.8l-4.1 0-1.8 1.6 4.1 0z"/><path color="#4cf74d" d="M604.7 107.4l-4.1-0-1.8 1.6 4.1 0z"/><path class="m" d="M610.7 105.8l-4.1-0-4.1 0-1.8 1.6-1.8 1.6 4.1 0 4.2 0 1.8-1.7z"/><path color="#4bf74d" d="M598.8 109.1l-4.1-0-1.8 1.6 4.2 0z"/><path color="#51f74c" d="M597 110.7l-4.2-0-1.8 1.7 4.2 0.1z"/><path color="#45f64f" d="M594.7 109l-4.1-0-1.8 1.6 4.1 0z"/><path color="#4af74d" d="M592.9 110.7l-4.1-0-1.8 1.7 4.2 0.1z"/><path class="m" d="M598.8 109.1l-4.1-0-4.1-0-1.8 1.6-1.8 1.7 4.2 0.1 4.2 0.1 1.8-1.7z"/><path color="#4af64d" d="M586.9 112.3l-4.2-0.1-1.8 1.7 4.2 0.1z"/><path color="#4ff74c" d="M585 114l-4.2-0.1-1.9 1.7 4.2 0.1z"/><path color="#44f64f" d="M582.7 112.2l-4.2-0.1-1.9 1.6 4.2 0.1z"/><path color="#49f64d" d="M580.9 113.9l-4.2-0.1-1.9 1.7 4.2 0.1z"/><path class="m" d="M586.9 112.3l-4.2-0.1-4.2-0.1-1.9 1.6-1.9 1.7 4.2 0.1 4.2 0.1 1.8-1.7z"/><path color="#47f64e" d="M574.8 115.5l-4.2-0.1-1.9 1.7 4.2 0.1z"/><path color="#4df74d" d="M573 117.2l-4.2-0.1-1.9 1.7 4.2 0.1z"/><path color="#43f550" d="M570.7 115.4l-4.2-0.1-1.9 1.7 4.2 0.1z"/><path color="#46f64e" d="M568.8 117.1l-4.2-0.1-1.9 1.7 4.2 0.1z"/><path class="m" d="M574.8 115.5l-4.2-0.1-4.2-0.1-1.9 1.7-1.9 1.7 4.2 0.1 4.2 0.1 1.9-1.7z"/><path color="#46f64e" d="M562.7 118.7l-4.2-0.1-1.9 1.7 4.2 0.1z"/><path color="#4af74d" d="M560.8 120.4l-4.2-0.1-1.9 1.7 4.2 0.1z"/><path color="#42f551" d="M558.5 118.6l-4.2-0.1-1.9 1.7 4.2 0.1z"/><path color="#45f64f" d="M556.6 120.3l-4.2-0.1-1.9 1.7 4.2 0.1z"/><path class="m" d="M562.7 118.7l-4.2-0.1-4.2-0.1-1.9 1.7-1.9 1.7 4.2 0.1 4.2 0.1 1.9-1.7z"/><path color="#44f64f" d="M550.5 121.8l-4.2-0.1-1.9 1.7 4.2 0.2z"/><path color="#47f64e" d="M548.6 123.6l-4.2-0.2-1.9 1.7 4.2 0.2z"/><path color="#41f552" d="M546.3 121.7l-4.2-0.1-2 1.7 4.2 0.2z"/><path color="#44f550" d="M544.4 123.4l-4.2-0.2-2 1.7 4.2 0.2z"/><path class="m" d="M550.5 121.8l-4.2-0.1-4.2-0.1-2 1.7-2 1.7 4.2 0.2 4.2 0.2 1.9-1.8z"/><path color="#43f550" d="M538.2 125l-4.2-0.2-2 1.7 4.2 0.2z"/><path color="#45f64f" d="M536.3 126.7l-4.2-0.2-2 1.8 4.2 0.2z"/><path color="#40f553" d="M534 124.8l-4.2-0.2-2 1.7 4.2 0.2z"/><path color="#42f551" d="M532 126.6l-4.2-0.2-2 1.7 4.2 0.2z"/><path class="m" d="M538.2 125l-4.2-0.2-4.2-0.2-2 1.7-2 1.7 4.2 0.2 4.2 0.2 2-1.8z"/><path color="#41f552" d="M525.8 128.1l-4.2-0.2-2 1.8 4.2 0.2z"/><path color="#43f550" d="M523.8 129.9l-4.2-0.2-2 1.8 4.2 0.2z"/><path color="#3ef454" d="M521.6 127.9l-4.2-0.2-2 1.7 4.2 0.2z"/><path color="#40f552" d="M519.6 129.7l-4.2-0.2-2 1.8 4.2 0.2z"/><path class="m" d="M525.8 128.1l-4.2-0.2-4.2-0.2-2 1.7-2 1.8 4.2 0.2 4.2 0.2 2-1.8z"/><path color="#3ff553" d="M513.4 131.2l-4.2-0.2-2 1.8 4.2 0.2z"/><path color="#42f551" d="M511.3 133l-4.2-0.2-2 1.8 4.3 0.3z"/><path color="#3cf455" d="M509.1 131l-4.2-0.2-2 1.8 4.2 0.2z"/><path color="#3ff454" d="M507.1 132.8l-4.2-0.2-2 1.8 4.3 0.3z"/><path class="m" d="M513.4 131.2l-4.2-0.2-4.2-0.2-2 1.8-2 1.8 4.3 0.3 4.3 0.3 2-1.8z"/><path color="#3ef455" d="M500.8 134.3l-4.3-0.3-2.1 1.8 4.3 0.3z"/><path color="#40f553" d="M498.8 136.1l-4.3-0.3-2.1 1.8 4.3 0.3z"/><path color="#3bf357" d="M496.6 134.1l-4.2-0.3-2.1 1.8 4.3 0.3z"/><path color="#3df455" d="M494.5 135.8l-4.3-0.3-2.1 1.8 4.3 0.3z"/><path class="m" d="M500.8 134.3l-4.3-0.3-4.2-0.3-2.1 1.8-2.1 1.8 4.3 0.3 4.3 0.3 2-1.8z"/><path color="#3cf456" d="M488.2 137.4l-4.3-0.3-2.1 1.8 4.3 0.3z"/><path color="#3df455" d="M486.1 139.2l-4.3-0.3-2.1 1.8 4.3 0.3z"/><path color="#39f358" d="M483.9 137.1l-4.3-0.3-2.1 1.8 4.3 0.3z"/><path color="#3af357" d="M481.8 138.9l-4.3-0.3-2.1 1.8 4.3 0.3z"/><path class="m" d="M488.2 137.4l-4.3-0.3-4.3-0.3-2.1 1.8-2.1 1.8 4.3 0.3 4.3 0.3 2.1-1.9z"/><path color="#39f358" d="M475.4 140.4l-4.3-0.3-2.1 1.8 4.3 0.3z"/><path color="#3bf456" d="M473.3 142.3l-4.3-0.3-2.1 1.9 4.3 0.4z"/><path color="#36f35a" d="M471.2 140.1l-4.3-0.3-2.1 1.8 4.3 0.3z"/><path color="#38f359" d="M469.1 141.9l-4.3-0.3-2.1 1.8 4.3 0.3z"/><path class="m" d="M475.4 140.4l-4.3-0.3-4.3-0.3-2.1 1.8-2.1 1.8 4.3 0.3 4.3 0.4 2.1-1.9z"/><path color="#37f35a" d="M462.7 143.5l-4.3-0.3-2.1 1.9 4.3 0.4z"/><path color="#39f358" d="M460.5 145.3l-4.3-0.4-2.1 1.9 4.3 0.4z"/><path color="#34f25c" d="M458.4 143.1l-4.3-0.3-2.2 1.8 4.3 0.4z"/><path color="#36f25b" d="M456.2 145l-4.3-0.4-2.2 1.9 4.3 0.4z"/><path class="m" d="M462.7 143.5l-4.3-0.3-4.3-0.3-2.2 1.8-2.2 1.9 4.3 0.4 4.3 0.4 2.1-1.9z"/><path color="#35f25b" d="M449.8 146.5l-4.3-0.4-2.2 1.9 4.3 0.4z"/><path color="#36f25a" d="M447.6 148.4l-4.3-0.4-2.2 1.9 4.3 0.4z"/><path color="#34f161" d="M445.5 146.1l-4.3-0.4-2.2 1.9 4.3 0.4z"/><path color="#34f25e" d="M443.3 148l-4.3-0.4-2.2 1.9 4.3 0.4z"/><path class="m" d="M449.8 146.5l-4.3-0.4-4.3-0.4-2.2 1.9-2.2 1.9 4.3 0.4 4.3 0.4 2.2-1.9z"/><path color="#34f161" d="M436.8 149.5l-4.3-0.4-2.2 1.9 4.3 0.4z"/><path color="#34f25d" d="M434.6 151.4l-4.3-0.4-2.2 1.9 4.3 0.4z"/><path color="#33f168" d="M432.5 149.1l-4.3-0.4-2.2 1.9 4.3 0.4z"/><path color="#34f164" d="M430.3 151l-4.3-0.4-2.2 1.9 4.3 0.4z"/><path class="m" d="M436.8 149.5l-4.3-0.4-4.3-0.4-2.2 1.9-2.2 1.9 4.3 0.4 4.3 0.4 2.2-1.9z"/><path color="#33f168" d="M423.8 152.5l-4.3-0.4-2.2 1.9 4.3 0.4z"/><path color="#34f165" d="M421.6 154.4l-4.3-0.4-2.2 1.9 4.4 0.5z"/><path color="#33f06f" d="M419.5 152l-4.3-0.4-2.2 1.9 4.3 0.4z"/><path color="#33f06b" d="M417.3 153.9l-4.3-0.4-2.2 1.9 4.3 0.5z"/><path class="m" d="M423.8 152.5l-4.3-0.4-4.3-0.4-2.2 1.9-2.2 1.9 4.3 0.5 4.4 0.5 2.2-2z"/><path color="#33f06f" d="M410.7 155.4l-4.3-0.5-2.2 1.9 4.4 0.5z"/><path color="#33f06c" d="M408.5 157.4l-4.4-0.5-2.2 2 4.4 0.5z"/><path color="#33ef76" d="M406.4 154.9l-4.3-0.5-2.2 1.9 4.3 0.5z"/><path color="#33f073" d="M404.1 156.9l-4.3-0.5-2.2 1.9 4.4 0.5z"/><path class="m" d="M410.7 155.4l-4.3-0.5-4.3-0.5-2.2 1.9-2.2 1.9 4.4 0.5 4.4 0.5 2.2-2z"/><path color="#5cf94a" d="M630.7 102.5l-4.1 0-1.7 1.6 4.1-0z"/><path color="#62fa48" d="M628.9 104.2l-4.1 0-1.7 1.7 4.2 0z"/><path color="#55f84b" d="M626.5 102.5l-4.1 0-1.7 1.6 4.1-0z"/><path color="#5bf94a" d="M624.8 104.2l-4.1 0-1.7 1.7 4.1 0z"/><path class="m" d="M630.7 102.5l-4.1 0-4.1 0-1.7 1.6-1.7 1.7 4.1 0 4.2 0 1.7-1.7z"/><path color="#5af94a" d="M618.9 105.8l-4.1-0-1.8 1.7 4.2 0z"/><path color="#60fa49" d="M617.2 107.5l-4.2-0-1.8 1.7 4.2 0z"/><path color="#54f84b" d="M614.8 105.8l-4.1-0-1.8 1.6 4.1 0z"/><path color="#5af94a" d="M613 107.5l-4.1-0-1.8 1.7 4.2 0z"/><path class="m" d="M618.9 105.8l-4.1-0-4.1-0-1.8 1.6-1.8 1.7 4.2 0 4.2 0 1.7-1.7z"/><path color="#59f94a" d="M607.1 109.1l-4.2-0-1.8 1.7 4.2 0.1z"/><path color="#5ef949" d="M605.3 110.8l-4.2-0.1-1.8 1.7 4.2 0.1z"/><path color="#52f84c" d="M603 109.1l-4.1-0-1.8 1.7 4.2 0.1z"/><path color="#58f84a" d="M601.2 110.8l-4.2-0.1-1.8 1.7 4.2 0.1z"/><path class="m" d="M607.1 109.1l-4.2-0-4.1-0-1.8 1.7-1.8 1.7 4.2 0.1 4.2 0.1 1.8-1.7z"/><path color="#57f84b" d="M595.2 112.4l-4.2-0.1-1.8 1.7 4.2 0.1z"/><path color="#5cf94a" d="M593.4 114.1l-4.2-0.1-1.8 1.7 4.2 0.1z"/><path color="#50f74c" d="M591 112.3l-4.2-0.1-1.8 1.7 4.2 0.1z"/><path color="#56f84b" d="M589.2 114l-4.2-0.1-1.8 1.7 4.2 0.1z"/><path class="m" d="M595.2 112.4l-4.2-0.1-4.2-0.1-1.8 1.7-1.8 1.7 4.2 0.1 4.2 0.1 1.8-1.7z"/><path color="#55f84b" d="M583.2 115.7l-4.2-0.1-1.9 1.7 4.2 0.1z"/><path color="#5af94a" d="M581.4 117.4l-4.2-0.1-1.9 1.7 4.2 0.1z"/><path color="#4ef74c" d="M579 115.6l-4.2-0.1-1.9 1.7 4.2 0.1z"/><path color="#53f84b" d="M577.2 117.3l-4.2-0.1-1.9 1.7 4.2 0.1z"/><path class="m" d="M583.2 115.7l-4.2-0.1-4.2-0.1-1.9 1.7-1.9 1.7 4.2 0.1 4.2 0.1 1.8-1.8z"/><path color="#52f84c" d="M571.1 118.9l-4.2-0.1-1.9 1.7 4.2 0.1z"/><path color="#57f84b" d="M569.2 120.7l-4.2-0.1-1.9 1.8 4.2 0.2z"/><path color="#4cf74d" d="M566.9 118.8l-4.2-0.1-1.9 1.7 4.2 0.1z"/><path color="#51f74c" d="M565 120.5l-4.2-0.1-1.9 1.7 4.2 0.2z"/><path class="m" d="M571.1 118.9l-4.2-0.1-4.2-0.1-1.9 1.7-1.9 1.7 4.2 0.2 4.2 0.2 1.9-1.8z"/><path color="#4ff74c" d="M558.9 122.1l-4.2-0.1-1.9 1.8 4.2 0.2z"/><path color="#54f84b" d="M557 123.9l-4.2-0.2-1.9 1.8 4.2 0.2z"/><path color="#49f64d" d="M554.7 122l-4.2-0.1-1.9 1.7 4.2 0.2z"/><path color="#4ef74c" d="M552.8 123.7l-4.2-0.2-1.9 1.8 4.2 0.2z"/><path class="m" d="M558.9 122.1l-4.2-0.1-4.2-0.1-1.9 1.7-1.9 1.8 4.2 0.2 4.2 0.2 1.9-1.8z"/><path color="#4cf74d" d="M546.7 125.3l-4.2-0.2-1.9 1.8 4.2 0.2z"/><path color="#51f74c" d="M544.7 127.1l-4.2-0.2-1.9 1.8 4.2 0.2z"/><path color="#46f64e" d="M542.4 125.2l-4.2-0.2-2 1.8 4.2 0.2z"/><path color="#4af74d" d="M540.5 126.9l-4.2-0.2-2 1.8 4.2 0.2z"/><path class="m" d="M546.7 125.3l-4.2-0.2-4.2-0.2-2 1.8-2 1.8 4.2 0.2 4.2 0.2 1.9-1.8z"/><path color="#45f64e" d="M521.8 131.7l-4.2-0.2-2 1.8 4.3 0.3z"/><path color="#49f64d" d="M519.9 133.5l-4.3-0.3-2 1.8 4.3 0.3z"/><path color="#42f551" d="M517.6 131.5l-4.2-0.2-2 1.8 4.3 0.2z"/><path color="#45f64f" d="M515.6 133.3l-4.3-0.2-2 1.8 4.3 0.3z"/><path class="m" d="M521.8 131.7l-4.2-0.2-4.2-0.2-2 1.8-2 1.8 4.3 0.3 4.3 0.3 2-1.9z"/><path color="#41f552" d="M496.7 138l-4.3-0.3-2.1 1.8 4.3 0.3z"/><path color="#43f550" d="M494.7 139.8l-4.3-0.3-2.1 1.9 4.3 0.3z"/><path color="#3ef454" d="M492.4 137.7l-4.3-0.3-2.1 1.8 4.3 0.3z"/><path color="#40f552" d="M490.4 139.5l-4.3-0.3-2.1 1.9 4.3 0.3z"/><path class="m" d="M496.7 138l-4.3-0.3-4.3-0.3-2.1 1.8-2.1 1.9 4.3 0.3 4.3 0.3 2-1.9z"/><path color="#3ff453" d="M484 141.1l-4.3-0.3-2.1 1.9 4.3 0.3z"/><path color="#41f552" d="M481.9 143l-4.3-0.3-2.1 1.9 4.3 0.4z"/><path color="#3cf456" d="M479.7 140.7l-4.3-0.3-2.1 1.9 4.3 0.3z"/><path color="#3ef454" d="M477.6 142.6l-4.3-0.3-2.1 1.9 4.3 0.4z"/><path class="m" d="M484 141.1l-4.3-0.3-4.3-0.3-2.1 1.9-2.1 1.9 4.3 0.4 4.3 0.4 2.1-1.9z"/><path color="#3df455" d="M471.2 144.2l-4.3-0.4-2.1 1.9 4.3 0.4z"/><path color="#3ef454" d="M469.1 146.1l-4.3-0.4-2.1 1.9 4.3 0.4z"/><path color="#3af357" d="M466.9 143.8l-4.3-0.3-2.1 1.9 4.3 0.4z"/><path color="#3bf456" d="M464.8 145.7l-4.3-0.4-2.1 1.9 4.3 0.4z"/><path class="m" d="M471.2 144.2l-4.3-0.4-4.3-0.3-2.1 1.9-2.1 1.9 4.3 0.4 4.3 0.4 2.1-1.9z"/><path color="#3af357" d="M458.4 147.2l-4.3-0.4-2.1 1.9 4.3 0.4z"/><path color="#3cf456" d="M456.3 149.2l-4.3-0.4-2.1 1.9 4.3 0.4z"/><path color="#37f359" d="M454.1 146.9l-4.3-0.4-2.2 1.9 4.3 0.4z"/><path color="#39f358" d="M451.9 148.8l-4.3-0.4-2.2 1.9 4.3 0.4z"/><path class="m" d="M458.4 147.2l-4.3-0.4-4.3-0.4-2.2 1.9-2.2 1.9 4.3 0.4 4.3 0.4 2.1-2z"/><path color="#38f359" d="M445.5 150.3l-4.3-0.4-2.2 1.9 4.3 0.4z"/><path color="#39f358" d="M443.3 152.2l-4.3-0.4-2.2 2 4.4 0.4z"/><path color="#35f25b" d="M441.1 149.9l-4.3-0.4-2.2 1.9 4.3 0.4z"/><path color="#36f25a" d="M439 151.8l-4.3-0.4-2.2 1.9 4.3 0.4z"/><path class="m" d="M445.5 150.3l-4.3-0.4-4.3-0.4-2.2 1.9-2.2 1.9 4.3 0.4 4.4 0.4 2.1-2z"/><path color="#35f25b" d="M432.5 153.3l-4.3-0.4-2.2 2 4.4 0.5z"/><path color="#36f25b" d="M430.3 155.3l-4.4-0.5-2.2 2 4.4 0.5z"/><path color="#34f161" d="M428.1 152.9l-4.3-0.4-2.2 1.9 4.3 0.5z"/><path color="#34f25e" d="M425.9 154.8l-4.3-0.5-2.2 2 4.4 0.5z"/><path class="m" d="M432.5 153.3l-4.3-0.4-4.3-0.4-2.2 1.9-2.2 2 4.4 0.5 4.4 0.5 2.2-2z"/><path color="#34f162" d="M419.4 156.3l-4.4-0.5-2.2 2 4.4 0.5z"/><path color="#34f25f" d="M417.2 158.3l-4.4-0.5-2.2 2 4.4 0.5z"/><path color="#33f168" d="M415 155.9l-4.3-0.5-2.2 2 4.4 0.5z"/><path color="#33f166" d="M412.8 157.8l-4.4-0.5-2.2 2 4.4 0.5z"/><path class="m" d="M419.4 156.3l-4.4-0.5-4.3-0.5-2.2 2-2.2 2 4.4 0.5 4.4 0.5 2.2-2z"/><path color="#33f16a" d="M406.3 159.3l-4.4-0.5-2.2 2 4.4 0.5z"/><path color="#33f167" d="M404 161.4l-4.4-0.5-2.2 2 4.4 0.5z"/><path color="#33f070" d="M401.9 158.8l-4.4-0.5-2.2 2 4.4 0.5z"/><path color="#33f06e" d="M399.7 160.8l-4.4-0.5-2.2 2 4.4 0.5z"/><path class="m" d="M406.3 159.3l-4.4-0.5-4.4-0.5-2.2 2-2.2 2 4.4 0.5 4.4 0.5 2.2-2z"/><path color="#49f64d" d="M534.3 128.5l-4.2-0.2-2 1.8 4.2 0.2z"/><path color="#4df74d" d="M532.3 130.3l-4.2-0.2-2 1.8 4.3 0.2z"/><path color="#44f64f" d="M530.1 128.3l-4.2-0.2-2 1.8 4.2 0.2z"/><path color="#47f64e" d="M528.1 130.1l-4.2-0.2-2 1.8 4.3 0.2z"/><path class="m" d="M534.3 128.5l-4.2-0.2-4.2-0.2-2 1.8-2 1.8 4.3 0.2 4.3 0.2 2-1.8z"/><path color="#44f550" d="M509.3 134.8l-4.3-0.3-2 1.8 4.3 0.3z"/><path color="#45f64e" d="M507.3 136.7l-4.3-0.3-2 1.9 4.3 0.3z"/><path color="#41f552" d="M505.1 134.6l-4.3-0.3-2 1.8 4.3 0.3z"/><path color="#42f551" d="M503 136.4l-4.3-0.3-2 1.8 4.3 0.3z"/><path class="m" d="M509.3 134.8l-4.3-0.3-4.3-0.3-2 1.8-2 1.8 4.3 0.3 4.3 0.3 2-1.9z"/><path color="#6bfa46" d="M638.9 102.5l-4.1 0-1.7 1.7 4.1 0z"/><path color="#72fa45" d="M637.2 104.2l-4.1-0-1.7 1.7 4.2 0z"/><path color="#63fa48" d="M634.8 102.5l-4.1 0-1.7 1.7 4.1 0z"/><path color="#6afa47" d="M633.1 104.2l-4.1-0-1.7 1.7 4.2 0z"/><path class="m" d="M638.9 102.5l-4.1 0-4.1 0-1.7 1.7-1.7 1.7 4.2 0 4.2 0 1.7-1.7z"/><path color="#69fa47" d="M627.2 105.9l-4.2-0-1.7 1.7 4.2 0z"/><path color="#70fa45" d="M625.5 107.6l-4.2-0-1.7 1.7 4.2 0.1z"/><path color="#61fa49" d="M623.1 105.8l-4.1-0-1.7 1.7 4.2 0z"/><path color="#68fa47" d="M621.3 107.5l-4.2-0-1.7 1.7 4.2 0z"/><path class="m" d="M627.2 105.9l-4.2-0-4.1-0-1.7 1.7-1.7 1.7 4.2 0 4.2 0.1 1.7-1.7z"/><path color="#67fa47" d="M615.4 109.2l-4.2-0-1.8 1.7 4.2 0.1z"/><path color="#6dfa46" d="M613.7 110.9l-4.2-0.1-1.8 1.7 4.2 0.1z"/><path color="#5ff949" d="M611.3 109.2l-4.2-0-1.8 1.7 4.2 0.1z"/><path color="#65fa48" d="M609.5 110.9l-4.2-0.1-1.8 1.7 4.2 0.1z"/><path class="m" d="M615.4 109.2l-4.2-0-4.2-0-1.8 1.7-1.8 1.7 4.2 0.1 4.2 0.1 1.8-1.8z"/><path color="#64fa48" d="M603.6 112.5l-4.2-0.1-1.8 1.7 4.2 0.1z"/><path color="#6afa47" d="M601.8 114.3l-4.2-0.1-1.8 1.8 4.2 0.1z"/><path color="#5df949" d="M599.4 112.5l-4.2-0.1-1.8 1.7 4.2 0.1z"/><path color="#63fa48" d="M597.6 114.2l-4.2-0.1-1.8 1.7 4.2 0.1z"/><path class="m" d="M603.6 112.5l-4.2-0.1-4.2-0.1-1.8 1.7-1.8 1.7 4.2 0.1 4.2 0.1 1.8-1.8z"/><path color="#61fa49" d="M591.6 115.9l-4.2-0.1-1.8 1.8 4.2 0.1z"/><path color="#67fa47" d="M589.8 117.6l-4.2-0.1-1.8 1.8 4.2 0.1z"/><path color="#5bf94a" d="M587.4 115.8l-4.2-0.1-1.8 1.7 4.2 0.1z"/><path color="#60f949" d="M585.6 117.5l-4.2-0.1-1.8 1.8 4.2 0.1z"/><path class="m" d="M591.6 115.9l-4.2-0.1-4.2-0.1-1.8 1.7-1.8 1.8 4.2 0.1 4.2 0.1 1.8-1.8z"/><path color="#5ff949" d="M579.5 119.2l-4.2-0.1-1.9 1.8 4.2 0.1z"/><path color="#63fa48" d="M577.7 121l-4.2-0.1-1.9 1.8 4.2 0.2z"/><path color="#58f84a" d="M575.3 119l-4.2-0.1-1.9 1.8 4.2 0.1z"/><path color="#5df949" d="M573.4 120.8l-4.2-0.1-1.9 1.8 4.2 0.2z"/><path class="m" d="M579.5 119.2l-4.2-0.1-4.2-0.1-1.9 1.8-1.9 1.8 4.2 0.2 4.2 0.2 1.9-1.8z"/><path color="#5cf94a" d="M567.4 122.4l-4.2-0.2-1.9 1.8 4.2 0.2z"/><path color="#60f949" d="M565.5 124.2l-4.2-0.2-1.9 1.8 4.2 0.2z"/><path color="#55f84b" d="M563.1 122.3l-4.2-0.2-1.9 1.8 4.2 0.2z"/><path color="#5af94a" d="M561.2 124.1l-4.2-0.2-1.9 1.8 4.2 0.2z"/><path class="m" d="M567.4 122.4l-4.2-0.2-4.2-0.2-1.9 1.8-1.9 1.8 4.2 0.2 4.2 0.2 1.9-1.8z"/><path color="#58f84a" d="M555.1 125.7l-4.2-0.2-1.9 1.8 4.2 0.2z"/><path color="#5df949" d="M553.2 127.5l-4.2-0.2-1.9 1.8 4.3 0.2z"/><path color="#52f84c" d="M550.9 125.5l-4.2-0.2-1.9 1.8 4.2 0.2z"/><path color="#57f84b" d="M549 127.3l-4.2-0.2-1.9 1.8 4.3 0.2z"/><path class="m" d="M555.1 125.7l-4.2-0.2-4.2-0.2-1.9 1.8-1.9 1.8 4.3 0.2 4.3 0.2 1.9-1.9z"/><path color="#55f84b" d="M542.8 128.9l-4.2-0.2-2 1.8 4.3 0.2z"/><path color="#59f94a" d="M540.8 130.8l-4.3-0.2-2 1.9 4.3 0.3z"/><path color="#4ff74c" d="M538.5 128.7l-4.2-0.2-2 1.8 4.3 0.2z"/><path color="#53f84b" d="M536.6 130.6l-4.3-0.2-2 1.8 4.3 0.2z"/><path class="m" d="M542.8 128.9l-4.2-0.2-4.2-0.2-2 1.8-2 1.8 4.3 0.2 4.3 0.3 1.9-1.9z"/><path color="#51f74c" d="M530.4 132.2l-4.3-0.2-2 1.8 4.3 0.3z"/><path color="#55f84b" d="M528.4 134l-4.3-0.3-2 1.9 4.3 0.3z"/><path color="#4bf74d" d="M526.1 131.9l-4.3-0.2-2 1.8 4.3 0.3z"/><path color="#4ff74c" d="M524.1 133.8l-4.3-0.3-2 1.9 4.3 0.3z"/><path class="m" d="M530.4 132.2l-4.3-0.2-4.3-0.2-2 1.8-2 1.9 4.3 0.3 4.3 0.3 2-1.9z"/><path color="#4df74d" d="M517.9 135.4l-4.3-0.3-2 1.9 4.3 0.3z"/><path color="#50f74c" d="M515.9 137.3l-4.3-0.3-2 1.9 4.3 0.3z"/><path color="#47f64e" d="M513.6 135.1l-4.3-0.3-2 1.8 4.3 0.3z"/><path color="#4bf74d" d="M511.6 137l-4.3-0.3-2 1.9 4.3 0.3z"/><path class="m" d="M517.9 135.4l-4.3-0.3-4.3-0.3-2 1.8-2 1.9 4.3 0.3 4.3 0.3 2-1.9z"/><path color="#48f64e" d="M505.3 138.6l-4.3-0.3-2 1.9 4.3 0.3z"/><path color="#4cf74d" d="M503.3 140.5l-4.3-0.3-2 1.9 4.3 0.3z"/><path color="#44f64f" d="M501 138.3l-4.3-0.3-2 1.9 4.3 0.3z"/><path color="#46f64e" d="M499 140.1l-4.3-0.3-2 1.9 4.3 0.3z"/><path class="m" d="M505.3 138.6l-4.3-0.3-4.3-0.3-2 1.9-2 1.9 4.3 0.3 4.3 0.3 2-1.9z"/><path color="#45f64f" d="M492.6 141.7l-4.3-0.3-2.1 1.9 4.3 0.3z"/><path color="#47f64e" d="M490.6 143.6l-4.3-0.3-2.1 1.9 4.3 0.4z"/><path color="#42f551" d="M488.3 141.4l-4.3-0.3-2.1 1.9 4.3 0.3z"/><path color="#44f550" d="M486.3 143.3l-4.3-0.3-2.1 1.9 4.3 0.4z"/><path class="m" d="M492.6 141.7l-4.3-0.3-4.3-0.3-2.1 1.9-2.1 1.9 4.3 0.4 4.3 0.4 2.1-2z"/><path color="#42f551" d="M479.9 144.9l-4.3-0.4-2.1 1.9 4.3 0.4z"/><path color="#44f650" d="M477.8 146.8l-4.3-0.4-2.1 2 4.3 0.4z"/><path color="#40f553" d="M475.6 144.5l-4.3-0.4-2.1 1.9 4.3 0.4z"/><path color="#41f552" d="M473.5 146.4l-4.3-0.4-2.1 1.9 4.3 0.4z"/><path class="m" d="M479.9 144.9l-4.3-0.4-4.3-0.4-2.1 1.9-2.1 1.9 4.3 0.4 4.3 0.4 2.1-2z"/><path color="#40f553" d="M467 148l-4.3-0.4-2.1 1.9 4.3 0.4z"/><path color="#41f552" d="M464.9 150l-4.3-0.4-2.1 2 4.4 0.4z"/><path color="#3df455" d="M462.7 147.6l-4.3-0.4-2.1 1.9 4.3 0.4z"/><path color="#3ef454" d="M460.6 149.6l-4.3-0.4-2.1 2 4.3 0.4z"/><path class="m" d="M467 148l-4.3-0.4-4.3-0.4-2.1 1.9-2.1 2 4.3 0.4 4.4 0.4 2.1-2z"/><path color="#3df455" d="M454.1 151.1l-4.3-0.4-2.1 2 4.4 0.4z"/><path color="#3ef454" d="M452 153.1l-4.4-0.4-2.1 2 4.4 0.5z"/><path color="#3af357" d="M449.8 150.7l-4.3-0.4-2.2 1.9 4.3 0.4z"/><path color="#3bf456" d="M447.7 152.7l-4.3-0.4-2.1 2 4.4 0.5z"/><path class="m" d="M454.1 151.1l-4.3-0.4-4.3-0.4-2.2 1.9-2.1 2 4.4 0.5 4.4 0.5 2.1-2z"/><path color="#3af357" d="M441.2 154.2l-4.4-0.4-2.2 2 4.4 0.5z"/><path color="#3bf456" d="M439 156.2l-4.4-0.5-2.2 2 4.4 0.5z"/><path color="#37f359" d="M436.8 153.8l-4.3-0.4-2.2 2 4.4 0.5z"/><path color="#38f359" d="M434.7 155.8l-4.4-0.5-2.2 2 4.4 0.5z"/><path class="m" d="M441.2 154.2l-4.4-0.4-4.3-0.4-2.2 2-2.2 2 4.4 0.5 4.4 0.5 2.1-2z"/><path color="#37f35a" d="M428.1 157.3l-4.4-0.5-2.2 2 4.4 0.5z"/><path color="#38f359" d="M426 159.3l-4.4-0.5-2.2 2 4.4 0.5z"/><path color="#34f25c" d="M423.8 156.8l-4.4-0.5-2.2 2 4.4 0.5z"/><path color="#35f25b" d="M421.6 158.8l-4.4-0.5-2.2 2 4.4 0.5z"/><path class="m" d="M428.1 157.3l-4.4-0.5-4.4-0.5-2.2 2-2.2 2 4.4 0.5 4.4 0.5 2.2-2.1z"/><path color="#34f25d" d="M415 160.4l-4.4-0.5-2.2 2 4.4 0.5z"/><path color="#35f25c" d="M412.8 162.4l-4.4-0.5-2.2 2.1 4.4 0.5z"/><path color="#34f163" d="M410.6 159.8l-4.4-0.5-2.2 2 4.4 0.5z"/><path color="#34f161" d="M408.4 161.9l-4.4-0.5-2.2 2 4.4 0.5z"/><path class="m" d="M415 160.4l-4.4-0.5-4.4-0.5-2.2 2-2.2 2 4.4 0.5 4.4 0.5 2.2-2.1z"/><path color="#34f165" d="M401.8 163.4l-4.4-0.5-2.2 2.1 4.4 0.6z"/><path color="#34f163" d="M399.6 165.5l-4.4-0.6-2.2 2.1 4.4 0.6z"/><path color="#33f06b" d="M397.4 162.9l-4.4-0.5-2.2 2 4.4 0.6z"/><path color="#33f169" d="M395.2 164.9l-4.4-0.6-2.2 2.1 4.4 0.6z"/><path class="m" d="M401.8 163.4l-4.4-0.5-4.4-0.5-2.2 2-2.2 2.1 4.4 0.6 4.4 0.6 2.2-2.1z"/><path color="#7afa43" d="M635.5 105.9l-4.2-0-1.7 1.7 4.2 0z"/><path color="#81fa41" d="M633.9 107.7l-4.2-0-1.7 1.8 4.2 0.1z"/><path color="#71fa45" d="M631.4 105.9l-4.2-0-1.7 1.7 4.2 0z"/><path color="#78fa43" d="M629.7 107.6l-4.2-0-1.7 1.7 4.2 0.1z"/><path class="m" d="M635.5 105.9l-4.2-0-4.2-0-1.7 1.7-1.7 1.7 4.2 0.1 4.2 0.1 1.7-1.8z"/><path color="#69fa47" d="M575.8 122.8l-4.2-0.2-1.9 1.8 4.2 0.2z"/><path color="#6efa46" d="M574 124.6l-4.2-0.2-1.9 1.9 4.3 0.2z"/><path color="#62fa48" d="M571.6 122.6l-4.2-0.2-1.9 1.8 4.2 0.2z"/><path color="#67fa47" d="M569.7 124.4l-4.2-0.2-1.9 1.8 4.2 0.2z"/><path class="m" d="M575.8 122.8l-4.2-0.2-4.2-0.2-1.9 1.8-1.9 1.8 4.2 0.2 4.3 0.2 1.9-1.9z"/><path color="#45f64f" d="M475.7 148.8l-4.3-0.4-2.1 2 4.4 0.4z"/><path color="#47f64e" d="M473.6 150.8l-4.4-0.4-2.1 2 4.4 0.4z"/><path color="#42f551" d="M471.4 148.4l-4.3-0.4-2.1 2 4.3 0.4z"/><path color="#44f550" d="M469.3 150.4l-4.3-0.4-2.1 2 4.4 0.4z"/><path class="m" d="M475.7 148.8l-4.3-0.4-4.3-0.4-2.1 2-2.1 2 4.4 0.4 4.4 0.4 2.1-2z"/><path color="#35f25b" d="M410.6 164.5l-4.4-0.5-2.2 2.1 4.4 0.6z"/><path color="#36f25a" d="M408.4 166.6l-4.4-0.6-2.2 2.1 4.4 0.6z"/><path color="#34f25f" d="M406.2 163.9l-4.4-0.5-2.2 2.1 4.4 0.6z"/><path color="#34f25d" d="M404 166l-4.4-0.6-2.2 2.1 4.4 0.6z"/><path class="m" d="M410.6 164.5l-4.4-0.5-4.4-0.5-2.2 2.1-2.2 2.1 4.4 0.6 4.4 0.6 2.2-2.1z"/><path color="#77fa44" d="M623.8 109.3l-4.2-0.1-1.7 1.8 4.2 0.1z"/><path color="#7efa42" d="M622.1 111.1l-4.2-0.1-1.7 1.8 4.2 0.1z"/><path color="#6ffa45" d="M619.6 109.3l-4.2-0-1.8 1.7 4.2 0.1z"/><path color="#76fa44" d="M617.9 111l-4.2-0.1-1.8 1.8 4.2 0.1z"/><path class="m" d="M623.8 109.3l-4.2-0.1-4.2-0-1.8 1.7-1.8 1.8 4.2 0.1 4.2 0.1 1.7-1.8z"/><path color="#74fa44" d="M611.9 112.7l-4.2-0.1-1.8 1.8 4.2 0.1z"/><path color="#7afa43" d="M610.2 114.5l-4.2-0.1-1.8 1.8 4.2 0.1z"/><path color="#6cfa46" d="M607.7 112.6l-4.2-0.1-1.8 1.8 4.2 0.1z"/><path color="#72fa45" d="M606 114.4l-4.2-0.1-1.8 1.8 4.2 0.1z"/><path class="m" d="M611.9 112.7l-4.2-0.1-4.2-0.1-1.8 1.8-1.8 1.8 4.2 0.1 4.2 0.1 1.8-1.8z"/><path color="#71fa45" d="M600 116.1l-4.2-0.1-1.8 1.8 4.2 0.1z"/><path color="#77fa44" d="M598.2 117.9l-4.2-0.1-1.8 1.8 4.2 0.1z"/><path color="#69fa47" d="M595.8 116l-4.2-0.1-1.8 1.8 4.2 0.1z"/><path color="#6ffa45" d="M594 117.8l-4.2-0.1-1.8 1.8 4.2 0.1z"/><path class="m" d="M600 116.1l-4.2-0.1-4.2-0.1-1.8 1.8-1.8 1.8 4.2 0.1 4.2 0.1 1.8-1.8z"/><path color="#6dfa46" d="M587.9 119.4l-4.2-0.1-1.8 1.8 4.2 0.2z"/><path color="#73fa45" d="M586.1 121.3l-4.2-0.2-1.8 1.8 4.2 0.2z"/><path color="#65fa48" d="M583.7 119.3l-4.2-0.1-1.8 1.8 4.2 0.2z"/><path color="#6bfa46" d="M581.9 121.1l-4.2-0.2-1.9 1.8 4.2 0.2z"/><path class="m" d="M587.9 119.4l-4.2-0.1-4.2-0.1-1.8 1.8-1.9 1.8 4.2 0.2 4.2 0.2 1.8-1.9z"/><path color="#65fa48" d="M563.6 126.1l-4.2-0.2-1.9 1.8 4.3 0.2z"/><path color="#6afa47" d="M561.7 127.9l-4.3-0.2-1.9 1.9 4.3 0.2z"/><path color="#5ef949" d="M559.4 125.9l-4.2-0.2-1.9 1.8 4.3 0.2z"/><path color="#63fa48" d="M557.5 127.7l-4.3-0.2-1.9 1.9 4.3 0.2z"/><path class="m" d="M563.6 126.1l-4.2-0.2-4.2-0.2-1.9 1.8-1.9 1.9 4.3 0.2 4.3 0.2 1.9-1.9z"/><path color="#61fa49" d="M551.3 129.4l-4.3-0.2-1.9 1.9 4.3 0.2z"/><path color="#65fa48" d="M549.4 131.3l-4.3-0.2-1.9 1.9 4.3 0.3z"/><path color="#5bf94a" d="M547 129.2l-4.3-0.2-1.9 1.8 4.3 0.2z"/><path color="#5ff949" d="M545.1 131l-4.3-0.2-1.9 1.9 4.3 0.3z"/><path class="m" d="M551.3 129.4l-4.3-0.2-4.3-0.2-1.9 1.8-1.9 1.9 4.3 0.3 4.3 0.3 1.9-1.9z"/><path color="#5df949" d="M538.9 132.7l-4.3-0.3-2 1.9 4.3 0.3z"/><path color="#60fa49" d="M537 134.6l-4.3-0.3-2 1.9 4.3 0.3z"/><path color="#57f84b" d="M534.6 132.4l-4.3-0.2-2 1.9 4.3 0.3z"/><path color="#5bf94a" d="M532.7 134.3l-4.3-0.3-2 1.9 4.3 0.3z"/><path class="m" d="M538.9 132.7l-4.3-0.3-4.3-0.2-2 1.9-2 1.9 4.3 0.3 4.3 0.3 1.9-1.9z"/><path color="#58f84a" d="M526.4 135.9l-4.3-0.3-2 1.9 4.3 0.3z"/><path color="#5cf94a" d="M524.5 137.8l-4.3-0.3-2 1.9 4.3 0.3z"/><path color="#53f84b" d="M522.1 135.6l-4.3-0.3-2 1.9 4.3 0.3z"/><path color="#56f84b" d="M520.2 137.6l-4.3-0.3-2 1.9 4.3 0.3z"/><path class="m" d="M526.4 135.9l-4.3-0.3-4.3-0.3-2 1.9-2 1.9 4.3 0.3 4.3 0.3 2-2z"/><path color="#54f84b" d="M513.9 139.2l-4.3-0.3-2 1.9 4.3 0.3z"/><path color="#57f84b" d="M511.9 141.1l-4.3-0.3-2 2 4.3 0.3z"/><path color="#4ef74c" d="M509.6 138.9l-4.3-0.3-2 1.9 4.3 0.3z"/><path color="#51f84c" d="M507.6 140.8l-4.3-0.3-2 1.9 4.3 0.3z"/><path class="m" d="M513.9 139.2l-4.3-0.3-4.3-0.3-2 1.9-2 1.9 4.3 0.3 4.3 0.3 2-2z"/><path color="#4ff74c" d="M501.2 142.4l-4.3-0.3-2 1.9 4.3 0.4z"/><path color="#52f84c" d="M499.2 144.4l-4.3-0.4-2 2 4.3 0.4z"/><path color="#49f64d" d="M496.9 142.1l-4.3-0.3-2 1.9 4.3 0.4z"/><path color="#4cf74d" d="M494.9 144l-4.3-0.4-2.1 2 4.3 0.4z"/><path class="m" d="M501.2 142.4l-4.3-0.3-4.3-0.3-2 1.9-2.1 2 4.3 0.4 4.3 0.4 2-2z"/><path color="#4af64d" d="M488.5 145.6l-4.3-0.4-2.1 2 4.3 0.4z"/><path color="#4cf74d" d="M486.5 147.6l-4.3-0.4-2.1 2 4.3 0.4z"/><path color="#45f64f" d="M484.2 145.2l-4.3-0.4-2.1 1.9 4.3 0.4z"/><path color="#47f64e" d="M482.1 147.2l-4.3-0.4-2.1 2 4.3 0.4z"/><path class="m" d="M488.5 145.6l-4.3-0.4-4.3-0.4-2.1 1.9-2.1 2 4.3 0.4 4.3 0.4 2.1-2z"/><path color="#42f551" d="M462.8 152l-4.4-0.4-2.1 2 4.4 0.4z"/><path color="#43f550" d="M460.7 154l-4.4-0.4-2.1 2 4.4 0.5z"/><path color="#40f553" d="M458.5 151.5l-4.3-0.4-2.1 2 4.4 0.4z"/><path color="#41f552" d="M456.4 153.5l-4.4-0.4-2.1 2 4.4 0.5z"/><path class="m" d="M462.8 152l-4.4-0.4-4.3-0.4-2.1 2-2.1 2 4.4 0.5 4.4 0.5 2.1-2.1z"/><path color="#3ff453" d="M449.9 155.1l-4.4-0.5-2.1 2 4.4 0.5z"/><path color="#40f552" d="M447.8 157.2l-4.4-0.5-2.1 2.1 4.4 0.5z"/><path color="#3df455" d="M445.5 154.7l-4.4-0.5-2.1 2 4.4 0.5z"/><path color="#3ef454" d="M443.4 156.7l-4.4-0.5-2.1 2 4.4 0.5z"/><path class="m" d="M449.9 155.1l-4.4-0.5-4.4-0.5-2.1 2-2.1 2 4.4 0.5 4.4 0.5 2.1-2.1z"/><path color="#3cf456" d="M436.9 158.3l-4.4-0.5-2.2 2 4.4 0.5z"/><path color="#3df455" d="M434.7 160.3l-4.4-0.5-2.2 2.1 4.4 0.5z"/><path color="#3af358" d="M432.5 157.8l-4.4-0.5-2.2 2 4.4 0.5z"/><path color="#3af357" d="M430.3 159.8l-4.4-0.5-2.2 2.1 4.4 0.5z"/><path class="m" d="M436.9 158.3l-4.4-0.5-4.4-0.5-2.2 2-2.2 2.1 4.4 0.5 4.4 0.5 2.1-2.1z"/><path color="#39f358" d="M423.8 161.4l-4.4-0.5-2.2 2.1 4.4 0.5z"/><path color="#3af358" d="M421.6 163.5l-4.4-0.5-2.2 2.1 4.4 0.6z"/><path color="#36f35a" d="M419.4 160.9l-4.4-0.5-2.2 2 4.4 0.5z"/><path color="#37f35a" d="M417.2 162.9l-4.4-0.5-2.2 2.1 4.4 0.6z"/><path class="m" d="M423.8 161.4l-4.4-0.5-4.4-0.5-2.2 2-2.2 2.1 4.4 0.6 4.4 0.6 2.2-2.1z"/><path color="#87fa40" d="M632.2 109.4l-4.2-0.1-1.7 1.8 4.2 0.1z"/><path color="#8ef93e" d="M630.4 111.2l-4.2-0.1-1.7 1.8 4.2 0.1z"/><path color="#7ffa42" d="M628 109.4l-4.2-0.1-1.7 1.8 4.2 0.1z"/><path color="#86fa40" d="M626.2 111.2l-4.2-0.1-1.7 1.8 4.2 0.1z"/><path class="m" d="M632.2 109.4l-4.2-0.1-4.2-0.1-1.7 1.8-1.7 1.8 4.2 0.1 4.2 0.1 1.7-1.8z"/><path color="#80fa41" d="M608.4 116.3l-4.2-0.1-1.8 1.8 4.2 0.1z"/><path color="#86fa40" d="M606.6 118.2l-4.2-0.1-1.8 1.9 4.2 0.2z"/><path color="#79fa43" d="M604.2 116.2l-4.2-0.1-1.8 1.8 4.2 0.1z"/><path color="#7ffa42" d="M602.4 118l-4.2-0.1-1.8 1.8 4.2 0.1z"/><path class="m" d="M608.4 116.3l-4.2-0.1-4.2-0.1-1.8 1.8-1.8 1.8 4.2 0.1 4.2 0.2 1.8-1.9z"/><path color="#78fa43" d="M584.3 123.1l-4.2-0.2-1.8 1.9 4.3 0.2z"/><path color="#7efa42" d="M582.5 125l-4.3-0.2-1.8 1.9 4.3 0.2z"/><path color="#71fa45" d="M580 122.9l-4.2-0.2-1.9 1.8 4.2 0.2z"/><path color="#76fa44" d="M578.2 124.8l-4.2-0.2-1.9 1.9 4.3 0.2z"/><path class="m" d="M584.3 123.1l-4.2-0.2-4.2-0.2-1.9 1.8-1.9 1.9 4.3 0.2 4.3 0.2 1.8-1.9z"/><path color="#74fa44" d="M572.1 126.5l-4.3-0.2-1.9 1.9 4.3 0.2z"/><path color="#79fa43" d="M570.2 128.4l-4.3-0.2-1.9 1.9 4.3 0.2z"/><path color="#6cfa46" d="M567.8 126.3l-4.2-0.2-1.9 1.9 4.3 0.2z"/><path color="#71fa45" d="M566 128.2l-4.3-0.2-1.9 1.9 4.3 0.2z"/><path class="m" d="M572.1 126.5l-4.3-0.2-4.2-0.2-1.9 1.9-1.9 1.9 4.3 0.2 4.3 0.2 1.9-1.9z"/><path color="#69fa47" d="M547.5 133.2l-4.3-0.3-1.9 1.9 4.3 0.3z"/><path color="#6efa46" d="M545.5 135.1l-4.3-0.3-1.9 2 4.3 0.3z"/><path color="#63fa48" d="M543.2 132.9l-4.3-0.3-1.9 1.9 4.3 0.3z"/><path color="#67fa47" d="M541.2 134.8l-4.3-0.3-1.9 1.9 4.3 0.3z"/><path class="m" d="M547.5 133.2l-4.3-0.3-4.3-0.3-1.9 1.9-1.9 1.9 4.3 0.3 4.3 0.3 1.9-2z"/><path color="#5af94a" d="M509.9 143.1l-4.3-0.3-2 2 4.3 0.4z"/><path color="#5df949" d="M507.9 145.1l-4.3-0.4-2 2 4.3 0.4z"/><path color="#54f84b" d="M505.5 142.7l-4.3-0.3-2 2 4.3 0.4z"/><path color="#57f84b" d="M503.5 144.7l-4.3-0.4-2 2 4.3 0.4z"/><path class="m" d="M509.9 143.1l-4.3-0.3-4.3-0.3-2 2-2 2 4.3 0.4 4.3 0.4 2-2z"/><path color="#4ff74c" d="M484.4 149.6l-4.3-0.4-2.1 2 4.4 0.4z"/><path color="#51f74c" d="M482.4 151.6l-4.4-0.4-2.1 2.1 4.4 0.4z"/><path color="#4af64d" d="M480.1 149.2l-4.3-0.4-2.1 2 4.4 0.4z"/><path color="#4cf74d" d="M478 151.2l-4.4-0.4-2.1 2 4.4 0.4z"/><path class="m" d="M484.4 149.6l-4.3-0.4-4.3-0.4-2.1 2-2.1 2 4.4 0.4 4.4 0.4 2.1-2.1z"/><path color="#49f64d" d="M471.6 152.8l-4.4-0.4-2.1 2 4.4 0.5z"/><path color="#4bf74d" d="M469.5 154.9l-4.4-0.5-2.1 2.1 4.4 0.5z"/><path color="#45f64f" d="M467.2 152.4l-4.4-0.4-2.1 2 4.4 0.4z"/><path color="#46f64e" d="M465.1 154.4l-4.4-0.4-2.1 2.1 4.4 0.5z"/><path class="m" d="M471.6 152.8l-4.4-0.4-4.4-0.4-2.1 2-2.1 2.1 4.4 0.5 4.4 0.5 2.1-2.1z"/><path color="#41f552" d="M445.6 159.2l-4.4-0.5-2.1 2.1 4.4 0.5z"/><path color="#42f551" d="M443.5 161.4l-4.4-0.5-2.1 2.1 4.4 0.5z"/><path color="#3ff454" d="M441.3 158.8l-4.4-0.5-2.1 2.1 4.4 0.5z"/><path color="#3ff553" d="M439.1 160.8l-4.4-0.5-2.1 2.1 4.4 0.5z"/><path class="m" d="M445.6 159.2l-4.4-0.5-4.4-0.5-2.1 2.1-2.1 2.1 4.4 0.5 4.4 0.5 2.1-2.1z"/><path color="#3af357" d="M419.4 165.6l-4.4-0.6-2.2 2.1 4.4 0.6z"/><path color="#3bf457" d="M417.3 167.7l-4.4-0.6-2.2 2.2 4.4 0.6z"/><path color="#38f359" d="M415 165l-4.4-0.6-2.2 2.1 4.4 0.6z"/><path color="#38f359" d="M412.9 167.2l-4.4-0.6-2.2 2.1 4.4 0.6z"/><path class="m" d="M419.4 165.6l-4.4-0.6-4.4-0.6-2.2 2.1-2.2 2.1 4.4 0.6 4.4 0.6 2.2-2.2z"/><path color="#84fa41" d="M620.3 112.9l-4.2-0.1-1.7 1.8 4.2 0.1z"/><path color="#8afa3f" d="M618.6 114.7l-4.2-0.1-1.8 1.8 4.2 0.1z"/><path color="#7cfa42" d="M616.1 112.8l-4.2-0.1-1.8 1.8 4.2 0.1z"/><path color="#82fa41" d="M614.4 114.6l-4.2-0.1-1.8 1.8 4.2 0.1z"/><path class="m" d="M620.3 112.9l-4.2-0.1-4.2-0.1-1.8 1.8-1.8 1.8 4.2 0.1 4.2 0.1 1.7-1.9z"/><path color="#7dfa42" d="M596.4 119.7l-4.2-0.1-1.8 1.8 4.2 0.2z"/><path color="#82fa41" d="M594.6 121.6l-4.2-0.2-1.8 1.9 4.3 0.2z"/><path color="#75fa44" d="M592.2 119.6l-4.2-0.1-1.8 1.8 4.2 0.2z"/><path color="#7afa43" d="M590.4 121.4l-4.2-0.2-1.8 1.9 4.2 0.2z"/><path class="m" d="M596.4 119.7l-4.2-0.1-4.2-0.1-1.8 1.8-1.8 1.9 4.2 0.2 4.3 0.2 1.8-1.9z"/><path color="#6ffa45" d="M559.8 129.8l-4.3-0.2-1.9 1.9 4.3 0.2z"/><path color="#73fa44" d="M557.9 131.8l-4.3-0.2-1.9 1.9 4.3 0.3z"/><path color="#67fa47" d="M555.6 129.6l-4.3-0.2-1.9 1.9 4.3 0.2z"/><path color="#6cfa46" d="M553.7 131.5l-4.3-0.2-1.9 1.9 4.3 0.3z"/><path class="m" d="M559.8 129.8l-4.3-0.2-4.3-0.2-1.9 1.9-1.9 1.9 4.3 0.3 4.3 0.3 1.9-1.9z"/><path color="#64fa48" d="M535 136.5l-4.3-0.3-2 1.9 4.3 0.3z"/><path color="#68fa47" d="M533.1 138.5l-4.3-0.3-2 2 4.3 0.3z"/><path color="#5ef949" d="M530.7 136.2l-4.3-0.3-2 1.9 4.3 0.3z"/><path color="#61fa49" d="M528.8 138.2l-4.3-0.3-2 2 4.3 0.3z"/><path class="m" d="M535 136.5l-4.3-0.3-4.3-0.3-2 1.9-2 2 4.3 0.3 4.3 0.3 1.9-2z"/><path color="#5ff949" d="M522.5 139.8l-4.3-0.3-2 2 4.3 0.3z"/><path color="#62fa48" d="M520.5 141.8l-4.3-0.3-2 2 4.3 0.4z"/><path color="#59f94a" d="M518.2 139.5l-4.3-0.3-2 1.9 4.3 0.3z"/><path color="#5df949" d="M516.2 141.4l-4.3-0.3-2 2 4.3 0.4z"/><path class="m" d="M522.5 139.8l-4.3-0.3-4.3-0.3-2 1.9-2 2 4.3 0.4 4.3 0.4 2-2z"/><path color="#55f84b" d="M497.2 146.4l-4.3-0.4-2 2 4.3 0.4z"/><path color="#57f84b" d="M495.2 148.4l-4.3-0.4-2 2 4.4 0.4z"/><path color="#4ff74c" d="M492.8 146l-4.3-0.4-2.1 2 4.3 0.4z"/><path color="#52f84c" d="M490.8 148l-4.3-0.4-2.1 2 4.4 0.4z"/><path class="m" d="M497.2 146.4l-4.3-0.4-4.3-0.4-2.1 2-2.1 2 4.4 0.4 4.4 0.4 2-2.1z"/><path color="#44f64f" d="M458.6 156l-4.4-0.5-2.1 2.1 4.4 0.5z"/><path color="#45f64f" d="M456.5 158.1l-4.4-0.5-2.1 2.1 4.4 0.5z"/><path color="#42f551" d="M454.3 155.6l-4.4-0.5-2.1 2 4.4 0.5z"/><path color="#43f551" d="M452.2 157.6l-4.4-0.5-2.1 2.1 4.4 0.5z"/><path class="m" d="M458.6 156l-4.4-0.5-4.4-0.5-2.1 2-2.1 2.1 4.4 0.5 4.4 0.5 2.1-2.1z"/><path color="#3ef454" d="M432.6 162.4l-4.4-0.5-2.2 2.1 4.4 0.5z"/><path color="#3ef454" d="M430.4 164.6l-4.4-0.5-2.2 2.1 4.4 0.6z"/><path color="#3bf456" d="M428.2 161.9l-4.4-0.5-2.2 2.1 4.4 0.5z"/><path color="#3cf456" d="M426 164l-4.4-0.5-2.2 2.1 4.4 0.6z"/><path class="m" d="M432.6 162.4l-4.4-0.5-4.4-0.5-2.2 2.1-2.2 2.1 4.4 0.6 4.4 0.6 2.1-2.2z"/><path color="#87fa40" d="M592.8 123.5l-4.3-0.2-1.8 1.9 4.3 0.2z"/><path color="#8cfa3f" d="M591 125.4l-4.3-0.2-1.8 1.9 4.3 0.2z"/><path color="#80fa41" d="M588.5 123.3l-4.2-0.2-1.8 1.9 4.3 0.2z"/><path color="#85fa40" d="M586.7 125.2l-4.3-0.2-1.8 1.9 4.3 0.2z"/><path class="m" d="M592.8 123.5l-4.3-0.2-4.2-0.2-1.8 1.9-1.8 1.9 4.3 0.2 4.3 0.2 1.8-1.9z"/><path color="#78fa43" d="M556 133.7l-4.3-0.3-1.9 2 4.3 0.3z"/><path color="#7cfa42" d="M554.1 135.7l-4.3-0.3-1.9 2 4.3 0.3z"/><path color="#71fa45" d="M551.7 133.4l-4.3-0.3-1.9 1.9 4.3 0.3z"/><path color="#75fa44" d="M549.8 135.4l-4.3-0.3-1.9 2 4.3 0.3z"/><path class="m" d="M556 133.7l-4.3-0.3-4.3-0.3-1.9 1.9-1.9 2 4.3 0.3 4.3 0.3 1.9-2z"/><path color="#5ff949" d="M505.9 147.1l-4.3-0.4-2 2 4.4 0.4z"/><path color="#62fa48" d="M503.9 149.2l-4.4-0.4-2 2.1 4.4 0.4z"/><path color="#5af94a" d="M501.5 146.7l-4.3-0.4-2 2 4.4 0.4z"/><path color="#5cf94a" d="M499.5 148.8l-4.4-0.4-2 2.1 4.4 0.4z"/><path class="m" d="M505.9 147.1l-4.3-0.4-4.3-0.4-2 2-2 2.1 4.4 0.4 4.4 0.4 2-2.1z"/><path color="#4df74d" d="M467.4 157l-4.4-0.5-2.1 2.1 4.4 0.5z"/><path color="#4ff74c" d="M465.3 159.1l-4.4-0.5-2.1 2.1 4.4 0.5z"/><path color="#48f64e" d="M463 156.5l-4.4-0.5-2.1 2.1 4.4 0.5z"/><path color="#4af64d" d="M460.9 158.6l-4.4-0.5-2.1 2.1 4.4 0.5z"/><path class="m" d="M467.4 157l-4.4-0.5-4.4-0.5-2.1 2.1-2.1 2.1 4.4 0.5 4.4 0.5 2.1-2.2z"/><path color="#94f93d" d="M628.7 113.1l-4.2-0.1-1.7 1.8 4.2 0.1z"/><path color="#9af93c" d="M627 114.9l-4.2-0.1-1.7 1.9 4.2 0.1z"/><path color="#8cfa3f" d="M624.5 113l-4.2-0.1-1.7 1.8 4.2 0.1z"/><path color="#92f93d" d="M622.8 114.8l-4.2-0.1-1.7 1.9 4.2 0.1z"/><path class="m" d="M628.7 113.1l-4.2-0.1-4.2-0.1-1.7 1.8-1.7 1.9 4.2 0.1 4.2 0.1 1.7-1.9z"/><path color="#90f93e" d="M616.8 116.6l-4.2-0.1-1.8 1.9 4.2 0.1z"/><path color="#96f93d" d="M615.1 118.4l-4.2-0.1-1.8 1.9 4.2 0.2z"/><path color="#88fa40" d="M612.6 116.4l-4.2-0.1-1.8 1.8 4.2 0.1z"/><path color="#8ef93e" d="M610.9 118.3l-4.2-0.1-1.8 1.9 4.2 0.2z"/><path class="m" d="M616.8 116.6l-4.2-0.1-4.2-0.1-1.8 1.8-1.8 1.9 4.2 0.2 4.2 0.2 1.7-1.9z"/><path color="#8cfa3f" d="M604.9 120l-4.2-0.2-1.8 1.9 4.3 0.2z"/><path color="#91f93e" d="M603.1 121.9l-4.3-0.2-1.8 1.9 4.3 0.2z"/><path color="#84fa41" d="M600.6 119.9l-4.2-0.1-1.8 1.9 4.2 0.2z"/><path color="#8afa3f" d="M598.8 121.8l-4.2-0.2-1.8 1.9 4.3 0.2z"/><path class="m" d="M604.9 120l-4.2-0.2-4.2-0.1-1.8 1.9-1.8 1.9 4.3 0.2 4.3 0.2 1.8-1.9z"/><path color="#83fa41" d="M580.6 126.9l-4.3-0.2-1.8 1.9 4.3 0.2z"/><path color="#87fa40" d="M578.8 128.8l-4.3-0.2-1.9 1.9 4.3 0.2z"/><path color="#7bfa43" d="M576.4 126.7l-4.3-0.2-1.9 1.9 4.3 0.2z"/><path color="#80fa41" d="M574.5 128.6l-4.3-0.2-1.9 1.9 4.3 0.2z"/><path class="m" d="M580.6 126.9l-4.3-0.2-4.3-0.2-1.9 1.9-1.9 1.9 4.3 0.2 4.3 0.2 1.8-2z"/><path color="#7dfa42" d="M568.4 130.3l-4.3-0.2-1.9 1.9 4.3 0.3z"/><path color="#82fa41" d="M566.5 132.3l-4.3-0.3-1.9 2 4.3 0.3z"/><path color="#76fa44" d="M564.1 130.1l-4.3-0.2-1.9 1.9 4.3 0.3z"/><path color="#7bfa43" d="M562.2 132l-4.3-0.3-1.9 1.9 4.3 0.3z"/><path class="m" d="M568.4 130.3l-4.3-0.2-4.3-0.2-1.9 1.9-1.9 1.9 4.3 0.3 4.3 0.3 1.9-2z"/><path color="#72fa45" d="M543.6 137.1l-4.3-0.3-1.9 2 4.3 0.3z"/><path color="#76fa44" d="M541.7 139.1l-4.3-0.3-1.9 2 4.3 0.3z"/><path color="#6bfa46" d="M539.3 136.8l-4.3-0.3-1.9 2 4.3 0.3z"/><path color="#6ffa45" d="M537.4 138.8l-4.3-0.3-1.9 2 4.3 0.3z"/><path class="m" d="M543.6 137.1l-4.3-0.3-4.3-0.3-1.9 2-1.9 2 4.3 0.3 4.3 0.3 1.9-2z"/><path color="#6cfa46" d="M531.1 140.4l-4.3-0.3-2 2 4.3 0.3z"/><path color="#6ffa45" d="M529.2 142.5l-4.3-0.3-2 2 4.3 0.4z"/><path color="#65fa48" d="M526.8 140.1l-4.3-0.3-2 2 4.3 0.3z"/><path color="#68fa47" d="M524.8 142.1l-4.3-0.3-2 2 4.3 0.4z"/><path class="m" d="M531.1 140.4l-4.3-0.3-4.3-0.3-2 2-2 2 4.3 0.4 4.3 0.4 2-2z"/><path color="#65fa48" d="M518.5 143.8l-4.3-0.4-2 2 4.3 0.4z"/><path color="#68fa47" d="M516.6 145.8l-4.3-0.4-2 2 4.4 0.4z"/><path color="#5ff949" d="M514.2 143.4l-4.3-0.4-2 2 4.3 0.4z"/><path color="#62fa48" d="M512.2 145.5l-4.3-0.4-2 2 4.4 0.4z"/><path class="m" d="M518.5 143.8l-4.3-0.4-4.3-0.4-2 2-2 2 4.4 0.4 4.4 0.4 2-2.1z"/><path color="#59f94a" d="M493.1 150.4l-4.4-0.4-2 2.1 4.4 0.4z"/><path color="#5cf94a" d="M491.1 152.5l-4.4-0.4-2 2.1 4.4 0.5z"/><path color="#54f84b" d="M488.8 150l-4.4-0.4-2.1 2 4.4 0.4z"/><path color="#56f84b" d="M486.7 152.1l-4.4-0.4-2.1 2.1 4.4 0.4z"/><path class="m" d="M493.1 150.4l-4.4-0.4-4.4-0.4-2.1 2-2.1 2.1 4.4 0.4 4.4 0.5 2-2.1z"/><path color="#53f84b" d="M480.3 153.7l-4.4-0.4-2.1 2.1 4.4 0.5z"/><path color="#55f84b" d="M478.3 155.8l-4.4-0.5-2.1 2.1 4.4 0.5z"/><path color="#4ef74c" d="M475.9 153.3l-4.4-0.4-2.1 2.1 4.4 0.5z"/><path color="#50f74c" d="M473.9 155.4l-4.4-0.5-2.1 2.1 4.4 0.5z"/><path class="m" d="M480.3 153.7l-4.4-0.4-4.4-0.4-2.1 2.1-2.1 2.1 4.4 0.5 4.4 0.5 2.1-2.1z"/><path color="#46f64e" d="M454.4 160.2l-4.4-0.5-2.1 2.1 4.4 0.5z"/><path color="#48f64e" d="M452.3 162.4l-4.4-0.5-2.1 2.2 4.4 0.5z"/><path color="#44f550" d="M450 159.7l-4.4-0.5-2.1 2.1 4.4 0.5z"/><path color="#44f64f" d="M447.9 161.9l-4.4-0.5-2.1 2.1 4.4 0.5z"/><path class="m" d="M454.4 160.2l-4.4-0.5-4.4-0.5-2.1 2.1-2.1 2.1 4.4 0.5 4.4 0.5 2.1-2.2z"/><path color="#43f551" d="M441.4 163.5l-4.4-0.5-2.1 2.1 4.4 0.6z"/><path color="#43f550" d="M439.3 165.7l-4.4-0.6-2.1 2.2 4.4 0.6z"/><path color="#40f553" d="M437 163l-4.4-0.5-2.1 2.1 4.4 0.5z"/><path color="#41f552" d="M434.9 165.1l-4.4-0.5-2.1 2.2 4.4 0.6z"/><path class="m" d="M441.4 163.5l-4.4-0.5-4.4-0.5-2.1 2.1-2.1 2.2 4.4 0.6 4.4 0.6 2.1-2.2z"/><path color="#3ff453" d="M428.3 166.7l-4.4-0.6-2.2 2.2 4.4 0.6z"/><path color="#3ff553" d="M426.2 168.9l-4.4-0.6-2.2 2.2 4.5 0.6z"/><path color="#3df455" d="M423.9 166.1l-4.4-0.6-2.2 2.1 4.4 0.6z"/><path color="#3df455" d="M421.7 168.3l-4.4-0.6-2.2 2.2 4.4 0.6z"/><path class="m" d="M428.3 166.7l-4.4-0.6-4.4-0.6-2.2 2.1-2.2 2.2 4.4 0.6 4.5 0.6 2.1-2.2z"/><path color="#9ff93a" d="M625.3 116.8l-4.2-0.1-1.7 1.9 4.2 0.2z"/><path color="#a5f839" d="M623.6 118.7l-4.2-0.2-1.7 1.9 4.3 0.2z"/><path color="#98f93c" d="M621.1 116.7l-4.2-0.1-1.7 1.9 4.2 0.1z"/><path color="#9df93b" d="M619.3 118.6l-4.2-0.1-1.7 1.9 4.3 0.2z"/><path class="m" d="M625.3 116.8l-4.2-0.1-4.2-0.1-1.7 1.9-1.7 1.9 4.3 0.2 4.3 0.2 1.7-1.9z"/><path color="#96f93c" d="M601.3 123.9l-4.3-0.2-1.8 1.9 4.3 0.2z"/><path color="#9bf93b" d="M599.5 125.8l-4.3-0.2-1.8 2 4.3 0.2z"/><path color="#8ff93e" d="M597 123.7l-4.3-0.2-1.8 1.9 4.3 0.2z"/><path color="#94f93d" d="M595.3 125.6l-4.3-0.2-1.8 1.9 4.3 0.2z"/><path class="m" d="M601.3 123.9l-4.3-0.2-4.3-0.2-1.8 1.9-1.8 1.9 4.3 0.2 4.3 0.2 1.8-2z"/><path color="#91f93e" d="M589.2 127.3l-4.3-0.2-1.8 2 4.3 0.2z"/><path color="#96f93d" d="M587.4 129.3l-4.3-0.2-1.8 2 4.3 0.3z"/><path color="#8afa3f" d="M584.9 127.1l-4.3-0.2-1.8 1.9 4.3 0.2z"/><path color="#8ff93e" d="M583.1 129.1l-4.3-0.2-1.8 2 4.3 0.3z"/><path class="m" d="M589.2 127.3l-4.3-0.2-4.3-0.2-1.8 1.9-1.8 2 4.3 0.3 4.3 0.3 1.8-2z"/><path color="#86fa40" d="M564.6 134.3l-4.3-0.3-1.9 2 4.3 0.3z"/><path color="#8afa3f" d="M562.8 136.3l-4.3-0.3-1.9 2 4.3 0.3z"/><path color="#7ffa42" d="M560.3 134l-4.3-0.3-1.9 2 4.3 0.3z"/><path color="#83fa41" d="M558.5 136l-4.3-0.3-1.9 2 4.3 0.3z"/><path class="m" d="M564.6 134.3l-4.3-0.3-4.3-0.3-1.9 2-1.9 2 4.3 0.3 4.3 0.3 1.9-2z"/><path color="#80fa42" d="M552.3 137.7l-4.3-0.3-1.9 2 4.3 0.3z"/><path color="#83fa41" d="M550.4 139.7l-4.3-0.3-1.9 2 4.3 0.3z"/><path color="#79fa43" d="M547.9 137.4l-4.3-0.3-1.9 2 4.3 0.3z"/><path color="#7dfa42" d="M546 139.4l-4.3-0.3-1.9 2 4.3 0.3z"/><path class="m" d="M552.3 137.7l-4.3-0.3-4.3-0.3-1.9 2-1.9 2 4.3 0.3 4.3 0.3 1.9-2.1z"/><path color="#79fa43" d="M539.8 141.1l-4.3-0.3-1.9 2 4.3 0.4z"/><path color="#7dfa42" d="M537.9 143.2l-4.3-0.4-1.9 2.1 4.4 0.4z"/><path color="#73fa45" d="M535.4 140.8l-4.3-0.3-1.9 2 4.3 0.3z"/><path color="#76fa44" d="M533.5 142.8l-4.3-0.3-2 2 4.3 0.4z"/><path class="m" d="M539.8 141.1l-4.3-0.3-4.3-0.3-1.9 2-2 2 4.3 0.4 4.4 0.4 1.9-2.1z"/><path color="#73fa45" d="M527.2 144.5l-4.3-0.4-2 2.1 4.4 0.4z"/><path color="#76fa44" d="M525.3 146.6l-4.4-0.4-2 2.1 4.4 0.4z"/><path color="#6cfa46" d="M522.9 144.2l-4.3-0.4-2 2 4.4 0.4z"/><path color="#6ffa45" d="M520.9 146.2l-4.4-0.4-2 2.1 4.4 0.4z"/><path class="m" d="M527.2 144.5l-4.3-0.4-4.3-0.4-2 2-2 2.1 4.4 0.4 4.4 0.4 2-2.1z"/><path color="#6bfa46" d="M514.6 147.9l-4.4-0.4-2 2.1 4.4 0.4z"/><path color="#6efa46" d="M512.6 150l-4.4-0.4-2 2.1 4.4 0.4z"/><path color="#65fa48" d="M510.2 147.5l-4.4-0.4-2 2.1 4.4 0.4z"/><path color="#68fa47" d="M508.2 149.6l-4.4-0.4-2 2.1 4.4 0.4z"/><path class="m" d="M514.6 147.9l-4.4-0.4-4.4-0.4-2 2.1-2 2.1 4.4 0.4 4.4 0.4 2-2.1z"/><path color="#64fa48" d="M501.9 151.3l-4.4-0.4-2 2.1 4.4 0.4z"/><path color="#66fa47" d="M499.9 153.4l-4.4-0.4-2 2.1 4.4 0.5z"/><path color="#5ff949" d="M497.5 150.8l-4.4-0.4-2 2.1 4.4 0.4z"/><path color="#61fa49" d="M495.5 152.9l-4.4-0.4-2 2.1 4.4 0.5z"/><path class="m" d="M501.9 151.3l-4.4-0.4-4.4-0.4-2 2.1-2 2.1 4.4 0.5 4.4 0.5 2-2.1z"/><path color="#57f84b" d="M476.2 158l-4.4-0.5-2.1 2.1 4.4 0.5z"/><path color="#58f84a" d="M474.2 160.1l-4.4-0.5-2.1 2.2 4.4 0.5z"/><path color="#52f84c" d="M471.8 157.5l-4.4-0.5-2.1 2.1 4.4 0.5z"/><path color="#53f84b" d="M469.7 159.6l-4.4-0.5-2.1 2.2 4.4 0.5z"/><path class="m" d="M476.2 158l-4.4-0.5-4.4-0.5-2.1 2.1-2.1 2.2 4.4 0.5 4.4 0.5 2.1-2.2z"/><path color="#50f74c" d="M463.3 161.3l-4.4-0.5-2.1 2.2 4.4 0.5z"/><path color="#51f84c" d="M461.2 163.5l-4.4-0.5-2.1 2.2 4.4 0.6z"/><path color="#4bf74d" d="M458.9 160.8l-4.4-0.5-2.1 2.1 4.4 0.5z"/><path color="#4cf74d" d="M456.8 162.9l-4.4-0.5-2.1 2.2 4.4 0.5z"/><path class="m" d="M463.3 161.3l-4.4-0.5-4.4-0.5-2.1 2.1-2.1 2.2 4.4 0.5 4.4 0.6 2.1-2.2z"/><path color="#44f550" d="M437.2 167.9l-4.4-0.6-2.1 2.2 4.4 0.6z"/><path color="#44f64f" d="M435 170.1l-4.4-0.6-2.1 2.2 4.5 0.6z"/><path color="#41f552" d="M432.7 167.3l-4.4-0.6-2.1 2.2 4.4 0.6z"/><path color="#42f551" d="M430.6 169.5l-4.4-0.6-2.1 2.2 4.5 0.6z"/><path class="m" d="M437.2 167.9l-4.4-0.6-4.4-0.6-2.1 2.2-2.1 2.2 4.5 0.6 4.5 0.6 2.1-2.3z"/><path color="#9bf93b" d="M613.4 120.3l-4.2-0.2-1.8 1.9 4.3 0.2z"/><path color="#a0f93a" d="M611.6 122.3l-4.3-0.2-1.8 1.9 4.3 0.2z"/><path color="#93f93d" d="M609.1 120.2l-4.2-0.2-1.8 1.9 4.3 0.2z"/><path color="#99f93c" d="M607.3 122.1l-4.3-0.2-1.8 1.9 4.3 0.2z"/><path class="m" d="M613.4 120.3l-4.2-0.2-4.2-0.2-1.8 1.9-1.8 1.9 4.3 0.2 4.3 0.2 1.8-2z"/><path color="#8cfa3f" d="M577 130.8l-4.3-0.2-1.9 2 4.3 0.3z"/><path color="#90f93e" d="M575.1 132.8l-4.3-0.3-1.9 2 4.3 0.3z"/><path color="#85fa40" d="M572.7 130.6l-4.3-0.2-1.9 2 4.3 0.3z"/><path color="#89fa3f" d="M570.8 132.5l-4.3-0.3-1.9 2 4.3 0.3z"/><path class="m" d="M577 130.8l-4.3-0.2-4.3-0.2-1.9 2-1.9 2 4.3 0.3 4.3 0.3 1.8-2z"/><path color="#5ef949" d="M489.1 154.6l-4.4-0.5-2 2.1 4.4 0.5z"/><path color="#5ff949" d="M487 156.8l-4.4-0.5-2 2.2 4.4 0.5z"/><path color="#58f84a" d="M484.7 154.2l-4.4-0.4-2.1 2.1 4.4 0.5z"/><path color="#5af94a" d="M482.6 156.3l-4.4-0.5-2.1 2.1 4.4 0.5z"/><path class="m" d="M489.1 154.6l-4.4-0.5-4.4-0.4-2.1 2.1-2.1 2.1 4.4 0.5 4.4 0.5 2-2.2z"/><path color="#49f64d" d="M450.2 164.6l-4.4-0.5-2.1 2.2 4.4 0.6z"/><path color="#4af74d" d="M448.2 166.8l-4.4-0.6-2.1 2.2 4.4 0.6z"/><path color="#45f64f" d="M445.8 164l-4.4-0.5-2.1 2.2 4.4 0.6z"/><path color="#46f64e" d="M443.7 166.2l-4.4-0.6-2.1 2.2 4.4 0.6z"/><path class="m" d="M450.2 164.6l-4.4-0.5-4.4-0.5-2.1 2.2-2.1 2.2 4.4 0.6 4.4 0.6 2.1-2.2z"/><path color="#aaf838" d="M621.9 120.7l-4.3-0.2-1.7 2 4.3 0.2z"/><path color="#aff837" d="M620.1 122.7l-4.3-0.2-1.7 2 4.3 0.2z"/><path color="#a3f93a" d="M617.6 120.5l-4.3-0.2-1.8 1.9 4.3 0.2z"/><path color="#a8f839" d="M615.9 122.5l-4.3-0.2-1.8 2 4.3 0.2z"/><path class="m" d="M621.9 120.7l-4.3-0.2-4.3-0.2-1.8 1.9-1.8 2 4.3 0.2 4.3 0.2 1.7-2z"/><path color="#a5f839" d="M609.9 124.2l-4.3-0.2-1.8 2 4.3 0.2z"/><path color="#aaf838" d="M608.1 126.2l-4.3-0.2-1.8 2 4.3 0.2z"/><path color="#9ef93b" d="M605.6 124l-4.3-0.2-1.8 2 4.3 0.2z"/><path color="#a2f93a" d="M603.8 126l-4.3-0.2-1.8 2 4.3 0.2z"/><path class="m" d="M609.9 124.2l-4.3-0.2-4.3-0.2-1.8 2-1.8 2 4.3 0.2 4.3 0.2 1.8-2z"/><path color="#a0f93a" d="M597.7 127.8l-4.3-0.2-1.8 2 4.3 0.2z"/><path color="#a4f839" d="M596 129.8l-4.3-0.2-1.8 2 4.3 0.3z"/><path color="#98f93c" d="M593.5 127.6l-4.3-0.2-1.8 2 4.3 0.2z"/><path color="#9df93b" d="M591.7 129.6l-4.3-0.2-1.8 2 4.3 0.3z"/><path class="m" d="M597.7 127.8l-4.3-0.2-4.3-0.2-1.8 2-1.8 2 4.3 0.3 4.3 0.3 1.8-2z"/><path color="#9af93c" d="M585.5 131.3l-4.3-0.3-1.8 2 4.3 0.3z"/><path color="#9ef93b" d="M583.7 133.4l-4.3-0.3-1.8 2 4.3 0.3z"/><path color="#93f93d" d="M581.2 131.1l-4.3-0.3-1.8 2 4.3 0.3z"/><path color="#97f93c" d="M579.4 133.1l-4.3-0.3-1.8 2 4.3 0.3z"/><path class="m" d="M585.5 131.3l-4.3-0.3-4.3-0.3-1.8 2-1.8 2 4.3 0.3 4.3 0.3 1.8-2.1z"/><path color="#94f93d" d="M573.3 134.8l-4.3-0.3-1.9 2 4.3 0.3z"/><path color="#98f93c" d="M571.4 136.9l-4.3-0.3-1.9 2.1 4.3 0.3z"/><path color="#8dfa3f" d="M569 134.5l-4.3-0.3-1.9 2 4.3 0.3z"/><path color="#91f93e" d="M567.1 136.6l-4.3-0.3-1.9 2 4.3 0.3z"/><path class="m" d="M573.3 134.8l-4.3-0.3-4.3-0.3-1.9 2-1.9 2 4.3 0.3 4.3 0.3 1.8-2.1z"/><path color="#8ef93e" d="M560.9 138.3l-4.3-0.3-1.9 2.1 4.3 0.3z"/><path color="#91f93e" d="M559 140.4l-4.3-0.3-1.9 2.1 4.4 0.4z"/><path color="#87fa40" d="M556.6 138l-4.3-0.3-1.9 2 4.3 0.3z"/><path color="#8afa3f" d="M554.7 140.1l-4.3-0.3-1.9 2.1 4.3 0.3z"/><path class="m" d="M560.9 138.3l-4.3-0.3-4.3-0.3-1.9 2-1.9 2.1 4.3 0.3 4.4 0.4 1.9-2.1z"/><path color="#87fa40" d="M548.5 141.8l-4.3-0.3-1.9 2.1 4.4 0.4z"/><path color="#8afa3f" d="M546.6 143.9l-4.4-0.4-1.9 2.1 4.4 0.4z"/><path color="#80fa41" d="M544.1 141.5l-4.3-0.3-1.9 2.1 4.3 0.4z"/><path color="#83fa41" d="M542.2 143.5l-4.3-0.4-1.9 2.1 4.4 0.4z"/><path class="m" d="M548.5 141.8l-4.3-0.3-4.3-0.3-1.9 2.1-1.9 2.1 4.4 0.4 4.4 0.4 1.9-2.1z"/><path color="#80fa42" d="M535.9 145.3l-4.4-0.4-1.9 2.1 4.4 0.4z"/><path color="#83fa41" d="M534 147.4l-4.4-0.4-1.9 2.1 4.4 0.4z"/><path color="#79fa43" d="M531.6 144.9l-4.3-0.4-2 2.1 4.4 0.4z"/><path color="#7cfa42" d="M529.6 147l-4.4-0.4-2 2.1 4.4 0.4z"/><path class="m" d="M535.9 145.3l-4.4-0.4-4.3-0.4-2 2.1-2 2.1 4.4 0.4 4.4 0.4 1.9-2.1z"/><path color="#78fa43" d="M523.3 148.7l-4.4-0.4-2 2.1 4.4 0.4z"/><path color="#7bfa43" d="M521.4 150.8l-4.4-0.4-2 2.1 4.4 0.4z"/><path color="#72fa45" d="M518.9 148.3l-4.4-0.4-2 2.1 4.4 0.4z"/><path color="#75fa44" d="M517 150.4l-4.4-0.4-2 2.1 4.4 0.4z"/><path class="m" d="M523.3 148.7l-4.4-0.4-4.4-0.4-2 2.1-2 2.1 4.4 0.4 4.4 0.4 2-2.2z"/><path color="#71fa45" d="M510.6 152.1l-4.4-0.4-2 2.1 4.4 0.5z"/><path color="#73fa45" d="M508.6 154.3l-4.4-0.5-2 2.2 4.4 0.5z"/><path color="#6afa47" d="M506.2 151.7l-4.4-0.4-2 2.1 4.4 0.4z"/><path color="#6dfa46" d="M504.3 153.8l-4.4-0.4-2 2.1 4.4 0.5z"/><path class="m" d="M510.6 152.1l-4.4-0.4-4.4-0.4-2 2.1-2 2.1 4.4 0.5 4.4 0.5 2-2.2z"/><path color="#68fa47" d="M497.9 155.5l-4.4-0.5-2 2.2 4.4 0.5z"/><path color="#6afa47" d="M495.9 157.7l-4.4-0.5-2 2.2 4.4 0.5z"/><path color="#63fa48" d="M493.5 155.1l-4.4-0.5-2 2.1 4.4 0.5z"/><path color="#64fa48" d="M491.4 157.2l-4.4-0.5-2 2.2 4.4 0.5z"/><path class="m" d="M497.9 155.5l-4.4-0.5-4.4-0.5-2 2.1-2 2.2 4.4 0.5 4.4 0.5 2-2.2z"/><path color="#61fa49" d="M485 158.9l-4.4-0.5-2 2.2 4.4 0.5z"/><path color="#62fa48" d="M483 161.1l-4.4-0.5-2 2.2 4.4 0.5z"/><path color="#5cf94a" d="M480.6 158.4l-4.4-0.5-2.1 2.2 4.4 0.5z"/><path color="#5df949" d="M478.6 160.6l-4.4-0.5-2.1 2.2 4.4 0.5z"/><path class="m" d="M485 158.9l-4.4-0.5-4.4-0.5-2.1 2.2-2.1 2.2 4.4 0.5 4.4 0.5 2-2.2z"/><path color="#5af94a" d="M472.1 162.3l-4.4-0.5-2.1 2.2 4.4 0.5z"/><path color="#5bf94a" d="M470 164.5l-4.4-0.5-2.1 2.2 4.4 0.6z"/><path color="#55f84b" d="M467.7 161.8l-4.4-0.5-2.1 2.2 4.4 0.5z"/><path color="#56f84b" d="M465.6 164l-4.4-0.5-2.1 2.2 4.4 0.6z"/><path class="m" d="M472.1 162.3l-4.4-0.5-4.4-0.5-2.1 2.2-2.1 2.2 4.4 0.6 4.4 0.6 2.1-2.3z"/><path color="#52f84c" d="M459.1 165.7l-4.4-0.6-2.1 2.2 4.4 0.6z"/><path color="#53f84b" d="M457 167.9l-4.4-0.6-2.1 2.3 4.5 0.6z"/><path color="#4ef74c" d="M454.7 165.1l-4.4-0.5-2.1 2.2 4.4 0.6z"/><path color="#4ff74c" d="M452.6 167.3l-4.4-0.6-2.1 2.2 4.5 0.6z"/><path class="m" d="M459.1 165.7l-4.4-0.6-4.4-0.5-2.1 2.2-2.1 2.2 4.5 0.6 4.5 0.6 2.1-2.3z"/><path color="#4bf74d" d="M446.1 169l-4.4-0.6-2.1 2.2 4.5 0.6z"/><path color="#4bf74d" d="M444 171.3l-4.5-0.6-2.1 2.3 4.5 0.6z"/><path color="#46f64e" d="M441.6 168.4l-4.4-0.6-2.1 2.2 4.5 0.6z"/><path color="#47f64e" d="M439.5 170.7l-4.5-0.6-2.1 2.3 4.5 0.6z"/><path class="m" d="M446.1 169l-4.4-0.6-4.4-0.6-2.1 2.2-2.1 2.3 4.5 0.6 4.5 0.6 2.1-2.3z"/><path color="#b4f835" d="M618.4 124.7l-4.3-0.2-1.7 2 4.3 0.2z"/><path color="#b9f733" d="M616.7 126.7l-4.3-0.2-1.7 2 4.3 0.2z"/><path color="#acf838" d="M614.1 124.4l-4.3-0.2-1.8 2 4.3 0.2z"/><path color="#b1f836" d="M612.4 126.5l-4.3-0.2-1.8 2 4.3 0.2z"/><path class="m" d="M618.4 124.7l-4.3-0.2-4.3-0.2-1.8 2-1.8 2 4.3 0.2 4.3 0.2 1.7-2.1z"/><path color="#54f84b" d="M455 170.2l-4.5-0.6-2.1 2.3 4.5 0.6z"/><path color="#54f84b" d="M452.9 172.5l-4.5-0.6-2.1 2.3 4.5 0.6z"/><path color="#4ff74c" d="M450.5 169.6l-4.5-0.6-2.1 2.3 4.5 0.6z"/><path color="#50f74c" d="M448.4 171.9l-4.5-0.6-2.1 2.3 4.5 0.6z"/><path class="m" d="M455 170.2l-4.5-0.6-4.5-0.6-2.1 2.3-2.1 2.3 4.5 0.6 4.5 0.6 2.1-2.3z"/><path color="#aef837" d="M606.3 128.3l-4.3-0.2-1.8 2 4.3 0.3z"/><path color="#b2f836" d="M604.6 130.3l-4.3-0.3-1.8 2.1 4.3 0.3z"/><path color="#a7f839" d="M602 128l-4.3-0.2-1.8 2 4.3 0.3z"/><path color="#abf838" d="M600.3 130.1l-4.3-0.3-1.8 2 4.3 0.3z"/><path class="m" d="M606.3 128.3l-4.3-0.2-4.3-0.2-1.8 2-1.8 2 4.3 0.3 4.3 0.3 1.8-2.1z"/><path color="#a8f839" d="M594.2 131.8l-4.3-0.3-1.8 2.1 4.3 0.3z"/><path color="#acf838" d="M592.4 133.9l-4.3-0.3-1.8 2.1 4.3 0.3z"/><path color="#a1f93a" d="M589.9 131.6l-4.3-0.3-1.8 2 4.3 0.3z"/><path color="#a5f839" d="M588 133.6l-4.3-0.3-1.8 2.1 4.3 0.3z"/><path class="m" d="M594.2 131.8l-4.3-0.3-4.3-0.3-1.8 2-1.8 2.1 4.3 0.3 4.3 0.3 1.8-2.1z"/><path color="#a2f93a" d="M581.9 135.4l-4.3-0.3-1.8 2.1 4.3 0.3z"/><path color="#a5f839" d="M580.1 137.5l-4.3-0.3-1.8 2.1 4.3 0.3z"/><path color="#9bf93b" d="M577.6 135.1l-4.3-0.3-1.8 2.1 4.3 0.3z"/><path color="#9ff93b" d="M575.8 137.2l-4.3-0.3-1.8 2.1 4.3 0.3z"/><path class="m" d="M581.9 135.4l-4.3-0.3-4.3-0.3-1.8 2.1-1.8 2.1 4.3 0.3 4.3 0.3 1.8-2.1z"/><path color="#9bf93b" d="M569.6 139l-4.3-0.3-1.9 2.1 4.4 0.3z"/><path color="#9ef93b" d="M567.7 141.1l-4.4-0.3-1.9 2.1 4.4 0.4z"/><path color="#94f93d" d="M565.2 138.6l-4.3-0.3-1.9 2.1 4.3 0.3z"/><path color="#98f93c" d="M563.4 140.7l-4.3-0.3-1.9 2.1 4.4 0.4z"/><path class="m" d="M569.6 139l-4.3-0.3-4.3-0.3-1.9 2.1-1.9 2.1 4.4 0.4 4.4 0.4 1.9-2.1z"/><path color="#94f93d" d="M557.2 142.5l-4.4-0.4-1.9 2.1 4.4 0.4z"/><path color="#97f93c" d="M555.3 144.6l-4.4-0.4-1.9 2.1 4.4 0.4z"/><path color="#8ef93e" d="M552.8 142.1l-4.3-0.3-1.9 2.1 4.4 0.4z"/><path color="#91f93e" d="M550.9 144.3l-4.4-0.4-1.9 2.1 4.4 0.4z"/><path class="m" d="M557.2 142.5l-4.4-0.4-4.3-0.3-1.9 2.1-1.9 2.1 4.4 0.4 4.4 0.4 1.9-2.2z"/><path color="#8dfa3f" d="M544.6 146l-4.4-0.4-1.9 2.1 4.4 0.4z"/><path color="#8ff93e" d="M542.7 148.2l-4.4-0.4-1.9 2.2 4.4 0.4z"/><path color="#86fa40" d="M540.3 145.6l-4.4-0.4-1.9 2.1 4.4 0.4z"/><path color="#89fa3f" d="M538.4 147.8l-4.4-0.4-1.9 2.1 4.4 0.4z"/><path class="m" d="M544.6 146l-4.4-0.4-4.4-0.4-1.9 2.1-1.9 2.1 4.4 0.4 4.4 0.4 1.9-2.2z"/><path color="#85fa40" d="M532.1 149.5l-4.4-0.4-1.9 2.2 4.4 0.4z"/><path color="#88fa40" d="M530.1 151.7l-4.4-0.4-1.9 2.2 4.4 0.4z"/><path color="#7ffa42" d="M527.7 149.1l-4.4-0.4-2 2.1 4.4 0.4z"/><path color="#81fa41" d="M525.7 151.3l-4.4-0.4-2 2.2 4.4 0.4z"/><path class="m" d="M532.1 149.5l-4.4-0.4-4.4-0.4-2 2.1-2 2.2 4.4 0.4 4.4 0.4 1.9-2.2z"/><path color="#7dfa42" d="M519.4 153l-4.4-0.4-2 2.2 4.4 0.5z"/><path color="#7ffa42" d="M517.4 155.2l-4.4-0.5-2 2.2 4.4 0.5z"/><path color="#77fa44" d="M515 152.6l-4.4-0.4-2 2.2 4.4 0.5z"/><path color="#79fa43" d="M513 154.7l-4.4-0.5-2 2.2 4.4 0.5z"/><path class="m" d="M519.4 153l-4.4-0.4-4.4-0.4-2 2.2-2 2.2 4.4 0.5 4.4 0.5 2-2.2z"/><path color="#75fa44" d="M506.7 156.5l-4.4-0.5-2 2.2 4.4 0.5z"/><path color="#77fa44" d="M504.7 158.7l-4.4-0.5-2 2.2 4.4 0.5z"/><path color="#6ffa46" d="M502.3 156l-4.4-0.5-2 2.2 4.4 0.5z"/><path color="#70fa45" d="M500.3 158.2l-4.4-0.5-2 2.2 4.4 0.5z"/><path class="m" d="M506.7 156.5l-4.4-0.5-4.4-0.5-2 2.2-2 2.2 4.4 0.5 4.4 0.5 2-2.2z"/><path color="#6cfa46" d="M493.8 159.9l-4.4-0.5-2 2.2 4.4 0.5z"/><path color="#6dfa46" d="M491.8 162.2l-4.4-0.5-2 2.3 4.4 0.5z"/><path color="#66fa48" d="M489.4 159.4l-4.4-0.5-2 2.2 4.4 0.5z"/><path color="#68fa47" d="M487.4 161.6l-4.4-0.5-2 2.2 4.4 0.5z"/><path class="m" d="M493.8 159.9l-4.4-0.5-4.4-0.5-2 2.2-2 2.2 4.4 0.5 4.4 0.5 2-2.3z"/><path color="#63fa48" d="M481 163.4l-4.4-0.5-2 2.2 4.4 0.5z"/><path color="#64fa48" d="M478.9 165.6l-4.4-0.5-2 2.3 4.5 0.6z"/><path color="#5ef949" d="M476.5 162.8l-4.4-0.5-2.1 2.2 4.4 0.5z"/><path color="#5ff949" d="M474.5 165.1l-4.4-0.5-2.1 2.3 4.5 0.6z"/><path class="m" d="M481 163.4l-4.4-0.5-4.4-0.5-2.1 2.2-2.1 2.3 4.5 0.6 4.5 0.6 2-2.3z"/><path color="#5cf94a" d="M468 166.8l-4.4-0.6-2.1 2.3 4.5 0.6z"/><path color="#5cf94a" d="M465.9 169.1l-4.5-0.6-2.1 2.3 4.5 0.6z"/><path color="#57f84b" d="M463.6 166.2l-4.4-0.6-2.1 2.2 4.5 0.6z"/><path color="#58f84a" d="M461.5 168.5l-4.5-0.6-2.1 2.3 4.5 0.6z"/><path class="m" d="M468 166.8l-4.4-0.6-4.4-0.6-2.1 2.2-2.1 2.3 4.5 0.6 4.5 0.6 2-2.3z"/><path color="#bdf732" d="M614.9 128.7l-4.3-0.2-1.8 2.1 4.3 0.3z"/><path color="#c1f730" d="M613.2 130.8l-4.3-0.3-1.8 2.1 4.3 0.3z"/><path color="#b5f835" d="M610.6 128.5l-4.3-0.2-1.8 2 4.3 0.3z"/><path color="#baf733" d="M608.9 130.6l-4.3-0.3-1.8 2.1 4.3 0.3z"/><path class="m" d="M614.9 128.7l-4.3-0.2-4.3-0.2-1.8 2-1.8 2.1 4.3 0.3 4.3 0.3 1.7-2.1z"/><path color="#aff837" d="M590.6 136l-4.3-0.3-1.8 2.1 4.3 0.3z"/><path color="#b3f836" d="M588.8 138.1l-4.3-0.3-1.8 2.1 4.4 0.3z"/><path color="#a9f838" d="M586.2 135.7l-4.3-0.3-1.8 2.1 4.3 0.3z"/><path color="#acf838" d="M584.4 137.8l-4.3-0.3-1.8 2.1 4.4 0.3z"/><path class="m" d="M590.6 136l-4.3-0.3-4.3-0.3-1.8 2.1-1.8 2.1 4.4 0.3 4.4 0.3 1.8-2.2z"/><path color="#a1f93a" d="M565.9 143.2l-4.4-0.4-1.9 2.2 4.4 0.4z"/><path color="#a4f839" d="M564 145.4l-4.4-0.4-1.9 2.2 4.4 0.4z"/><path color="#9bf93b" d="M561.5 142.9l-4.4-0.4-1.9 2.1 4.4 0.4z"/><path color="#9ef93b" d="M559.6 145l-4.4-0.4-1.9 2.2 4.4 0.4z"/><path class="m" d="M565.9 143.2l-4.4-0.4-4.4-0.4-1.9 2.1-1.9 2.2 4.4 0.4 4.4 0.4 1.9-2.2z"/><path color="#9af93c" d="M553.4 146.8l-4.4-0.4-1.9 2.2 4.4 0.4z"/><path color="#9cf93b" d="M551.5 149l-4.4-0.4-1.9 2.2 4.4 0.4z"/><path color="#93f93d" d="M549 146.4l-4.4-0.4-1.9 2.2 4.4 0.4z"/><path color="#96f93d" d="M547.1 148.6l-4.4-0.4-1.9 2.2 4.4 0.4z"/><path class="m" d="M553.4 146.8l-4.4-0.4-4.4-0.4-1.9 2.2-1.9 2.2 4.4 0.4 4.4 0.4 1.9-2.2z"/><path color="#92f93d" d="M540.8 150.4l-4.4-0.4-1.9 2.2 4.4 0.4z"/><path color="#94f93d" d="M538.9 152.6l-4.4-0.4-1.9 2.2 4.4 0.5z"/><path color="#8cfa3f" d="M536.4 149.9l-4.4-0.4-1.9 2.2 4.4 0.4z"/><path color="#8ef93e" d="M534.5 152.1l-4.4-0.4-1.9 2.2 4.4 0.5z"/><path class="m" d="M540.8 150.4l-4.4-0.4-4.4-0.4-1.9 2.2-1.9 2.2 4.4 0.5 4.4 0.5 1.9-2.2z"/><path color="#8afa3f" d="M528.2 153.9l-4.4-0.4-1.9 2.2 4.4 0.5z"/><path color="#8bfa3f" d="M526.3 156.1l-4.4-0.5-1.9 2.2 4.4 0.5z"/><path color="#83fa41" d="M523.8 153.4l-4.4-0.4-2 2.2 4.4 0.5z"/><path color="#85fa40" d="M521.9 155.7l-4.4-0.5-2 2.2 4.4 0.5z"/><path class="m" d="M528.2 153.9l-4.4-0.4-4.4-0.4-2 2.2-2 2.2 4.4 0.5 4.4 0.5 1.9-2.3z"/><path color="#81fa41" d="M515.5 157.4l-4.4-0.5-2 2.2 4.4 0.5z"/><path color="#82fa41" d="M513.5 159.7l-4.4-0.5-2 2.3 4.4 0.5z"/><path color="#7bfa43" d="M511.1 156.9l-4.4-0.5-2 2.2 4.4 0.5z"/><path color="#7dfa42" d="M509.1 159.2l-4.4-0.5-2 2.2 4.4 0.5z"/><path class="m" d="M515.5 157.4l-4.4-0.5-4.4-0.5-2 2.2-2 2.2 4.4 0.5 4.4 0.5 2-2.3z"/><path color="#6ffa46" d="M489.8 164.4l-4.4-0.5-2 2.3 4.5 0.6z"/><path color="#70fa45" d="M487.8 166.7l-4.5-0.6-2 2.3 4.5 0.6z"/><path color="#69fa47" d="M485.4 163.9l-4.4-0.5-2 2.3 4.4 0.6z"/><path color="#6afa47" d="M483.4 166.2l-4.4-0.6-2 2.3 4.5 0.6z"/><path class="m" d="M489.8 164.4l-4.4-0.5-4.4-0.5-2 2.3-2 2.3 4.5 0.6 4.5 0.6 2-2.3z"/><path color="#5df949" d="M463.9 171.4l-4.5-0.6-2.1 2.3 4.5 0.6z"/><path color="#5df949" d="M461.9 173.7l-4.5-0.6-2.1 2.4 4.5 0.6z"/><path color="#58f84a" d="M459.4 170.8l-4.5-0.6-2.1 2.3 4.5 0.6z"/><path color="#59f84a" d="M457.4 173.1l-4.5-0.6-2.1 2.3 4.5 0.6z"/><path class="m" d="M463.9 171.4l-4.5-0.6-4.5-0.6-2.1 2.3-2.1 2.3 4.5 0.6 4.5 0.6 2-2.4z"/><path color="#b6f734" d="M602.8 132.4l-4.3-0.3-1.8 2.1 4.3 0.3z"/><path color="#baf733" d="M601 134.5l-4.3-0.3-1.8 2.1 4.3 0.3z"/><path color="#aff837" d="M598.5 132.1l-4.3-0.3-1.8 2.1 4.3 0.3z"/><path color="#b3f836" d="M596.7 134.2l-4.3-0.3-1.8 2.1 4.3 0.3z"/><path class="m" d="M602.8 132.4l-4.3-0.3-4.3-0.3-1.8 2.1-1.8 2.1 4.3 0.3 4.3 0.3 1.8-2.1z"/><path color="#a9f838" d="M578.3 139.6l-4.3-0.3-1.8 2.1 4.4 0.4z"/><path color="#acf838" d="M576.4 141.8l-4.4-0.4-1.8 2.2 4.4 0.4z"/><path color="#a2f93a" d="M573.9 139.3l-4.3-0.3-1.9 2.1 4.4 0.3z"/><path color="#a5f839" d="M572.1 141.4l-4.4-0.3-1.9 2.1 4.4 0.4z"/><path class="m" d="M578.3 139.6l-4.3-0.3-4.3-0.3-1.9 2.1-1.9 2.1 4.4 0.4 4.4 0.4 1.8-2.2z"/><path color="#78fa43" d="M502.7 160.9l-4.4-0.5-2 2.3 4.4 0.5z"/><path color="#79fa43" d="M500.7 163.2l-4.4-0.5-2 2.3 4.5 0.5z"/><path color="#72fa45" d="M498.3 160.4l-4.4-0.5-2 2.2 4.4 0.5z"/><path color="#73fa44" d="M496.3 162.7l-4.4-0.5-2 2.3 4.4 0.5z"/><path class="m" d="M502.7 160.9l-4.4-0.5-4.4-0.5-2 2.2-2 2.3 4.4 0.5 4.5 0.5 2-2.3z"/><path color="#65fa48" d="M476.9 167.9l-4.5-0.6-2 2.3 4.5 0.6z"/><path color="#66fa48" d="M474.9 170.2l-4.5-0.6-2 2.3 4.5 0.6z"/><path color="#60f949" d="M472.4 167.3l-4.5-0.6-2 2.3 4.5 0.6z"/><path color="#61fa49" d="M470.4 169.6l-4.5-0.6-2 2.3 4.5 0.6z"/><path class="m" d="M476.9 167.9l-4.5-0.6-4.5-0.6-2 2.3-2 2.3 4.5 0.6 4.5 0.6 2-2.4z"/><path color="#9ef93b" d="M549.6 151.2l-4.4-0.4-1.9 2.2 4.4 0.4z"/><path color="#a0f93a" d="M547.7 153.5l-4.4-0.4-1.9 2.3 4.4 0.5z"/><path color="#98f93c" d="M545.2 150.8l-4.4-0.4-1.9 2.2 4.4 0.4z"/><path color="#9af93c" d="M543.3 153l-4.4-0.4-1.9 2.2 4.4 0.5z"/><path class="m" d="M549.6 151.2l-4.4-0.4-4.4-0.4-1.9 2.2-1.9 2.2 4.4 0.5 4.4 0.5 1.9-2.3z"/><path color="#96f93d" d="M537 154.8l-4.4-0.5-1.9 2.3 4.4 0.5z"/><path color="#97f93c" d="M535.1 157.1l-4.4-0.5-1.9 2.3 4.4 0.5z"/><path color="#90f93e" d="M532.6 154.3l-4.4-0.5-1.9 2.2 4.4 0.5z"/><path color="#91f93e" d="M530.7 156.6l-4.4-0.5-1.9 2.3 4.4 0.5z"/><path class="m" d="M537 154.8l-4.4-0.5-4.4-0.5-1.9 2.2-1.9 2.3 4.4 0.5 4.4 0.5 1.9-2.3z"/><path color="#c5f62f" d="M611.5 132.9l-4.3-0.3-1.8 2.1 4.3 0.3z"/><path color="#c9f62d" d="M609.7 135.1l-4.3-0.3-1.8 2.2 4.4 0.3z"/><path color="#bef731" d="M607.1 132.7l-4.3-0.3-1.8 2.1 4.3 0.3z"/><path color="#c1f730" d="M605.4 134.8l-4.3-0.3-1.8 2.1 4.3 0.3z"/><path class="m" d="M611.5 132.9l-4.3-0.3-4.3-0.3-1.8 2.1-1.8 2.1 4.3 0.3 4.4 0.3 1.7-2.2z"/><path color="#bef731" d="M599.3 136.6l-4.3-0.3-1.8 2.1 4.4 0.3z"/><path color="#c1f730" d="M597.5 138.8l-4.4-0.3-1.8 2.2 4.4 0.3z"/><path color="#b7f734" d="M594.9 136.3l-4.3-0.3-1.8 2.1 4.4 0.3z"/><path color="#baf733" d="M593.1 138.5l-4.4-0.3-1.8 2.2 4.4 0.3z"/><path class="m" d="M599.3 136.6l-4.3-0.3-4.3-0.3-1.8 2.1-1.8 2.2 4.4 0.3 4.4 0.3 1.8-2.2z"/><path color="#b6f734" d="M587 140.3l-4.4-0.3-1.8 2.2 4.4 0.4z"/><path color="#b9f733" d="M585.2 142.5l-4.4-0.4-1.8 2.2 4.4 0.4z"/><path color="#aff837" d="M582.6 140l-4.4-0.3-1.8 2.1 4.4 0.4z"/><path color="#b2f836" d="M580.8 142.1l-4.4-0.4-1.8 2.2 4.4 0.4z"/><path class="m" d="M587 140.3l-4.4-0.3-4.4-0.3-1.8 2.1-1.8 2.2 4.4 0.4 4.4 0.4 1.8-2.2z"/><path color="#aef837" d="M574.6 144l-4.4-0.4-1.8 2.2 4.4 0.4z"/><path color="#b1f836" d="M572.8 146.2l-4.4-0.4-1.8 2.2 4.4 0.4z"/><path color="#a8f839" d="M570.2 143.6l-4.4-0.4-1.9 2.2 4.4 0.4z"/><path color="#aaf838" d="M568.4 145.8l-4.4-0.4-1.9 2.2 4.4 0.4z"/><path class="m" d="M574.6 144l-4.4-0.4-4.4-0.4-1.9 2.2-1.9 2.2 4.4 0.4 4.4 0.4 1.8-2.2z"/><path color="#a6f839" d="M562.2 147.6l-4.4-0.4-1.9 2.2 4.4 0.4z"/><path color="#a9f838" d="M560.3 149.8l-4.4-0.4-1.9 2.2 4.4 0.4z"/><path color="#a0f93a" d="M557.8 147.2l-4.4-0.4-1.9 2.2 4.4 0.4z"/><path color="#a2f93a" d="M555.9 149.4l-4.4-0.4-1.9 2.2 4.4 0.4z"/><path class="m" d="M562.2 147.6l-4.4-0.4-4.4-0.4-1.9 2.2-1.9 2.2 4.4 0.4 4.4 0.4 1.9-2.3z"/><path color="#8dfa3f" d="M524.3 158.4l-4.4-0.5-1.9 2.3 4.4 0.5z"/><path color="#8ef93e" d="M522.4 160.7l-4.4-0.5-1.9 2.3 4.4 0.5z"/><path color="#87fa40" d="M519.9 157.9l-4.4-0.5-2 2.3 4.4 0.5z"/><path color="#88fa40" d="M518 160.2l-4.4-0.5-2 2.3 4.4 0.5z"/><path class="m" d="M524.3 158.4l-4.4-0.5-4.4-0.5-2 2.3-2 2.3 4.4 0.5 4.4 0.5 1.9-2.3z"/><path color="#84fa41" d="M511.6 162l-4.4-0.5-2 2.3 4.5 0.5z"/><path color="#85fa40" d="M509.6 164.3l-4.5-0.5-2 2.3 4.5 0.6z"/><path color="#7efa42" d="M507.1 161.4l-4.4-0.5-2 2.3 4.4 0.5z"/><path color="#7ffa42" d="M505.2 163.7l-4.4-0.5-2 2.3 4.5 0.6z"/><path class="m" d="M511.6 162l-4.4-0.5-4.4-0.5-2 2.3-2 2.3 4.5 0.6 4.5 0.6 2-2.3z"/><path color="#7afa43" d="M498.7 165.5l-4.5-0.5-2 2.3 4.5 0.6z"/><path color="#7bfa43" d="M496.8 167.9l-4.5-0.6-2 2.4 4.5 0.6z"/><path color="#74fa44" d="M494.3 165l-4.4-0.5-2 2.3 4.5 0.6z"/><path color="#75fa44" d="M492.3 167.3l-4.5-0.6-2 2.3 4.5 0.6z"/><path class="m" d="M498.7 165.5l-4.5-0.5-4.4-0.5-2 2.3-2 2.3 4.5 0.6 4.5 0.6 2-2.4z"/><path color="#70fa45" d="M485.8 169.1l-4.5-0.6-2 2.3 4.5 0.6z"/><path color="#71fa45" d="M483.8 171.4l-4.5-0.6-2 2.4 4.5 0.6z"/><path color="#6bfa46" d="M481.4 168.5l-4.5-0.6-2 2.3 4.5 0.6z"/><path color="#6bfa46" d="M479.4 170.8l-4.5-0.6-2 2.4 4.5 0.6z"/><path class="m" d="M485.8 169.1l-4.5-0.6-4.5-0.6-2 2.3-2 2.4 4.5 0.6 4.5 0.6 2-2.4z"/><path color="#66fa48" d="M472.9 172.6l-4.5-0.6-2 2.4 4.5 0.6z"/><path color="#66fa48" d="M470.8 175l-4.5-0.6-2 2.4 4.5 0.6z"/><path color="#61fa49" d="M468.4 172l-4.5-0.6-2 2.3 4.5 0.6z"/><path color="#61fa49" d="M466.3 174.3l-4.5-0.6-2 2.4 4.5 0.6z"/><path class="m" d="M472.9 172.6l-4.5-0.6-4.5-0.6-2 2.3-2 2.4 4.5 0.6 4.5 0.6 2-2.4z"/><path color="#ccf62c" d="M608 137.3l-4.4-0.3-1.8 2.2 4.4 0.3z"/><path color="#cff62b" d="M606.2 139.5l-4.4-0.3-1.8 2.2 4.4 0.4z"/><path color="#c5f62f" d="M603.6 136.9l-4.3-0.3-1.8 2.2 4.4 0.3z"/><path color="#c8f62e" d="M601.8 139.1l-4.4-0.3-1.8 2.2 4.4 0.4z"/><path class="m" d="M608 137.3l-4.4-0.3-4.3-0.3-1.8 2.2-1.8 2.2 4.4 0.4 4.4 0.4 1.8-2.2z"/><path color="#bcf732" d="M583.4 144.7l-4.4-0.4-1.8 2.2 4.4 0.4z"/><path color="#bef731" d="M581.6 146.9l-4.4-0.4-1.8 2.3 4.4 0.4z"/><path color="#b5f835" d="M579 144.3l-4.4-0.4-1.8 2.2 4.4 0.4z"/><path color="#b8f734" d="M577.2 146.6l-4.4-0.4-1.8 2.2 4.4 0.4z"/><path class="m" d="M583.4 144.7l-4.4-0.4-4.4-0.4-1.8 2.2-1.8 2.2 4.4 0.4 4.4 0.4 1.8-2.3z"/><path color="#b3f835" d="M570.9 148.4l-4.4-0.4-1.8 2.2 4.4 0.4z"/><path color="#b5f835" d="M569.1 150.7l-4.4-0.4-1.8 2.3 4.4 0.4z"/><path color="#adf837" d="M566.6 148l-4.4-0.4-1.9 2.2 4.4 0.4z"/><path color="#aff837" d="M564.7 150.2l-4.4-0.4-1.9 2.3 4.4 0.4z"/><path class="m" d="M570.9 148.4l-4.4-0.4-4.4-0.4-1.9 2.2-1.9 2.3 4.4 0.4 4.4 0.4 1.8-2.3z"/><path color="#abf838" d="M558.4 152.1l-4.4-0.4-1.9 2.3 4.4 0.5z"/><path color="#acf838" d="M556.6 154.4l-4.4-0.5-1.9 2.3 4.4 0.5z"/><path color="#a4f839" d="M554 151.6l-4.4-0.4-1.9 2.3 4.4 0.5z"/><path color="#a6f839" d="M552.2 153.9l-4.4-0.5-1.9 2.3 4.4 0.5z"/><path class="m" d="M558.4 152.1l-4.4-0.4-4.4-0.4-1.9 2.3-1.9 2.3 4.4 0.5 4.4 0.5 1.9-2.3z"/><path color="#a2f93a" d="M545.9 155.7l-4.4-0.5-1.9 2.3 4.4 0.5z"/><path color="#a3f93a" d="M544 158l-4.4-0.5-1.9 2.3 4.4 0.5z"/><path color="#9cf93b" d="M541.4 155.3l-4.4-0.5-1.9 2.3 4.4 0.5z"/><path color="#9df93b" d="M539.5 157.6l-4.4-0.5-1.9 2.3 4.4 0.5z"/><path class="m" d="M545.9 155.7l-4.4-0.5-4.4-0.5-1.9 2.3-1.9 2.3 4.4 0.5 4.4 0.5 1.9-2.3z"/><path color="#99f93c" d="M533.2 159.4l-4.4-0.5-1.9 2.3 4.4 0.5z"/><path color="#9af93c" d="M531.3 161.7l-4.4-0.5-1.9 2.3 4.5 0.5z"/><path color="#93f93d" d="M528.8 158.9l-4.4-0.5-1.9 2.3 4.4 0.5z"/><path color="#94f93d" d="M526.8 161.2l-4.4-0.5-1.9 2.3 4.5 0.5z"/><path class="m" d="M533.2 159.4l-4.4-0.5-4.4-0.5-1.9 2.3-1.9 2.3 4.5 0.5 4.5 0.5 1.9-2.4z"/><path color="#8ff93e" d="M520.5 163l-4.4-0.5-1.9 2.3 4.5 0.5z"/><path color="#90f93e" d="M518.5 165.4l-4.5-0.5-1.9 2.4 4.5 0.6z"/><path color="#8afa3f" d="M516 162.5l-4.4-0.5-2 2.3 4.5 0.5z"/><path color="#8afa3f" d="M514.1 164.8l-4.5-0.5-2 2.3 4.5 0.6z"/><path class="m" d="M520.5 163l-4.4-0.5-4.4-0.5-2 2.3-2 2.3 4.5 0.6 4.5 0.6 1.9-2.4z"/><path color="#86fa40" d="M507.7 166.6l-4.5-0.6-2 2.4 4.5 0.6z"/><path color="#86fa40" d="M505.7 169l-4.5-0.6-2 2.4 4.5 0.6z"/><path color="#80fa41" d="M503.2 166.1l-4.5-0.6-2 2.3 4.5 0.6z"/><path color="#80fa41" d="M501.2 168.4l-4.5-0.6-2 2.4 4.5 0.6z"/><path class="m" d="M507.7 166.6l-4.5-0.6-4.5-0.6-2 2.3-2 2.4 4.5 0.6 4.5 0.6 2-2.4z"/><path color="#71fa45" d="M481.8 173.8l-4.5-0.6-2 2.4 4.5 0.6z"/><path color="#71fa45" d="M479.8 176.2l-4.5-0.6-2 2.4 4.5 0.7z"/><path color="#6bfa46" d="M477.3 173.2l-4.5-0.6-2 2.4 4.5 0.6z"/><path color="#6bfa46" d="M475.3 175.6l-4.5-0.6-2 2.4 4.5 0.7z"/><path class="m" d="M481.8 173.8l-4.5-0.6-4.5-0.6-2 2.4-2 2.4 4.5 0.7 4.5 0.7 2-2.5z"/><path color="#c4f62f" d="M595.7 141l-4.4-0.3-1.8 2.2 4.4 0.4z"/><path color="#c7f62e" d="M593.9 143.2l-4.4-0.4-1.8 2.2 4.4 0.4z"/><path color="#bdf732" d="M591.3 140.6l-4.4-0.3-1.8 2.2 4.4 0.4z"/><path color="#c0f731" d="M589.5 142.9l-4.4-0.4-1.8 2.2 4.4 0.4z"/><path class="m" d="M595.7 141l-4.4-0.3-4.4-0.3-1.8 2.2-1.8 2.2 4.4 0.4 4.4 0.4 1.8-2.3z"/><path color="#7bfa43" d="M494.8 170.2l-4.5-0.6-2 2.4 4.5 0.6z"/><path color="#7cfa43" d="M492.8 172.6l-4.5-0.6-2 2.4 4.5 0.6z"/><path color="#76fa44" d="M490.3 169.6l-4.5-0.6-2 2.4 4.5 0.6z"/><path color="#76fa44" d="M488.3 172l-4.5-0.6-2 2.4 4.5 0.6z"/><path class="m" d="M494.8 170.2l-4.5-0.6-4.5-0.6-2 2.4-2 2.4 4.5 0.6 4.5 0.6 2-2.4z"/><path color="#d2f52a" d="M604.5 141.7l-4.4-0.4-1.8 2.2 4.4 0.4z"/><path color="#d4f529" d="M602.7 144l-4.4-0.4-1.8 2.3 4.4 0.4z"/><path color="#cbf62d" d="M600.1 141.3l-4.4-0.4-1.8 2.2 4.4 0.4z"/><path color="#cef62c" d="M598.3 143.6l-4.4-0.4-1.8 2.3 4.4 0.4z"/><path class="m" d="M604.5 141.7l-4.4-0.4-4.4-0.4-1.8 2.2-1.8 2.3 4.4 0.4 4.4 0.4 1.8-2.3z"/><path color="#c9f62d" d="M592.1 145.5l-4.4-0.4-1.8 2.3 4.4 0.4z"/><path color="#cbf62c" d="M590.4 147.8l-4.4-0.4-1.8 2.3 4.4 0.4z"/><path color="#c3f730" d="M587.8 145.1l-4.4-0.4-1.8 2.2 4.4 0.4z"/><path color="#c5f62f" d="M586 147.4l-4.4-0.4-1.8 2.3 4.4 0.4z"/><path class="m" d="M592.1 145.5l-4.4-0.4-4.4-0.4-1.8 2.2-1.8 2.3 4.4 0.4 4.4 0.4 1.8-2.3z"/><path color="#c0f730" d="M579.8 149.2l-4.4-0.4-1.8 2.3 4.4 0.4z"/><path color="#c2f730" d="M577.9 151.5l-4.4-0.4-1.8 2.3 4.4 0.5z"/><path color="#baf733" d="M575.3 148.8l-4.4-0.4-1.8 2.3 4.4 0.4z"/><path color="#bcf732" d="M573.5 151.1l-4.4-0.4-1.8 2.3 4.4 0.5z"/><path class="m" d="M579.8 149.2l-4.4-0.4-4.4-0.4-1.8 2.3-1.8 2.3 4.4 0.5 4.4 0.5 1.8-2.3z"/><path color="#b7f734" d="M567.3 153l-4.4-0.4-1.8 2.3 4.4 0.5z"/><path color="#b9f733" d="M565.4 155.3l-4.4-0.5-1.9 2.3 4.4 0.5z"/><path color="#b1f836" d="M562.9 152.5l-4.4-0.4-1.9 2.3 4.4 0.5z"/><path color="#b2f836" d="M561 154.8l-4.4-0.5-1.9 2.3 4.4 0.5z"/><path class="m" d="M567.3 153l-4.4-0.4-4.4-0.4-1.9 2.3-1.9 2.3 4.4 0.5 4.4 0.5 1.8-2.4z"/><path color="#aef837" d="M554.7 156.7l-4.4-0.5-1.9 2.3 4.4 0.5z"/><path color="#aff837" d="M552.9 159l-4.4-0.5-1.9 2.4 4.5 0.5z"/><path color="#a8f839" d="M550.3 156.2l-4.4-0.5-1.9 2.3 4.4 0.5z"/><path color="#a9f838" d="M548.4 158.5l-4.4-0.5-1.9 2.3 4.4 0.5z"/><path class="m" d="M554.7 156.7l-4.4-0.5-4.4-0.5-1.9 2.3-1.9 2.3 4.4 0.5 4.5 0.5 1.9-2.4z"/><path color="#a4f839" d="M542.1 160.4l-4.4-0.5-1.9 2.4 4.5 0.5z"/><path color="#a5f839" d="M540.2 162.8l-4.5-0.5-1.9 2.4 4.5 0.5z"/><path color="#9ff93b" d="M537.6 159.9l-4.4-0.5-1.9 2.3 4.5 0.5z"/><path color="#a0f93a" d="M535.7 162.2l-4.5-0.5-1.9 2.4 4.5 0.5z"/><path class="m" d="M542.1 160.4l-4.4-0.5-4.4-0.5-1.9 2.3-1.9 2.4 4.5 0.5 4.5 0.5 1.9-2.4z"/><path color="#9bf93c" d="M529.4 164.1l-4.5-0.5-1.9 2.4 4.5 0.6z"/><path color="#9bf93b" d="M527.5 166.5l-4.5-0.6-1.9 2.4 4.5 0.6z"/><path color="#95f93d" d="M524.9 163.5l-4.5-0.5-1.9 2.4 4.5 0.6z"/><path color="#96f93d" d="M523 165.9l-4.5-0.6-1.9 2.4 4.5 0.6z"/><path class="m" d="M529.4 164.1l-4.5-0.5-4.5-0.5-1.9 2.4-1.9 2.4 4.5 0.6 4.5 0.6 1.9-2.4z"/><path color="#91f93e" d="M516.6 167.8l-4.5-0.6-1.9 2.4 4.5 0.6z"/><path color="#91f93e" d="M514.7 170.2l-4.5-0.6-1.9 2.4 4.5 0.6z"/><path color="#8bfa3f" d="M512.1 167.2l-4.5-0.6-2 2.4 4.5 0.6z"/><path color="#8bfa3f" d="M510.2 169.6l-4.5-0.6-2 2.4 4.5 0.6z"/><path class="m" d="M516.6 167.8l-4.5-0.6-4.5-0.6-2 2.4-2 2.4 4.5 0.6 4.5 0.6 1.9-2.4z"/><path color="#86fa40" d="M503.7 171.4l-4.5-0.6-2 2.4 4.5 0.6z"/><path color="#86fa40" d="M501.8 173.9l-4.5-0.6-2 2.5 4.5 0.6z"/><path color="#81fa41" d="M499.3 170.8l-4.5-0.6-2 2.4 4.5 0.6z"/><path color="#81fa41" d="M497.3 173.2l-4.5-0.6-2 2.4 4.5 0.6z"/><path class="m" d="M503.7 171.4l-4.5-0.6-4.5-0.6-2 2.4-2 2.4 4.5 0.6 4.5 0.6 2-2.5z"/><path color="#7cfa43" d="M490.8 175.1l-4.5-0.6-2 2.4 4.5 0.6z"/><path color="#7bfa43" d="M488.8 177.5l-4.5-0.6-2 2.5 4.5 0.7z"/><path color="#76fa44" d="M486.3 174.4l-4.5-0.6-2 2.4 4.5 0.6z"/><path color="#76fa44" d="M484.3 176.9l-4.5-0.6-2 2.5 4.5 0.7z"/><path class="m" d="M490.8 175.1l-4.5-0.6-4.5-0.6-2 2.4-2 2.5 4.5 0.7 4.5 0.7 2-2.5z"/><path color="#d6f528" d="M600.9 146.3l-4.4-0.4-1.8 2.3 4.4 0.4z"/><path color="#d8f527" d="M599.2 148.6l-4.4-0.4-1.8 2.3 4.4 0.4z"/><path color="#d0f62b" d="M596.5 145.9l-4.4-0.4-1.8 2.3 4.4 0.4z"/><path color="#d2f52a" d="M594.8 148.2l-4.4-0.4-1.8 2.3 4.4 0.4z"/><path class="m" d="M600.9 146.3l-4.4-0.4-4.4-0.4-1.8 2.3-1.8 2.3 4.4 0.4 4.4 0.4 1.8-2.4z"/><path color="#cdf62c" d="M588.6 150.1l-4.4-0.4-1.8 2.3 4.4 0.4z"/><path color="#cff62b" d="M586.8 152.4l-4.4-0.4-1.8 2.4 4.4 0.5z"/><path color="#c7f62e" d="M584.2 149.6l-4.4-0.4-1.8 2.3 4.4 0.4z"/><path color="#c9f62d" d="M582.4 152l-4.4-0.4-1.8 2.3 4.4 0.5z"/><path class="m" d="M588.6 150.1l-4.4-0.4-4.4-0.4-1.8 2.3-1.8 2.3 4.4 0.5 4.4 0.5 1.8-2.4z"/><path color="#c4f62f" d="M576.1 153.9l-4.4-0.5-1.8 2.3 4.4 0.5z"/><path color="#c5f62f" d="M574.3 156.2l-4.4-0.5-1.8 2.4 4.4 0.5z"/><path color="#bef732" d="M571.7 153.4l-4.4-0.5-1.8 2.3 4.4 0.5z"/><path color="#bff731" d="M569.9 155.8l-4.4-0.5-1.8 2.4 4.4 0.5z"/><path class="m" d="M576.1 153.9l-4.4-0.5-4.4-0.5-1.8 2.3-1.8 2.4 4.4 0.5 4.4 0.5 1.8-2.4z"/><path color="#baf733" d="M563.6 157.7l-4.4-0.5-1.9 2.4 4.5 0.5z"/><path color="#bbf732" d="M561.8 160l-4.5-0.5-1.9 2.4 4.5 0.5z"/><path color="#b4f835" d="M559.2 157.2l-4.4-0.5-1.9 2.4 4.4 0.5z"/><path color="#b5f835" d="M557.3 159.5l-4.4-0.5-1.9 2.4 4.5 0.5z"/><path class="m" d="M563.6 157.7l-4.4-0.5-4.4-0.5-1.9 2.4-1.9 2.4 4.5 0.5 4.5 0.5 1.8-2.4z"/><path color="#b0f837" d="M551 161.4l-4.5-0.5-1.9 2.4 4.5 0.5z"/><path color="#b1f836" d="M549.1 163.8l-4.5-0.5-1.9 2.4 4.5 0.6z"/><path color="#aaf838" d="M546.5 160.9l-4.4-0.5-1.9 2.4 4.5 0.5z"/><path color="#abf838" d="M544.7 163.3l-4.5-0.5-1.9 2.4 4.5 0.5z"/><path class="m" d="M551 161.4l-4.5-0.5-4.4-0.5-1.9 2.4-1.9 2.4 4.5 0.5 4.5 0.6 1.9-2.4z"/><path color="#a6f839" d="M538.3 165.2l-4.5-0.5-1.9 2.4 4.5 0.6z"/><path color="#a6f839" d="M536.4 167.6l-4.5-0.6-1.9 2.4 4.5 0.6z"/><path color="#a0f93a" d="M533.8 164.6l-4.5-0.5-1.9 2.4 4.5 0.6z"/><path color="#a1f93a" d="M531.9 167l-4.5-0.6-1.9 2.4 4.5 0.6z"/><path class="m" d="M538.3 165.2l-4.5-0.5-4.5-0.5-1.9 2.4-1.9 2.4 4.5 0.6 4.5 0.6 1.9-2.5z"/><path color="#9cf93b" d="M525.6 168.9l-4.5-0.6-1.9 2.4 4.5 0.6z"/><path color="#9cf93b" d="M523.6 171.4l-4.5-0.6-1.9 2.5 4.5 0.6z"/><path color="#96f93d" d="M521.1 168.3l-4.5-0.6-1.9 2.4 4.5 0.6z"/><path color="#96f93c" d="M519.1 170.8l-4.5-0.6-1.9 2.4 4.5 0.6z"/><path class="m" d="M525.6 168.9l-4.5-0.6-4.5-0.6-1.9 2.4-1.9 2.4 4.5 0.6 4.5 0.6 1.9-2.5z"/><path color="#91f93e" d="M512.7 172.6l-4.5-0.6-1.9 2.5 4.5 0.6z"/><path color="#91f93e" d="M510.8 175.1l-4.5-0.6-1.9 2.5 4.5 0.6z"/><path color="#8cfa3f" d="M508.2 172l-4.5-0.6-2 2.4 4.5 0.6z"/><path color="#8cfa3f" d="M506.3 174.5l-4.5-0.6-2 2.5 4.5 0.6z"/><path class="m" d="M512.7 172.6l-4.5-0.6-4.5-0.6-2 2.4-2 2.5 4.5 0.6 4.5 0.6 1.9-2.5z"/><path color="#86fa40" d="M499.8 176.3l-4.5-0.6-2 2.5 4.5 0.7z"/><path color="#85fa40" d="M497.9 178.8l-4.5-0.7-2 2.5 4.5 0.7z"/><path color="#81fa41" d="M495.3 175.7l-4.5-0.6-2 2.5 4.5 0.7z"/><path color="#80fa41" d="M493.4 178.2l-4.5-0.7-2 2.5 4.5 0.7z"/><path class="m" d="M499.8 176.3l-4.5-0.6-4.5-0.6-2 2.5-2 2.5 4.5 0.7 4.5 0.7 2-2.5z"/><path color="#d9f527" d="M597.4 150.9l-4.4-0.4-1.8 2.4 4.4 0.5z"/><path color="#daf426" d="M595.6 153.3l-4.4-0.5-1.8 2.4 4.4 0.5z"/><path color="#d4f529" d="M593 150.5l-4.4-0.4-1.8 2.3 4.4 0.4z"/><path color="#d5f529" d="M591.2 152.9l-4.4-0.4-1.8 2.4 4.4 0.5z"/><path class="m" d="M597.4 150.9l-4.4-0.4-4.4-0.4-1.8 2.3-1.8 2.4 4.4 0.5 4.4 0.5 1.8-2.4z"/><path color="#d0f52a" d="M585 154.8l-4.4-0.5-1.8 2.4 4.4 0.5z"/><path color="#d2f52a" d="M583.2 157.2l-4.4-0.5-1.8 2.4 4.5 0.5z"/><path color="#caf62d" d="M580.6 154.3l-4.4-0.5-1.8 2.4 4.4 0.5z"/><path color="#cbf62c" d="M578.8 156.7l-4.4-0.5-1.8 2.4 4.5 0.5z"/><path class="m" d="M585 154.8l-4.4-0.5-4.4-0.5-1.8 2.4-1.8 2.4 4.5 0.5 4.5 0.5 1.8-2.4z"/><path color="#c6f62e" d="M572.5 158.6l-4.4-0.5-1.8 2.4 4.5 0.5z"/><path color="#c7f62e" d="M570.7 161.1l-4.5-0.5-1.8 2.4 4.5 0.5z"/><path color="#c0f731" d="M568 158.1l-4.4-0.5-1.8 2.4 4.5 0.5z"/><path color="#c1f730" d="M566.2 160.5l-4.5-0.5-1.8 2.4 4.5 0.5z"/><path class="m" d="M572.5 158.6l-4.4-0.5-4.4-0.5-1.8 2.4-1.8 2.4 4.5 0.5 4.5 0.5 1.8-2.5z"/><path color="#bcf732" d="M559.9 162.5l-4.5-0.5-1.9 2.4 4.5 0.5z"/><path color="#bcf732" d="M558.1 164.9l-4.5-0.5-1.9 2.5 4.5 0.6z"/><path color="#b6f734" d="M555.5 161.9l-4.5-0.5-1.9 2.4 4.5 0.5z"/><path color="#b6f734" d="M553.6 164.4l-4.5-0.5-1.9 2.4 4.5 0.6z"/><path class="m" d="M559.9 162.5l-4.5-0.5-4.5-0.5-1.9 2.4-1.9 2.4 4.5 0.6 4.5 0.6 1.8-2.5z"/><path color="#b1f836" d="M547.3 166.3l-4.5-0.6-1.9 2.5 4.5 0.6z"/><path color="#b1f836" d="M545.4 168.7l-4.5-0.6-1.9 2.5 4.5 0.6z"/><path color="#abf838" d="M542.8 165.7l-4.5-0.5-1.9 2.4 4.5 0.6z"/><path color="#acf838" d="M540.9 168.2l-4.5-0.6-1.9 2.5 4.5 0.6z"/><path class="m" d="M547.3 166.3l-4.5-0.6-4.5-0.5-1.9 2.4-1.9 2.5 4.5 0.6 4.5 0.6 1.9-2.5z"/><path color="#a6f839" d="M534.5 170.1l-4.5-0.6-1.9 2.5 4.5 0.6z"/><path color="#a6f839" d="M532.6 172.6l-4.5-0.6-1.9 2.5 4.5 0.6z"/><path color="#a1f93a" d="M530 169.5l-4.5-0.6-1.9 2.5 4.5 0.6z"/><path color="#a1f93a" d="M528.1 172l-4.5-0.6-1.9 2.5 4.5 0.6z"/><path class="m" d="M534.5 170.1l-4.5-0.6-4.5-0.6-1.9 2.5-1.9 2.5 4.5 0.6 4.5 0.6 1.9-2.5z"/><path color="#9bf93b" d="M521.7 173.9l-4.5-0.6-1.9 2.5 4.5 0.6z"/><path color="#9bf93b" d="M519.8 176.4l-4.5-0.6-1.9 2.5 4.5 0.7z"/><path color="#96f93c" d="M517.2 173.2l-4.5-0.6-1.9 2.5 4.5 0.6z"/><path color="#96f93d" d="M515.3 175.7l-4.5-0.6-1.9 2.5 4.5 0.6z"/><path class="m" d="M521.7 173.9l-4.5-0.6-4.5-0.6-1.9 2.5-1.9 2.5 4.5 0.6 4.5 0.7 1.9-2.6z"/><path color="#90f93e" d="M508.9 177.6l-4.5-0.6-1.9 2.5 4.5 0.7z"/><path color="#90f93e" d="M506.9 180.2l-4.5-0.7-1.9 2.6 4.5 0.7z"/><path color="#8bfa3f" d="M504.3 177l-4.5-0.6-2 2.5 4.5 0.7z"/><path color="#8bfa3f" d="M502.4 179.5l-4.5-0.7-2 2.5 4.5 0.7z"/><path class="m" d="M508.9 177.6l-4.5-0.6-4.5-0.6-2 2.5-2 2.5 4.5 0.7 4.5 0.7 1.9-2.6z"/><path color="#dbf426" d="M593.9 155.7l-4.4-0.5-1.8 2.4 4.5 0.5z"/><path color="#dcf426" d="M592.1 158.2l-4.5-0.5-1.8 2.5 4.5 0.5z"/><path color="#d7f528" d="M589.4 155.3l-4.4-0.5-1.8 2.4 4.5 0.5z"/><path color="#d7f528" d="M587.7 157.7l-4.5-0.5-1.8 2.4 4.5 0.5z"/><path class="m" d="M593.9 155.7l-4.4-0.5-4.4-0.5-1.8 2.4-1.8 2.4 4.5 0.5 4.5 0.5 1.8-2.5z"/><path color="#d2f52a" d="M581.4 159.6l-4.5-0.5-1.8 2.4 4.5 0.5z"/><path color="#d3f52a" d="M579.6 162.1l-4.5-0.5-1.8 2.5 4.5 0.5z"/><path color="#ccf62c" d="M576.9 159.1l-4.5-0.5-1.8 2.4 4.5 0.5z"/><path color="#cdf62c" d="M575.1 161.6l-4.5-0.5-1.8 2.5 4.5 0.5z"/><path class="m" d="M581.4 159.6l-4.5-0.5-4.5-0.5-1.8 2.4-1.8 2.5 4.5 0.5 4.5 0.5 1.8-2.5z"/><path color="#a6f839" d="M530.7 175.1l-4.5-0.6-1.9 2.5 4.5 0.6z"/><path color="#a5f839" d="M528.9 177.7l-4.5-0.6-1.9 2.6 4.5 0.7z"/><path color="#a1f93a" d="M526.2 174.5l-4.5-0.6-1.9 2.5 4.5 0.6z"/><path color="#a0f93a" d="M524.3 177l-4.5-0.6-1.9 2.6 4.5 0.7z"/><path class="m" d="M530.7 175.1l-4.5-0.6-4.5-0.6-1.9 2.5-1.9 2.6 4.5 0.7 4.5 0.7 1.9-2.6z"/><path color="#9af93c" d="M517.9 178.9l-4.5-0.7-1.9 2.6 4.5 0.7z"/><path color="#99f93c" d="M516 181.5l-4.5-0.7-1.9 2.6 4.5 0.7z"/><path color="#95f93d" d="M513.4 178.3l-4.5-0.6-1.9 2.5 4.5 0.7z"/><path color="#95f93d" d="M511.5 180.8l-4.5-0.7-1.9 2.6 4.5 0.7z"/><path class="m" d="M517.9 178.9l-4.5-0.7-4.5-0.6-1.9 2.5-1.9 2.6 4.5 0.7 4.5 0.7 1.9-2.6z"/><path color="#c8f62e" d="M568.9 163.5l-4.5-0.5-1.8 2.5 4.5 0.6z"/><path color="#c8f62e" d="M567 166l-4.5-0.6-1.8 2.5 4.5 0.6z"/><path color="#c2f730" d="M564.4 163l-4.5-0.5-1.8 2.5 4.5 0.5z"/><path color="#c2f730" d="M562.5 165.5l-4.5-0.5-1.8 2.5 4.5 0.6z"/><path class="m" d="M568.9 163.5l-4.5-0.5-4.5-0.5-1.8 2.5-1.8 2.5 4.5 0.6 4.5 0.6 1.8-2.5z"/><path color="#bdf732" d="M556.2 167.4l-4.5-0.6-1.9 2.5 4.5 0.6z"/><path color="#bcf732" d="M554.4 169.9l-4.5-0.6-1.9 2.5 4.5 0.6z"/><path color="#b7f734" d="M551.7 166.8l-4.5-0.6-1.9 2.5 4.5 0.6z"/><path color="#b7f734" d="M549.9 169.3l-4.5-0.6-1.9 2.5 4.5 0.6z"/><path class="m" d="M556.2 167.4l-4.5-0.6-4.5-0.6-1.9 2.5-1.9 2.5 4.5 0.6 4.5 0.6 1.8-2.5z"/><path color="#b1f836" d="M543.5 171.3l-4.5-0.6-1.9 2.5 4.5 0.6z"/><path color="#b1f836" d="M541.7 173.8l-4.5-0.6-1.9 2.5 4.5 0.6z"/><path color="#acf838" d="M539 170.7l-4.5-0.6-1.9 2.5 4.5 0.6z"/><path color="#abf838" d="M537.1 173.2l-4.5-0.6-1.9 2.5 4.5 0.6z"/><path class="m" d="M543.5 171.3l-4.5-0.6-4.5-0.6-1.9 2.5-1.9 2.5 4.5 0.6 4.5 0.6 1.9-2.6z"/><path color="#dcf425" d="M590.3 160.7l-4.5-0.5-1.8 2.5 4.5 0.5z"/><path color="#ddf425" d="M588.6 163.2l-4.5-0.5-1.8 2.5 4.5 0.6z"/><path color="#d8f527" d="M585.9 160.1l-4.5-0.5-1.8 2.5 4.5 0.5z"/><path color="#d8f527" d="M584.1 162.6l-4.5-0.5-1.8 2.5 4.5 0.5z"/><path class="m" d="M590.3 160.7l-4.5-0.5-4.5-0.5-1.8 2.5-1.8 2.5 4.5 0.5 4.5 0.6 1.8-2.5z"/><path color="#a4f839" d="M527 180.2l-4.5-0.7-1.9 2.6 4.5 0.7z"/><path color="#a3f93a" d="M525.1 182.9l-4.5-0.7-1.9 2.6 4.6 0.7z"/><path color="#9ff93a" d="M522.4 179.6l-4.5-0.7-1.9 2.6 4.5 0.7z"/><path color="#9ef93b" d="M520.5 182.2l-4.5-0.7-1.9 2.6 4.6 0.7z"/><path class="m" d="M527 180.2l-4.5-0.7-4.5-0.7-1.9 2.6-1.9 2.6 4.6 0.7 4.6 0.7 1.9-2.7z"/><path color="#d3f529" d="M577.8 164.6l-4.5-0.5-1.8 2.5 4.5 0.6z"/><path color="#d3f529" d="M576 167.1l-4.5-0.6-1.8 2.5 4.5 0.6z"/><path color="#cdf62c" d="M573.3 164.1l-4.5-0.5-1.8 2.5 4.5 0.6z"/><path color="#cef62c" d="M571.5 166.6l-4.5-0.6-1.8 2.5 4.5 0.6z"/><path class="m" d="M577.8 164.6l-4.5-0.5-4.5-0.5-1.8 2.5-1.8 2.5 4.5 0.6 4.5 0.6 1.8-2.6z"/><path color="#c8f62e" d="M565.2 168.5l-4.5-0.6-1.8 2.5 4.5 0.6z"/><path color="#c8f62e" d="M563.4 171.1l-4.5-0.6-1.8 2.6 4.5 0.6z"/><path color="#c2f730" d="M560.7 168l-4.5-0.6-1.8 2.5 4.5 0.6z"/><path color="#c2f730" d="M558.9 170.5l-4.5-0.6-1.8 2.5 4.5 0.6z"/><path class="m" d="M565.2 168.5l-4.5-0.6-4.5-0.6-1.8 2.5-1.8 2.5 4.5 0.6 4.5 0.6 1.8-2.6z"/><path color="#bcf732" d="M552.5 172.5l-4.5-0.6-1.9 2.6 4.5 0.6z"/><path color="#bcf732" d="M550.7 175l-4.5-0.6-1.9 2.6 4.5 0.6z"/><path color="#b7f734" d="M548 171.8l-4.5-0.6-1.9 2.5 4.5 0.6z"/><path color="#b6f734" d="M546.2 174.4l-4.5-0.6-1.9 2.6 4.5 0.6z"/><path class="m" d="M552.5 172.5l-4.5-0.6-4.5-0.6-1.9 2.5-1.9 2.6 4.5 0.6 4.5 0.6 1.8-2.6z"/><path color="#b0f837" d="M539.8 176.4l-4.5-0.6-1.9 2.6 4.5 0.7z"/><path color="#aff837" d="M537.9 179l-4.5-0.7-1.9 2.6 4.5 0.7z"/><path color="#abf838" d="M535.3 175.7l-4.5-0.6-1.9 2.6 4.5 0.6z"/><path color="#aaf838" d="M533.4 178.3l-4.5-0.6-1.9 2.6 4.5 0.7z"/><path class="m" d="M539.8 176.4l-4.5-0.6-4.5-0.6-1.9 2.6-1.9 2.6 4.5 0.7 4.5 0.7 1.9-2.6z"/><path color="#ddf425" d="M586.8 165.7l-4.5-0.6-1.8 2.5 4.5 0.6z"/><path color="#ddf425" d="M585 168.3l-4.5-0.6-1.8 2.6 4.5 0.6z"/><path color="#d8f527" d="M582.3 165.2l-4.5-0.5-1.8 2.5 4.5 0.6z"/><path color="#d8f527" d="M580.5 167.7l-4.5-0.6-1.8 2.6 4.5 0.6z"/><path class="m" d="M586.8 165.7l-4.5-0.6-4.5-0.5-1.8 2.5-1.8 2.6 4.5 0.6 4.5 0.6 1.8-2.6z"/><path color="#d3f529" d="M574.2 169.7l-4.5-0.6-1.8 2.6 4.5 0.6z"/><path color="#d3f52a" d="M572.4 172.3l-4.5-0.6-1.8 2.6 4.5 0.6z"/><path color="#cdf62c" d="M569.7 169.1l-4.5-0.6-1.8 2.6 4.5 0.6z"/><path color="#cdf62c" d="M567.9 171.7l-4.5-0.6-1.8 2.6 4.5 0.6z"/><path class="m" d="M574.2 169.7l-4.5-0.6-4.5-0.6-1.8 2.6-1.8 2.6 4.5 0.6 4.5 0.6 1.8-2.6z"/><path color="#c7f62e" d="M561.6 173.7l-4.5-0.6-1.8 2.6 4.5 0.6z"/><path color="#c6f62e" d="M559.7 176.3l-4.5-0.6-1.8 2.6 4.5 0.7z"/><path color="#c2f730" d="M557 173.1l-4.5-0.6-1.8 2.6 4.5 0.6z"/><path color="#c1f730" d="M555.2 175.7l-4.5-0.6-1.8 2.6 4.5 0.6z"/><path class="m" d="M561.6 173.7l-4.5-0.6-4.5-0.6-1.8 2.6-1.8 2.6 4.5 0.6 4.5 0.7 1.8-2.6z"/><path color="#bbf733" d="M548.8 177.6l-4.5-0.6-1.9 2.6 4.5 0.7z"/><path color="#baf733" d="M547 180.3l-4.5-0.7-1.9 2.7 4.5 0.7z"/><path color="#b5f835" d="M544.3 177l-4.5-0.6-1.9 2.6 4.5 0.7z"/><path color="#b4f835" d="M542.4 179.6l-4.5-0.7-1.9 2.6 4.5 0.7z"/><path class="m" d="M548.8 177.6l-4.5-0.6-4.5-0.6-1.9 2.6-1.9 2.6 4.5 0.7 4.5 0.7 1.8-2.7z"/><path color="#aef837" d="M536 181.6l-4.5-0.7-1.9 2.6 4.6 0.7z"/><path color="#adf838" d="M534.2 184.3l-4.6-0.7-1.9 2.7 4.6 0.7z"/><path color="#a9f838" d="M531.5 180.9l-4.5-0.7-1.9 2.6 4.5 0.7z"/><path color="#a8f839" d="M529.6 183.6l-4.5-0.7-1.9 2.7 4.6 0.7z"/><path class="m" d="M536 181.6l-4.5-0.7-4.5-0.7-1.9 2.6-1.9 2.7 4.6 0.7 4.6 0.7 1.9-2.7z"/><path color="#d2f52a" d="M570.6 174.9l-4.5-0.6-1.8 2.6 4.5 0.6z"/><path color="#d1f52a" d="M568.8 177.6l-4.5-0.6-1.8 2.7 4.5 0.7z"/><path color="#ccf62c" d="M566.1 174.3l-4.5-0.6-1.8 2.6 4.5 0.6z"/><path color="#cbf62c" d="M564.3 176.9l-4.5-0.6-1.8 2.6 4.5 0.7z"/><path class="m" d="M570.6 174.9l-4.5-0.6-4.5-0.6-1.8 2.6-1.8 2.6 4.5 0.7 4.5 0.7 1.8-2.7z"/><path color="#c5f62f" d="M557.9 178.9l-4.5-0.7-1.8 2.7 4.5 0.7z"/><path color="#c4f62f" d="M556.1 181.6l-4.5-0.7-1.8 2.7 4.6 0.7z"/><path color="#c0f731" d="M553.4 178.3l-4.5-0.6-1.8 2.6 4.5 0.7z"/><path color="#bff731" d="M551.5 180.9l-4.5-0.7-1.8 2.7 4.6 0.7z"/><path class="m" d="M557.9 178.9l-4.5-0.7-4.5-0.6-1.8 2.6-1.8 2.7 4.6 0.7 4.6 0.7 1.8-2.7z"/><path color="#dcf425" d="M583.2 170.9l-4.5-0.6-1.8 2.6 4.5 0.6z"/><path color="#dcf426" d="M581.4 173.5l-4.5-0.6-1.8 2.6 4.5 0.6z"/><path color="#d8f527" d="M578.7 170.3l-4.5-0.6-1.8 2.6 4.5 0.6z"/><path color="#d8f528" d="M576.9 172.9l-4.5-0.6-1.8 2.6 4.5 0.6z"/><path class="m" d="M583.2 170.9l-4.5-0.6-4.5-0.6-1.8 2.6-1.8 2.6 4.5 0.6 4.5 0.6 1.8-2.7z"/><path color="#b8f734" d="M545.1 182.9l-4.5-0.7-1.9 2.7 4.6 0.7z"/><path color="#b6f734" d="M543.3 185.7l-4.6-0.7-1.9 2.7 4.6 0.7z"/><path color="#b3f835" d="M540.6 182.3l-4.5-0.7-1.9 2.7 4.6 0.7z"/><path color="#b1f836" d="M538.7 184.9l-4.6-0.7-1.9 2.7 4.6 0.7z"/><path class="m" d="M545.1 182.9l-4.5-0.7-4.5-0.7-1.9 2.7-1.9 2.7 4.6 0.7 4.6 0.7 1.8-2.7z"/><path color="#dbf426" d="M579.7 176.2l-4.5-0.6-1.8 2.7 4.5 0.7z"/><path color="#daf527" d="M577.9 178.9l-4.5-0.7-1.8 2.7 4.6 0.7z"/><path color="#d7f528" d="M575.1 175.5l-4.5-0.6-1.8 2.7 4.5 0.6z"/><path color="#d6f528" d="M573.3 178.2l-4.5-0.6-1.8 2.7 4.5 0.7z"/><path class="m" d="M579.7 176.2l-4.5-0.6-4.5-0.6-1.8 2.7-1.8 2.7 4.5 0.7 4.6 0.7 1.8-2.7z"/><path color="#cff62b" d="M567 180.3l-4.5-0.7-1.8 2.7 4.6 0.7z"/><path color="#cef62b" d="M565.2 183l-4.6-0.7-1.8 2.7 4.6 0.7z"/><path color="#caf62d" d="M562.4 179.6l-4.5-0.7-1.8 2.7 4.6 0.7z"/><path color="#c9f62d" d="M560.6 182.3l-4.6-0.7-1.8 2.7 4.6 0.7z"/><path class="m" d="M567 180.3l-4.5-0.7-4.5-0.7-1.8 2.7-1.8 2.7 4.6 0.7 4.6 0.7 1.8-2.8z"/><path color="#c2f730" d="M554.3 184.3l-4.6-0.7-1.8 2.7 4.6 0.7z"/><path color="#c0f731" d="M552.4 187.1l-4.6-0.7-1.8 2.8 4.6 0.7z"/><path color="#bdf732" d="M549.7 183.6l-4.6-0.7-1.8 2.7 4.6 0.7z"/><path color="#bbf732" d="M547.9 186.4l-4.6-0.7-1.8 2.7 4.6 0.7z"/><path class="m" d="M554.3 184.3l-4.6-0.7-4.6-0.7-1.8 2.7-1.8 2.7 4.6 0.7 4.6 0.7 1.8-2.8z"/><path color="#d9f527" d="M576.1 181.6l-4.6-0.7-1.8 2.7 4.6 0.7z"/><path color="#d7f528" d="M574.3 184.4l-4.6-0.7-1.8 2.8 4.6 0.7z"/><path color="#d4f529" d="M571.5 180.9l-4.5-0.7-1.8 2.7 4.6 0.7z"/><path color="#d3f52a" d="M569.7 183.7l-4.6-0.7-1.8 2.8 4.6 0.7z"/><path class="m" d="M576.1 181.6l-4.6-0.7-4.5-0.7-1.8 2.7-1.8 2.8 4.6 0.7 4.6 0.7 1.8-2.8z"/><path color="#ccf62c" d="M563.4 185.7l-4.6-0.7-1.8 2.8 4.6 0.7z"/><path color="#caf62d" d="M561.6 188.5l-4.6-0.7-1.8 2.8 4.6 0.7z"/><path color="#c7f62e" d="M558.8 185l-4.6-0.7-1.8 2.7 4.6 0.7z"/><path color="#c5f62f" d="M557 187.8l-4.6-0.7-1.8 2.8 4.6 0.7z"/><path class="m" d="M563.4 185.7l-4.6-0.7-4.6-0.7-1.8 2.7-1.8 2.8 4.6 0.7 4.6 0.7 1.8-2.8z"/><path color="#d5f529" d="M572.5 187.1l-4.6-0.7-1.8 2.8 4.6 0.7z"/><path color="#d3f529" d="M570.7 190l-4.6-0.7-1.8 2.8 4.6 0.8z"/><path color="#d1f52a" d="M567.9 186.4l-4.6-0.7-1.8 2.8 4.6 0.7z"/><path color="#cef62b" d="M566.1 189.2l-4.6-0.7-1.8 2.8 4.6 0.7z"/><path class="m" d="M572.5 187.1l-4.6-0.7-4.6-0.7-1.8 2.8-1.8 2.8 4.6 0.7 4.6 0.8 1.8-2.9z"/></g>
<circle cx="478.13" cy="105.2" r="2.8" fill="#c00000" stroke="#700000" stroke-width="0.5"/>
<line x1="517.86" y1="119.6" x2="517.86" y2="135.37" stroke="#8a8a6a" stroke-width="0.7"/>
<circle cx="517.86" cy="119.6" r="2.8" fill="#c00000" stroke="#700000" stroke-width="0.5"/>
<line x1="570.18" y1="163.05" x2="568.94" y2="192.83" stroke="#8a8a6a" stroke-width="0.7"/>
<circle cx="570.18" cy="163.05" r="2.8" fill="#c00000" stroke="#700000" stroke-width="0.5"/>
<g fill="#000"><circle cx="382.4" cy="104.7" r="1.3"/><circle cx="385.3" cy="133.8" r="1.3"/><circle cx="388.21" cy="162.89" r="1.3"/><circle cx="391.11" cy="191.99" r="1.3"/><circle cx="394.02" cy="221.08" r="1.3"/><circle cx="564" cy="311.5" r="1.3"/><circle cx="522.38" cy="297.62" r="1.3"/><circle cx="480.75" cy="283.75" r="1.3"/><circle cx="439.12" cy="269.88" r="1.3"/><circle cx="397.5" cy="256" r="1.3"/><circle cx="630.2" cy="201.4" r="1.3"/><circle cx="616.96" cy="223.42" r="1.3"/><circle cx="603.72" cy="245.44" r="1.3"/><circle cx="590.48" cy="267.46" r="1.3"/><circle cx="577.24" cy="289.48" r="1.3"/><circle cx="564" cy="311.5" r="1.3"/></g>
<!-- legend a -->
<rect x="14" y="1.5" width="88.5" height="46" fill="#fff" stroke="#c8c8c8" stroke-width="1"/>
<text class="s" x="15.6" y="25.7" font-size="10" font-weight="bold" fill="#111">Smoke (BSU)</text>
<text class="s" x="15.6" y="39.8" font-size="10" fill="#3b3bff">3.8</text>
<rect x="37" y="31" width="31" height="12" fill="url(#lg)" stroke="#400" stroke-width="0.4"/>
<text class="s" x="71.5" y="39.8" font-size="10" fill="#ff2a2a">28.8</text>
<!-- legend b -->
<rect x="348.5" y="2.5" width="89" height="46.5" fill="#fff" stroke="#c8c8c8" stroke-width="1"/>
<text class="s" x="350.3" y="27.3" font-size="10" font-weight="bold" fill="#111">Smoke (BSU)</text>
<text class="s" x="350.3" y="41" font-size="10" fill="#3b3bff">6.66</text>
<rect x="371.6" y="32.1" width="32" height="12.4" fill="url(#lg)" stroke="#400" stroke-width="0.4"/>
<text class="s" x="406.5" y="41" font-size="10" fill="#ff2a2a">37.8</text>
<!-- axis labels a -->
<g class="t" font-size="8.6">
<text x="36.6" y="96.9" text-anchor="end">30</text>
<text x="38.1" y="116" text-anchor="end">25</text>
<text x="40.1" y="135.1" text-anchor="end">20</text>
<text x="42.2" y="154.4" text-anchor="end">15</text>
<text x="44.2" y="174" text-anchor="end">10</text>
<text x="45.3" y="193.1" text-anchor="end">5</text>
<text x="46.9" y="212" text-anchor="end">0</text>
<text x="51.6" y="257.5" text-anchor="end">20</text>
<text x="90.2" y="273.4" text-anchor="end">30</text>
<text x="128.7" y="290.2" text-anchor="end">40</text>
<text x="167.8" y="306.8" text-anchor="end">50</text>
<text x="206" y="323.1" text-anchor="end">60</text>
<text x="214" y="323">50</text>
<text x="230.7" y="302.2">60</text>
<text x="247.8" y="281.9">70</text>
<text x="264.1" y="260.8">80</text>
<text x="281.2" y="239.4">90</text>
<text x="298.6" y="218.4">100</text>
</g>
<g class="t" font-size="11.8" fill="#262626">
<text x="52.3" y="326.9" textLength="92" lengthAdjust="spacingAndGlyphs">B: AOME Blend (%)</text>
<text x="270.2" y="290" textLength="66.8" lengthAdjust="spacingAndGlyphs">C: CuO (ppm)</text>
<text transform="translate(8.9,209.0) rotate(-90)" font-size="9.8" textLength="63.2" lengthAdjust="spacingAndGlyphs">Smoke (BSU)</text>
</g>
<!-- axis labels b -->
<g class="t" font-size="8.6">
<text x="378.9" y="102.2" text-anchor="end">40</text>
<text x="381" y="131" text-anchor="end">30</text>
<text x="383.9" y="160.6" text-anchor="end">20</text>
<text x="386.5" y="190.2" text-anchor="end">10</text>
<text x="389.1" y="218.5" text-anchor="end">0</text>
<text x="393.7" y="264.8" text-anchor="end">60</text>
<text x="435.5" y="278.6" text-anchor="end">50</text>
<text x="476.9" y="292.4" text-anchor="end">40</text>
<text x="518.7" y="306.5" text-anchor="end">30</text>
<text x="560.4" y="320.3" text-anchor="end">20</text>
<text x="634.9" y="209.8">50</text>
<text x="621.6" y="232.4">60</text>
<text x="607.9" y="254.7">70</text>
<text x="594.6" y="277">80</text>
<text x="581.3" y="299">90</text>
<text x="568.7" y="320.4">100</text>
</g>
<g class="t" font-size="11.8" fill="#262626">
<text x="404.8" y="331.4" textLength="93.4" lengthAdjust="spacingAndGlyphs">B: AOME Blend (%)</text>
<text x="617.3" y="280.2" textLength="66.6" lengthAdjust="spacingAndGlyphs">C: CuO (ppm)</text>
<text transform="translate(349.6,216.9) rotate(-90)" font-size="9.8" textLength="65.6" lengthAdjust="spacingAndGlyphs">Smoke (BSU)</text>
</g>
<text class="s" x="106.1" y="385.3" font-size="19" fill="#000">(a)</text>
<text class="s" x="581.1" y="385.3" font-size="19" fill="#000">(b)</text>
</svg>
</body></html>
